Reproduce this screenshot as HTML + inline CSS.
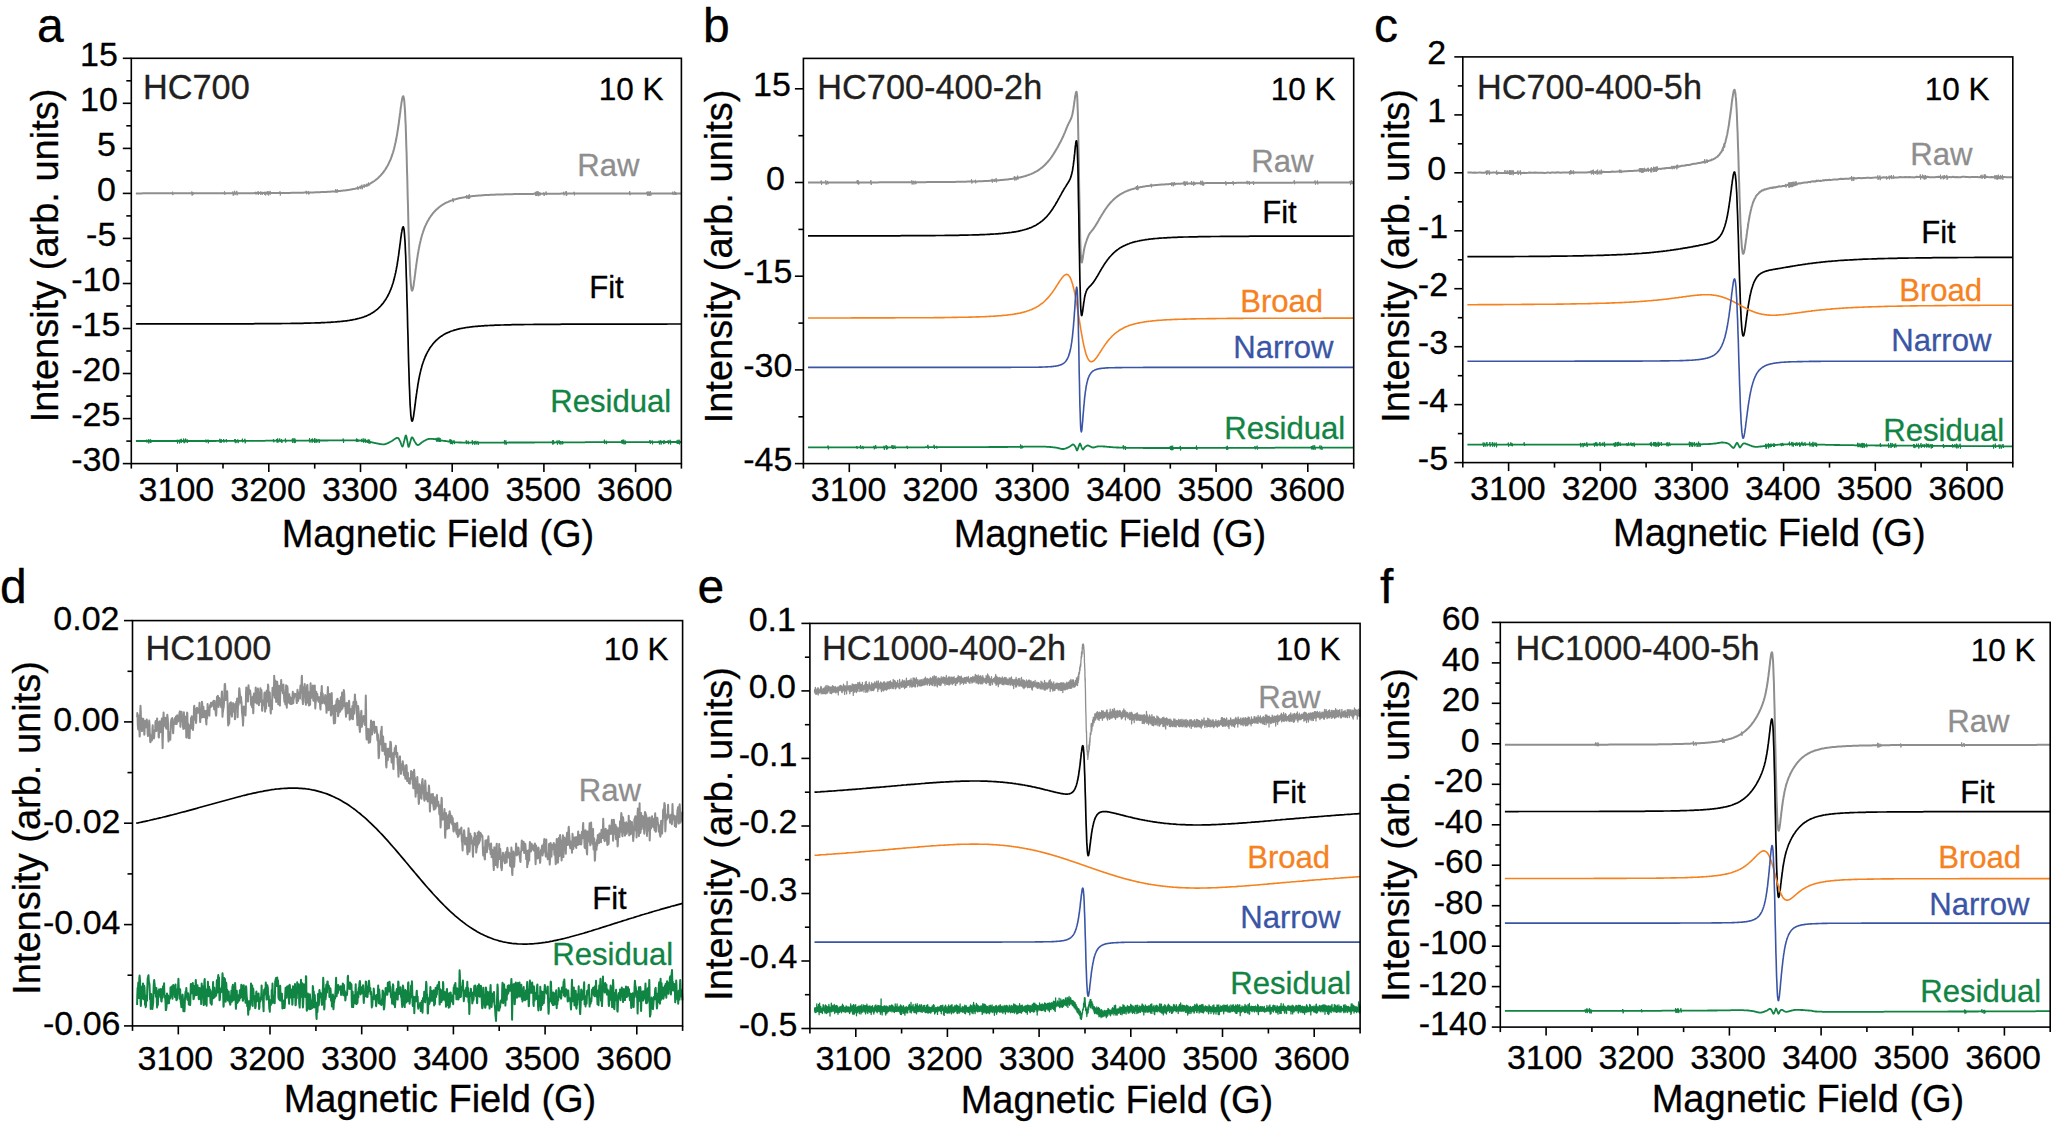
<!DOCTYPE html>
<html><head><meta charset="utf-8"><title>EPR spectra</title><style>html,body{margin:0;padding:0;background:#fff}svg{display:block}text{stroke-width:0.3px;stroke-linejoin:round}</style></head><body>
<svg width="2051" height="1124" viewBox="0 0 2051 1124" font-family='"Liberation Sans", sans-serif'>
<rect width="2051" height="1124" fill="#fff"/>
<g id="panel-a"><path d="M135.9 193.4L137.7 193.4L139.6 193.4L141.4 193.4L143.2 193.3L145.1 193.3L146.9 193.3L148.7 193.3L150.6 193.3L152.4 193.3L154.2 193.3L156.1 193.3L157.9 193.3L159.7 193.3L161.6 193.3L163.4 193.3L165.2 193.3L167.1 193.3L168.9 193.3L170.7 193.3L172.6 193.3L174.4 193.3L176.2 193.3L178.1 193.3L179.9 193.3L181.7 193.3L183.6 193.3L185.4 193.3L187.2 193.3L189.1 193.3L190.9 193.3L192.7 193.3L194.6 193.3L196.4 193.3L198.2 193.3L200.1 193.3L201.9 193.3L203.7 193.3L205.6 193.3L207.4 193.3L209.2 193.3L211.1 193.3L212.9 193.3L214.7 193.3L216.6 193.3L218.4 193.3L220.2 193.3L222.1 193.3L223.9 193.3L225.7 193.2L227.6 193.2L229.4 193.2L231.2 193.2L233.1 193.2L234.9 193.2L236.7 193.2L238.6 193.2L240.4 193.2L242.2 193.2L244.1 193.2L245.9 193.2L247.7 193.2L249.6 193.2L251.4 193.2L253.2 193.2L255.1 193.1L256.9 193.1L258.7 193.1L260.6 193.1L262.4 193.1L264.2 193.1L266.1 193.1L267.9 193.1L269.7 193.1L271.6 193.0L273.4 193.0L275.2 193.0L277.1 193.0L278.9 193.0L280.7 193.0L282.6 192.9L284.4 192.9L286.2 192.9L288.1 192.9L289.9 192.9L291.7 192.8L293.6 192.8L295.4 192.8L297.2 192.8L299.1 192.7L300.9 192.7L302.7 192.7L304.6 192.6L306.4 192.6L308.2 192.5L310.1 192.5L311.9 192.4L313.7 192.4L315.6 192.3L317.4 192.3L318.3 192.2L319.3 192.2L320.2 192.2L321.1 192.1L322.0 192.1L322.9 192.0L323.8 192.0L324.8 192.0L325.7 191.9L326.6 191.9L327.5 191.8L328.4 191.8L329.3 191.7L330.3 191.7L331.2 191.6L332.1 191.6L333.0 191.5L333.9 191.4L334.8 191.4L335.8 191.3L336.7 191.2L337.6 191.1L338.5 191.1L339.4 191.0L340.3 190.9L341.3 190.8L342.2 190.7L343.1 190.6L344.0 190.5L344.9 190.4L345.8 190.3L346.8 190.2L347.7 190.0L348.6 189.9L349.5 189.8L350.4 189.6L351.3 189.5L352.3 189.3L353.2 189.1L354.1 188.9L355.0 188.8L355.9 188.6L356.8 188.3L357.8 188.1L358.7 187.9L359.6 187.6L360.5 187.4L361.4 187.1L362.3 186.8L363.3 186.5L364.2 186.2L365.1 185.8L366.0 185.5L366.9 185.1L367.8 184.7L368.8 184.2L369.7 183.8L370.6 183.3L371.5 182.7L372.0 182.5L372.4 182.2L372.9 181.9L373.3 181.6L373.8 181.3L374.3 181.0L374.7 180.7L375.2 180.3L375.6 180.0L376.1 179.6L376.6 179.2L377.0 178.9L377.5 178.5L377.9 178.1L378.4 177.7L378.8 177.2L379.3 176.8L379.8 176.3L380.2 175.9L380.7 175.4L381.1 174.9L381.6 174.3L382.1 173.8L382.5 173.3L383.0 172.7L383.4 172.1L383.9 171.5L384.3 170.8L384.8 170.2L385.3 169.5L385.7 168.8L386.2 168.1L386.6 167.3L387.1 166.5L387.6 165.7L388.0 164.8L388.5 163.9L388.9 163.0L389.4 162.0L389.8 161.0L390.3 160.0L390.8 158.8L391.2 157.7L391.7 156.4L392.1 155.1L392.6 153.7L393.1 152.2L393.5 150.7L394.0 149.0L394.4 147.2L394.9 145.3L395.1 144.3L395.3 143.3L395.6 142.3L395.8 141.2L396.0 140.0L396.3 138.8L396.5 137.6L396.7 136.4L397.0 135.1L397.2 133.7L397.4 132.4L397.6 130.9L397.9 129.5L398.1 127.9L398.3 126.4L398.6 124.8L398.8 123.1L399.0 121.5L399.2 119.8L399.5 118.0L399.7 116.3L399.9 114.5L400.2 112.7L400.4 110.9L400.6 109.2L400.8 107.4L401.1 105.7L401.3 104.1L401.5 102.5L401.8 101.1L402.0 99.8L402.2 98.6L402.5 97.6L402.7 96.9L402.9 96.4L403.1 96.2L403.4 96.4L403.6 97.0L403.8 97.9L404.1 99.4L404.3 101.4L404.5 103.9L404.7 106.9L405.0 110.6L405.2 114.9L405.4 119.9L405.7 125.4L405.9 131.6L406.1 138.4L406.3 145.7L406.6 153.4L406.8 161.7L407.0 170.2L407.3 179.0L407.5 188.0L407.7 197.0L408.0 206.0L408.2 214.8L408.4 223.5L408.6 231.7L408.9 239.6L409.1 247.0L409.3 253.9L409.6 260.2L409.8 265.9L410.0 270.9L410.2 275.4L410.5 279.2L410.7 282.4L410.9 285.0L411.2 287.1L411.4 288.6L411.6 289.7L411.9 290.3L412.1 290.6L412.3 290.4L412.5 290.0L412.8 289.3L413.0 288.4L413.2 287.3L413.5 286.0L413.7 284.6L413.9 283.0L414.1 281.4L414.4 279.7L414.6 278.0L414.8 276.2L415.1 274.4L415.3 272.7L415.5 270.9L415.7 269.1L416.0 267.4L416.2 265.7L416.4 264.0L416.7 262.3L416.9 260.7L417.1 259.2L417.4 257.6L417.6 256.2L417.8 254.7L418.0 253.3L418.3 252.0L418.5 250.7L418.7 249.4L419.0 248.2L419.2 247.0L419.4 245.9L419.6 244.8L419.9 243.7L420.1 242.7L420.3 241.7L420.6 240.7L421.0 238.8L421.5 237.1L421.9 235.5L422.4 234.0L422.9 232.5L423.3 231.2L423.8 229.9L424.2 228.7L424.7 227.5L425.1 226.4L425.6 225.4L426.1 224.4L426.5 223.4L427.0 222.5L427.4 221.6L427.9 220.8L428.4 220.0L428.8 219.2L429.3 218.4L429.7 217.7L430.2 217.0L430.6 216.4L431.1 215.7L431.6 215.1L432.0 214.5L432.5 213.9L432.9 213.3L433.4 212.8L433.9 212.2L434.3 211.7L434.8 211.2L435.2 210.8L435.7 210.3L436.1 209.8L436.6 209.4L437.1 209.0L437.5 208.6L438.0 208.2L438.4 207.8L438.9 207.4L439.4 207.0L439.8 206.7L440.3 206.3L440.7 206.0L441.2 205.7L441.6 205.4L442.1 205.1L442.6 204.8L443.0 204.5L443.5 204.2L443.9 203.9L444.4 203.7L445.3 203.2L446.2 202.7L447.1 202.3L448.1 201.9L449.0 201.5L449.9 201.1L450.8 200.7L451.7 200.4L452.7 200.1L453.6 199.8L454.5 199.5L455.4 199.2L456.3 199.0L457.2 198.7L458.2 198.5L459.1 198.3L460.0 198.1L460.9 197.9L461.8 197.7L462.7 197.6L463.7 197.4L464.6 197.2L465.5 197.1L466.4 196.9L467.3 196.8L468.2 196.7L469.2 196.6L470.1 196.4L471.0 196.3L471.9 196.2L472.8 196.1L473.7 196.0L474.7 195.9L475.6 195.8L476.5 195.8L477.4 195.7L478.3 195.6L479.2 195.5L480.2 195.5L481.1 195.4L482.0 195.3L482.9 195.3L483.8 195.2L484.7 195.1L485.7 195.1L486.6 195.0L487.5 195.0L488.4 194.9L489.3 194.9L490.2 194.8L491.2 194.8L492.1 194.8L493.0 194.7L493.9 194.7L494.8 194.7L495.7 194.6L496.7 194.6L497.6 194.5L498.5 194.5L499.4 194.5L501.2 194.4L503.1 194.4L504.9 194.3L506.7 194.3L508.6 194.2L510.4 194.2L512.2 194.2L514.1 194.1L515.9 194.1L517.7 194.1L519.6 194.0L521.4 194.0L523.2 194.0L525.1 193.9L526.9 193.9L528.7 193.9L530.6 193.9L532.4 193.9L534.2 193.8L536.1 193.8L537.9 193.8L539.7 193.8L541.6 193.8L543.4 193.8L545.3 193.7L547.1 193.7L548.9 193.7L550.8 193.7L552.6 193.7L554.4 193.7L556.3 193.7L558.1 193.7L559.9 193.7L561.8 193.6L563.6 193.6L565.4 193.6L567.3 193.6L569.1 193.6L570.9 193.6L572.8 193.6L574.6 193.6L576.4 193.6L578.3 193.6L580.1 193.6L581.9 193.6L583.8 193.6L585.6 193.6L587.4 193.6L589.3 193.6L591.1 193.5L592.9 193.5L594.8 193.5L596.6 193.5L598.4 193.5L600.3 193.5L602.1 193.5L603.9 193.5L605.8 193.5L607.6 193.5L609.4 193.5L611.3 193.5L613.1 193.5L614.9 193.5L616.8 193.5L618.6 193.5L620.4 193.5L622.3 193.5L624.1 193.5L625.9 193.5L627.8 193.5L629.6 193.5L631.4 193.5L633.3 193.5L635.1 193.5L636.9 193.5L638.8 193.5L640.6 193.5L642.4 193.5L644.3 193.5L646.1 193.5L647.9 193.5L649.8 193.5L651.6 193.5L653.4 193.5L655.3 193.5L657.1 193.5L658.9 193.5L660.8 193.5L662.6 193.5L664.4 193.5L666.3 193.5L668.1 193.5L669.9 193.5L671.8 193.5L673.6 193.4L675.4 193.4L677.3 193.4L679.1 193.4L680.9 193.4L681.4 193.4" fill="none" stroke="#8E8E8E" stroke-width="2.0" stroke-linejoin="round" stroke-linecap="butt"/>
<path d="M646.6 193.5L647.1 191.8L647.4 195.4L647.9 193.5M648.4 193.5L648.9 191.4L649.2 195.8L649.7 193.5M305.8 192.6L306.3 190.8L306.6 194.2L307.1 192.6M308.0 192.5L308.5 191.1L308.8 194.5L309.3 192.5M279.5 193.0L280.0 191.3L280.3 195.5L280.8 193.0M261.4 193.1L261.9 191.7L262.2 194.9L262.7 193.1M263.8 193.1L264.3 191.8L264.6 194.8L265.1 193.1M264.9 193.1L265.4 191.8L265.7 195.4L266.2 193.1M563.2 193.6L563.7 191.8L564.0 195.3L564.5 193.6M565.8 193.6L566.3 191.3L566.6 195.8L567.1 193.6M257.6 193.1L258.1 191.3L258.4 194.9L258.9 193.1M573.6 193.6L574.1 191.8L574.4 195.4L574.9 193.6M534.9 193.8L535.4 192.0L535.7 195.9L536.2 193.8M537.4 193.8L537.9 191.3L538.2 196.2L538.7 193.8M539.4 193.8L539.9 192.4L540.2 195.4L540.7 193.8M368.0 184.4L368.5 182.5L368.8 186.1L369.3 184.4M629.2 193.5L629.7 191.0L630.0 195.2L630.5 193.5M565.5 193.6L566.0 191.3L566.3 195.6L566.8 193.6M224.0 193.3L224.5 191.3L224.8 194.7L225.3 193.3M543.3 193.8L543.8 192.4L544.1 196.0L544.6 193.8M545.6 193.7L546.1 191.5L546.4 195.1L546.9 193.7M357.2 188.1L357.7 186.4L358.0 189.8L358.5 188.1M359.7 187.5L360.2 185.7L360.5 189.1L361.0 187.5M672.3 193.4L672.8 191.7L673.1 194.9L673.6 193.4M674.2 193.4L674.7 191.4L675.0 195.0L675.5 193.4M675.3 193.4L675.8 192.0L676.1 194.8L676.6 193.4M255.2 193.1L255.7 191.8L256.0 194.6L256.5 193.1M257.5 193.1L258.0 191.7L258.3 194.6L258.8 193.1M259.9 193.1L260.4 191.5L260.7 194.7L261.2 193.1M361.4 187.0L361.9 184.7L362.2 189.3L362.7 187.0M363.7 186.2L364.2 184.2L364.5 187.6L365.0 186.2M366.1 185.2L366.6 183.7L366.9 186.9L367.4 185.2M647.1 193.5L647.6 191.7L647.9 195.9L648.4 193.5M648.6 193.5L649.1 192.1L649.4 195.5L649.9 193.5M650.0 193.5L650.5 191.2L650.8 195.8L651.3 193.5M452.4 200.0L452.9 198.2L453.2 202.2L453.7 200.0M535.8 193.8L536.3 191.4L536.6 196.0L537.1 193.8M537.5 193.8L538.0 191.5L538.3 195.4L538.8 193.8M538.6 193.8L539.1 192.5L539.4 195.4L539.9 193.8M466.1 196.9L466.6 195.1L466.9 198.8L467.4 196.9M467.7 196.7L468.2 195.3L468.5 199.0L469.0 196.7M468.8 196.5L469.3 194.2L469.6 198.7L470.1 196.5M266.8 193.1L267.3 191.1L267.6 194.6L268.1 193.1M267.9 193.1L268.4 191.4L268.7 195.5L269.2 193.1M269.6 193.1L270.1 190.9L270.4 194.5L270.9 193.1M172.0 193.3L172.5 191.7L172.8 195.1L173.3 193.3M192.3 193.3L192.8 192.0L193.1 194.8L193.6 193.3M335.2 191.3L335.7 189.2L336.0 192.9L336.5 191.3M336.8 191.2L337.3 189.3L337.6 192.5L338.1 191.2M191.3 193.3L191.8 191.5L192.1 195.6L192.6 193.3M232.4 193.2L232.9 191.5L233.2 195.7L233.7 193.2M234.2 193.2L234.7 190.8L235.0 195.1L235.5 193.2M236.3 193.2L236.8 190.9L237.1 195.3L237.6 193.2" fill="none" stroke="#8E8E8E" stroke-width="1.0" stroke-linejoin="round"/>
<path d="M135.9 324.0L137.7 323.9L139.6 323.9L141.4 323.9L143.2 323.9L145.1 323.9L146.9 323.9L148.7 323.9L150.6 323.9L152.4 323.9L154.2 323.9L156.1 323.9L157.9 323.9L159.7 323.9L161.6 323.9L163.4 323.9L165.2 323.9L167.1 323.9L168.9 323.9L170.7 323.9L172.6 323.9L174.4 323.9L176.2 323.9L178.1 323.9L179.9 323.9L181.7 323.9L183.6 323.9L185.4 323.9L187.2 323.9L189.1 323.9L190.9 323.9L192.7 323.9L194.6 323.9L196.4 323.9L198.2 323.9L200.1 323.9L201.9 323.9L203.7 323.9L205.6 323.9L207.4 323.9L209.2 323.9L211.1 323.9L212.9 323.9L214.7 323.9L216.6 323.9L218.4 323.9L220.2 323.9L222.1 323.9L223.9 323.8L225.7 323.8L227.6 323.8L229.4 323.8L231.2 323.8L233.1 323.8L234.9 323.8L236.7 323.8L238.6 323.8L240.4 323.8L242.2 323.8L244.1 323.8L245.9 323.8L247.7 323.8L249.6 323.8L251.4 323.8L253.2 323.8L255.1 323.7L256.9 323.7L258.7 323.7L260.6 323.7L262.4 323.7L264.2 323.7L266.1 323.7L267.9 323.7L269.7 323.7L271.6 323.6L273.4 323.6L275.2 323.6L277.1 323.6L278.9 323.6L280.7 323.6L282.6 323.5L284.4 323.5L286.2 323.5L288.1 323.5L289.9 323.5L291.7 323.4L293.6 323.4L295.4 323.4L297.2 323.4L299.1 323.3L300.9 323.3L302.7 323.3L304.6 323.2L306.4 323.2L308.2 323.1L310.1 323.1L311.9 323.0L313.7 323.0L315.6 322.9L317.4 322.9L318.3 322.8L319.3 322.8L320.2 322.8L321.1 322.7L322.0 322.7L322.9 322.6L323.8 322.6L324.8 322.6L325.7 322.5L326.6 322.5L327.5 322.4L328.4 322.4L329.3 322.3L330.3 322.3L331.2 322.2L332.1 322.2L333.0 322.1L333.9 322.0L334.8 322.0L335.8 321.9L336.7 321.8L337.6 321.7L338.5 321.7L339.4 321.6L340.3 321.5L341.3 321.4L342.2 321.3L343.1 321.2L344.0 321.1L344.9 321.0L345.8 320.9L346.8 320.8L347.7 320.6L348.6 320.5L349.5 320.4L350.4 320.2L351.3 320.1L352.3 319.9L353.2 319.7L354.1 319.5L355.0 319.4L355.9 319.2L356.8 318.9L357.8 318.7L358.7 318.5L359.6 318.2L360.5 318.0L361.4 317.7L362.3 317.4L363.3 317.1L364.2 316.8L365.1 316.4L366.0 316.1L366.9 315.7L367.8 315.3L368.8 314.8L369.7 314.4L370.6 313.9L371.5 313.3L372.0 313.1L372.4 312.8L372.9 312.5L373.3 312.2L373.8 311.9L374.3 311.6L374.7 311.3L375.2 310.9L375.6 310.6L376.1 310.2L376.6 309.8L377.0 309.5L377.5 309.1L377.9 308.7L378.4 308.3L378.8 307.8L379.3 307.4L379.8 306.9L380.2 306.5L380.7 306.0L381.1 305.5L381.6 304.9L382.1 304.4L382.5 303.8L383.0 303.3L383.4 302.7L383.9 302.1L384.3 301.4L384.8 300.8L385.3 300.1L385.7 299.4L386.2 298.7L386.6 297.9L387.1 297.1L387.6 296.3L388.0 295.4L388.5 294.5L388.9 293.6L389.4 292.6L389.8 291.6L390.3 290.5L390.8 289.4L391.2 288.2L391.7 287.0L392.1 285.7L392.6 284.3L393.1 282.8L393.5 281.3L394.0 279.6L394.4 277.8L394.9 275.9L395.1 274.9L395.3 273.9L395.6 272.9L395.8 271.8L396.0 270.6L396.3 269.4L396.5 268.2L396.7 267.0L397.0 265.7L397.2 264.3L397.4 263.0L397.6 261.5L397.9 260.1L398.1 258.5L398.3 257.0L398.6 255.4L398.8 253.7L399.0 252.1L399.2 250.4L399.5 248.6L399.7 246.9L399.9 245.1L400.2 243.3L400.4 241.5L400.6 239.8L400.8 238.0L401.1 236.3L401.3 234.7L401.5 233.1L401.8 231.7L402.0 230.4L402.2 229.2L402.5 228.2L402.7 227.5L402.9 227.0L403.1 226.8L403.4 227.0L403.6 227.6L403.8 228.5L404.1 230.0L404.3 232.0L404.5 234.5L404.7 237.5L405.0 241.2L405.2 245.5L405.4 250.5L405.7 256.0L405.9 262.2L406.1 269.0L406.3 276.3L406.6 284.0L406.8 292.3L407.0 300.8L407.3 309.6L407.5 318.6L407.7 327.6L408.0 336.6L408.2 345.4L408.4 354.1L408.6 362.3L408.9 370.2L409.1 377.6L409.3 384.5L409.6 390.8L409.8 396.5L410.0 401.5L410.2 405.9L410.5 409.8L410.7 413.0L410.9 415.6L411.2 417.6L411.4 419.2L411.6 420.3L411.9 420.9L412.1 421.2L412.3 421.0L412.5 420.6L412.8 419.9L413.0 419.0L413.2 417.9L413.5 416.6L413.7 415.2L413.9 413.6L414.1 412.0L414.4 410.3L414.6 408.6L414.8 406.8L415.1 405.0L415.3 403.3L415.5 401.5L415.7 399.7L416.0 398.0L416.2 396.3L416.4 394.6L416.7 392.9L416.9 391.3L417.1 389.8L417.4 388.2L417.6 386.8L417.8 385.3L418.0 383.9L418.3 382.6L418.5 381.3L418.7 380.0L419.0 378.8L419.2 377.6L419.4 376.5L419.6 375.4L419.9 374.3L420.1 373.3L420.3 372.2L420.6 371.3L421.0 369.4L421.5 367.7L421.9 366.1L422.4 364.6L422.9 363.1L423.3 361.8L423.8 360.5L424.2 359.3L424.7 358.1L425.1 357.0L425.6 356.0L426.1 355.0L426.5 354.0L427.0 353.1L427.4 352.2L427.9 351.4L428.4 350.6L428.8 349.8L429.3 349.0L429.7 348.3L430.2 347.6L430.6 347.0L431.1 346.3L431.6 345.7L432.0 345.1L432.5 344.5L432.9 343.9L433.4 343.4L433.9 342.8L434.3 342.3L434.8 341.8L435.2 341.4L435.7 340.9L436.1 340.4L436.6 340.0L437.1 339.6L437.5 339.2L438.0 338.8L438.4 338.4L438.9 338.0L439.4 337.6L439.8 337.3L440.3 336.9L440.7 336.6L441.2 336.3L441.6 336.0L442.1 335.7L442.6 335.4L443.0 335.1L443.5 334.8L443.9 334.5L444.4 334.3L445.3 333.8L446.2 333.3L447.1 332.9L448.1 332.4L449.0 332.1L449.9 331.7L450.8 331.3L451.7 331.0L452.7 330.7L453.6 330.4L454.5 330.1L455.4 329.8L456.3 329.6L457.2 329.3L458.2 329.1L459.1 328.9L460.0 328.7L460.9 328.5L461.8 328.3L462.7 328.2L463.7 328.0L464.6 327.8L465.5 327.7L466.4 327.5L467.3 327.4L468.2 327.3L469.2 327.2L470.1 327.0L471.0 326.9L471.9 326.8L472.8 326.7L473.7 326.6L474.7 326.5L475.6 326.4L476.5 326.4L477.4 326.3L478.3 326.2L479.2 326.1L480.2 326.1L481.1 326.0L482.0 325.9L482.9 325.9L483.8 325.8L484.7 325.7L485.7 325.7L486.6 325.6L487.5 325.6L488.4 325.5L489.3 325.5L490.2 325.4L491.2 325.4L492.1 325.4L493.0 325.3L493.9 325.3L494.8 325.2L495.7 325.2L496.7 325.2L497.6 325.1L498.5 325.1L499.4 325.1L501.2 325.0L503.1 325.0L504.9 324.9L506.7 324.9L508.6 324.8L510.4 324.8L512.2 324.7L514.1 324.7L515.9 324.7L517.7 324.6L519.6 324.6L521.4 324.6L523.2 324.6L525.1 324.5L526.9 324.5L528.7 324.5L530.6 324.5L532.4 324.5L534.2 324.4L536.1 324.4L537.9 324.4L539.7 324.4L541.6 324.4L543.4 324.4L545.3 324.3L547.1 324.3L548.9 324.3L550.8 324.3L552.6 324.3L554.4 324.3L556.3 324.3L558.1 324.3L559.9 324.3L561.8 324.2L563.6 324.2L565.4 324.2L567.3 324.2L569.1 324.2L570.9 324.2L572.8 324.2L574.6 324.2L576.4 324.2L578.3 324.2L580.1 324.2L581.9 324.2L583.8 324.2L585.6 324.2L587.4 324.2L589.3 324.1L591.1 324.1L592.9 324.1L594.8 324.1L596.6 324.1L598.4 324.1L600.3 324.1L602.1 324.1L603.9 324.1L605.8 324.1L607.6 324.1L609.4 324.1L611.3 324.1L613.1 324.1L614.9 324.1L616.8 324.1L618.6 324.1L620.4 324.1L622.3 324.1L624.1 324.1L625.9 324.1L627.8 324.1L629.6 324.1L631.4 324.1L633.3 324.1L635.1 324.1L636.9 324.1L638.8 324.1L640.6 324.1L642.4 324.1L644.3 324.1L646.1 324.1L647.9 324.1L649.8 324.1L651.6 324.1L653.4 324.1L655.3 324.1L657.1 324.1L658.9 324.1L660.8 324.1L662.6 324.1L664.4 324.1L666.3 324.1L668.1 324.0L669.9 324.0L671.8 324.0L673.6 324.0L675.4 324.0L677.3 324.0L679.1 324.0L680.9 324.0L681.4 324.0" fill="none" stroke="#000000" stroke-width="1.7" stroke-linejoin="round" stroke-linecap="butt"/>
<path d="M135.9 441.0L136.4 441.0L136.9 441.0L137.4 441.0L137.9 441.0L138.4 441.0L138.9 441.0L139.4 441.0L139.9 441.0L140.4 441.0L140.9 441.0L141.4 441.0L141.9 441.0L142.4 441.0L142.9 441.0L143.4 441.0L143.9 441.0L144.4 441.0L144.9 441.0L145.4 441.0L145.9 441.0L146.4 441.0L146.9 441.0L147.4 441.0L147.9 441.0L148.4 441.0L148.9 441.0L149.4 441.0L149.9 441.0L150.4 441.0L150.9 441.0L151.4 441.0L151.9 441.0L152.4 441.0L152.9 441.0L153.4 441.0L153.9 441.0L154.4 441.0L154.9 441.0L155.4 441.0L155.9 441.0L156.4 441.0L156.9 441.0L157.4 441.0L157.9 441.0L158.4 441.0L158.9 441.0L159.4 441.0L159.9 441.0L160.4 441.0L160.9 441.0L161.4 441.0L161.9 441.0L162.4 441.0L162.9 441.0L163.4 441.0L163.9 441.0L164.4 441.0L164.9 441.0L165.4 441.0L165.9 441.0L166.4 441.0L166.9 441.0L167.4 441.0L167.9 441.0L168.4 441.0L168.9 441.0L169.4 441.0L169.9 441.0L170.4 441.0L170.9 441.0L171.4 441.0L171.9 441.0L172.4 441.0L172.9 441.0L173.4 441.0L173.9 441.0L174.4 441.0L174.9 441.0L175.4 441.0L175.9 441.0L176.4 441.0L176.9 441.0L177.4 441.0L177.9 441.0L178.4 441.0L178.9 441.0L179.4 441.0L179.9 441.0L180.4 441.0L180.9 441.0L181.4 441.0L181.9 441.0L182.4 441.0L182.9 441.0L183.4 441.0L183.9 441.0L184.4 441.0L184.9 441.0L185.4 441.0L185.9 441.0L186.4 441.0L186.9 441.0L187.4 441.0L187.9 441.0L188.4 441.0L188.9 441.0L189.4 441.0L189.9 441.0L190.4 441.0L190.9 441.0L191.4 441.0L191.9 441.0L192.4 441.0L192.9 441.0L193.4 441.0L193.9 441.0L194.4 441.0L194.9 441.0L195.4 441.0L195.9 441.0L196.4 441.0L196.9 441.0L197.4 441.0L197.9 441.0L198.4 441.0L198.9 441.0L199.4 441.0L199.9 441.0L200.4 441.0L200.9 441.0L201.4 441.0L201.9 441.0L202.4 441.0L202.9 441.0L203.4 441.0L203.9 441.0L204.4 441.0L204.9 441.0L205.4 441.0L205.9 441.0L206.4 441.0L206.9 441.0L207.4 441.0L207.9 441.0L208.4 441.0L208.9 441.0L209.4 441.0L209.9 441.0L210.4 441.0L210.9 441.0L211.4 441.0L211.9 441.0L212.4 441.0L212.9 441.0L213.4 441.0L213.9 441.0L214.4 441.0L214.9 441.0L215.4 441.0L215.9 441.0L216.4 440.9L216.9 440.9L217.4 440.9L217.9 440.9L218.4 440.9L218.9 440.9L219.4 440.9L219.9 440.9L220.4 440.9L220.9 440.9L221.4 440.9L221.9 440.9L222.4 440.9L222.9 440.9L223.4 440.9L223.9 440.9L224.4 440.9L224.9 440.9L225.4 440.9L225.9 440.9L226.4 440.9L226.9 440.9L227.4 440.9L227.9 440.9L228.4 440.9L228.9 440.9L229.4 440.9L229.9 440.9L230.4 440.9L230.9 440.9L231.4 440.9L231.9 440.9L232.4 440.9L232.9 440.9L233.4 440.9L233.9 440.9L234.4 440.9L234.9 440.9L235.4 440.9L235.9 440.9L236.4 440.9L236.9 440.9L237.4 440.9L237.9 440.9L238.4 440.9L238.9 440.9L239.4 440.9L239.9 440.9L240.4 440.9L240.9 440.9L241.4 440.9L241.9 440.9L242.4 440.8L242.9 440.8L243.4 440.8L243.9 440.8L244.4 440.8L244.9 440.8L245.4 440.8L245.9 440.8L246.4 440.8L246.9 440.8L247.4 440.8L247.9 440.8L248.4 440.8L248.9 440.8L249.4 440.8L249.9 440.8L250.4 440.8L250.9 440.8L251.4 440.8L251.9 440.8L252.4 440.8L252.9 440.8L253.4 440.8L253.9 440.8L254.4 440.8L254.9 440.8L255.4 440.8L255.9 440.8L256.4 440.8L256.9 440.8L257.4 440.8L257.9 440.8L258.4 440.8L258.9 440.8L259.4 440.8L259.9 440.8L260.4 440.8L260.9 440.8L261.4 440.8L261.9 440.8L262.4 440.8L262.9 440.8L263.4 440.8L263.9 440.8L264.4 440.8L264.9 440.8L265.4 440.7L265.9 440.7L266.4 440.7L266.9 440.7L267.4 440.7L267.9 440.7L268.4 440.7L268.9 440.7L269.4 440.7L269.9 440.7L270.4 440.7L270.9 440.7L271.4 440.7L271.9 440.7L272.4 440.7L272.9 440.7L273.4 440.7L273.9 440.7L274.4 440.7L274.9 440.7L275.4 440.7L275.9 440.7L276.4 440.7L276.9 440.7L277.4 440.7L277.9 440.7L278.4 440.7L278.9 440.7L279.4 440.7L279.9 440.7L280.4 440.7L280.9 440.7L281.4 440.7L281.9 440.7L282.4 440.7L282.9 440.7L283.4 440.7L283.9 440.7L284.4 440.7L284.9 440.7L285.4 440.7L285.9 440.7L286.4 440.7L286.9 440.7L287.4 440.7L287.9 440.7L288.4 440.6L288.9 440.6L289.4 440.6L289.9 440.6L290.4 440.6L290.9 440.6L291.4 440.6L291.9 440.6L292.4 440.6L292.9 440.6L293.4 440.6L293.9 440.6L294.4 440.6L294.9 440.6L295.4 440.6L295.9 440.6L296.4 440.6L296.9 440.6L297.4 440.6L297.9 440.6L298.4 440.6L298.9 440.6L299.4 440.6L299.9 440.6L300.4 440.6L300.9 440.6L301.4 440.6L301.9 440.6L302.4 440.6L302.9 440.6L303.4 440.6L303.9 440.6L304.4 440.6L304.9 440.6L305.4 440.6L305.9 440.6L306.4 440.6L306.9 440.6L307.4 440.6L307.9 440.6L308.4 440.6L308.9 440.6L309.4 440.6L309.9 440.6L310.4 440.6L310.9 440.5L311.4 440.5L311.9 440.5L312.4 440.5L312.9 440.5L313.4 440.5L313.9 440.5L314.4 440.5L314.9 440.5L315.4 440.5L315.9 440.5L316.4 440.5L316.9 440.5L317.4 440.5L317.9 440.5L318.4 440.5L318.9 440.5L319.4 440.5L319.9 440.5L320.4 440.5L320.9 440.5L321.4 440.5L321.9 440.5L322.4 440.5L322.9 440.5L323.4 440.5L323.9 440.5L324.4 440.5L324.9 440.5L325.4 440.5L325.9 440.5L326.4 440.5L326.9 440.5L327.4 440.5L327.9 440.5L328.4 440.4L328.9 440.4L329.4 440.4L329.9 440.4L330.4 440.4L330.9 440.4L331.4 440.4L331.9 440.4L332.4 440.4L332.9 440.4L333.4 440.4L333.9 440.4L334.4 440.4L334.9 440.4L335.4 440.4L335.9 440.4L336.4 440.4L336.9 440.4L337.4 440.4L337.9 440.4L338.4 440.4L338.9 440.4L339.4 440.4L339.9 440.4L340.4 440.4L340.9 440.4L341.4 440.4L341.9 440.4L342.4 440.4L342.9 440.4L343.4 440.4L343.9 440.4L344.4 440.4L344.9 440.4L345.4 440.4L345.9 440.4L346.4 440.4L346.9 440.4L347.4 440.4L347.9 440.4L348.4 440.4L348.9 440.4L349.4 440.4L349.9 440.4L350.4 440.4L350.9 440.4L351.4 440.4L351.9 440.4L352.4 440.4L352.9 440.4L353.4 440.4L353.9 440.4L354.4 440.4L354.9 440.4L355.4 440.4L355.9 440.5L356.4 440.5L356.9 440.5L357.4 440.5L357.9 440.5L358.4 440.5L358.9 440.5L359.4 440.5L359.9 440.6L360.4 440.6L360.9 440.6L361.4 440.6L361.9 440.7L362.4 440.7L362.9 440.8L363.4 440.8L363.9 440.9L364.4 440.9L364.9 441.0L365.4 441.0L365.9 441.1L366.4 441.2L366.9 441.3L367.4 441.3L367.9 441.4L368.4 441.5L368.9 441.6L369.4 441.7L369.9 441.8L370.4 442.0L370.9 442.1L371.4 442.2L371.9 442.3L372.4 442.4L372.9 442.6L373.4 442.7L373.9 442.8L374.4 442.9L374.9 443.0L375.4 443.1L375.9 443.2L376.4 443.3L376.9 443.4L377.4 443.5L377.9 443.6L378.4 443.7L378.9 443.8L379.4 443.9L379.9 444.0L380.4 444.1L380.9 444.2L381.4 444.2L381.9 444.3L382.4 444.3L382.9 444.3L383.4 444.3L383.9 444.3L384.4 444.3L384.9 444.2L385.4 444.1L385.9 443.9L386.4 443.7L386.9 443.5L387.4 443.3L387.9 443.1L388.4 442.9L388.9 442.6L389.4 442.3L389.9 442.1L390.4 441.8L390.9 441.5L391.4 441.3L391.9 441.0L392.4 440.7L392.9 440.3L393.4 440.0L393.9 439.6L394.4 439.3L394.9 438.9L395.4 438.6L395.9 438.3L396.4 438.1L396.9 437.9L397.4 437.8L397.9 437.9L398.4 438.2L398.9 438.8L399.4 439.8L399.9 440.8L400.4 441.9L400.9 443.3L401.4 444.8L401.9 446.0L402.4 446.6L402.9 446.0L403.4 444.3L403.9 442.1L404.4 440.3L404.9 438.2L405.4 436.3L405.9 435.4L406.4 436.5L406.9 439.0L407.4 441.5L407.9 444.5L408.4 446.8L408.9 446.7L409.4 445.2L409.9 443.2L410.4 441.5L410.9 439.8L411.4 438.0L411.9 437.3L412.4 437.4L412.9 438.1L413.4 439.0L413.9 440.0L414.4 441.0L414.9 441.9L415.4 442.6L415.9 443.4L416.4 444.2L416.9 444.7L417.4 444.9L417.9 445.0L418.4 444.9L418.9 444.7L419.4 444.4L419.9 444.0L420.4 443.6L420.9 443.2L421.4 442.8L421.9 442.4L422.4 442.0L422.9 441.7L423.4 441.3L423.9 441.1L424.4 440.8L424.9 440.5L425.4 440.3L425.9 440.0L426.4 439.7L426.9 439.5L427.4 439.3L427.9 439.2L428.4 439.0L428.9 438.9L429.4 438.9L429.9 438.8L430.4 438.8L430.9 438.8L431.4 438.8L431.9 438.8L432.4 438.9L432.9 438.9L433.4 439.0L433.9 439.1L434.4 439.2L434.9 439.2L435.4 439.3L435.9 439.4L436.4 439.5L436.9 439.6L437.4 439.7L437.9 439.8L438.4 439.9L438.9 440.0L439.4 440.1L439.9 440.2L440.4 440.3L440.9 440.4L441.4 440.5L441.9 440.6L442.4 440.6L442.9 440.7L443.4 440.8L443.9 440.9L444.4 440.9L444.9 441.0L445.4 441.0L445.9 441.1L446.4 441.2L446.9 441.2L447.4 441.3L447.9 441.4L448.4 441.5L448.9 441.6L449.4 441.6L449.9 441.7L450.4 441.8L450.9 441.8L451.4 441.9L451.9 442.0L452.4 442.0L452.9 442.1L453.4 442.1L453.9 442.2L454.4 442.2L454.9 442.2L455.4 442.3L455.9 442.3L456.4 442.3L456.9 442.4L457.4 442.4L457.9 442.4L458.4 442.4L458.9 442.5L459.4 442.5L459.9 442.5L460.4 442.5L460.9 442.5L461.4 442.5L461.9 442.6L462.4 442.6L462.9 442.6L463.4 442.6L463.9 442.6L464.4 442.6L464.9 442.6L465.4 442.6L465.9 442.6L466.4 442.6L466.9 442.7L467.4 442.7L467.9 442.7L468.4 442.7L468.9 442.7L469.4 442.7L469.9 442.7L470.4 442.7L470.9 442.7L471.4 442.7L471.9 442.7L472.4 442.7L472.9 442.7L473.4 442.7L473.9 442.7L474.4 442.7L474.9 442.7L475.4 442.7L475.9 442.7L476.4 442.7L476.9 442.7L477.4 442.7L477.9 442.7L478.4 442.7L478.9 442.7L479.4 442.7L479.9 442.7L480.4 442.7L480.9 442.7L481.4 442.7L481.9 442.7L482.4 442.7L482.9 442.7L483.4 442.7L483.9 442.7L484.4 442.7L484.9 442.7L485.4 442.7L485.9 442.7L486.4 442.7L486.9 442.7L487.4 442.7L487.9 442.7L488.4 442.7L488.9 442.7L489.4 442.7L489.9 442.7L490.4 442.7L490.9 442.7L491.4 442.7L491.9 442.6L492.4 442.6L492.9 442.6L493.4 442.6L493.9 442.6L494.4 442.6L494.9 442.6L495.4 442.6L495.9 442.6L496.4 442.6L496.9 442.6L497.4 442.6L497.9 442.6L498.4 442.6L498.9 442.6L499.4 442.6L499.9 442.6L500.4 442.6L500.9 442.6L501.4 442.6L501.9 442.6L502.4 442.6L502.9 442.6L503.4 442.6L503.9 442.6L504.4 442.6L504.9 442.6L505.4 442.6L505.9 442.6L506.4 442.6L506.9 442.6L507.4 442.6L507.9 442.6L508.4 442.6L508.9 442.5L509.4 442.5L509.9 442.5L510.4 442.5L510.9 442.5L511.4 442.5L511.9 442.5L512.4 442.5L512.9 442.5L513.4 442.5L513.9 442.5L514.4 442.5L514.9 442.5L515.4 442.5L515.9 442.5L516.4 442.5L516.9 442.5L517.4 442.5L517.9 442.5L518.4 442.5L518.9 442.5L519.4 442.5L519.9 442.5L520.4 442.5L520.9 442.5L521.4 442.5L521.9 442.5L522.4 442.5L522.9 442.5L523.4 442.5L523.9 442.5L524.4 442.5L524.9 442.5L525.4 442.5L525.9 442.5L526.4 442.5L526.9 442.5L527.4 442.5L527.9 442.5L528.4 442.5L528.9 442.5L529.4 442.5L529.9 442.5L530.4 442.5L530.9 442.5L531.4 442.5L531.9 442.5L532.4 442.5L532.9 442.5L533.4 442.5L533.9 442.5L534.4 442.5L534.9 442.4L535.4 442.4L535.9 442.4L536.4 442.4L536.9 442.4L537.4 442.4L537.9 442.4L538.4 442.4L538.9 442.4L539.4 442.4L539.9 442.4L540.4 442.4L540.9 442.4L541.4 442.4L541.9 442.4L542.4 442.4L542.9 442.4L543.4 442.4L543.9 442.4L544.4 442.4L544.9 442.4L545.4 442.4L545.9 442.4L546.4 442.4L546.9 442.4L547.4 442.4L547.9 442.4L548.4 442.4L548.9 442.4L549.4 442.4L549.9 442.4L550.4 442.4L550.9 442.4L551.4 442.4L551.9 442.4L552.4 442.4L552.9 442.4L553.4 442.4L553.9 442.4L554.4 442.4L554.9 442.4L555.4 442.4L555.9 442.4L556.4 442.4L556.9 442.4L557.4 442.4L557.9 442.4L558.4 442.4L558.9 442.4L559.4 442.4L559.9 442.4L560.4 442.3L560.9 442.3L561.4 442.3L561.9 442.3L562.4 442.3L562.9 442.3L563.4 442.3L563.9 442.3L564.4 442.3L564.9 442.3L565.4 442.3L565.9 442.3L566.4 442.3L566.9 442.3L567.4 442.3L567.9 442.3L568.4 442.3L568.9 442.3L569.4 442.3L569.9 442.3L570.4 442.3L570.9 442.3L571.4 442.3L571.9 442.3L572.4 442.3L572.9 442.3L573.4 442.3L573.9 442.3L574.4 442.3L574.9 442.3L575.4 442.3L575.9 442.3L576.4 442.3L576.9 442.3L577.4 442.3L577.9 442.3L578.4 442.3L578.9 442.3L579.4 442.3L579.9 442.3L580.4 442.3L580.9 442.3L581.4 442.3L581.9 442.3L582.4 442.3L582.9 442.3L583.4 442.3L583.9 442.3L584.4 442.3L584.9 442.3L585.4 442.2L585.9 442.2L586.4 442.2L586.9 442.2L587.4 442.2L587.9 442.2L588.4 442.2L588.9 442.2L589.4 442.2L589.9 442.2L590.4 442.2L590.9 442.2L591.4 442.2L591.9 442.2L592.4 442.2L592.9 442.2L593.4 442.2L593.9 442.2L594.4 442.2L594.9 442.2L595.4 442.2L595.9 442.2L596.4 442.2L596.9 442.2L597.4 442.2L597.9 442.2L598.4 442.2L598.9 442.2L599.4 442.2L599.9 442.2L600.4 442.2L600.9 442.2L601.4 442.2L601.9 442.2L602.4 442.2L602.9 442.2L603.4 442.2L603.9 442.2L604.4 442.2L604.9 442.2L605.4 442.2L605.9 442.2L606.4 442.2L606.9 442.2L607.4 442.2L607.9 442.2L608.4 442.2L608.9 442.2L609.4 442.2L609.9 442.2L610.4 442.2L610.9 442.2L611.4 442.2L611.9 442.2L612.4 442.2L612.9 442.2L613.4 442.2L613.9 442.2L614.4 442.2L614.9 442.2L615.4 442.2L615.9 442.2L616.4 442.2L616.9 442.2L617.4 442.2L617.9 442.1L618.4 442.1L618.9 442.1L619.4 442.1L619.9 442.1L620.4 442.1L620.9 442.1L621.4 442.1L621.9 442.1L622.4 442.1L622.9 442.1L623.4 442.1L623.9 442.1L624.4 442.1L624.9 442.1L625.4 442.1L625.9 442.1L626.4 442.1L626.9 442.1L627.4 442.1L627.9 442.1L628.4 442.1L628.9 442.1L629.4 442.1L629.9 442.1L630.4 442.1L630.9 442.1L631.4 442.1L631.9 442.1L632.4 442.1L632.9 442.1L633.4 442.1L633.9 442.1L634.4 442.1L634.9 442.1L635.4 442.1L635.9 442.1L636.4 442.1L636.9 442.1L637.4 442.1L637.9 442.1L638.4 442.1L638.9 442.1L639.4 442.1L639.9 442.1L640.4 442.1L640.9 442.1L641.4 442.1L641.9 442.1L642.4 442.1L642.9 442.1L643.4 442.1L643.9 442.1L644.4 442.1L644.9 442.1L645.4 442.1L645.9 442.1L646.4 442.1L646.9 442.1L647.4 442.1L647.9 442.1L648.4 442.1L648.9 442.1L649.4 442.1L649.9 442.1L650.4 442.1L650.9 442.1L651.4 442.1L651.9 442.1L652.4 442.1L652.9 442.1L653.4 442.1L653.9 442.1L654.4 442.1L654.9 442.1L655.4 442.1L655.9 442.1L656.4 442.1L656.9 442.1L657.4 442.1L657.9 442.1L658.4 442.1L658.9 442.1L659.4 442.1L659.9 442.0L660.4 442.0L660.9 442.0L661.4 442.0L661.9 442.0L662.4 442.0L662.9 442.0L663.4 442.0L663.9 442.0L664.4 442.0L664.9 442.0L665.4 442.0L665.9 442.0L666.4 442.0L666.9 442.0L667.4 442.0L667.9 442.0L668.4 442.0L668.9 442.0L669.4 442.0L669.9 442.0L670.4 442.0L670.9 442.0L671.4 442.0L671.9 442.0L672.4 442.0L672.9 442.0L673.4 442.0L673.9 442.0L674.4 442.0L674.9 442.0L675.4 442.0L675.9 442.0L676.4 442.0L676.9 442.0L677.4 442.0L677.9 442.0L678.4 442.0L678.9 442.0L679.4 442.0L679.9 442.0L680.4 442.0L680.9 442.0L681.4 442.0" fill="none" stroke="#108443" stroke-width="1.8" stroke-linejoin="round"/>
<path d="M471.8 442.7L472.3 440.2L472.6 444.6L473.1 442.7M473.8 442.7L474.3 441.0L474.6 444.6L475.1 442.7M475.4 442.7L475.9 440.8L476.2 444.4L476.7 442.7M477.4 442.7L477.9 441.2L478.2 444.9L478.7 442.7M449.6 441.7L450.1 439.5L450.4 444.1L450.9 441.7M451.0 441.9L451.5 439.9L451.8 443.3L452.3 441.9M146.2 441.0L146.7 439.7L147.0 442.5L147.5 441.0M148.0 441.0L148.5 439.4L148.8 443.4L149.3 441.0M149.7 441.0L150.2 439.3L150.5 443.0L151.0 441.0M437.3 439.8L437.8 437.7L438.1 441.3L438.6 439.8M438.5 440.0L439.0 437.6L439.3 441.8L439.8 440.0M439.6 440.2L440.1 438.0L440.4 441.8L440.9 440.2M660.3 442.0L660.8 440.2L661.1 444.5L661.6 442.0M662.8 442.0L663.3 440.5L663.6 444.1L664.1 442.0M664.0 442.0L664.5 440.5L664.8 443.6L665.3 442.0M356.0 440.5L356.5 438.6L356.8 442.0L357.3 440.5M357.1 440.5L357.6 438.9L357.9 441.8L358.4 440.5M150.2 441.0L150.7 439.7L151.0 442.5L151.5 441.0M273.0 440.7L273.5 439.2L273.8 442.3L274.3 440.7M649.5 442.1L650.0 440.0L650.3 443.8L650.8 442.1M651.7 442.1L652.2 440.5L652.5 444.3L653.0 442.1M621.3 442.1L621.8 440.1L622.1 443.8L622.6 442.1M622.3 442.1L622.8 439.7L623.1 443.9L623.6 442.1M623.3 442.1L623.8 439.7L624.1 444.4L624.6 442.1M624.7 442.1L625.2 440.5L625.5 444.2L626.0 442.1M205.4 441.0L205.9 439.6L206.2 442.5L206.7 441.0M207.5 441.0L208.0 439.6L208.3 443.3L208.8 441.0M183.5 441.0L184.0 439.5L184.3 443.2L184.8 441.0M185.1 441.0L185.6 438.6L185.9 442.4L186.4 441.0M186.6 441.0L187.1 439.3L187.4 443.0L187.9 441.0M667.7 442.0L668.2 440.2L668.5 444.1L669.0 442.0M669.7 442.0L670.2 439.8L670.5 444.5L671.0 442.0M176.7 441.0L177.2 439.7L177.5 443.5L178.0 441.0M178.7 441.0L179.2 439.7L179.5 443.4L180.0 441.0M180.7 441.0L181.2 438.8L181.5 442.5L182.0 441.0M183.1 441.0L183.6 438.6L183.9 442.7L184.4 441.0M361.0 440.7L361.5 438.9L361.8 442.1L362.3 440.7M552.0 442.4L552.5 440.4L552.8 444.6L553.3 442.4M553.0 442.4L553.5 440.3L553.8 444.1L554.3 442.4M180.2 441.0L180.7 439.6L181.0 442.6L181.5 441.0M603.9 442.2L604.4 439.7L604.7 443.8L605.2 442.2M605.7 442.2L606.2 440.7L606.5 444.1L607.0 442.2M362.7 440.8L363.2 438.4L363.5 442.6L364.0 440.8M364.5 441.0L365.0 438.7L365.3 442.6L365.8 441.0M558.6 442.4L559.1 440.2L559.4 444.2L559.9 442.4M560.1 442.3L560.6 441.0L560.9 444.6L561.4 442.3M561.9 442.3L562.4 441.0L562.7 444.3L563.2 442.3M435.7 439.5L436.2 437.9L436.5 441.5L437.0 439.5M437.1 439.7L437.6 438.4L437.9 441.7L438.4 439.7M438.3 440.0L438.8 438.5L439.1 441.4L439.6 440.0M241.9 440.8L242.4 438.7L242.7 442.3L243.2 440.8M244.4 440.8L244.9 438.8L245.2 443.3L245.7 440.8M556.6 442.4L557.1 440.5L557.4 444.6L557.9 442.4M276.2 440.7L276.7 439.1L277.0 442.5L277.5 440.7M277.2 440.7L277.7 438.4L278.0 442.6L278.5 440.7M279.2 440.7L279.7 438.5L280.0 442.1L280.5 440.7M281.0 440.7L281.5 439.1L281.8 443.0L282.3 440.7M465.8 442.6L466.3 440.3L466.6 444.1L467.1 442.6M467.7 442.7L468.2 440.8L468.5 444.2L469.0 442.7M291.9 440.6L292.4 438.5L292.7 443.0L293.2 440.6M293.5 440.6L294.0 438.2L294.3 443.1L294.8 440.6M294.5 440.6L295.0 438.7L295.3 442.8L295.8 440.6M676.4 442.0L676.9 440.5L677.2 444.0L677.7 442.0M677.5 442.0L678.0 439.8L678.3 443.8L678.8 442.0M678.7 442.0L679.2 439.8L679.5 444.4L680.0 442.0M312.0 440.5L312.5 438.6L312.8 442.1L313.3 440.5M314.3 440.5L314.8 438.0L315.1 442.4L315.6 440.5M315.9 440.5L316.4 439.1L316.7 442.5L317.2 440.5M318.4 440.5L318.9 439.1L319.2 443.0L319.7 440.5M309.1 440.6L309.6 438.2L309.9 442.6L310.4 440.6M311.3 440.5L311.8 438.9L312.1 442.7L312.6 440.5M313.9 440.5L314.4 439.1L314.7 443.0L315.2 440.5M316.2 440.5L316.7 438.9L317.0 442.2L317.5 440.5M342.7 440.4L343.2 438.6L343.5 442.9L344.0 440.4M504.0 442.6L504.5 440.2L504.8 444.4L505.3 442.6M505.4 442.6L505.9 440.4L506.2 444.7L506.7 442.6M449.7 441.7L450.2 439.3L450.5 443.8L451.0 441.7M450.6 441.9L451.1 439.9L451.4 443.8L451.9 441.9M451.6 442.0L452.1 440.6L452.4 444.3L452.9 442.0M453.5 442.2L454.0 440.2L454.3 444.1L454.8 442.2M365.1 441.1L365.6 439.3L365.9 442.6L366.4 441.1M366.7 441.3L367.2 439.9L367.5 443.0L368.0 441.3M367.8 441.5L368.3 439.4L368.6 443.3L369.1 441.5M369.1 441.8L369.6 439.7L369.9 443.8L370.4 441.8M234.2 440.9L234.7 439.2L235.0 442.4L235.5 440.9M235.1 440.9L235.6 439.3L235.9 443.2L236.4 440.9M237.3 440.9L237.8 439.4L238.1 443.1L238.6 440.9M219.3 440.9L219.8 438.8L220.1 442.9L220.6 440.9M220.7 440.9L221.2 439.1L221.5 442.6L222.0 440.9M223.2 440.9L223.7 439.0L224.0 442.5L224.5 440.9M225.8 440.9L226.3 439.1L226.6 442.3L227.1 440.9M284.9 440.7L285.4 438.5L285.7 442.5L286.2 440.7M658.6 442.1L659.1 440.6L659.4 444.4L659.9 442.1" fill="none" stroke="#108443" stroke-width="1.0" stroke-linejoin="round"/>
<line x1="177.1" y1="463.6" x2="177.1" y2="472.1" stroke="#000" stroke-width="1.6"/>
<text x="176.4" y="501.4" font-size="34" text-anchor="middle" fill="#000" stroke="#000">3100</text>
<line x1="268.8" y1="463.6" x2="268.8" y2="472.1" stroke="#000" stroke-width="1.6"/>
<text x="268.1" y="501.4" font-size="34" text-anchor="middle" fill="#000" stroke="#000">3200</text>
<line x1="360.5" y1="463.6" x2="360.5" y2="472.1" stroke="#000" stroke-width="1.6"/>
<text x="359.8" y="501.4" font-size="34" text-anchor="middle" fill="#000" stroke="#000">3300</text>
<line x1="452.2" y1="463.6" x2="452.2" y2="472.1" stroke="#000" stroke-width="1.6"/>
<text x="451.5" y="501.4" font-size="34" text-anchor="middle" fill="#000" stroke="#000">3400</text>
<line x1="543.9" y1="463.6" x2="543.9" y2="472.1" stroke="#000" stroke-width="1.6"/>
<text x="543.2" y="501.4" font-size="34" text-anchor="middle" fill="#000" stroke="#000">3500</text>
<line x1="635.6" y1="463.6" x2="635.6" y2="472.1" stroke="#000" stroke-width="1.6"/>
<text x="634.9" y="501.4" font-size="34" text-anchor="middle" fill="#000" stroke="#000">3600</text>
<line x1="131.3" y1="463.6" x2="131.3" y2="468.6" stroke="#000" stroke-width="1.6"/>
<line x1="223.0" y1="463.6" x2="223.0" y2="468.6" stroke="#000" stroke-width="1.6"/>
<line x1="314.7" y1="463.6" x2="314.7" y2="468.6" stroke="#000" stroke-width="1.6"/>
<line x1="406.3" y1="463.6" x2="406.3" y2="468.6" stroke="#000" stroke-width="1.6"/>
<line x1="498.0" y1="463.6" x2="498.0" y2="468.6" stroke="#000" stroke-width="1.6"/>
<line x1="589.7" y1="463.6" x2="589.7" y2="468.6" stroke="#000" stroke-width="1.6"/>
<line x1="681.4" y1="463.6" x2="681.4" y2="468.6" stroke="#000" stroke-width="1.6"/>
<line x1="122.8" y1="58.3" x2="131.3" y2="58.3" stroke="#000" stroke-width="1.6"/>
<text x="117.8" y="65.5" font-size="34" text-anchor="end" fill="#000" stroke="#000">15</text>
<line x1="122.8" y1="103.3" x2="131.3" y2="103.3" stroke="#000" stroke-width="1.6"/>
<text x="117.8" y="110.5" font-size="34" text-anchor="end" fill="#000" stroke="#000">10</text>
<line x1="122.8" y1="148.4" x2="131.3" y2="148.4" stroke="#000" stroke-width="1.6"/>
<text x="115.8" y="155.6" font-size="34" text-anchor="end" fill="#000" stroke="#000">5</text>
<line x1="122.8" y1="193.4" x2="131.3" y2="193.4" stroke="#000" stroke-width="1.6"/>
<text x="115.8" y="200.6" font-size="34" text-anchor="end" fill="#000" stroke="#000">0</text>
<line x1="122.8" y1="238.4" x2="131.3" y2="238.4" stroke="#000" stroke-width="1.6"/>
<text x="116.3" y="245.6" font-size="34" text-anchor="end" fill="#000" stroke="#000">-5</text>
<line x1="122.8" y1="283.5" x2="131.3" y2="283.5" stroke="#000" stroke-width="1.6"/>
<text x="120.3" y="290.7" font-size="34" text-anchor="end" fill="#000" stroke="#000">-10</text>
<line x1="122.8" y1="328.5" x2="131.3" y2="328.5" stroke="#000" stroke-width="1.6"/>
<text x="120.3" y="335.7" font-size="34" text-anchor="end" fill="#000" stroke="#000">-15</text>
<line x1="122.8" y1="373.5" x2="131.3" y2="373.5" stroke="#000" stroke-width="1.6"/>
<text x="120.3" y="380.7" font-size="34" text-anchor="end" fill="#000" stroke="#000">-20</text>
<line x1="122.8" y1="418.6" x2="131.3" y2="418.6" stroke="#000" stroke-width="1.6"/>
<text x="120.3" y="425.8" font-size="34" text-anchor="end" fill="#000" stroke="#000">-25</text>
<line x1="122.8" y1="463.6" x2="131.3" y2="463.6" stroke="#000" stroke-width="1.6"/>
<text x="120.3" y="470.8" font-size="34" text-anchor="end" fill="#000" stroke="#000">-30</text>
<line x1="126.3" y1="80.8" x2="131.3" y2="80.8" stroke="#000" stroke-width="1.6"/>
<line x1="126.3" y1="125.8" x2="131.3" y2="125.8" stroke="#000" stroke-width="1.6"/>
<line x1="126.3" y1="170.9" x2="131.3" y2="170.9" stroke="#000" stroke-width="1.6"/>
<line x1="126.3" y1="215.9" x2="131.3" y2="215.9" stroke="#000" stroke-width="1.6"/>
<line x1="126.3" y1="260.9" x2="131.3" y2="260.9" stroke="#000" stroke-width="1.6"/>
<line x1="126.3" y1="306.0" x2="131.3" y2="306.0" stroke="#000" stroke-width="1.6"/>
<line x1="126.3" y1="351.0" x2="131.3" y2="351.0" stroke="#000" stroke-width="1.6"/>
<line x1="126.3" y1="396.1" x2="131.3" y2="396.1" stroke="#000" stroke-width="1.6"/>
<line x1="126.3" y1="441.1" x2="131.3" y2="441.1" stroke="#000" stroke-width="1.6"/>
<rect x="131.3" y="58.3" width="550.1" height="405.3" fill="none" stroke="#000" stroke-width="1.6"/>
<text x="37.0" y="42.0" font-size="48" text-anchor="start" fill="#000" stroke="#000">a</text>
<text x="143.0" y="99.3" font-size="34.3" text-anchor="start" fill="#231F20" stroke="#231F20">HC700</text>
<text x="663.6" y="100.0" font-size="31.5" text-anchor="end" fill="#000" stroke="#000">10 K</text>
<text x="577.2" y="176.0" font-size="31.1" text-anchor="start" fill="#8E8E8E" stroke="#8E8E8E">Raw</text>
<text x="589.2" y="298.0" font-size="31.1" text-anchor="start" fill="#000" stroke="#000">Fit</text>
<text x="550.2" y="412.0" font-size="31.1" text-anchor="start" fill="#108443" stroke="#108443">Residual</text>
<text transform="translate(58.0 255.5) rotate(-90)" font-size="38" text-anchor="middle" fill="#000" stroke="#000">Intensity (arb. units)</text>
<text x="438.0" y="547.0" font-size="38" text-anchor="middle" fill="#000" stroke="#000">Magnetic Field (G)</text></g>
<g id="panel-b"><path d="M808.0 182.4L809.8 182.4L811.7 182.4L813.5 182.4L815.3 182.4L817.2 182.4L819.0 182.4L820.8 182.4L822.7 182.4L824.5 182.4L826.3 182.4L828.2 182.4L830.0 182.4L831.8 182.4L833.7 182.4L835.5 182.4L837.3 182.4L839.2 182.4L841.0 182.4L842.8 182.4L844.7 182.4L846.5 182.4L848.3 182.4L850.2 182.4L852.0 182.4L853.8 182.4L855.7 182.4L857.5 182.4L859.3 182.4L861.2 182.4L863.0 182.4L864.9 182.4L866.7 182.4L868.5 182.4L870.4 182.4L872.2 182.4L874.0 182.4L875.9 182.4L877.7 182.4L879.5 182.3L881.4 182.3L883.2 182.3L885.0 182.3L886.9 182.3L888.7 182.3L890.5 182.3L892.4 182.3L894.2 182.3L896.0 182.3L897.9 182.3L899.7 182.3L901.5 182.3L903.4 182.3L905.2 182.3L907.0 182.3L908.9 182.2L910.7 182.2L912.5 182.2L914.4 182.2L916.2 182.2L918.0 182.2L919.9 182.2L921.7 182.2L923.5 182.2L925.4 182.2L927.2 182.1L929.1 182.1L930.9 182.1L932.7 182.1L934.6 182.1L936.4 182.1L938.2 182.1L940.1 182.0L941.9 182.0L943.7 182.0L945.6 182.0L947.4 182.0L949.2 181.9L951.1 181.9L952.9 181.9L954.7 181.9L956.6 181.8L958.4 181.8L960.2 181.8L962.1 181.7L963.9 181.7L965.7 181.7L967.6 181.6L969.4 181.6L971.2 181.5L973.1 181.5L974.9 181.4L976.7 181.4L978.6 181.3L980.4 181.2L982.2 181.2L984.1 181.1L985.9 181.0L987.8 180.9L989.6 180.8L990.5 180.8L991.4 180.7L992.3 180.7L993.3 180.6L994.2 180.6L995.1 180.5L996.0 180.4L996.9 180.4L997.8 180.3L998.8 180.2L999.7 180.2L1000.6 180.1L1001.5 180.0L1002.4 179.9L1003.3 179.8L1004.3 179.8L1005.2 179.7L1006.1 179.6L1007.0 179.5L1007.9 179.4L1008.8 179.2L1009.8 179.1L1010.7 179.0L1011.6 178.9L1012.5 178.8L1013.4 178.6L1014.3 178.5L1015.3 178.3L1016.2 178.2L1017.1 178.0L1018.0 177.8L1018.9 177.6L1019.9 177.4L1020.8 177.2L1021.7 177.0L1022.6 176.8L1023.5 176.5L1024.4 176.3L1025.4 176.0L1026.3 175.7L1027.2 175.4L1028.1 175.1L1029.0 174.8L1029.9 174.4L1030.9 174.1L1031.8 173.7L1032.7 173.3L1033.6 172.9L1034.5 172.4L1035.4 171.9L1036.4 171.4L1037.3 170.9L1038.2 170.3L1039.1 169.7L1040.0 169.0L1040.9 168.3L1041.9 167.6L1042.8 166.9L1043.7 166.0L1044.2 165.6L1044.6 165.2L1045.1 164.7L1045.5 164.3L1046.0 163.8L1046.4 163.3L1046.9 162.8L1047.4 162.3L1047.8 161.8L1048.3 161.3L1048.7 160.7L1049.2 160.1L1049.7 159.6L1050.1 159.0L1050.6 158.3L1051.0 157.7L1051.5 157.1L1052.0 156.4L1052.4 155.7L1052.9 155.1L1053.3 154.4L1053.8 153.6L1054.2 152.9L1054.7 152.2L1055.2 151.4L1055.6 150.6L1056.1 149.9L1056.5 149.1L1057.0 148.3L1057.5 147.5L1057.9 146.6L1058.4 145.8L1058.8 145.0L1059.3 144.1L1059.7 143.2L1060.2 142.4L1060.7 141.5L1061.1 140.6L1061.6 139.7L1062.0 138.7L1062.5 137.8L1063.0 136.8L1063.4 135.8L1063.9 134.7L1064.3 133.7L1064.8 132.6L1065.3 131.4L1065.7 130.3L1066.2 129.2L1066.6 128.0L1067.1 126.9L1067.3 126.4L1067.5 125.8L1067.8 125.3L1068.0 124.8L1068.2 124.3L1068.5 123.8L1068.7 123.4L1068.9 122.9L1069.1 122.4L1069.4 122.0L1069.6 121.6L1069.8 121.1L1070.1 120.7L1070.3 120.2L1070.5 119.7L1070.8 119.2L1071.0 118.7L1071.2 118.1L1071.4 117.5L1071.7 116.8L1071.9 116.0L1072.1 115.2L1072.4 114.3L1072.6 113.2L1072.8 112.1L1073.0 110.9L1073.3 109.5L1073.5 108.1L1073.7 106.5L1074.0 104.9L1074.2 103.2L1074.4 101.5L1074.7 99.9L1074.9 98.3L1075.1 96.9L1075.3 95.5L1075.6 94.3L1075.8 93.2L1076.0 92.4L1076.3 91.8L1076.5 91.7L1076.7 92.3L1076.9 93.8L1077.2 96.5L1077.4 100.7L1077.6 106.6L1077.9 114.3L1078.1 123.7L1078.3 134.9L1078.5 147.4L1078.8 160.9L1079.0 174.9L1079.2 189.0L1079.5 202.5L1079.7 215.2L1079.9 226.5L1080.2 236.3L1080.4 244.4L1080.6 250.9L1080.8 255.7L1081.1 259.1L1081.3 261.2L1081.5 262.3L1081.8 262.5L1082.0 262.1L1082.2 261.2L1082.4 259.9L1082.7 258.5L1082.9 257.0L1083.1 255.4L1083.4 253.9L1083.6 252.4L1083.8 251.1L1084.1 249.8L1084.3 248.6L1084.5 247.6L1084.7 246.6L1085.0 245.7L1085.2 244.9L1085.4 244.1L1085.7 243.3L1085.9 242.6L1086.1 242.0L1086.3 241.3L1086.6 240.6L1086.8 240.0L1087.0 239.4L1087.3 238.7L1087.5 238.1L1087.7 237.5L1088.0 237.0L1088.2 236.4L1088.4 235.9L1088.6 235.4L1088.9 235.0L1089.1 234.5L1089.3 234.1L1089.6 233.7L1089.8 233.4L1090.0 233.1L1090.2 232.7L1090.5 232.4L1090.7 232.2L1090.9 231.9L1091.2 231.6L1091.4 231.3L1091.6 231.0L1091.8 230.8L1092.1 230.5L1092.3 230.2L1092.8 229.6L1093.2 229.0L1093.7 228.4L1094.1 227.7L1094.6 227.0L1095.1 226.3L1095.5 225.6L1096.0 224.9L1096.4 224.1L1096.9 223.4L1097.4 222.6L1097.8 221.8L1098.3 221.0L1098.7 220.2L1099.2 219.4L1099.6 218.6L1100.1 217.8L1100.6 217.0L1101.0 216.3L1101.5 215.5L1101.9 214.7L1102.4 214.0L1102.9 213.2L1103.3 212.5L1103.8 211.8L1104.2 211.0L1104.7 210.3L1105.1 209.7L1105.6 209.0L1106.1 208.3L1106.5 207.7L1107.0 207.1L1107.4 206.4L1107.9 205.8L1108.4 205.3L1108.8 204.7L1109.3 204.1L1109.7 203.6L1110.2 203.0L1110.7 202.5L1111.1 202.0L1111.6 201.5L1112.0 201.1L1112.5 200.6L1112.9 200.1L1113.4 199.7L1113.9 199.3L1114.3 198.8L1114.8 198.4L1115.2 198.1L1115.7 197.7L1116.2 197.3L1117.1 196.6L1118.0 195.9L1118.9 195.3L1119.8 194.7L1120.7 194.1L1121.7 193.6L1122.6 193.0L1123.5 192.6L1124.4 192.1L1125.3 191.7L1126.2 191.3L1127.2 190.9L1128.1 190.5L1129.0 190.2L1129.9 189.9L1130.8 189.5L1131.7 189.3L1132.7 189.0L1133.6 188.7L1134.5 188.5L1135.4 188.2L1136.3 188.0L1137.2 187.8L1138.2 187.6L1139.1 187.4L1140.0 187.2L1140.9 187.0L1141.8 186.9L1142.8 186.7L1143.7 186.5L1144.6 186.4L1145.5 186.3L1146.4 186.1L1147.3 186.0L1148.3 185.9L1149.2 185.8L1150.1 185.7L1151.0 185.5L1151.9 185.4L1152.8 185.3L1153.8 185.3L1154.7 185.2L1155.6 185.1L1156.5 185.0L1157.4 184.9L1158.3 184.8L1159.3 184.8L1160.2 184.7L1161.1 184.6L1162.0 184.6L1162.9 184.5L1163.8 184.5L1164.8 184.4L1165.7 184.3L1166.6 184.3L1167.5 184.2L1168.4 184.2L1169.3 184.1L1170.3 184.1L1171.2 184.1L1173.0 184.0L1174.9 183.9L1176.7 183.8L1178.5 183.8L1180.4 183.7L1182.2 183.6L1184.0 183.6L1185.9 183.5L1187.7 183.5L1189.5 183.4L1191.4 183.4L1193.2 183.4L1195.0 183.3L1196.9 183.3L1198.7 183.2L1200.5 183.2L1202.4 183.2L1204.2 183.2L1206.0 183.1L1207.9 183.1L1209.7 183.1L1211.5 183.1L1213.4 183.0L1215.2 183.0L1217.0 183.0L1218.9 183.0L1220.7 183.0L1222.5 182.9L1224.4 182.9L1226.2 182.9L1228.0 182.9L1229.9 182.9L1231.7 182.9L1233.6 182.9L1235.4 182.9L1237.2 182.8L1239.1 182.8L1240.9 182.8L1242.7 182.8L1244.6 182.8L1246.4 182.8L1248.2 182.8L1250.1 182.8L1251.9 182.8L1253.7 182.8L1255.6 182.8L1257.4 182.7L1259.2 182.7L1261.1 182.7L1262.9 182.7L1264.7 182.7L1266.6 182.7L1268.4 182.7L1270.2 182.7L1272.1 182.7L1273.9 182.7L1275.7 182.7L1277.6 182.7L1279.4 182.7L1281.2 182.7L1283.1 182.7L1284.9 182.7L1286.7 182.7L1288.6 182.7L1290.4 182.7L1292.2 182.7L1294.1 182.6L1295.9 182.6L1297.8 182.6L1299.6 182.6L1301.4 182.6L1303.3 182.6L1305.1 182.6L1306.9 182.6L1308.8 182.6L1310.6 182.6L1312.4 182.6L1314.3 182.6L1316.1 182.6L1317.9 182.6L1319.8 182.6L1321.6 182.6L1323.4 182.6L1325.3 182.6L1327.1 182.6L1328.9 182.6L1330.8 182.6L1332.6 182.6L1334.4 182.6L1336.3 182.6L1338.1 182.6L1339.9 182.6L1341.8 182.6L1343.6 182.6L1345.4 182.6L1347.3 182.6L1349.1 182.6L1350.9 182.6L1352.8 182.6L1353.7 182.6" fill="none" stroke="#8E8E8E" stroke-width="2.0" stroke-linejoin="round" stroke-linecap="butt"/>
<path d="M820.7 182.4L821.2 180.5L821.5 184.8L822.0 182.4M1200.2 183.2L1200.7 180.8L1201.0 185.1L1201.5 183.2M1201.7 183.2L1202.2 180.7L1202.5 185.4L1203.0 183.2M1202.8 183.2L1203.3 181.8L1203.6 185.5L1204.1 183.2M991.6 180.7L992.1 178.8L992.4 182.6L992.9 180.7M993.6 180.6L994.1 179.2L994.4 182.0L994.9 180.6M995.6 180.4L996.1 178.1L996.4 182.4L996.9 180.4M1314.6 182.6L1315.1 180.5L1315.4 184.6L1315.9 182.6M1316.9 182.6L1317.4 180.5L1317.7 184.4L1318.2 182.6M870.4 182.4L870.9 180.2L871.2 184.9L871.7 182.4M1170.9 184.0L1171.4 182.5L1171.7 186.1L1172.2 184.0M1172.5 184.0L1173.0 182.2L1173.3 186.3L1173.8 184.0M1174.1 183.9L1174.6 182.1L1174.9 185.3L1175.4 183.9M1252.8 182.8L1253.3 181.3L1253.6 184.9L1254.1 182.8M1184.4 183.6L1184.9 182.1L1185.2 185.9L1185.7 183.6M1186.5 183.5L1187.0 181.3L1187.3 185.0L1187.8 183.5M1349.7 182.6L1350.2 180.9L1350.5 185.1L1351.0 182.6M1350.9 182.6L1351.4 180.2L1351.7 183.9L1352.2 182.6M1352.0 182.6L1352.5 181.3L1352.8 184.2L1353.3 182.6M1225.2 182.9L1225.7 181.3L1226.0 185.3L1226.5 182.9M971.1 181.5L971.6 179.2L971.9 183.5L972.4 181.5M974.9 181.4L975.4 179.8L975.7 183.3L976.2 181.4M1135.9 188.0L1136.4 186.0L1136.7 189.9L1137.2 188.0M1137.1 187.7L1137.6 185.3L1137.9 190.2L1138.4 187.7M1150.7 185.5L1151.2 183.8L1151.5 187.4L1152.0 185.5M911.3 182.2L911.8 180.3L912.1 184.5L912.6 182.2M913.1 182.2L913.6 180.8L913.9 184.5L914.4 182.2M915.0 182.2L915.5 180.8L915.8 184.2L916.3 182.2M1232.6 182.9L1233.1 181.1L1233.4 185.2L1233.9 182.9M1293.8 182.6L1294.3 180.2L1294.6 184.2L1295.1 182.6M1191.0 183.4L1191.5 181.2L1191.8 185.0L1192.3 183.4M1192.9 183.3L1193.4 181.6L1193.7 185.7L1194.2 183.3M1194.0 183.3L1194.5 181.9L1194.8 185.0L1195.3 183.3M857.0 182.4L857.5 180.7L857.8 184.1L858.3 182.4M857.9 182.4L858.4 180.5L858.7 184.6L859.2 182.4M1246.6 182.8L1247.1 180.8L1247.4 184.2L1247.9 182.8M1248.6 182.8L1249.1 181.1L1249.4 184.9L1249.9 182.8M1013.9 178.5L1014.4 176.2L1014.7 180.5L1015.2 178.5M1015.3 178.2L1015.8 176.7L1016.1 180.3L1016.6 178.2M1017.1 177.9L1017.6 175.6L1017.9 179.7L1018.4 177.9M856.8 182.4L857.3 180.1L857.6 184.0L858.1 182.4M825.3 182.4L825.8 180.3L826.1 184.8L826.6 182.4M827.1 182.4L827.6 180.9L827.9 184.3L828.4 182.4M1183.4 183.6L1183.9 181.5L1184.2 185.3L1184.7 183.6M1184.4 183.6L1184.9 181.2L1185.2 185.3L1185.7 183.6" fill="none" stroke="#8E8E8E" stroke-width="1.0" stroke-linejoin="round"/>
<path d="M808.0 235.9L809.8 235.9L811.7 235.9L813.5 235.9L815.3 235.9L817.2 235.9L819.0 235.9L820.8 235.9L822.7 235.9L824.5 235.9L826.3 235.9L828.2 235.9L830.0 235.9L831.8 235.9L833.7 235.9L835.5 235.9L837.3 235.9L839.2 235.9L841.0 235.9L842.8 235.9L844.7 235.9L846.5 235.9L848.3 235.9L850.2 235.9L852.0 235.9L853.8 235.9L855.7 235.9L857.5 235.9L859.3 235.9L861.2 235.9L863.0 235.9L864.9 235.8L866.7 235.8L868.5 235.8L870.4 235.8L872.2 235.8L874.0 235.8L875.9 235.8L877.7 235.8L879.5 235.8L881.4 235.8L883.2 235.8L885.0 235.8L886.9 235.8L888.7 235.8L890.5 235.8L892.4 235.8L894.2 235.8L896.0 235.8L897.9 235.8L899.7 235.8L901.5 235.7L903.4 235.7L905.2 235.7L907.0 235.7L908.9 235.7L910.7 235.7L912.5 235.7L914.4 235.7L916.2 235.7L918.0 235.7L919.9 235.7L921.7 235.7L923.5 235.6L925.4 235.6L927.2 235.6L929.1 235.6L930.9 235.6L932.7 235.6L934.6 235.6L936.4 235.5L938.2 235.5L940.1 235.5L941.9 235.5L943.7 235.5L945.6 235.4L947.4 235.4L949.2 235.4L951.1 235.4L952.9 235.3L954.7 235.3L956.6 235.3L958.4 235.3L960.2 235.2L962.1 235.2L963.9 235.2L965.7 235.1L967.6 235.1L969.4 235.0L971.2 235.0L973.1 234.9L974.9 234.9L976.7 234.8L978.6 234.8L980.4 234.7L982.2 234.6L984.1 234.6L985.9 234.5L987.8 234.4L989.6 234.3L990.5 234.2L991.4 234.2L992.3 234.1L993.3 234.1L994.2 234.0L995.1 234.0L996.0 233.9L996.9 233.8L997.8 233.8L998.8 233.7L999.7 233.6L1000.6 233.6L1001.5 233.5L1002.4 233.4L1003.3 233.3L1004.3 233.2L1005.2 233.1L1006.1 233.0L1007.0 232.9L1007.9 232.8L1008.8 232.7L1009.8 232.6L1010.7 232.5L1011.6 232.4L1012.5 232.2L1013.4 232.1L1014.3 231.9L1015.3 231.8L1016.2 231.6L1017.1 231.5L1018.0 231.3L1018.9 231.1L1019.9 230.9L1020.8 230.7L1021.7 230.5L1022.6 230.2L1023.5 230.0L1024.4 229.7L1025.4 229.5L1026.3 229.2L1027.2 228.9L1028.1 228.6L1029.0 228.3L1029.9 227.9L1030.9 227.6L1031.8 227.2L1032.7 226.8L1033.6 226.3L1034.5 225.9L1035.4 225.4L1036.4 224.9L1037.3 224.3L1038.2 223.7L1039.1 223.1L1040.0 222.5L1040.9 221.8L1041.9 221.1L1042.8 220.3L1043.7 219.5L1044.2 219.1L1044.6 218.7L1045.1 218.2L1045.5 217.8L1046.0 217.3L1046.4 216.8L1046.9 216.3L1047.4 215.8L1047.8 215.3L1048.3 214.7L1048.7 214.2L1049.2 213.6L1049.7 213.0L1050.1 212.4L1050.6 211.8L1051.0 211.2L1051.5 210.5L1052.0 209.9L1052.4 209.2L1052.9 208.5L1053.3 207.8L1053.8 207.1L1054.2 206.4L1054.7 205.6L1055.2 204.9L1055.6 204.1L1056.1 203.3L1056.5 202.5L1057.0 201.7L1057.5 200.9L1057.9 200.1L1058.4 199.3L1058.8 198.4L1059.3 197.6L1059.7 196.8L1060.2 195.9L1060.7 195.1L1061.1 194.3L1061.6 193.4L1062.0 192.6L1062.5 191.8L1063.0 191.0L1063.4 190.2L1063.9 189.4L1064.3 188.6L1064.8 187.9L1065.3 187.1L1065.7 186.4L1066.2 185.7L1066.6 185.0L1067.1 184.3L1067.3 183.9L1067.5 183.6L1067.8 183.2L1068.0 182.8L1068.2 182.5L1068.5 182.1L1068.7 181.7L1068.9 181.3L1069.1 180.9L1069.4 180.5L1069.6 180.0L1069.8 179.5L1070.1 179.0L1070.3 178.5L1070.5 177.9L1070.8 177.2L1071.0 176.6L1071.2 175.8L1071.4 175.0L1071.7 174.1L1071.9 173.2L1072.1 172.1L1072.4 171.0L1072.6 169.8L1072.8 168.4L1073.0 167.0L1073.3 165.4L1073.5 163.7L1073.7 161.8L1074.0 159.9L1074.2 157.8L1074.4 155.6L1074.7 153.4L1074.9 151.1L1075.1 148.9L1075.3 146.7L1075.6 144.7L1075.8 142.9L1076.0 141.6L1076.3 140.8L1076.5 140.8L1076.7 141.7L1076.9 143.7L1077.2 147.0L1077.4 151.9L1077.6 158.4L1077.9 166.6L1078.1 176.5L1078.3 187.9L1078.5 200.6L1078.8 214.3L1079.0 228.4L1079.2 242.4L1079.5 256.0L1079.7 268.6L1079.9 280.0L1080.2 289.7L1080.4 297.8L1080.6 304.3L1080.8 309.1L1081.1 312.4L1081.3 314.5L1081.5 315.4L1081.8 315.6L1082.0 315.0L1082.2 314.0L1082.4 312.6L1082.7 311.0L1082.9 309.3L1083.1 307.5L1083.4 305.8L1083.6 304.0L1083.8 302.4L1084.1 300.9L1084.3 299.4L1084.5 298.1L1084.7 296.9L1085.0 295.8L1085.2 294.8L1085.4 293.9L1085.7 293.1L1085.9 292.4L1086.1 291.7L1086.3 291.1L1086.6 290.6L1086.8 290.1L1087.0 289.7L1087.3 289.3L1087.5 288.9L1087.7 288.6L1088.0 288.3L1088.2 288.0L1088.4 287.8L1088.6 287.5L1088.9 287.3L1089.1 287.0L1089.3 286.8L1089.6 286.6L1089.8 286.4L1090.0 286.1L1090.2 285.9L1090.5 285.7L1090.7 285.5L1090.9 285.2L1091.2 285.0L1091.4 284.7L1091.6 284.5L1091.8 284.2L1092.1 283.9L1092.3 283.7L1092.8 283.1L1093.2 282.5L1093.7 281.9L1094.1 281.2L1094.6 280.5L1095.1 279.8L1095.5 279.1L1096.0 278.3L1096.4 277.6L1096.9 276.8L1097.4 276.0L1097.8 275.3L1098.3 274.5L1098.7 273.7L1099.2 272.9L1099.6 272.1L1100.1 271.3L1100.6 270.5L1101.0 269.7L1101.5 268.9L1101.9 268.2L1102.4 267.4L1102.9 266.7L1103.3 265.9L1103.8 265.2L1104.2 264.5L1104.7 263.8L1105.1 263.1L1105.6 262.5L1106.1 261.8L1106.5 261.2L1107.0 260.5L1107.4 259.9L1107.9 259.3L1108.4 258.7L1108.8 258.1L1109.3 257.6L1109.7 257.0L1110.2 256.5L1110.7 256.0L1111.1 255.5L1111.6 255.0L1112.0 254.5L1112.5 254.1L1112.9 253.6L1113.4 253.2L1113.9 252.7L1114.3 252.3L1114.8 251.9L1115.2 251.5L1115.7 251.1L1116.2 250.8L1117.1 250.0L1118.0 249.4L1118.9 248.7L1119.8 248.1L1120.7 247.6L1121.7 247.0L1122.6 246.5L1123.5 246.0L1124.4 245.6L1125.3 245.2L1126.2 244.7L1127.2 244.4L1128.1 244.0L1129.0 243.7L1129.9 243.3L1130.8 243.0L1131.7 242.7L1132.7 242.4L1133.6 242.2L1134.5 241.9L1135.4 241.7L1136.3 241.5L1137.2 241.3L1138.2 241.0L1139.1 240.9L1140.0 240.7L1140.9 240.5L1141.8 240.3L1142.8 240.2L1143.7 240.0L1144.6 239.9L1145.5 239.7L1146.4 239.6L1147.3 239.5L1148.3 239.3L1149.2 239.2L1150.1 239.1L1151.0 239.0L1151.9 238.9L1152.8 238.8L1153.8 238.7L1154.7 238.6L1155.6 238.5L1156.5 238.5L1157.4 238.4L1158.3 238.3L1159.3 238.2L1160.2 238.2L1161.1 238.1L1162.0 238.0L1162.9 238.0L1163.8 237.9L1164.8 237.9L1165.7 237.8L1166.6 237.8L1167.5 237.7L1168.4 237.7L1169.3 237.6L1170.3 237.6L1171.2 237.5L1173.0 237.4L1174.9 237.4L1176.7 237.3L1178.5 237.2L1180.4 237.2L1182.2 237.1L1184.0 237.0L1185.9 237.0L1187.7 237.0L1189.5 236.9L1191.4 236.9L1193.2 236.8L1195.0 236.8L1196.9 236.8L1198.7 236.7L1200.5 236.7L1202.4 236.7L1204.2 236.6L1206.0 236.6L1207.9 236.6L1209.7 236.6L1211.5 236.5L1213.4 236.5L1215.2 236.5L1217.0 236.5L1218.9 236.5L1220.7 236.4L1222.5 236.4L1224.4 236.4L1226.2 236.4L1228.0 236.4L1229.9 236.4L1231.7 236.3L1233.6 236.3L1235.4 236.3L1237.2 236.3L1239.1 236.3L1240.9 236.3L1242.7 236.3L1244.6 236.3L1246.4 236.3L1248.2 236.3L1250.1 236.2L1251.9 236.2L1253.7 236.2L1255.6 236.2L1257.4 236.2L1259.2 236.2L1261.1 236.2L1262.9 236.2L1264.7 236.2L1266.6 236.2L1268.4 236.2L1270.2 236.2L1272.1 236.2L1273.9 236.2L1275.7 236.2L1277.6 236.2L1279.4 236.1L1281.2 236.1L1283.1 236.1L1284.9 236.1L1286.7 236.1L1288.6 236.1L1290.4 236.1L1292.2 236.1L1294.1 236.1L1295.9 236.1L1297.8 236.1L1299.6 236.1L1301.4 236.1L1303.3 236.1L1305.1 236.1L1306.9 236.1L1308.8 236.1L1310.6 236.1L1312.4 236.1L1314.3 236.1L1316.1 236.1L1317.9 236.1L1319.8 236.1L1321.6 236.1L1323.4 236.1L1325.3 236.1L1327.1 236.1L1328.9 236.1L1330.8 236.1L1332.6 236.1L1334.4 236.1L1336.3 236.1L1338.1 236.1L1339.9 236.1L1341.8 236.1L1343.6 236.1L1345.4 236.1L1347.3 236.1L1349.1 236.1L1350.9 236.0L1352.8 236.0L1353.7 236.0" fill="none" stroke="#000000" stroke-width="1.7" stroke-linejoin="round" stroke-linecap="butt"/>
<path d="M808.0 318.0L809.8 318.0L811.7 318.0L813.5 318.0L815.3 318.0L817.2 318.0L819.0 318.0L820.8 318.0L822.7 318.0L824.5 318.0L826.3 318.0L828.2 318.0L830.0 318.0L831.8 318.0L833.7 318.0L835.5 318.0L837.3 318.0L839.2 318.0L841.0 318.0L842.8 318.0L844.7 318.0L846.5 318.0L848.3 318.0L850.2 318.0L852.0 317.9L853.8 317.9L855.7 317.9L857.5 317.9L859.3 317.9L861.2 317.9L863.0 317.9L864.9 317.9L866.7 317.9L868.5 317.9L870.4 317.9L872.2 317.9L874.0 317.9L875.9 317.9L877.7 317.9L879.5 317.9L881.4 317.9L883.2 317.9L885.0 317.9L886.9 317.9L888.7 317.9L890.5 317.9L892.4 317.9L894.2 317.9L896.0 317.8L897.9 317.8L899.7 317.8L901.5 317.8L903.4 317.8L905.2 317.8L907.0 317.8L908.9 317.8L910.7 317.8L912.5 317.8L914.4 317.8L916.2 317.8L918.0 317.8L919.9 317.7L921.7 317.7L923.5 317.7L925.4 317.7L927.2 317.7L929.1 317.7L930.9 317.7L932.7 317.7L934.6 317.6L936.4 317.6L938.2 317.6L940.1 317.6L941.9 317.6L943.7 317.6L945.6 317.5L947.4 317.5L949.2 317.5L951.1 317.5L952.9 317.4L954.7 317.4L956.6 317.4L958.4 317.3L960.2 317.3L962.1 317.3L963.9 317.2L965.7 317.2L967.6 317.2L969.4 317.1L971.2 317.1L973.1 317.0L974.9 317.0L976.7 316.9L978.6 316.9L980.4 316.8L982.2 316.7L984.1 316.7L985.9 316.6L987.8 316.5L989.6 316.4L990.5 316.4L991.4 316.3L992.3 316.3L993.3 316.2L994.2 316.1L995.1 316.1L996.0 316.0L996.9 316.0L997.8 315.9L998.8 315.8L999.7 315.8L1000.6 315.7L1001.5 315.6L1002.4 315.5L1003.3 315.4L1004.3 315.3L1005.2 315.3L1006.1 315.2L1007.0 315.1L1007.9 315.0L1008.8 314.8L1009.8 314.7L1010.7 314.6L1011.6 314.5L1012.5 314.4L1013.4 314.2L1014.3 314.1L1015.3 313.9L1016.2 313.8L1017.1 313.6L1018.0 313.4L1018.9 313.2L1019.9 313.1L1020.8 312.9L1021.7 312.6L1022.6 312.4L1023.5 312.2L1024.4 311.9L1025.4 311.7L1026.3 311.4L1027.2 311.1L1028.1 310.8L1029.0 310.5L1029.9 310.1L1030.9 309.8L1031.8 309.4L1032.7 309.0L1033.6 308.6L1034.5 308.1L1035.4 307.7L1036.4 307.2L1037.3 306.6L1038.2 306.1L1039.1 305.5L1040.0 304.9L1040.9 304.2L1041.9 303.5L1042.8 302.8L1043.7 302.0L1044.2 301.6L1044.6 301.2L1045.1 300.7L1045.5 300.3L1046.0 299.8L1046.4 299.4L1046.9 298.9L1047.4 298.4L1047.8 297.9L1048.3 297.4L1048.7 296.9L1049.2 296.3L1049.7 295.8L1050.1 295.2L1050.6 294.6L1051.0 294.0L1051.5 293.4L1052.0 292.8L1052.4 292.2L1052.9 291.5L1053.3 290.9L1053.8 290.2L1054.2 289.6L1054.7 288.9L1055.2 288.2L1055.6 287.5L1056.1 286.8L1056.5 286.1L1057.0 285.3L1057.5 284.6L1057.9 283.9L1058.4 283.2L1058.8 282.5L1059.3 281.8L1059.7 281.1L1060.2 280.4L1060.7 279.7L1061.1 279.1L1061.6 278.5L1062.0 277.9L1062.5 277.3L1063.0 276.8L1063.4 276.3L1063.9 275.8L1064.3 275.4L1064.8 275.1L1065.3 274.8L1065.7 274.6L1066.2 274.5L1066.6 274.4L1067.1 274.5L1067.3 274.6L1067.5 274.6L1067.8 274.7L1068.0 274.9L1068.2 275.0L1068.5 275.2L1068.7 275.5L1068.9 275.7L1069.1 276.0L1069.4 276.3L1069.6 276.6L1069.8 277.0L1070.1 277.4L1070.3 277.9L1070.5 278.4L1070.8 278.9L1071.0 279.4L1071.2 280.0L1071.4 280.6L1071.7 281.3L1071.9 281.9L1072.1 282.7L1072.4 283.4L1072.6 284.2L1072.8 285.0L1073.0 285.9L1073.3 286.8L1073.5 287.7L1073.7 288.7L1074.0 289.7L1074.2 290.7L1074.4 291.8L1074.7 292.9L1074.9 294.0L1075.1 295.2L1075.3 296.4L1075.6 297.6L1075.8 298.8L1076.0 300.1L1076.3 301.4L1076.5 302.7L1076.7 304.0L1076.9 305.4L1077.2 306.7L1077.4 308.1L1077.6 309.5L1077.9 310.9L1078.1 312.3L1078.3 313.8L1078.5 315.2L1078.8 316.6L1079.0 318.1L1079.2 319.5L1079.5 320.9L1079.7 322.4L1079.9 323.8L1080.2 325.2L1080.4 326.6L1080.6 328.0L1080.8 329.4L1081.1 330.7L1081.3 332.1L1081.5 333.4L1081.8 334.7L1082.0 336.0L1082.2 337.3L1082.4 338.5L1082.7 339.7L1082.9 340.9L1083.1 342.1L1083.4 343.2L1083.6 344.3L1083.8 345.4L1084.1 346.4L1084.3 347.4L1084.5 348.4L1084.7 349.3L1085.0 350.2L1085.2 351.1L1085.4 351.9L1085.7 352.7L1085.9 353.5L1086.1 354.2L1086.3 354.9L1086.6 355.5L1086.8 356.1L1087.0 356.7L1087.3 357.3L1087.5 357.8L1087.7 358.2L1088.0 358.7L1088.2 359.1L1088.4 359.5L1088.6 359.8L1088.9 360.1L1089.1 360.4L1089.3 360.7L1089.6 360.9L1089.8 361.1L1090.0 361.2L1090.2 361.4L1090.5 361.5L1090.7 361.6L1090.9 361.6L1091.2 361.7L1091.4 361.7L1091.6 361.7L1091.8 361.6L1092.1 361.6L1092.3 361.5L1092.8 361.3L1093.2 361.0L1093.7 360.7L1094.1 360.3L1094.6 359.9L1095.1 359.4L1095.5 358.8L1096.0 358.3L1096.4 357.7L1096.9 357.0L1097.4 356.4L1097.8 355.7L1098.3 355.0L1098.7 354.3L1099.2 353.6L1099.6 352.9L1100.1 352.2L1100.6 351.5L1101.0 350.8L1101.5 350.1L1101.9 349.3L1102.4 348.6L1102.9 347.9L1103.3 347.3L1103.8 346.6L1104.2 345.9L1104.7 345.2L1105.1 344.6L1105.6 343.9L1106.1 343.3L1106.5 342.7L1107.0 342.1L1107.4 341.5L1107.9 340.9L1108.4 340.4L1108.8 339.8L1109.3 339.3L1109.7 338.7L1110.2 338.2L1110.7 337.7L1111.1 337.2L1111.6 336.8L1112.0 336.3L1112.5 335.8L1112.9 335.4L1113.4 335.0L1113.9 334.5L1114.3 334.1L1114.8 333.7L1115.2 333.4L1115.7 333.0L1116.2 332.6L1117.1 331.9L1118.0 331.3L1118.9 330.6L1119.8 330.0L1120.7 329.5L1121.7 329.0L1122.6 328.5L1123.5 328.0L1124.4 327.5L1125.3 327.1L1126.2 326.7L1127.2 326.3L1128.1 326.0L1129.0 325.6L1129.9 325.3L1130.8 325.0L1131.7 324.7L1132.7 324.4L1133.6 324.2L1134.5 323.9L1135.4 323.7L1136.3 323.5L1137.2 323.3L1138.2 323.1L1139.1 322.9L1140.0 322.7L1140.9 322.5L1141.8 322.4L1142.8 322.2L1143.7 322.0L1144.6 321.9L1145.5 321.8L1146.4 321.6L1147.3 321.5L1148.3 321.4L1149.2 321.3L1150.1 321.2L1151.0 321.1L1151.9 321.0L1152.8 320.9L1153.8 320.8L1154.7 320.7L1155.6 320.6L1156.5 320.5L1157.4 320.4L1158.3 320.4L1159.3 320.3L1160.2 320.2L1161.1 320.2L1162.0 320.1L1162.9 320.0L1163.8 320.0L1164.8 319.9L1165.7 319.9L1166.6 319.8L1167.5 319.8L1168.4 319.7L1169.3 319.7L1170.3 319.6L1171.2 319.6L1173.0 319.5L1174.9 319.4L1176.7 319.4L1178.5 319.3L1180.4 319.2L1182.2 319.2L1184.0 319.1L1185.9 319.1L1187.7 319.0L1189.5 319.0L1191.4 318.9L1193.2 318.9L1195.0 318.9L1196.9 318.8L1198.7 318.8L1200.5 318.8L1202.4 318.7L1204.2 318.7L1206.0 318.7L1207.9 318.6L1209.7 318.6L1211.5 318.6L1213.4 318.6L1215.2 318.6L1217.0 318.5L1218.9 318.5L1220.7 318.5L1222.5 318.5L1224.4 318.5L1226.2 318.5L1228.0 318.4L1229.9 318.4L1231.7 318.4L1233.6 318.4L1235.4 318.4L1237.2 318.4L1239.1 318.4L1240.9 318.4L1242.7 318.4L1244.6 318.3L1246.4 318.3L1248.2 318.3L1250.1 318.3L1251.9 318.3L1253.7 318.3L1255.6 318.3L1257.4 318.3L1259.2 318.3L1261.1 318.3L1262.9 318.3L1264.7 318.3L1266.6 318.3L1268.4 318.3L1270.2 318.2L1272.1 318.2L1273.9 318.2L1275.7 318.2L1277.6 318.2L1279.4 318.2L1281.2 318.2L1283.1 318.2L1284.9 318.2L1286.7 318.2L1288.6 318.2L1290.4 318.2L1292.2 318.2L1294.1 318.2L1295.9 318.2L1297.8 318.2L1299.6 318.2L1301.4 318.2L1303.3 318.2L1305.1 318.2L1306.9 318.2L1308.8 318.2L1310.6 318.2L1312.4 318.2L1314.3 318.2L1316.1 318.2L1317.9 318.2L1319.8 318.2L1321.6 318.2L1323.4 318.1L1325.3 318.1L1327.1 318.1L1328.9 318.1L1330.8 318.1L1332.6 318.1L1334.4 318.1L1336.3 318.1L1338.1 318.1L1339.9 318.1L1341.8 318.1L1343.6 318.1L1345.4 318.1L1347.3 318.1L1349.1 318.1L1350.9 318.1L1352.8 318.1L1353.7 318.1" fill="none" stroke="#F5821F" stroke-width="1.6" stroke-linejoin="round" stroke-linecap="butt"/>
<path d="M808.0 367.4L809.8 367.4L811.7 367.4L813.5 367.4L815.3 367.4L817.2 367.4L819.0 367.4L820.8 367.4L822.7 367.4L824.5 367.4L826.3 367.4L828.2 367.4L830.0 367.4L831.8 367.4L833.7 367.4L835.5 367.4L837.3 367.4L839.2 367.4L841.0 367.4L842.8 367.4L844.7 367.4L846.5 367.4L848.3 367.4L850.2 367.4L852.0 367.4L853.8 367.4L855.7 367.4L857.5 367.4L859.3 367.4L861.2 367.4L863.0 367.4L864.9 367.4L866.7 367.4L868.5 367.4L870.4 367.4L872.2 367.4L874.0 367.4L875.9 367.4L877.7 367.4L879.5 367.4L881.4 367.4L883.2 367.4L885.0 367.4L886.9 367.4L888.7 367.4L890.5 367.4L892.4 367.4L894.2 367.4L896.0 367.4L897.9 367.4L899.7 367.4L901.5 367.4L903.4 367.4L905.2 367.4L907.0 367.4L908.9 367.4L910.7 367.4L912.5 367.4L914.4 367.4L916.2 367.4L918.0 367.4L919.9 367.4L921.7 367.4L923.5 367.4L925.4 367.4L927.2 367.4L929.1 367.4L930.9 367.4L932.7 367.4L934.6 367.4L936.4 367.4L938.2 367.4L940.1 367.4L941.9 367.4L943.7 367.4L945.6 367.4L947.4 367.4L949.2 367.4L951.1 367.4L952.9 367.4L954.7 367.4L956.6 367.4L958.4 367.4L960.2 367.4L962.1 367.4L963.9 367.4L965.7 367.4L967.6 367.4L969.4 367.4L971.2 367.4L973.1 367.4L974.9 367.4L976.7 367.4L978.6 367.4L980.4 367.4L982.2 367.4L984.1 367.4L985.9 367.4L987.8 367.4L989.6 367.4L990.5 367.4L991.4 367.4L992.3 367.4L993.3 367.4L994.2 367.4L995.1 367.4L996.0 367.4L996.9 367.4L997.8 367.4L998.8 367.4L999.7 367.4L1000.6 367.4L1001.5 367.4L1002.4 367.4L1003.3 367.4L1004.3 367.4L1005.2 367.4L1006.1 367.4L1007.0 367.4L1007.9 367.4L1008.8 367.4L1009.8 367.4L1010.7 367.4L1011.6 367.3L1012.5 367.3L1013.4 367.3L1014.3 367.3L1015.3 367.3L1016.2 367.3L1017.1 367.3L1018.0 367.3L1018.9 367.3L1019.9 367.3L1020.8 367.3L1021.7 367.3L1022.6 367.3L1023.5 367.3L1024.4 367.3L1025.4 367.3L1026.3 367.3L1027.2 367.3L1028.1 367.3L1029.0 367.3L1029.9 367.3L1030.9 367.3L1031.8 367.2L1032.7 367.2L1033.6 367.2L1034.5 367.2L1035.4 367.2L1036.4 367.2L1037.3 367.2L1038.2 367.2L1039.1 367.1L1040.0 367.1L1040.9 367.1L1041.9 367.1L1042.8 367.0L1043.7 367.0L1044.2 367.0L1044.6 367.0L1045.1 367.0L1045.5 367.0L1046.0 366.9L1046.4 366.9L1046.9 366.9L1047.4 366.9L1047.8 366.8L1048.3 366.8L1048.7 366.8L1049.2 366.8L1049.7 366.7L1050.1 366.7L1050.6 366.7L1051.0 366.6L1051.5 366.6L1052.0 366.6L1052.4 366.5L1052.9 366.5L1053.3 366.4L1053.8 366.4L1054.2 366.3L1054.7 366.3L1055.2 366.2L1055.6 366.1L1056.1 366.0L1056.5 366.0L1057.0 365.9L1057.5 365.8L1057.9 365.7L1058.4 365.6L1058.8 365.4L1059.3 365.3L1059.7 365.2L1060.2 365.0L1060.7 364.8L1061.1 364.7L1061.6 364.5L1062.0 364.2L1062.5 364.0L1063.0 363.7L1063.4 363.4L1063.9 363.1L1064.3 362.7L1064.8 362.3L1065.3 361.8L1065.7 361.3L1066.2 360.7L1066.6 360.0L1067.1 359.3L1067.3 358.9L1067.5 358.4L1067.8 357.9L1068.0 357.4L1068.2 356.9L1068.5 356.3L1068.7 355.7L1068.9 355.1L1069.1 354.4L1069.4 353.6L1069.6 352.8L1069.8 352.0L1070.1 351.1L1070.3 350.1L1070.5 349.0L1070.8 347.9L1071.0 346.6L1071.2 345.3L1071.4 343.9L1071.7 342.4L1071.9 340.7L1072.1 339.0L1072.4 337.1L1072.6 335.0L1072.8 332.9L1073.0 330.5L1073.3 328.0L1073.5 325.4L1073.7 322.6L1074.0 319.6L1074.2 316.5L1074.4 313.3L1074.7 310.0L1074.9 306.6L1075.1 303.2L1075.3 299.8L1075.6 296.6L1075.8 293.6L1076.0 291.0L1076.3 288.9L1076.5 287.5L1076.7 287.1L1076.9 287.8L1077.2 289.8L1077.4 293.2L1077.6 298.4L1077.9 305.2L1078.1 313.6L1078.3 323.7L1078.5 334.9L1078.8 347.1L1079.0 359.8L1079.2 372.4L1079.5 384.6L1079.7 395.8L1079.9 405.7L1080.2 414.0L1080.4 420.7L1080.6 425.7L1080.8 429.2L1081.1 431.1L1081.3 431.9L1081.5 431.5L1081.8 430.3L1082.0 428.5L1082.2 426.2L1082.4 423.6L1082.7 420.8L1082.9 417.9L1083.1 414.9L1083.4 412.0L1083.6 409.2L1083.8 406.5L1084.1 403.9L1084.3 401.5L1084.5 399.2L1084.7 397.1L1085.0 395.1L1085.2 393.2L1085.4 391.5L1085.7 389.9L1085.9 388.4L1086.1 387.0L1086.3 385.7L1086.6 384.5L1086.8 383.5L1087.0 382.4L1087.3 381.5L1087.5 380.6L1087.7 379.8L1088.0 379.1L1088.2 378.4L1088.4 377.8L1088.6 377.2L1088.9 376.6L1089.1 376.1L1089.3 375.6L1089.6 375.2L1089.8 374.8L1090.0 374.4L1090.2 374.0L1090.5 373.7L1090.7 373.4L1090.9 373.1L1091.2 372.8L1091.4 372.5L1091.6 372.3L1091.8 372.1L1092.1 371.8L1092.3 371.6L1092.8 371.3L1093.2 370.9L1093.7 370.6L1094.1 370.4L1094.6 370.1L1095.1 369.9L1095.5 369.7L1096.0 369.6L1096.4 369.4L1096.9 369.3L1097.4 369.1L1097.8 369.0L1098.3 368.9L1098.7 368.8L1099.2 368.7L1099.6 368.6L1100.1 368.6L1100.6 368.5L1101.0 368.4L1101.5 368.4L1101.9 368.3L1102.4 368.3L1102.9 368.2L1103.3 368.2L1103.8 368.1L1104.2 368.1L1104.7 368.1L1105.1 368.0L1105.6 368.0L1106.1 368.0L1106.5 367.9L1107.0 367.9L1107.4 367.9L1107.9 367.9L1108.4 367.8L1108.8 367.8L1109.3 367.8L1109.7 367.8L1110.2 367.8L1110.7 367.8L1111.1 367.7L1111.6 367.7L1112.0 367.7L1112.5 367.7L1112.9 367.7L1113.4 367.7L1113.9 367.7L1114.3 367.7L1114.8 367.7L1115.2 367.6L1115.7 367.6L1116.2 367.6L1117.1 367.6L1118.0 367.6L1118.9 367.6L1119.8 367.6L1120.7 367.6L1121.7 367.6L1122.6 367.5L1123.5 367.5L1124.4 367.5L1125.3 367.5L1126.2 367.5L1127.2 367.5L1128.1 367.5L1129.0 367.5L1129.9 367.5L1130.8 367.5L1131.7 367.5L1132.7 367.5L1133.6 367.5L1134.5 367.5L1135.4 367.5L1136.3 367.5L1137.2 367.5L1138.2 367.5L1139.1 367.5L1140.0 367.5L1140.9 367.5L1141.8 367.5L1142.8 367.5L1143.7 367.4L1144.6 367.4L1145.5 367.4L1146.4 367.4L1147.3 367.4L1148.3 367.4L1149.2 367.4L1150.1 367.4L1151.0 367.4L1151.9 367.4L1152.8 367.4L1153.8 367.4L1154.7 367.4L1155.6 367.4L1156.5 367.4L1157.4 367.4L1158.3 367.4L1159.3 367.4L1160.2 367.4L1161.1 367.4L1162.0 367.4L1162.9 367.4L1163.8 367.4L1164.8 367.4L1165.7 367.4L1166.6 367.4L1167.5 367.4L1168.4 367.4L1169.3 367.4L1170.3 367.4L1171.2 367.4L1173.0 367.4L1174.9 367.4L1176.7 367.4L1178.5 367.4L1180.4 367.4L1182.2 367.4L1184.0 367.4L1185.9 367.4L1187.7 367.4L1189.5 367.4L1191.4 367.4L1193.2 367.4L1195.0 367.4L1196.9 367.4L1198.7 367.4L1200.5 367.4L1202.4 367.4L1204.2 367.4L1206.0 367.4L1207.9 367.4L1209.7 367.4L1211.5 367.4L1213.4 367.4L1215.2 367.4L1217.0 367.4L1218.9 367.4L1220.7 367.4L1222.5 367.4L1224.4 367.4L1226.2 367.4L1228.0 367.4L1229.9 367.4L1231.7 367.4L1233.6 367.4L1235.4 367.4L1237.2 367.4L1239.1 367.4L1240.9 367.4L1242.7 367.4L1244.6 367.4L1246.4 367.4L1248.2 367.4L1250.1 367.4L1251.9 367.4L1253.7 367.4L1255.6 367.4L1257.4 367.4L1259.2 367.4L1261.1 367.4L1262.9 367.4L1264.7 367.4L1266.6 367.4L1268.4 367.4L1270.2 367.4L1272.1 367.4L1273.9 367.4L1275.7 367.4L1277.6 367.4L1279.4 367.4L1281.2 367.4L1283.1 367.4L1284.9 367.4L1286.7 367.4L1288.6 367.4L1290.4 367.4L1292.2 367.4L1294.1 367.4L1295.9 367.4L1297.8 367.4L1299.6 367.4L1301.4 367.4L1303.3 367.4L1305.1 367.4L1306.9 367.4L1308.8 367.4L1310.6 367.4L1312.4 367.4L1314.3 367.4L1316.1 367.4L1317.9 367.4L1319.8 367.4L1321.6 367.4L1323.4 367.4L1325.3 367.4L1327.1 367.4L1328.9 367.4L1330.8 367.4L1332.6 367.4L1334.4 367.4L1336.3 367.4L1338.1 367.4L1339.9 367.4L1341.8 367.4L1343.6 367.4L1345.4 367.4L1347.3 367.4L1349.1 367.4L1350.9 367.4L1352.8 367.4L1353.7 367.4" fill="none" stroke="#3A55A5" stroke-width="1.6" stroke-linejoin="round" stroke-linecap="butt"/>
<path d="M808.0 447.3L808.5 447.3L809.0 447.3L809.5 447.3L810.0 447.3L810.5 447.3L811.0 447.3L811.5 447.3L812.0 447.3L812.5 447.3L813.0 447.3L813.5 447.3L814.0 447.3L814.5 447.3L815.0 447.3L815.5 447.3L816.0 447.3L816.5 447.3L817.0 447.3L817.5 447.3L818.0 447.3L818.5 447.3L819.0 447.3L819.5 447.3L820.0 447.3L820.5 447.3L821.0 447.3L821.5 447.3L822.0 447.3L822.5 447.3L823.0 447.3L823.5 447.3L824.0 447.3L824.5 447.3L825.0 447.3L825.5 447.3L826.0 447.3L826.5 447.3L827.0 447.3L827.5 447.3L828.0 447.3L828.5 447.3L829.0 447.3L829.5 447.3L830.0 447.3L830.5 447.3L831.0 447.3L831.5 447.3L832.0 447.3L832.5 447.3L833.0 447.3L833.5 447.3L834.0 447.3L834.5 447.3L835.0 447.3L835.5 447.3L836.0 447.3L836.5 447.3L837.0 447.3L837.5 447.3L838.0 447.3L838.5 447.3L839.0 447.3L839.5 447.3L840.0 447.3L840.5 447.3L841.0 447.3L841.5 447.3L842.0 447.3L842.5 447.3L843.0 447.3L843.5 447.3L844.0 447.3L844.5 447.3L845.0 447.3L845.5 447.3L846.0 447.3L846.5 447.3L847.0 447.3L847.5 447.3L848.0 447.3L848.5 447.3L849.0 447.3L849.5 447.3L850.0 447.3L850.5 447.3L851.0 447.3L851.5 447.3L852.0 447.3L852.5 447.3L853.0 447.3L853.5 447.3L854.0 447.3L854.5 447.3L855.0 447.3L855.5 447.3L856.0 447.3L856.5 447.3L857.0 447.3L857.5 447.3L858.0 447.3L858.5 447.3L859.0 447.3L859.5 447.3L860.0 447.3L860.5 447.3L861.0 447.3L861.5 447.3L862.0 447.3L862.5 447.3L863.0 447.3L863.5 447.3L864.0 447.3L864.5 447.3L865.0 447.3L865.5 447.3L866.0 447.3L866.5 447.3L867.0 447.3L867.5 447.3L868.0 447.3L868.5 447.3L869.0 447.3L869.5 447.3L870.0 447.3L870.5 447.3L871.0 447.3L871.5 447.3L872.0 447.3L872.5 447.3L873.0 447.3L873.5 447.3L874.0 447.3L874.5 447.3L875.0 447.3L875.5 447.3L876.0 447.3L876.5 447.3L877.0 447.3L877.5 447.3L878.0 447.3L878.5 447.3L879.0 447.3L879.5 447.3L880.0 447.3L880.5 447.3L881.0 447.3L881.5 447.3L882.0 447.3L882.5 447.3L883.0 447.3L883.5 447.3L884.0 447.3L884.5 447.3L885.0 447.3L885.5 447.3L886.0 447.3L886.5 447.3L887.0 447.3L887.5 447.3L888.0 447.3L888.5 447.3L889.0 447.3L889.5 447.3L890.0 447.3L890.5 447.3L891.0 447.3L891.5 447.3L892.0 447.3L892.5 447.3L893.0 447.3L893.5 447.3L894.0 447.3L894.5 447.3L895.0 447.3L895.5 447.3L896.0 447.3L896.5 447.3L897.0 447.3L897.5 447.3L898.0 447.3L898.5 447.3L899.0 447.3L899.5 447.3L900.0 447.3L900.5 447.3L901.0 447.3L901.5 447.3L902.0 447.3L902.5 447.3L903.0 447.3L903.5 447.3L904.0 447.3L904.5 447.3L905.0 447.3L905.5 447.3L906.0 447.3L906.5 447.3L907.0 447.3L907.5 447.3L908.0 447.3L908.5 447.3L909.0 447.3L909.5 447.3L910.0 447.3L910.5 447.3L911.0 447.3L911.5 447.3L912.0 447.3L912.5 447.3L913.0 447.3L913.5 447.3L914.0 447.3L914.5 447.3L915.0 447.3L915.5 447.3L916.0 447.3L916.5 447.3L917.0 447.3L917.5 447.3L918.0 447.3L918.5 447.3L919.0 447.3L919.5 447.3L920.0 447.3L920.5 447.3L921.0 447.3L921.5 447.3L922.0 447.3L922.5 447.3L923.0 447.3L923.5 447.3L924.0 447.3L924.5 447.3L925.0 447.3L925.5 447.2L926.0 447.2L926.5 447.2L927.0 447.2L927.5 447.2L928.0 447.2L928.5 447.2L929.0 447.2L929.5 447.2L930.0 447.2L930.5 447.2L931.0 447.2L931.5 447.2L932.0 447.2L932.5 447.2L933.0 447.2L933.5 447.2L934.0 447.2L934.5 447.2L935.0 447.2L935.5 447.2L936.0 447.2L936.5 447.2L937.0 447.2L937.5 447.2L938.0 447.2L938.5 447.2L939.0 447.2L939.5 447.2L940.0 447.2L940.5 447.2L941.0 447.2L941.5 447.2L942.0 447.2L942.5 447.2L943.0 447.2L943.5 447.2L944.0 447.2L944.5 447.2L945.0 447.2L945.5 447.2L946.0 447.2L946.5 447.2L947.0 447.2L947.5 447.2L948.0 447.2L948.5 447.2L949.0 447.2L949.5 447.2L950.0 447.2L950.5 447.2L951.0 447.2L951.5 447.2L952.0 447.2L952.5 447.2L953.0 447.2L953.5 447.2L954.0 447.2L954.5 447.2L955.0 447.2L955.5 447.2L956.0 447.2L956.5 447.2L957.0 447.2L957.5 447.2L958.0 447.2L958.5 447.2L959.0 447.2L959.5 447.2L960.0 447.2L960.5 447.2L961.0 447.2L961.5 447.1L962.0 447.1L962.5 447.1L963.0 447.1L963.5 447.1L964.0 447.1L964.5 447.1L965.0 447.1L965.5 447.1L966.0 447.1L966.5 447.1L967.0 447.1L967.5 447.1L968.0 447.1L968.5 447.1L969.0 447.1L969.5 447.1L970.0 447.1L970.5 447.1L971.0 447.1L971.5 447.1L972.0 447.1L972.5 447.1L973.0 447.1L973.5 447.1L974.0 447.1L974.5 447.1L975.0 447.1L975.5 447.1L976.0 447.1L976.5 447.1L977.0 447.1L977.5 447.1L978.0 447.1L978.5 447.1L979.0 447.1L979.5 447.1L980.0 447.1L980.5 447.1L981.0 447.1L981.5 447.1L982.0 447.1L982.5 447.1L983.0 447.1L983.5 447.1L984.0 447.1L984.5 447.1L985.0 447.1L985.5 447.1L986.0 447.1L986.5 447.1L987.0 447.1L987.5 447.1L988.0 447.1L988.5 447.1L989.0 447.0L989.5 447.0L990.0 447.0L990.5 447.0L991.0 447.0L991.5 447.0L992.0 447.0L992.5 447.0L993.0 447.0L993.5 447.0L994.0 447.0L994.5 447.0L995.0 447.0L995.5 447.0L996.0 447.0L996.5 447.0L997.0 447.0L997.5 447.0L998.0 447.0L998.5 447.0L999.0 447.0L999.5 447.0L1000.0 447.0L1000.5 447.0L1001.0 447.0L1001.5 447.0L1002.0 447.0L1002.5 447.0L1003.0 447.0L1003.5 447.0L1004.0 447.0L1004.5 447.0L1005.0 447.0L1005.5 447.0L1006.0 447.0L1006.5 447.0L1007.0 447.0L1007.5 447.0L1008.0 446.9L1008.5 446.9L1009.0 446.9L1009.5 446.9L1010.0 446.9L1010.5 446.9L1011.0 446.9L1011.5 446.9L1012.0 446.9L1012.5 446.9L1013.0 446.9L1013.5 446.9L1014.0 446.9L1014.5 446.9L1015.0 446.9L1015.5 446.9L1016.0 446.9L1016.5 446.9L1017.0 446.8L1017.5 446.8L1018.0 446.8L1018.5 446.8L1019.0 446.8L1019.5 446.8L1020.0 446.8L1020.5 446.8L1021.0 446.8L1021.5 446.8L1022.0 446.8L1022.5 446.8L1023.0 446.8L1023.5 446.8L1024.0 446.7L1024.5 446.7L1025.0 446.7L1025.5 446.7L1026.0 446.7L1026.5 446.7L1027.0 446.7L1027.5 446.7L1028.0 446.7L1028.5 446.7L1029.0 446.7L1029.5 446.7L1030.0 446.7L1030.5 446.6L1031.0 446.6L1031.5 446.6L1032.0 446.6L1032.5 446.6L1033.0 446.6L1033.5 446.6L1034.0 446.6L1034.5 446.6L1035.0 446.6L1035.5 446.6L1036.0 446.6L1036.5 446.6L1037.0 446.6L1037.5 446.6L1038.0 446.6L1038.5 446.6L1039.0 446.6L1039.5 446.6L1040.0 446.6L1040.5 446.6L1041.0 446.6L1041.5 446.6L1042.0 446.6L1042.5 446.6L1043.0 446.6L1043.5 446.7L1044.0 446.7L1044.5 446.7L1045.0 446.7L1045.5 446.7L1046.0 446.7L1046.5 446.8L1047.0 446.8L1047.5 446.8L1048.0 446.8L1048.5 446.9L1049.0 446.9L1049.5 446.9L1050.0 447.0L1050.5 447.0L1051.0 447.1L1051.5 447.1L1052.0 447.2L1052.5 447.2L1053.0 447.3L1053.5 447.3L1054.0 447.4L1054.5 447.4L1055.0 447.5L1055.5 447.6L1056.0 447.6L1056.5 447.7L1057.0 447.8L1057.5 447.9L1058.0 448.0L1058.5 448.1L1059.0 448.3L1059.5 448.4L1060.0 448.5L1060.5 448.7L1061.0 448.8L1061.5 448.9L1062.0 449.0L1062.5 449.0L1063.0 449.0L1063.5 449.0L1064.0 448.9L1064.5 448.8L1065.0 448.7L1065.5 448.5L1066.0 448.3L1066.5 448.1L1067.0 447.9L1067.5 447.7L1068.0 447.5L1068.5 447.2L1069.0 447.0L1069.5 446.7L1070.0 446.4L1070.5 446.0L1071.0 445.6L1071.5 445.2L1072.0 444.9L1072.5 444.6L1073.0 444.5L1073.5 444.6L1074.0 444.9L1074.5 445.5L1075.0 446.2L1075.5 447.0L1076.0 448.1L1076.5 449.7L1077.0 450.5L1077.5 449.8L1078.0 448.4L1078.5 447.0L1079.0 445.6L1079.5 444.2L1080.0 443.5L1080.5 444.2L1081.0 445.6L1081.5 447.0L1082.0 448.1L1082.5 449.1L1083.0 449.5L1083.5 449.1L1084.0 448.3L1084.5 447.6L1085.0 447.0L1085.5 446.6L1086.0 446.2L1086.5 445.9L1087.0 445.6L1087.5 445.5L1088.0 445.5L1088.5 445.6L1089.0 445.8L1089.5 446.1L1090.0 446.3L1090.5 446.6L1091.0 446.9L1091.5 447.1L1092.0 447.3L1092.5 447.4L1093.0 447.5L1093.5 447.5L1094.0 447.4L1094.5 447.3L1095.0 447.1L1095.5 447.0L1096.0 446.8L1096.5 446.7L1097.0 446.6L1097.5 446.5L1098.0 446.4L1098.5 446.4L1099.0 446.3L1099.5 446.3L1100.0 446.3L1100.5 446.3L1101.0 446.3L1101.5 446.3L1102.0 446.4L1102.5 446.4L1103.0 446.4L1103.5 446.5L1104.0 446.5L1104.5 446.5L1105.0 446.6L1105.5 446.6L1106.0 446.7L1106.5 446.7L1107.0 446.8L1107.5 446.8L1108.0 446.9L1108.5 446.9L1109.0 446.9L1109.5 447.0L1110.0 447.0L1110.5 447.1L1111.0 447.1L1111.5 447.1L1112.0 447.2L1112.5 447.2L1113.0 447.3L1113.5 447.3L1114.0 447.3L1114.5 447.4L1115.0 447.4L1115.5 447.4L1116.0 447.4L1116.5 447.5L1117.0 447.5L1117.5 447.5L1118.0 447.5L1118.5 447.5L1119.0 447.6L1119.5 447.6L1120.0 447.6L1120.5 447.6L1121.0 447.6L1121.5 447.6L1122.0 447.7L1122.5 447.7L1123.0 447.7L1123.5 447.7L1124.0 447.7L1124.5 447.7L1125.0 447.7L1125.5 447.7L1126.0 447.7L1126.5 447.8L1127.0 447.8L1127.5 447.8L1128.0 447.8L1128.5 447.8L1129.0 447.8L1129.5 447.8L1130.0 447.8L1130.5 447.8L1131.0 447.8L1131.5 447.8L1132.0 447.9L1132.5 447.9L1133.0 447.9L1133.5 447.9L1134.0 447.9L1134.5 447.9L1135.0 447.9L1135.5 447.9L1136.0 447.9L1136.5 447.9L1137.0 447.9L1137.5 447.9L1138.0 447.9L1138.5 447.9L1139.0 447.9L1139.5 447.9L1140.0 447.9L1140.5 447.9L1141.0 447.9L1141.5 447.9L1142.0 447.9L1142.5 447.9L1143.0 447.9L1143.5 448.0L1144.0 448.0L1144.5 448.0L1145.0 448.0L1145.5 448.0L1146.0 448.0L1146.5 448.0L1147.0 448.0L1147.5 448.0L1148.0 448.0L1148.5 448.0L1149.0 448.0L1149.5 448.0L1150.0 448.0L1150.5 448.0L1151.0 448.0L1151.5 448.0L1152.0 448.0L1152.5 448.0L1153.0 448.0L1153.5 448.0L1154.0 448.0L1154.5 448.0L1155.0 448.0L1155.5 448.0L1156.0 448.0L1156.5 448.0L1157.0 448.0L1157.5 448.0L1158.0 448.0L1158.5 448.0L1159.0 448.0L1159.5 448.0L1160.0 448.0L1160.5 448.0L1161.0 448.0L1161.5 448.0L1162.0 448.0L1162.5 448.0L1163.0 448.0L1163.5 448.0L1164.0 448.0L1164.5 448.0L1165.0 448.0L1165.5 448.0L1166.0 448.0L1166.5 448.0L1167.0 448.0L1167.5 448.0L1168.0 448.0L1168.5 448.0L1169.0 448.0L1169.5 448.0L1170.0 448.0L1170.5 448.0L1171.0 448.0L1171.5 448.0L1172.0 448.0L1172.5 448.0L1173.0 448.0L1173.5 448.0L1174.0 448.0L1174.5 448.0L1175.0 448.0L1175.5 448.0L1176.0 448.0L1176.5 448.0L1177.0 448.0L1177.5 448.0L1178.0 448.0L1178.5 448.0L1179.0 448.0L1179.5 448.0L1180.0 448.0L1180.5 448.0L1181.0 448.0L1181.5 448.0L1182.0 448.0L1182.5 448.0L1183.0 448.0L1183.5 448.0L1184.0 448.0L1184.5 448.0L1185.0 448.0L1185.5 448.0L1186.0 448.0L1186.5 448.0L1187.0 448.0L1187.5 448.0L1188.0 448.0L1188.5 448.0L1189.0 448.0L1189.5 448.0L1190.0 448.0L1190.5 448.0L1191.0 448.0L1191.5 448.0L1192.0 448.0L1192.5 448.0L1193.0 448.0L1193.5 448.0L1194.0 448.0L1194.5 448.0L1195.0 448.0L1195.5 448.0L1196.0 448.0L1196.5 448.0L1197.0 447.9L1197.5 447.9L1198.0 447.9L1198.5 447.9L1199.0 447.9L1199.5 447.9L1200.0 447.9L1200.5 447.9L1201.0 447.9L1201.5 447.9L1202.0 447.9L1202.5 447.9L1203.0 447.9L1203.5 447.9L1204.0 447.9L1204.5 447.9L1205.0 447.9L1205.5 447.9L1206.0 447.9L1206.5 447.9L1207.0 447.9L1207.5 447.9L1208.0 447.9L1208.5 447.9L1209.0 447.9L1209.5 447.9L1210.0 447.9L1210.5 447.9L1211.0 447.9L1211.5 447.9L1212.0 447.9L1212.5 447.9L1213.0 447.9L1213.5 447.9L1214.0 447.9L1214.5 447.9L1215.0 447.9L1215.5 447.9L1216.0 447.9L1216.5 447.9L1217.0 447.9L1217.5 447.9L1218.0 447.9L1218.5 447.9L1219.0 447.9L1219.5 447.9L1220.0 447.9L1220.5 447.9L1221.0 447.9L1221.5 447.9L1222.0 447.9L1222.5 447.9L1223.0 447.9L1223.5 447.9L1224.0 447.9L1224.5 447.9L1225.0 447.9L1225.5 447.9L1226.0 447.9L1226.5 447.9L1227.0 447.9L1227.5 447.9L1228.0 447.9L1228.5 447.9L1229.0 447.9L1229.5 447.9L1230.0 447.9L1230.5 447.8L1231.0 447.8L1231.5 447.8L1232.0 447.8L1232.5 447.8L1233.0 447.8L1233.5 447.8L1234.0 447.8L1234.5 447.8L1235.0 447.8L1235.5 447.8L1236.0 447.8L1236.5 447.8L1237.0 447.8L1237.5 447.8L1238.0 447.8L1238.5 447.8L1239.0 447.8L1239.5 447.8L1240.0 447.8L1240.5 447.8L1241.0 447.8L1241.5 447.8L1242.0 447.8L1242.5 447.8L1243.0 447.8L1243.5 447.8L1244.0 447.8L1244.5 447.8L1245.0 447.8L1245.5 447.8L1246.0 447.8L1246.5 447.8L1247.0 447.8L1247.5 447.8L1248.0 447.8L1248.5 447.8L1249.0 447.8L1249.5 447.8L1250.0 447.8L1250.5 447.8L1251.0 447.8L1251.5 447.8L1252.0 447.8L1252.5 447.8L1253.0 447.8L1253.5 447.8L1254.0 447.8L1254.5 447.8L1255.0 447.8L1255.5 447.8L1256.0 447.8L1256.5 447.8L1257.0 447.8L1257.5 447.8L1258.0 447.8L1258.5 447.8L1259.0 447.8L1259.5 447.8L1260.0 447.8L1260.5 447.8L1261.0 447.8L1261.5 447.8L1262.0 447.8L1262.5 447.8L1263.0 447.8L1263.5 447.8L1264.0 447.8L1264.5 447.8L1265.0 447.8L1265.5 447.8L1266.0 447.8L1266.5 447.8L1267.0 447.8L1267.5 447.8L1268.0 447.8L1268.5 447.8L1269.0 447.8L1269.5 447.8L1270.0 447.8L1270.5 447.8L1271.0 447.8L1271.5 447.8L1272.0 447.8L1272.5 447.8L1273.0 447.8L1273.5 447.8L1274.0 447.8L1274.5 447.8L1275.0 447.7L1275.5 447.7L1276.0 447.7L1276.5 447.7L1277.0 447.7L1277.5 447.7L1278.0 447.7L1278.5 447.7L1279.0 447.7L1279.5 447.7L1280.0 447.7L1280.5 447.7L1281.0 447.7L1281.5 447.7L1282.0 447.7L1282.5 447.7L1283.0 447.7L1283.5 447.7L1284.0 447.7L1284.5 447.7L1285.0 447.7L1285.5 447.7L1286.0 447.7L1286.5 447.7L1287.0 447.7L1287.5 447.7L1288.0 447.7L1288.5 447.7L1289.0 447.7L1289.5 447.7L1290.0 447.7L1290.5 447.7L1291.0 447.7L1291.5 447.7L1292.0 447.7L1292.5 447.7L1293.0 447.7L1293.5 447.7L1294.0 447.7L1294.5 447.7L1295.0 447.7L1295.5 447.7L1296.0 447.7L1296.5 447.7L1297.0 447.7L1297.5 447.7L1298.0 447.7L1298.5 447.7L1299.0 447.7L1299.5 447.7L1300.0 447.7L1300.5 447.7L1301.0 447.7L1301.5 447.7L1302.0 447.7L1302.5 447.7L1303.0 447.7L1303.5 447.7L1304.0 447.7L1304.5 447.7L1305.0 447.7L1305.5 447.7L1306.0 447.7L1306.5 447.7L1307.0 447.7L1307.5 447.7L1308.0 447.7L1308.5 447.7L1309.0 447.7L1309.5 447.7L1310.0 447.7L1310.5 447.7L1311.0 447.7L1311.5 447.7L1312.0 447.7L1312.5 447.7L1313.0 447.7L1313.5 447.7L1314.0 447.7L1314.5 447.7L1315.0 447.7L1315.5 447.7L1316.0 447.7L1316.5 447.7L1317.0 447.7L1317.5 447.7L1318.0 447.7L1318.5 447.7L1319.0 447.7L1319.5 447.7L1320.0 447.7L1320.5 447.7L1321.0 447.7L1321.5 447.7L1322.0 447.7L1322.5 447.7L1323.0 447.7L1323.5 447.7L1324.0 447.7L1324.5 447.7L1325.0 447.7L1325.5 447.7L1326.0 447.7L1326.5 447.7L1327.0 447.7L1327.5 447.6L1328.0 447.6L1328.5 447.6L1329.0 447.6L1329.5 447.6L1330.0 447.6L1330.5 447.6L1331.0 447.6L1331.5 447.6L1332.0 447.6L1332.5 447.6L1333.0 447.6L1333.5 447.6L1334.0 447.6L1334.5 447.6L1335.0 447.6L1335.5 447.6L1336.0 447.6L1336.5 447.6L1337.0 447.6L1337.5 447.6L1338.0 447.6L1338.5 447.6L1339.0 447.6L1339.5 447.6L1340.0 447.6L1340.5 447.6L1341.0 447.6L1341.5 447.6L1342.0 447.6L1342.5 447.6L1343.0 447.6L1343.5 447.6L1344.0 447.6L1344.5 447.6L1345.0 447.6L1345.5 447.6L1346.0 447.6L1346.5 447.6L1347.0 447.6L1347.5 447.6L1348.0 447.6L1348.5 447.6L1349.0 447.6L1349.5 447.6L1350.0 447.6L1350.5 447.6L1351.0 447.6L1351.5 447.6L1352.0 447.6L1352.5 447.6L1353.0 447.6L1353.5 447.6" fill="none" stroke="#108443" stroke-width="1.8" stroke-linejoin="round"/>
<path d="M933.6 447.2L934.1 444.8L934.4 448.9L934.9 447.2M936.1 447.2L936.6 445.9L936.9 448.6L937.4 447.2M856.3 447.3L856.8 446.0L857.1 448.7L857.6 447.3M1122.8 447.7L1123.3 445.2L1123.6 449.3L1124.1 447.7M1124.6 447.7L1125.1 446.0L1125.4 450.0L1125.9 447.7M860.1 447.3L860.6 445.1L860.9 448.8L861.4 447.3M862.3 447.3L862.8 445.9L863.1 449.1L863.6 447.3M1171.0 448.0L1171.5 446.2L1171.8 450.3L1172.3 448.0M1171.9 448.0L1172.4 446.4L1172.7 450.1L1173.2 448.0M883.5 447.3L884.0 445.8L884.3 449.8L884.8 447.3M885.7 447.3L886.2 445.1L886.5 449.5L887.0 447.3M886.7 447.3L887.2 445.9L887.5 449.2L888.0 447.3M1310.9 447.7L1311.4 446.1L1311.7 449.4L1312.2 447.7M1312.0 447.7L1312.5 446.0L1312.8 449.3L1313.3 447.7M1314.2 447.7L1314.7 445.3L1315.0 449.8L1315.5 447.7M1312.6 447.7L1313.1 445.3L1313.4 449.5L1313.9 447.7M1196.0 448.0L1196.5 445.6L1196.8 449.9L1197.3 448.0M891.5 447.3L892.0 445.1L892.3 448.7L892.8 447.3M892.6 447.3L893.1 445.3L893.4 449.0L893.9 447.3M894.4 447.3L894.9 445.5L895.2 448.8L895.7 447.3M906.6 447.3L907.1 445.8L907.4 448.8L907.9 447.3M1225.8 447.9L1226.3 446.5L1226.6 449.7L1227.1 447.9M1226.9 447.9L1227.4 445.8L1227.7 449.8L1228.2 447.9M1020.1 446.8L1020.6 444.5L1020.9 448.7L1021.4 446.8M1021.5 446.8L1022.0 445.3L1022.3 448.3L1022.8 446.8M1254.5 447.8L1255.0 446.1L1255.3 449.3L1255.8 447.8M1319.5 447.7L1320.0 445.4L1320.3 449.3L1320.8 447.7M1321.1 447.7L1321.6 445.8L1321.9 449.9L1322.4 447.7M927.4 447.2L927.9 444.8L928.2 448.8L928.7 447.2M1169.8 448.0L1170.3 446.1L1170.6 450.0L1171.1 448.0M1170.8 448.0L1171.3 445.8L1171.6 449.8L1172.1 448.0M1172.2 448.0L1172.7 445.7L1173.0 449.5L1173.5 448.0M1179.8 448.0L1180.3 445.9L1180.6 450.4L1181.1 448.0M1256.6 447.8L1257.1 445.7L1257.4 449.5L1257.9 447.8M873.5 447.3L874.0 445.8L874.3 449.3L874.8 447.3M875.2 447.3L875.7 445.0L876.0 448.6L876.5 447.3M827.6 447.3L828.1 445.5L828.4 449.4L828.9 447.3" fill="none" stroke="#108443" stroke-width="1.0" stroke-linejoin="round"/>
<line x1="849.3" y1="463.6" x2="849.3" y2="472.1" stroke="#000" stroke-width="1.6"/>
<text x="848.6" y="501.4" font-size="34" text-anchor="middle" fill="#000" stroke="#000">3100</text>
<line x1="941.0" y1="463.6" x2="941.0" y2="472.1" stroke="#000" stroke-width="1.6"/>
<text x="940.3" y="501.4" font-size="34" text-anchor="middle" fill="#000" stroke="#000">3200</text>
<line x1="1032.7" y1="463.6" x2="1032.7" y2="472.1" stroke="#000" stroke-width="1.6"/>
<text x="1032.0" y="501.4" font-size="34" text-anchor="middle" fill="#000" stroke="#000">3300</text>
<line x1="1124.4" y1="463.6" x2="1124.4" y2="472.1" stroke="#000" stroke-width="1.6"/>
<text x="1123.7" y="501.4" font-size="34" text-anchor="middle" fill="#000" stroke="#000">3400</text>
<line x1="1216.1" y1="463.6" x2="1216.1" y2="472.1" stroke="#000" stroke-width="1.6"/>
<text x="1215.4" y="501.4" font-size="34" text-anchor="middle" fill="#000" stroke="#000">3500</text>
<line x1="1307.8" y1="463.6" x2="1307.8" y2="472.1" stroke="#000" stroke-width="1.6"/>
<text x="1307.1" y="501.4" font-size="34" text-anchor="middle" fill="#000" stroke="#000">3600</text>
<line x1="803.4" y1="463.6" x2="803.4" y2="468.6" stroke="#000" stroke-width="1.6"/>
<line x1="895.1" y1="463.6" x2="895.1" y2="468.6" stroke="#000" stroke-width="1.6"/>
<line x1="986.8" y1="463.6" x2="986.8" y2="468.6" stroke="#000" stroke-width="1.6"/>
<line x1="1078.5" y1="463.6" x2="1078.5" y2="468.6" stroke="#000" stroke-width="1.6"/>
<line x1="1170.3" y1="463.6" x2="1170.3" y2="468.6" stroke="#000" stroke-width="1.6"/>
<line x1="1262.0" y1="463.6" x2="1262.0" y2="468.6" stroke="#000" stroke-width="1.6"/>
<line x1="1353.7" y1="463.6" x2="1353.7" y2="468.6" stroke="#000" stroke-width="1.6"/>
<line x1="794.9" y1="88.8" x2="803.4" y2="88.8" stroke="#000" stroke-width="1.6"/>
<text x="790.9" y="96.0" font-size="34" text-anchor="end" fill="#000" stroke="#000">15</text>
<line x1="794.9" y1="182.5" x2="803.4" y2="182.5" stroke="#000" stroke-width="1.6"/>
<text x="784.9" y="189.7" font-size="34" text-anchor="end" fill="#000" stroke="#000">0</text>
<line x1="794.9" y1="276.2" x2="803.4" y2="276.2" stroke="#000" stroke-width="1.6"/>
<text x="792.4" y="283.4" font-size="34" text-anchor="end" fill="#000" stroke="#000">-15</text>
<line x1="794.9" y1="369.9" x2="803.4" y2="369.9" stroke="#000" stroke-width="1.6"/>
<text x="792.4" y="377.1" font-size="34" text-anchor="end" fill="#000" stroke="#000">-30</text>
<line x1="794.9" y1="463.6" x2="803.4" y2="463.6" stroke="#000" stroke-width="1.6"/>
<text x="792.4" y="470.8" font-size="34" text-anchor="end" fill="#000" stroke="#000">-45</text>
<line x1="798.4" y1="135.7" x2="803.4" y2="135.7" stroke="#000" stroke-width="1.6"/>
<line x1="798.4" y1="229.4" x2="803.4" y2="229.4" stroke="#000" stroke-width="1.6"/>
<line x1="798.4" y1="323.1" x2="803.4" y2="323.1" stroke="#000" stroke-width="1.6"/>
<line x1="798.4" y1="416.8" x2="803.4" y2="416.8" stroke="#000" stroke-width="1.6"/>
<rect x="803.4" y="58.4" width="550.3" height="405.2" fill="none" stroke="#000" stroke-width="1.6"/>
<text x="703.0" y="42.0" font-size="48" text-anchor="start" fill="#000" stroke="#000">b</text>
<text x="817.3" y="99.3" font-size="34.3" text-anchor="start" fill="#231F20" stroke="#231F20">HC700-400-2h</text>
<text x="1335.6" y="100.0" font-size="31.5" text-anchor="end" fill="#000" stroke="#000">10 K</text>
<text x="1251.2" y="172.0" font-size="31.1" text-anchor="start" fill="#8E8E8E" stroke="#8E8E8E">Raw</text>
<text x="1262.2" y="223.0" font-size="31.1" text-anchor="start" fill="#000" stroke="#000">Fit</text>
<text x="1240.2" y="312.0" font-size="31.1" text-anchor="start" fill="#F5821F" stroke="#F5821F">Broad</text>
<text x="1233.2" y="358.0" font-size="31.1" text-anchor="start" fill="#3A55A5" stroke="#3A55A5">Narrow</text>
<text x="1224.2" y="439.0" font-size="31.1" text-anchor="start" fill="#108443" stroke="#108443">Residual</text>
<text transform="translate(732.0 256.5) rotate(-90)" font-size="38" text-anchor="middle" fill="#000" stroke="#000">Intensity (arb. units)</text>
<text x="1110.0" y="547.0" font-size="38" text-anchor="middle" fill="#000" stroke="#000">Magnetic Field (G)</text></g>
<g id="panel-c"><path d="M1467.4 172.5L1469.2 172.5L1471.0 172.6L1472.9 172.7L1474.7 172.6L1476.5 172.7L1478.4 172.6L1480.2 172.4L1482.0 172.7L1483.9 172.7L1485.7 172.5L1487.5 172.6L1489.4 172.6L1491.2 172.8L1493.0 172.6L1494.9 172.5L1496.7 172.9L1498.5 172.7L1500.4 173.0L1502.2 172.9L1504.0 173.0L1505.9 172.7L1507.7 172.9L1509.5 172.6L1511.4 172.7L1513.2 172.7L1515.0 173.1L1516.9 172.8L1518.7 172.7L1520.5 172.7L1522.4 173.0L1524.2 172.8L1526.0 172.9L1527.9 172.8L1529.7 172.5L1531.5 172.8L1533.4 172.7L1535.2 172.5L1537.0 172.8L1538.9 172.7L1540.7 172.7L1542.5 172.7L1544.4 172.9L1546.2 172.7L1548.0 172.4L1549.9 172.9L1551.7 172.5L1553.5 172.6L1555.4 172.8L1557.2 172.3L1559.0 172.5L1560.9 172.8L1562.7 172.6L1564.5 172.5L1566.4 172.6L1568.2 172.4L1570.0 172.6L1571.9 172.4L1573.7 172.3L1575.5 172.6L1577.4 172.4L1579.2 172.5L1581.0 172.4L1582.9 172.6L1584.7 172.5L1586.5 172.4L1588.4 172.2L1590.2 172.1L1592.0 172.5L1593.9 172.4L1595.7 172.1L1597.5 172.5L1599.4 172.2L1601.2 172.1L1603.0 171.8L1604.9 171.9L1606.7 172.0L1608.5 172.0L1610.4 171.9L1612.2 171.5L1614.0 171.8L1615.9 171.7L1617.7 171.6L1619.5 171.6L1621.4 171.5L1623.2 171.6L1625.0 171.3L1626.9 171.3L1628.7 171.0L1630.5 171.0L1632.4 171.0L1634.2 170.8L1636.0 170.8L1637.9 170.5L1639.7 170.6L1641.5 170.3L1643.4 170.5L1645.2 170.1L1647.0 170.3L1648.9 170.2L1649.8 169.9L1650.7 169.9L1651.6 169.6L1652.5 169.2L1653.5 169.6L1654.4 169.5L1655.3 169.3L1656.2 169.2L1657.1 169.2L1658.0 169.1L1659.0 168.8L1659.9 168.8L1660.8 168.9L1661.7 168.7L1662.6 168.6L1663.5 168.6L1664.5 168.3L1665.4 168.4L1666.3 168.0L1667.2 168.0L1668.1 167.9L1669.0 167.9L1670.0 167.7L1670.9 167.9L1671.8 167.6L1672.7 167.2L1673.6 167.5L1674.5 166.9L1675.5 167.2L1676.4 166.6L1677.3 166.8L1678.2 166.4L1679.1 166.3L1680.0 166.5L1681.0 165.9L1681.9 165.7L1682.8 165.8L1683.7 165.7L1684.6 165.5L1685.5 165.5L1686.5 165.0L1687.4 165.1L1688.3 164.9L1689.2 164.9L1690.1 164.7L1691.0 164.6L1692.0 164.0L1692.9 164.1L1693.8 163.7L1694.7 163.8L1695.6 163.7L1696.5 163.5L1697.5 163.3L1698.4 163.1L1699.3 163.0L1700.2 162.8L1701.1 162.8L1702.0 162.5L1703.0 161.9L1703.4 162.2L1703.9 162.2L1704.3 161.8L1704.8 161.6L1705.3 161.9L1705.7 161.6L1706.2 161.6L1706.6 161.7L1707.1 161.1L1707.5 161.1L1708.0 161.0L1708.5 161.0L1708.9 160.7L1709.4 160.7L1709.8 160.5L1710.3 160.5L1710.8 160.4L1711.2 159.8L1711.7 159.9L1712.1 159.6L1712.6 159.5L1713.0 159.4L1713.5 159.2L1714.0 158.7L1714.4 158.7L1714.9 158.4L1715.3 158.1L1715.8 157.6L1716.3 157.4L1716.7 157.1L1717.2 156.9L1717.6 156.7L1718.1 155.8L1718.5 155.4L1719.0 155.1L1719.5 154.4L1719.9 153.8L1720.4 153.2L1720.8 152.5L1721.3 152.0L1721.8 150.9L1722.2 150.5L1722.7 149.2L1723.1 148.2L1723.6 147.0L1724.0 145.7L1724.5 144.4L1725.0 143.4L1725.4 141.9L1725.9 139.8L1726.3 138.3L1726.6 137.1L1726.8 135.9L1727.0 135.3L1727.3 134.2L1727.5 132.7L1727.7 131.5L1727.9 130.3L1728.2 128.9L1728.4 127.7L1728.6 126.5L1728.9 124.8L1729.1 123.4L1729.3 122.0L1729.5 120.1L1729.8 118.5L1730.0 116.8L1730.2 115.3L1730.5 113.5L1730.7 111.8L1730.9 110.0L1731.2 108.1L1731.4 106.4L1731.6 104.4L1731.8 102.7L1732.1 100.6L1732.3 99.5L1732.5 97.5L1732.8 96.1L1733.0 94.7L1733.2 93.6L1733.4 92.3L1733.7 91.1L1733.9 90.5L1734.1 90.0L1734.4 89.8L1734.6 89.7L1734.8 90.3L1735.0 91.5L1735.3 92.5L1735.5 94.5L1735.7 96.9L1736.0 99.1L1736.2 102.0L1736.4 106.0L1736.7 110.5L1736.9 115.3L1737.1 120.2L1737.3 126.2L1737.6 132.5L1737.8 139.1L1738.0 146.1L1738.3 153.2L1738.5 160.7L1738.7 168.3L1738.9 176.1L1739.2 183.4L1739.4 191.1L1739.6 198.0L1739.9 205.3L1740.1 211.7L1740.3 217.9L1740.5 223.9L1740.8 228.6L1741.0 233.4L1741.2 238.0L1741.5 241.4L1741.7 244.7L1741.9 247.8L1742.2 249.5L1742.4 251.2L1742.6 252.4L1742.8 253.5L1743.1 253.8L1743.3 253.8L1743.5 253.4L1743.8 253.1L1744.0 252.4L1744.2 251.2L1744.4 250.4L1744.7 249.1L1744.9 248.0L1745.1 245.9L1745.4 244.5L1745.6 242.9L1745.8 241.2L1746.0 239.6L1746.3 237.9L1746.5 236.3L1746.7 234.6L1747.0 232.9L1747.2 230.9L1747.4 229.5L1747.7 228.0L1747.9 226.5L1748.1 225.0L1748.3 223.1L1748.6 221.9L1748.8 220.6L1749.0 219.3L1749.3 218.1L1749.5 216.7L1749.7 215.3L1749.9 214.4L1750.2 213.3L1750.4 212.2L1750.6 211.1L1750.9 210.4L1751.1 209.2L1751.3 208.4L1751.5 207.3L1752.0 205.9L1752.5 204.2L1752.9 202.7L1753.4 201.8L1753.8 200.7L1754.3 199.5L1754.8 198.6L1755.2 197.9L1755.7 196.8L1756.1 195.8L1756.6 195.5L1757.0 194.9L1757.5 194.5L1758.0 193.8L1758.4 193.6L1758.9 193.1L1759.3 192.3L1759.8 192.3L1760.3 191.6L1760.7 191.2L1761.2 191.2L1761.6 190.8L1762.1 190.3L1762.5 190.5L1763.0 190.3L1763.5 190.3L1763.9 189.8L1764.4 189.4L1764.8 189.3L1765.3 189.5L1765.8 189.4L1766.2 189.2L1766.7 188.9L1767.1 188.9L1767.6 188.7L1768.0 188.5L1768.5 188.5L1769.0 188.4L1769.4 188.2L1769.9 188.2L1770.3 188.0L1770.8 187.7L1771.3 187.8L1771.7 187.8L1772.2 188.0L1772.6 187.6L1773.1 187.9L1773.5 187.7L1774.0 187.3L1774.5 187.2L1774.9 187.3L1775.4 187.5L1776.3 187.1L1777.2 187.0L1778.1 186.6L1779.0 186.2L1780.0 186.4L1780.9 186.4L1781.8 186.3L1782.7 186.0L1783.6 185.9L1784.5 185.9L1785.5 185.5L1786.4 185.6L1787.3 185.0L1788.2 184.9L1789.1 184.8L1790.0 184.9L1791.0 184.6L1791.9 184.5L1792.8 184.4L1793.7 184.3L1794.6 184.3L1795.5 184.2L1796.5 183.6L1797.4 183.7L1798.3 183.5L1799.2 183.2L1800.1 183.5L1801.0 183.2L1802.0 182.9L1802.9 182.8L1803.8 182.8L1804.7 182.4L1805.6 182.4L1806.5 182.5L1807.5 182.4L1808.4 181.9L1809.3 181.9L1810.2 182.2L1811.1 181.5L1812.0 181.5L1813.0 181.3L1813.9 181.5L1814.8 181.3L1815.7 181.4L1816.6 180.6L1817.5 181.0L1818.5 180.6L1819.4 180.9L1820.3 180.7L1821.2 180.9L1822.1 180.6L1823.0 180.2L1824.0 180.5L1824.9 180.1L1825.8 180.1L1826.7 180.3L1827.6 180.1L1828.5 180.0L1829.5 179.8L1830.4 179.9L1832.2 179.8L1834.0 179.5L1835.9 179.5L1837.7 179.4L1839.5 179.1L1841.4 178.8L1843.2 179.1L1845.0 178.8L1846.9 178.8L1848.7 178.8L1850.5 178.3L1852.4 178.5L1854.2 178.1L1856.0 178.4L1857.9 178.1L1859.7 178.1L1861.5 178.2L1863.4 177.9L1865.2 177.9L1867.0 177.8L1868.9 177.8L1870.7 177.9L1872.5 177.7L1874.4 177.6L1876.2 177.4L1878.0 177.7L1879.9 177.5L1881.7 177.8L1883.5 177.3L1885.4 177.6L1887.2 177.7L1889.0 177.4L1890.9 177.1L1892.7 177.6L1894.5 177.5L1896.4 177.4L1898.2 177.4L1900.0 177.1L1901.9 177.3L1903.7 177.3L1905.5 177.1L1907.4 177.3L1909.2 177.0L1911.0 177.3L1912.9 177.3L1914.7 177.4L1916.5 176.7L1918.4 177.1L1920.2 177.0L1922.0 177.0L1923.9 177.0L1925.7 177.0L1927.5 176.7L1929.4 177.2L1931.2 177.3L1933.0 177.2L1934.9 177.2L1936.7 176.9L1938.5 176.8L1940.4 177.2L1942.2 177.2L1944.0 177.0L1945.9 176.7L1947.7 177.5L1949.5 176.9L1951.4 177.2L1953.2 176.8L1955.0 177.2L1956.9 177.0L1958.7 177.2L1960.5 177.2L1962.4 176.7L1964.2 176.8L1966.0 177.1L1967.9 177.1L1969.7 177.3L1971.5 177.1L1973.4 177.0L1975.2 177.0L1977.0 177.0L1978.9 177.2L1980.7 177.0L1982.5 177.0L1984.4 176.8L1986.2 176.7L1988.0 177.1L1989.9 177.2L1991.7 177.1L1993.5 177.2L1995.4 177.2L1997.2 177.1L1999.0 177.3L2000.9 177.0L2002.7 177.1L2004.5 177.1L2006.4 177.2L2008.2 177.3L2010.0 177.3L2011.9 177.2L2012.8 177.2" fill="none" stroke="#8E8E8E" stroke-width="2.0" stroke-linejoin="round" stroke-linecap="butt"/>
<path d="M1919.8 177.0L1920.3 174.4L1920.6 179.5L1921.1 177.0M1922.0 177.0L1922.5 174.6L1922.8 178.4L1923.3 177.0M1923.2 177.0L1923.7 175.5L1924.0 179.3L1924.5 177.0M1924.9 177.0L1925.4 175.3L1925.7 178.6L1926.2 177.0M1940.0 177.0L1940.5 174.7L1940.8 179.2L1941.3 177.0M1942.5 177.0L1943.0 175.5L1943.3 179.3L1943.8 177.0M1943.9 177.0L1944.4 175.0L1944.7 178.8L1945.2 177.0M1946.3 177.0L1946.8 174.9L1947.1 179.7L1947.6 177.0M1590.6 172.3L1591.1 170.5L1591.4 174.4L1591.9 172.3M1591.8 172.3L1592.3 170.2L1592.6 173.6L1593.1 172.3M1592.8 172.3L1593.3 169.7L1593.6 174.6L1594.1 172.3M1594.8 172.2L1595.3 170.9L1595.6 174.0L1596.1 172.2M1596.3 172.2L1596.8 170.4L1597.1 174.5L1597.6 172.2M1597.2 172.2L1597.7 169.6L1598.0 174.3L1598.5 172.2M1599.2 172.1L1599.7 170.6L1600.0 174.4L1600.5 172.1M1600.8 172.1L1601.3 169.7L1601.6 174.2L1602.1 172.1M1877.3 177.6L1877.8 175.4L1878.1 179.9L1878.6 177.6M1879.4 177.5L1879.9 175.5L1880.2 180.2L1880.7 177.5M1851.1 178.4L1851.6 176.0L1851.9 181.1L1852.4 178.4M1852.9 178.4L1853.4 176.9L1853.7 180.9L1854.2 178.4M1980.3 177.0L1980.8 175.3L1981.1 178.4L1981.6 177.0M1981.5 177.0L1982.0 174.7L1982.3 178.6L1982.8 177.0M1983.8 177.0L1984.3 174.4L1984.6 179.0L1985.1 177.0M1984.9 177.0L1985.4 174.6L1985.7 178.4L1986.2 177.0M1509.4 172.7L1509.9 171.1L1510.2 174.1L1510.7 172.7M1510.4 172.7L1510.9 171.1L1511.2 174.5L1511.7 172.7M1512.7 172.7L1513.2 170.5L1513.5 174.2L1514.0 172.7M1654.4 169.4L1654.9 167.7L1655.2 171.3L1655.7 169.4M1796.1 183.8L1796.6 182.4L1796.9 185.4L1797.4 183.8M1496.2 172.6L1496.7 170.5L1497.0 174.9L1497.5 172.6M1655.6 169.2L1656.1 167.6L1656.4 171.4L1656.9 169.2M1517.4 172.7L1517.9 170.5L1518.2 174.9L1518.7 172.7M1519.8 172.7L1520.3 170.3L1520.6 175.1L1521.1 172.7M1994.2 177.1L1994.7 175.4L1995.0 179.2L1995.5 177.1M1995.6 177.1L1996.1 175.0L1996.4 179.4L1996.9 177.1M1996.8 177.1L1997.3 175.5L1997.6 179.6L1998.1 177.1M1997.9 177.1L1998.4 174.7L1998.7 178.9L1999.2 177.1M2000.1 177.1L2000.6 175.1L2000.9 179.3L2001.4 177.1M1788.8 184.9L1789.3 182.8L1789.6 187.6L1790.1 184.9M1790.4 184.7L1790.9 183.1L1791.2 187.2L1791.7 184.7M1791.9 184.4L1792.4 181.9L1792.7 186.6L1793.2 184.4M1998.2 177.1L1998.7 175.7L1999.0 179.2L1999.5 177.1M2000.0 177.1L2000.5 175.6L2000.8 178.5L2001.3 177.1M2002.0 177.1L2002.5 174.8L2002.8 179.7L2003.3 177.1M1671.4 167.4L1671.9 165.8L1672.2 169.3L1672.7 167.4M1673.4 167.1L1673.9 165.8L1674.2 169.1L1674.7 167.1M1676.0 166.8L1676.5 164.9L1676.8 169.3L1677.3 166.8M1677.1 166.6L1677.6 164.7L1677.9 168.1L1678.4 166.6M1704.2 161.8L1704.7 159.1L1705.0 163.6L1705.5 161.8M1706.4 161.3L1706.9 159.3L1707.2 163.0L1707.7 161.3M1504.5 172.7L1505.0 170.0L1505.3 174.0L1505.8 172.7M1506.7 172.7L1507.2 170.4L1507.5 174.1L1508.0 172.7M1509.3 172.7L1509.8 170.2L1510.1 174.8L1510.6 172.7M1510.6 172.7L1511.1 170.1L1511.4 174.3L1511.9 172.7M1512.3 172.7L1512.8 170.4L1513.1 175.2L1513.6 172.7M1485.7 172.6L1486.2 170.7L1486.5 174.9L1487.0 172.6M1486.8 172.6L1487.3 170.4L1487.6 174.2L1488.1 172.6M1488.6 172.6L1489.1 170.3L1489.4 174.9L1489.9 172.6M1638.9 170.6L1639.4 168.3L1639.7 172.2L1640.2 170.6M1640.8 170.4L1641.3 168.9L1641.6 172.5L1642.1 170.4M1642.5 170.3L1643.0 168.3L1643.3 172.5L1643.8 170.3M1644.0 170.2L1644.5 167.8L1644.8 171.7L1645.3 170.2M1788.0 185.0L1788.5 182.5L1788.8 187.5L1789.3 185.0M1789.5 184.8L1790.0 182.1L1790.3 186.9L1790.8 184.8M1790.6 184.6L1791.1 182.4L1791.4 187.0L1791.9 184.6M1791.5 184.5L1792.0 182.1L1792.3 187.1L1792.8 184.5M1785.2 185.5L1785.7 183.9L1786.0 187.5L1786.5 185.5M1569.0 172.6L1569.5 171.2L1569.8 174.6L1570.3 172.6M1570.1 172.5L1570.6 170.0L1570.9 174.2L1571.4 172.5M1571.1 172.5L1571.6 170.7L1571.9 173.9L1572.4 172.5M1572.9 172.5L1573.4 170.4L1573.7 174.2L1574.2 172.5M1640.0 170.5L1640.5 168.1L1640.8 172.2L1641.3 170.5M1641.3 170.4L1641.8 168.1L1642.1 172.9L1642.6 170.4M1885.9 177.4L1886.4 176.1L1886.7 179.5L1887.2 177.4M1653.1 169.5L1653.6 166.9L1653.9 172.1L1654.4 169.5M1654.6 169.3L1655.1 167.2L1655.4 171.4L1655.9 169.3M1655.7 169.2L1656.2 166.6L1656.5 171.7L1657.0 169.2M1656.8 169.1L1657.3 166.5L1657.6 170.6L1658.1 169.1M1722.1 149.4L1722.6 147.9L1722.9 151.1L1723.4 149.4M1723.8 145.2L1724.3 143.0L1724.6 147.6L1725.1 145.2M1647.5 170.0L1648.0 167.8L1648.3 171.6L1648.8 170.0M1649.9 169.8L1650.4 168.5L1650.7 172.3L1651.2 169.8M1650.9 169.7L1651.4 167.2L1651.7 172.4L1652.2 169.7M1653.3 169.5L1653.8 166.8L1654.1 171.7L1654.6 169.5M1655.6 169.3L1656.1 167.5L1656.4 170.6L1656.9 169.3M1923.7 177.0L1924.2 175.7L1924.5 179.3L1925.0 177.0M1925.0 177.0L1925.5 175.1L1925.8 179.3L1926.3 177.0M1641.9 170.4L1642.4 168.5L1642.7 172.4L1643.2 170.4M1643.8 170.2L1644.3 168.2L1644.6 171.7L1645.1 170.2M1645.6 170.1L1646.1 168.6L1646.4 171.5L1646.9 170.1M1647.7 169.9L1648.2 167.9L1648.5 171.5L1649.0 169.9M1791.2 184.5L1791.7 182.1L1792.0 186.9L1792.5 184.5M1793.0 184.2L1793.5 182.4L1793.8 186.4L1794.3 184.2M1794.5 184.0L1795.0 182.2L1795.3 186.0L1795.8 184.0M1619.0 171.6L1619.5 169.7L1619.8 172.9L1620.3 171.6M1620.4 171.5L1620.9 169.8L1621.2 173.1L1621.7 171.5M1888.7 177.4L1889.2 175.7L1889.5 179.4L1890.0 177.4M1890.9 177.3L1891.4 175.0L1891.7 179.1L1892.2 177.3M1893.0 177.3L1893.5 175.3L1893.8 178.7L1894.3 177.3M1793.4 184.2L1793.9 181.6L1794.2 185.5L1794.7 184.2M1795.5 183.8L1796.0 181.2L1796.3 185.2L1796.8 183.8M1507.0 172.7L1507.5 171.1L1507.8 174.0L1508.3 172.7M1508.8 172.7L1509.3 170.3L1509.6 174.5L1510.1 172.7" fill="none" stroke="#8E8E8E" stroke-width="1.0" stroke-linejoin="round"/>
<path d="M1467.4 256.7L1469.2 256.7L1471.0 256.7L1472.9 256.7L1474.7 256.7L1476.5 256.7L1478.4 256.7L1480.2 256.7L1482.0 256.7L1483.9 256.7L1485.7 256.7L1487.5 256.7L1489.4 256.7L1491.2 256.7L1493.0 256.7L1494.9 256.6L1496.7 256.6L1498.5 256.6L1500.4 256.6L1502.2 256.6L1504.0 256.6L1505.9 256.6L1507.7 256.6L1509.5 256.6L1511.4 256.6L1513.2 256.6L1515.0 256.5L1516.9 256.5L1518.7 256.5L1520.5 256.5L1522.4 256.5L1524.2 256.5L1526.0 256.5L1527.9 256.5L1529.7 256.4L1531.5 256.4L1533.4 256.4L1535.2 256.4L1537.0 256.4L1538.9 256.4L1540.7 256.4L1542.5 256.3L1544.4 256.3L1546.2 256.3L1548.0 256.3L1549.9 256.3L1551.7 256.2L1553.5 256.2L1555.4 256.2L1557.2 256.2L1559.0 256.2L1560.9 256.1L1562.7 256.1L1564.5 256.1L1566.4 256.1L1568.2 256.0L1570.0 256.0L1571.9 256.0L1573.7 255.9L1575.5 255.9L1577.4 255.9L1579.2 255.8L1581.0 255.8L1582.9 255.8L1584.7 255.7L1586.5 255.7L1588.4 255.7L1590.2 255.6L1592.0 255.6L1593.9 255.5L1595.7 255.5L1597.5 255.4L1599.4 255.4L1601.2 255.3L1603.0 255.3L1604.9 255.2L1606.7 255.1L1608.5 255.1L1610.4 255.0L1612.2 254.9L1614.0 254.9L1615.9 254.8L1617.7 254.7L1619.5 254.6L1621.4 254.6L1623.2 254.5L1625.0 254.4L1626.9 254.3L1628.7 254.2L1630.5 254.1L1632.4 254.0L1634.2 253.9L1636.0 253.7L1637.9 253.6L1639.7 253.5L1641.5 253.4L1643.4 253.2L1645.2 253.1L1647.0 252.9L1648.9 252.8L1649.8 252.7L1650.7 252.6L1651.6 252.5L1652.5 252.4L1653.5 252.3L1654.4 252.2L1655.3 252.1L1656.2 252.0L1657.1 251.9L1658.0 251.8L1659.0 251.7L1659.9 251.6L1660.8 251.5L1661.7 251.4L1662.6 251.3L1663.5 251.2L1664.5 251.1L1665.4 251.0L1666.3 250.9L1667.2 250.7L1668.1 250.6L1669.0 250.5L1670.0 250.4L1670.9 250.2L1671.8 250.1L1672.7 250.0L1673.6 249.8L1674.5 249.7L1675.5 249.6L1676.4 249.4L1677.3 249.3L1678.2 249.1L1679.1 249.0L1680.0 248.9L1681.0 248.7L1681.9 248.6L1682.8 248.4L1683.7 248.2L1684.6 248.1L1685.5 247.9L1686.5 247.8L1687.4 247.6L1688.3 247.4L1689.2 247.3L1690.1 247.1L1691.0 247.0L1692.0 246.8L1692.9 246.6L1693.8 246.4L1694.7 246.3L1695.6 246.1L1696.5 245.9L1697.5 245.8L1698.4 245.6L1699.3 245.4L1700.2 245.2L1701.1 245.0L1702.0 244.8L1703.0 244.6L1703.4 244.5L1703.9 244.4L1704.3 244.3L1704.8 244.2L1705.3 244.1L1705.7 244.0L1706.2 243.9L1706.6 243.8L1707.1 243.7L1707.5 243.6L1708.0 243.4L1708.5 243.3L1708.9 243.2L1709.4 243.0L1709.8 242.9L1710.3 242.7L1710.8 242.6L1711.2 242.4L1711.7 242.3L1712.1 242.1L1712.6 241.9L1713.0 241.7L1713.5 241.5L1714.0 241.2L1714.4 241.0L1714.9 240.7L1715.3 240.5L1715.8 240.2L1716.3 239.9L1716.7 239.5L1717.2 239.2L1717.6 238.8L1718.1 238.3L1718.5 237.9L1719.0 237.4L1719.5 236.9L1719.9 236.3L1720.4 235.7L1720.8 235.0L1721.3 234.3L1721.8 233.5L1722.2 232.6L1722.7 231.7L1723.1 230.6L1723.6 229.5L1724.0 228.3L1724.5 227.0L1725.0 225.5L1725.4 223.9L1725.9 222.2L1726.3 220.4L1726.6 219.4L1726.8 218.3L1727.0 217.3L1727.3 216.1L1727.5 215.0L1727.7 213.8L1727.9 212.5L1728.2 211.2L1728.4 209.9L1728.6 208.5L1728.9 207.0L1729.1 205.5L1729.3 204.0L1729.5 202.4L1729.8 200.8L1730.0 199.1L1730.2 197.4L1730.5 195.7L1730.7 193.9L1730.9 192.1L1731.2 190.3L1731.4 188.5L1731.6 186.7L1731.8 185.0L1732.1 183.2L1732.3 181.5L1732.5 179.9L1732.8 178.3L1733.0 176.9L1733.2 175.6L1733.4 174.4L1733.7 173.5L1733.9 172.7L1734.1 172.2L1734.4 172.0L1734.6 172.1L1734.8 172.5L1735.0 173.4L1735.3 174.6L1735.5 176.4L1735.7 178.6L1736.0 181.3L1736.2 184.5L1736.4 188.2L1736.7 192.5L1736.9 197.3L1737.1 202.6L1737.3 208.4L1737.6 214.7L1737.8 221.3L1738.0 228.3L1738.3 235.5L1738.5 243.0L1738.7 250.5L1738.9 258.1L1739.2 265.7L1739.4 273.1L1739.6 280.3L1739.9 287.3L1740.1 293.9L1740.3 300.1L1740.5 305.8L1740.8 311.1L1741.0 315.8L1741.2 320.0L1741.5 323.7L1741.7 326.9L1741.9 329.5L1742.2 331.7L1742.4 333.4L1742.6 334.6L1742.8 335.4L1743.1 335.9L1743.3 336.0L1743.5 335.8L1743.8 335.3L1744.0 334.5L1744.2 333.6L1744.4 332.5L1744.7 331.2L1744.9 329.8L1745.1 328.4L1745.4 326.8L1745.6 325.2L1745.8 323.5L1746.0 321.8L1746.3 320.1L1746.5 318.4L1746.7 316.7L1747.0 315.0L1747.2 313.3L1747.4 311.7L1747.7 310.1L1747.9 308.5L1748.1 307.0L1748.3 305.5L1748.6 304.1L1748.8 302.7L1749.0 301.4L1749.3 300.1L1749.5 298.8L1749.7 297.6L1749.9 296.4L1750.2 295.3L1750.4 294.3L1750.6 293.2L1750.9 292.2L1751.1 291.3L1751.3 290.4L1751.5 289.5L1752.0 287.9L1752.5 286.4L1752.9 285.0L1753.4 283.8L1753.8 282.6L1754.3 281.6L1754.8 280.6L1755.2 279.8L1755.7 279.0L1756.1 278.2L1756.6 277.6L1757.0 276.9L1757.5 276.4L1758.0 275.9L1758.4 275.4L1758.9 274.9L1759.3 274.5L1759.8 274.2L1760.3 273.8L1760.7 273.5L1761.2 273.2L1761.6 273.0L1762.1 272.7L1762.5 272.5L1763.0 272.2L1763.5 272.0L1763.9 271.9L1764.4 271.7L1764.8 271.5L1765.3 271.3L1765.8 271.2L1766.2 271.1L1766.7 270.9L1767.1 270.8L1767.6 270.7L1768.0 270.6L1768.5 270.4L1769.0 270.3L1769.4 270.2L1769.9 270.1L1770.3 270.0L1770.8 269.9L1771.3 269.9L1771.7 269.8L1772.2 269.7L1772.6 269.6L1773.1 269.5L1773.5 269.4L1774.0 269.3L1774.5 269.3L1774.9 269.2L1775.4 269.1L1776.3 268.9L1777.2 268.8L1778.1 268.6L1779.0 268.5L1780.0 268.3L1780.9 268.2L1781.8 268.0L1782.7 267.8L1783.6 267.7L1784.5 267.5L1785.5 267.4L1786.4 267.2L1787.3 267.1L1788.2 266.9L1789.1 266.8L1790.0 266.6L1791.0 266.4L1791.9 266.3L1792.8 266.1L1793.7 266.0L1794.6 265.8L1795.5 265.7L1796.5 265.5L1797.4 265.4L1798.3 265.2L1799.2 265.1L1800.1 265.0L1801.0 264.8L1802.0 264.7L1802.9 264.5L1803.8 264.4L1804.7 264.3L1805.6 264.1L1806.5 264.0L1807.5 263.9L1808.4 263.7L1809.3 263.6L1810.2 263.5L1811.1 263.4L1812.0 263.3L1813.0 263.1L1813.9 263.0L1814.8 262.9L1815.7 262.8L1816.6 262.7L1817.5 262.6L1818.5 262.5L1819.4 262.4L1820.3 262.3L1821.2 262.2L1822.1 262.1L1823.0 262.0L1824.0 261.9L1824.9 261.8L1825.8 261.7L1826.7 261.6L1827.6 261.5L1828.5 261.4L1829.5 261.4L1830.4 261.3L1832.2 261.1L1834.0 261.0L1835.9 260.8L1837.7 260.7L1839.5 260.5L1841.4 260.4L1843.2 260.3L1845.0 260.2L1846.9 260.1L1848.7 260.0L1850.5 259.9L1852.4 259.8L1854.2 259.7L1856.0 259.6L1857.9 259.5L1859.7 259.4L1861.5 259.3L1863.4 259.2L1865.2 259.2L1867.0 259.1L1868.9 259.0L1870.7 259.0L1872.5 258.9L1874.4 258.8L1876.2 258.8L1878.0 258.7L1879.9 258.7L1881.7 258.6L1883.5 258.6L1885.4 258.5L1887.2 258.5L1889.0 258.4L1890.9 258.4L1892.7 258.4L1894.5 258.3L1896.4 258.3L1898.2 258.2L1900.0 258.2L1901.9 258.2L1903.7 258.1L1905.5 258.1L1907.4 258.1L1909.2 258.0L1911.0 258.0L1912.9 258.0L1914.7 258.0L1916.5 257.9L1918.4 257.9L1920.2 257.9L1922.0 257.9L1923.9 257.8L1925.7 257.8L1927.5 257.8L1929.4 257.8L1931.2 257.8L1933.0 257.7L1934.9 257.7L1936.7 257.7L1938.5 257.7L1940.4 257.7L1942.2 257.7L1944.0 257.6L1945.9 257.6L1947.7 257.6L1949.5 257.6L1951.4 257.6L1953.2 257.6L1955.0 257.6L1956.9 257.6L1958.7 257.5L1960.5 257.5L1962.4 257.5L1964.2 257.5L1966.0 257.5L1967.9 257.5L1969.7 257.5L1971.5 257.5L1973.4 257.5L1975.2 257.4L1977.0 257.4L1978.9 257.4L1980.7 257.4L1982.5 257.4L1984.4 257.4L1986.2 257.4L1988.0 257.4L1989.9 257.4L1991.7 257.4L1993.5 257.4L1995.4 257.4L1997.2 257.4L1999.0 257.3L2000.9 257.3L2002.7 257.3L2004.5 257.3L2006.4 257.3L2008.2 257.3L2010.0 257.3L2011.9 257.3L2012.8 257.3" fill="none" stroke="#000000" stroke-width="1.7" stroke-linejoin="round" stroke-linecap="butt"/>
<path d="M1467.4 304.7L1469.2 304.7L1471.0 304.7L1472.9 304.7L1474.7 304.7L1476.5 304.7L1478.4 304.6L1480.2 304.6L1482.0 304.6L1483.9 304.6L1485.7 304.6L1487.5 304.6L1489.4 304.6L1491.2 304.6L1493.0 304.6L1494.9 304.6L1496.7 304.6L1498.5 304.6L1500.4 304.6L1502.2 304.6L1504.0 304.5L1505.9 304.5L1507.7 304.5L1509.5 304.5L1511.4 304.5L1513.2 304.5L1515.0 304.5L1516.9 304.5L1518.7 304.5L1520.5 304.5L1522.4 304.4L1524.2 304.4L1526.0 304.4L1527.9 304.4L1529.7 304.4L1531.5 304.4L1533.4 304.4L1535.2 304.3L1537.0 304.3L1538.9 304.3L1540.7 304.3L1542.5 304.3L1544.4 304.3L1546.2 304.2L1548.0 304.2L1549.9 304.2L1551.7 304.2L1553.5 304.2L1555.4 304.2L1557.2 304.1L1559.0 304.1L1560.9 304.1L1562.7 304.1L1564.5 304.0L1566.4 304.0L1568.2 304.0L1570.0 304.0L1571.9 303.9L1573.7 303.9L1575.5 303.9L1577.4 303.8L1579.2 303.8L1581.0 303.8L1582.9 303.7L1584.7 303.7L1586.5 303.7L1588.4 303.6L1590.2 303.6L1592.0 303.5L1593.9 303.5L1595.7 303.4L1597.5 303.4L1599.4 303.3L1601.2 303.3L1603.0 303.2L1604.9 303.2L1606.7 303.1L1608.5 303.1L1610.4 303.0L1612.2 302.9L1614.0 302.9L1615.9 302.8L1617.7 302.7L1619.5 302.6L1621.4 302.6L1623.2 302.5L1625.0 302.4L1626.9 302.3L1628.7 302.2L1630.5 302.1L1632.4 302.0L1634.2 301.9L1636.0 301.8L1637.9 301.7L1639.7 301.5L1641.5 301.4L1643.4 301.3L1645.2 301.1L1647.0 301.0L1648.9 300.8L1649.8 300.8L1650.7 300.7L1651.6 300.6L1652.5 300.5L1653.5 300.4L1654.4 300.3L1655.3 300.3L1656.2 300.2L1657.1 300.1L1658.0 300.0L1659.0 299.9L1659.9 299.8L1660.8 299.7L1661.7 299.6L1662.6 299.5L1663.5 299.4L1664.5 299.3L1665.4 299.2L1666.3 299.1L1667.2 299.0L1668.1 298.9L1669.0 298.7L1670.0 298.6L1670.9 298.5L1671.8 298.4L1672.7 298.3L1673.6 298.2L1674.5 298.0L1675.5 297.9L1676.4 297.8L1677.3 297.7L1678.2 297.6L1679.1 297.4L1680.0 297.3L1681.0 297.2L1681.9 297.1L1682.8 296.9L1683.7 296.8L1684.6 296.7L1685.5 296.6L1686.5 296.4L1687.4 296.3L1688.3 296.2L1689.2 296.1L1690.1 296.0L1691.0 295.8L1692.0 295.7L1692.9 295.6L1693.8 295.5L1694.7 295.4L1695.6 295.3L1696.5 295.2L1697.5 295.1L1698.4 295.1L1699.3 295.0L1700.2 294.9L1701.1 294.9L1702.0 294.8L1703.0 294.8L1703.4 294.8L1703.9 294.7L1704.3 294.7L1704.8 294.7L1705.3 294.7L1705.7 294.7L1706.2 294.7L1706.6 294.7L1707.1 294.7L1707.5 294.7L1708.0 294.7L1708.5 294.7L1708.9 294.7L1709.4 294.8L1709.8 294.8L1710.3 294.8L1710.8 294.8L1711.2 294.9L1711.7 294.9L1712.1 295.0L1712.6 295.0L1713.0 295.1L1713.5 295.1L1714.0 295.2L1714.4 295.2L1714.9 295.3L1715.3 295.4L1715.8 295.4L1716.3 295.5L1716.7 295.6L1717.2 295.7L1717.6 295.8L1718.1 295.9L1718.5 296.0L1719.0 296.1L1719.5 296.2L1719.9 296.3L1720.4 296.4L1720.8 296.6L1721.3 296.7L1721.8 296.8L1722.2 297.0L1722.7 297.1L1723.1 297.2L1723.6 297.4L1724.0 297.6L1724.5 297.7L1725.0 297.9L1725.4 298.0L1725.9 298.2L1726.3 298.4L1726.6 298.5L1726.8 298.6L1727.0 298.7L1727.3 298.8L1727.5 298.9L1727.7 299.0L1727.9 299.1L1728.2 299.2L1728.4 299.3L1728.6 299.4L1728.9 299.5L1729.1 299.6L1729.3 299.7L1729.5 299.8L1729.8 299.9L1730.0 300.0L1730.2 300.1L1730.5 300.2L1730.7 300.3L1730.9 300.4L1731.2 300.5L1731.4 300.6L1731.6 300.7L1731.8 300.8L1732.1 301.0L1732.3 301.1L1732.5 301.2L1732.8 301.3L1733.0 301.4L1733.2 301.5L1733.4 301.6L1733.7 301.8L1733.9 301.9L1734.1 302.0L1734.4 302.1L1734.6 302.2L1734.8 302.4L1735.0 302.5L1735.3 302.6L1735.5 302.7L1735.7 302.8L1736.0 303.0L1736.2 303.1L1736.4 303.2L1736.7 303.3L1736.9 303.5L1737.1 303.6L1737.3 303.7L1737.6 303.8L1737.8 304.0L1738.0 304.1L1738.3 304.2L1738.5 304.3L1738.7 304.5L1738.9 304.6L1739.2 304.7L1739.4 304.8L1739.6 305.0L1739.9 305.1L1740.1 305.2L1740.3 305.3L1740.5 305.5L1740.8 305.6L1741.0 305.7L1741.2 305.8L1741.5 306.0L1741.7 306.1L1741.9 306.2L1742.2 306.3L1742.4 306.5L1742.6 306.6L1742.8 306.7L1743.1 306.8L1743.3 306.9L1743.5 307.1L1743.8 307.2L1744.0 307.3L1744.2 307.4L1744.4 307.6L1744.7 307.7L1744.9 307.8L1745.1 307.9L1745.4 308.0L1745.6 308.1L1745.8 308.3L1746.0 308.4L1746.3 308.5L1746.5 308.6L1746.7 308.7L1747.0 308.8L1747.2 309.0L1747.4 309.1L1747.7 309.2L1747.9 309.3L1748.1 309.4L1748.3 309.5L1748.6 309.6L1748.8 309.7L1749.0 309.8L1749.3 309.9L1749.5 310.0L1749.7 310.2L1749.9 310.3L1750.2 310.4L1750.4 310.5L1750.6 310.6L1750.9 310.7L1751.1 310.8L1751.3 310.9L1751.5 311.0L1752.0 311.1L1752.5 311.3L1752.9 311.5L1753.4 311.7L1753.8 311.9L1754.3 312.0L1754.8 312.2L1755.2 312.4L1755.7 312.5L1756.1 312.7L1756.6 312.8L1757.0 313.0L1757.5 313.1L1758.0 313.2L1758.4 313.4L1758.9 313.5L1759.3 313.6L1759.8 313.7L1760.3 313.8L1760.7 313.9L1761.2 314.0L1761.6 314.1L1762.1 314.2L1762.5 314.3L1763.0 314.4L1763.5 314.5L1763.9 314.5L1764.4 314.6L1764.8 314.7L1765.3 314.7L1765.8 314.8L1766.2 314.9L1766.7 314.9L1767.1 315.0L1767.6 315.0L1768.0 315.0L1768.5 315.1L1769.0 315.1L1769.4 315.1L1769.9 315.1L1770.3 315.2L1770.8 315.2L1771.3 315.2L1771.7 315.2L1772.2 315.2L1772.6 315.2L1773.1 315.2L1773.5 315.2L1774.0 315.2L1774.5 315.2L1774.9 315.2L1775.4 315.2L1776.3 315.1L1777.2 315.1L1778.1 315.0L1779.0 315.0L1780.0 314.9L1780.9 314.8L1781.8 314.8L1782.7 314.7L1783.6 314.6L1784.5 314.5L1785.5 314.4L1786.4 314.3L1787.3 314.2L1788.2 314.1L1789.1 314.0L1790.0 313.8L1791.0 313.7L1791.9 313.6L1792.8 313.5L1793.7 313.4L1794.6 313.2L1795.5 313.1L1796.5 313.0L1797.4 312.9L1798.3 312.7L1799.2 312.6L1800.1 312.5L1801.0 312.4L1802.0 312.2L1802.9 312.1L1803.8 312.0L1804.7 311.9L1805.6 311.7L1806.5 311.6L1807.5 311.5L1808.4 311.4L1809.3 311.3L1810.2 311.2L1811.1 311.1L1812.0 310.9L1813.0 310.8L1813.9 310.7L1814.8 310.6L1815.7 310.5L1816.6 310.4L1817.5 310.3L1818.5 310.2L1819.4 310.1L1820.3 310.0L1821.2 309.9L1822.1 309.8L1823.0 309.7L1824.0 309.7L1824.9 309.6L1825.8 309.5L1826.7 309.4L1827.6 309.3L1828.5 309.2L1829.5 309.2L1830.4 309.1L1832.2 308.9L1834.0 308.8L1835.9 308.6L1837.7 308.5L1839.5 308.4L1841.4 308.3L1843.2 308.1L1845.0 308.0L1846.9 307.9L1848.7 307.8L1850.5 307.7L1852.4 307.6L1854.2 307.5L1856.0 307.4L1857.9 307.4L1859.7 307.3L1861.5 307.2L1863.4 307.1L1865.2 307.0L1867.0 307.0L1868.9 306.9L1870.7 306.9L1872.5 306.8L1874.4 306.7L1876.2 306.7L1878.0 306.6L1879.9 306.6L1881.7 306.5L1883.5 306.5L1885.4 306.4L1887.2 306.4L1889.0 306.3L1890.9 306.3L1892.7 306.3L1894.5 306.2L1896.4 306.2L1898.2 306.1L1900.0 306.1L1901.9 306.1L1903.7 306.0L1905.5 306.0L1907.4 306.0L1909.2 306.0L1911.0 305.9L1912.9 305.9L1914.7 305.9L1916.5 305.9L1918.4 305.8L1920.2 305.8L1922.0 305.8L1923.9 305.8L1925.7 305.7L1927.5 305.7L1929.4 305.7L1931.2 305.7L1933.0 305.7L1934.9 305.6L1936.7 305.6L1938.5 305.6L1940.4 305.6L1942.2 305.6L1944.0 305.6L1945.9 305.6L1947.7 305.5L1949.5 305.5L1951.4 305.5L1953.2 305.5L1955.0 305.5L1956.9 305.5L1958.7 305.5L1960.5 305.5L1962.4 305.4L1964.2 305.4L1966.0 305.4L1967.9 305.4L1969.7 305.4L1971.5 305.4L1973.4 305.4L1975.2 305.4L1977.0 305.4L1978.9 305.4L1980.7 305.3L1982.5 305.3L1984.4 305.3L1986.2 305.3L1988.0 305.3L1989.9 305.3L1991.7 305.3L1993.5 305.3L1995.4 305.3L1997.2 305.3L1999.0 305.3L2000.9 305.3L2002.7 305.3L2004.5 305.3L2006.4 305.2L2008.2 305.2L2010.0 305.2L2011.9 305.2L2012.8 305.2" fill="none" stroke="#F5821F" stroke-width="1.6" stroke-linejoin="round" stroke-linecap="butt"/>
<path d="M1467.4 361.2L1469.2 361.2L1471.0 361.2L1472.9 361.2L1474.7 361.2L1476.5 361.2L1478.4 361.2L1480.2 361.2L1482.0 361.2L1483.9 361.2L1485.7 361.2L1487.5 361.2L1489.4 361.2L1491.2 361.2L1493.0 361.2L1494.9 361.2L1496.7 361.2L1498.5 361.2L1500.4 361.2L1502.2 361.2L1504.0 361.2L1505.9 361.2L1507.7 361.2L1509.5 361.2L1511.4 361.2L1513.2 361.2L1515.0 361.2L1516.9 361.2L1518.7 361.2L1520.5 361.2L1522.4 361.2L1524.2 361.2L1526.0 361.2L1527.9 361.2L1529.7 361.2L1531.5 361.2L1533.4 361.2L1535.2 361.2L1537.0 361.2L1538.9 361.2L1540.7 361.2L1542.5 361.2L1544.4 361.2L1546.2 361.2L1548.0 361.2L1549.9 361.2L1551.7 361.2L1553.5 361.2L1555.4 361.2L1557.2 361.2L1559.0 361.2L1560.9 361.2L1562.7 361.2L1564.5 361.2L1566.4 361.2L1568.2 361.2L1570.0 361.2L1571.9 361.2L1573.7 361.2L1575.5 361.1L1577.4 361.1L1579.2 361.1L1581.0 361.1L1582.9 361.1L1584.7 361.1L1586.5 361.1L1588.4 361.1L1590.2 361.1L1592.0 361.1L1593.9 361.1L1595.7 361.1L1597.5 361.1L1599.4 361.1L1601.2 361.1L1603.0 361.1L1604.9 361.1L1606.7 361.1L1608.5 361.1L1610.4 361.1L1612.2 361.1L1614.0 361.1L1615.9 361.1L1617.7 361.1L1619.5 361.1L1621.4 361.1L1623.2 361.1L1625.0 361.1L1626.9 361.1L1628.7 361.1L1630.5 361.1L1632.4 361.1L1634.2 361.1L1636.0 361.1L1637.9 361.1L1639.7 361.1L1641.5 361.1L1643.4 361.0L1645.2 361.0L1647.0 361.0L1648.9 361.0L1649.8 361.0L1650.7 361.0L1651.6 361.0L1652.5 361.0L1653.5 361.0L1654.4 361.0L1655.3 361.0L1656.2 361.0L1657.1 361.0L1658.0 361.0L1659.0 361.0L1659.9 361.0L1660.8 360.9L1661.7 360.9L1662.6 360.9L1663.5 360.9L1664.5 360.9L1665.4 360.9L1666.3 360.9L1667.2 360.9L1668.1 360.9L1669.0 360.9L1670.0 360.8L1670.9 360.8L1671.8 360.8L1672.7 360.8L1673.6 360.8L1674.5 360.8L1675.5 360.8L1676.4 360.7L1677.3 360.7L1678.2 360.7L1679.1 360.7L1680.0 360.6L1681.0 360.6L1681.9 360.6L1682.8 360.6L1683.7 360.5L1684.6 360.5L1685.5 360.5L1686.5 360.4L1687.4 360.4L1688.3 360.4L1689.2 360.3L1690.1 360.3L1691.0 360.2L1692.0 360.2L1692.9 360.1L1693.8 360.0L1694.7 360.0L1695.6 359.9L1696.5 359.8L1697.5 359.7L1698.4 359.6L1699.3 359.5L1700.2 359.4L1701.1 359.3L1702.0 359.1L1703.0 359.0L1703.4 358.9L1703.9 358.8L1704.3 358.7L1704.8 358.6L1705.3 358.5L1705.7 358.4L1706.2 358.3L1706.6 358.2L1707.1 358.1L1707.5 358.0L1708.0 357.8L1708.5 357.7L1708.9 357.5L1709.4 357.4L1709.8 357.2L1710.3 357.0L1710.8 356.8L1711.2 356.6L1711.7 356.4L1712.1 356.2L1712.6 356.0L1713.0 355.7L1713.5 355.5L1714.0 355.2L1714.4 354.9L1714.9 354.5L1715.3 354.2L1715.8 353.8L1716.3 353.4L1716.7 353.0L1717.2 352.6L1717.6 352.1L1718.1 351.6L1718.5 351.0L1719.0 350.4L1719.5 349.8L1719.9 349.1L1720.4 348.3L1720.8 347.5L1721.3 346.7L1721.8 345.8L1722.2 344.7L1722.7 343.7L1723.1 342.5L1723.6 341.2L1724.0 339.8L1724.5 338.4L1725.0 336.7L1725.4 335.0L1725.9 333.1L1726.3 331.1L1726.6 330.0L1726.8 328.9L1727.0 327.7L1727.3 326.5L1727.5 325.2L1727.7 323.9L1727.9 322.6L1728.2 321.2L1728.4 319.7L1728.6 318.2L1728.9 316.7L1729.1 315.1L1729.3 313.4L1729.5 311.8L1729.8 310.0L1730.0 308.3L1730.2 306.5L1730.5 304.6L1730.7 302.7L1730.9 300.8L1731.2 298.9L1731.4 297.0L1731.6 295.1L1731.8 293.2L1732.1 291.4L1732.3 289.6L1732.5 287.8L1732.8 286.1L1733.0 284.6L1733.2 283.1L1733.4 281.9L1733.7 280.8L1733.9 279.9L1734.1 279.3L1734.4 279.0L1734.6 278.9L1734.8 279.3L1735.0 280.0L1735.3 281.1L1735.5 282.7L1735.7 284.8L1736.0 287.4L1736.2 290.5L1736.4 294.1L1736.7 298.3L1736.9 303.0L1737.1 308.2L1737.3 313.8L1737.6 319.9L1737.8 326.5L1738.0 333.3L1738.3 340.4L1738.5 347.8L1738.7 355.2L1738.9 362.7L1739.2 370.1L1739.4 377.4L1739.6 384.5L1739.9 391.3L1740.1 397.8L1740.3 403.8L1740.5 409.5L1740.8 414.6L1741.0 419.2L1741.2 423.3L1741.5 426.9L1741.7 429.9L1741.9 432.4L1742.2 434.5L1742.4 436.0L1742.6 437.1L1742.8 437.8L1743.1 438.2L1743.3 438.1L1743.5 437.8L1743.8 437.2L1744.0 436.3L1744.2 435.3L1744.4 434.0L1744.7 432.7L1744.9 431.2L1745.1 429.5L1745.4 427.9L1745.6 426.1L1745.8 424.3L1746.0 422.5L1746.3 420.7L1746.5 418.9L1746.7 417.1L1747.0 415.3L1747.2 413.5L1747.4 411.7L1747.7 410.0L1747.9 408.3L1748.1 406.7L1748.3 405.1L1748.6 403.6L1748.8 402.1L1749.0 400.6L1749.3 399.2L1749.5 397.9L1749.7 396.6L1749.9 395.3L1750.2 394.1L1750.4 392.9L1750.6 391.8L1750.9 390.7L1751.1 389.6L1751.3 388.6L1751.5 387.7L1752.0 385.9L1752.5 384.2L1752.9 382.6L1753.4 381.2L1753.8 379.9L1754.3 378.7L1754.8 377.5L1755.2 376.5L1755.7 375.6L1756.1 374.7L1756.6 373.8L1757.0 373.1L1757.5 372.4L1758.0 371.7L1758.4 371.1L1758.9 370.6L1759.3 370.0L1759.8 369.6L1760.3 369.1L1760.7 368.7L1761.2 368.3L1761.6 367.9L1762.1 367.6L1762.5 367.3L1763.0 367.0L1763.5 366.7L1763.9 366.4L1764.4 366.2L1764.8 365.9L1765.3 365.7L1765.8 365.5L1766.2 365.3L1766.7 365.1L1767.1 365.0L1767.6 364.8L1768.0 364.6L1768.5 364.5L1769.0 364.4L1769.4 364.2L1769.9 364.1L1770.3 364.0L1770.8 363.9L1771.3 363.8L1771.7 363.7L1772.2 363.6L1772.6 363.5L1773.1 363.4L1773.5 363.3L1774.0 363.2L1774.5 363.2L1774.9 363.1L1775.4 363.0L1776.3 362.9L1777.2 362.8L1778.1 362.7L1779.0 362.6L1780.0 362.5L1780.9 362.4L1781.8 362.3L1782.7 362.3L1783.6 362.2L1784.5 362.1L1785.5 362.1L1786.4 362.0L1787.3 362.0L1788.2 361.9L1789.1 361.9L1790.0 361.9L1791.0 361.8L1791.9 361.8L1792.8 361.8L1793.7 361.7L1794.6 361.7L1795.5 361.7L1796.5 361.7L1797.4 361.6L1798.3 361.6L1799.2 361.6L1800.1 361.6L1801.0 361.6L1802.0 361.6L1802.9 361.5L1803.8 361.5L1804.7 361.5L1805.6 361.5L1806.5 361.5L1807.5 361.5L1808.4 361.5L1809.3 361.4L1810.2 361.4L1811.1 361.4L1812.0 361.4L1813.0 361.4L1813.9 361.4L1814.8 361.4L1815.7 361.4L1816.6 361.4L1817.5 361.4L1818.5 361.4L1819.4 361.4L1820.3 361.4L1821.2 361.3L1822.1 361.3L1823.0 361.3L1824.0 361.3L1824.9 361.3L1825.8 361.3L1826.7 361.3L1827.6 361.3L1828.5 361.3L1829.5 361.3L1830.4 361.3L1832.2 361.3L1834.0 361.3L1835.9 361.3L1837.7 361.3L1839.5 361.3L1841.4 361.3L1843.2 361.3L1845.0 361.3L1846.9 361.3L1848.7 361.2L1850.5 361.2L1852.4 361.2L1854.2 361.2L1856.0 361.2L1857.9 361.2L1859.7 361.2L1861.5 361.2L1863.4 361.2L1865.2 361.2L1867.0 361.2L1868.9 361.2L1870.7 361.2L1872.5 361.2L1874.4 361.2L1876.2 361.2L1878.0 361.2L1879.9 361.2L1881.7 361.2L1883.5 361.2L1885.4 361.2L1887.2 361.2L1889.0 361.2L1890.9 361.2L1892.7 361.2L1894.5 361.2L1896.4 361.2L1898.2 361.2L1900.0 361.2L1901.9 361.2L1903.7 361.2L1905.5 361.2L1907.4 361.2L1909.2 361.2L1911.0 361.2L1912.9 361.2L1914.7 361.2L1916.5 361.2L1918.4 361.2L1920.2 361.2L1922.0 361.2L1923.9 361.2L1925.7 361.2L1927.5 361.2L1929.4 361.2L1931.2 361.2L1933.0 361.2L1934.9 361.2L1936.7 361.2L1938.5 361.2L1940.4 361.2L1942.2 361.2L1944.0 361.2L1945.9 361.2L1947.7 361.2L1949.5 361.2L1951.4 361.2L1953.2 361.2L1955.0 361.2L1956.9 361.2L1958.7 361.2L1960.5 361.2L1962.4 361.2L1964.2 361.2L1966.0 361.2L1967.9 361.2L1969.7 361.2L1971.5 361.2L1973.4 361.2L1975.2 361.2L1977.0 361.2L1978.9 361.2L1980.7 361.2L1982.5 361.2L1984.4 361.2L1986.2 361.2L1988.0 361.2L1989.9 361.2L1991.7 361.2L1993.5 361.2L1995.4 361.2L1997.2 361.2L1999.0 361.2L2000.9 361.2L2002.7 361.2L2004.5 361.2L2006.4 361.2L2008.2 361.2L2010.0 361.2L2011.9 361.2L2012.8 361.2" fill="none" stroke="#3A55A5" stroke-width="1.6" stroke-linejoin="round" stroke-linecap="butt"/>
<path d="M1467.4 444.6L1467.9 444.6L1468.4 444.6L1468.9 444.6L1469.4 444.6L1469.9 444.6L1470.4 444.6L1470.9 444.6L1471.4 444.6L1471.9 444.6L1472.4 444.6L1472.9 444.6L1473.4 444.6L1473.9 444.6L1474.4 444.6L1474.9 444.6L1475.4 444.6L1475.9 444.6L1476.4 444.6L1476.9 444.6L1477.4 444.6L1477.9 444.6L1478.4 444.6L1478.9 444.6L1479.4 444.6L1479.9 444.6L1480.4 444.6L1480.9 444.6L1481.4 444.6L1481.9 444.6L1482.4 444.6L1482.9 444.6L1483.4 444.6L1483.9 444.6L1484.4 444.6L1484.9 444.6L1485.4 444.6L1485.9 444.6L1486.4 444.6L1486.9 444.6L1487.4 444.6L1487.9 444.6L1488.4 444.6L1488.9 444.6L1489.4 444.6L1489.9 444.6L1490.4 444.6L1490.9 444.6L1491.4 444.6L1491.9 444.6L1492.4 444.6L1492.9 444.6L1493.4 444.6L1493.9 444.6L1494.4 444.6L1494.9 444.6L1495.4 444.6L1495.9 444.6L1496.4 444.6L1496.9 444.6L1497.4 444.6L1497.9 444.6L1498.4 444.6L1498.9 444.6L1499.4 444.6L1499.9 444.6L1500.4 444.6L1500.9 444.6L1501.4 444.6L1501.9 444.6L1502.4 444.6L1502.9 444.6L1503.4 444.6L1503.9 444.6L1504.4 444.6L1504.9 444.6L1505.4 444.6L1505.9 444.6L1506.4 444.6L1506.9 444.6L1507.4 444.6L1507.9 444.6L1508.4 444.6L1508.9 444.6L1509.4 444.6L1509.9 444.6L1510.4 444.6L1510.9 444.6L1511.4 444.6L1511.9 444.6L1512.4 444.6L1512.9 444.6L1513.4 444.6L1513.9 444.6L1514.4 444.6L1514.9 444.6L1515.4 444.6L1515.9 444.6L1516.4 444.6L1516.9 444.6L1517.4 444.6L1517.9 444.6L1518.4 444.6L1518.9 444.6L1519.4 444.6L1519.9 444.6L1520.4 444.6L1520.9 444.6L1521.4 444.6L1521.9 444.6L1522.4 444.6L1522.9 444.6L1523.4 444.6L1523.9 444.6L1524.4 444.6L1524.9 444.6L1525.4 444.6L1525.9 444.6L1526.4 444.6L1526.9 444.6L1527.4 444.6L1527.9 444.6L1528.4 444.6L1528.9 444.6L1529.4 444.6L1529.9 444.6L1530.4 444.6L1530.9 444.6L1531.4 444.6L1531.9 444.6L1532.4 444.6L1532.9 444.6L1533.4 444.6L1533.9 444.6L1534.4 444.6L1534.9 444.6L1535.4 444.6L1535.9 444.6L1536.4 444.6L1536.9 444.6L1537.4 444.6L1537.9 444.6L1538.4 444.6L1538.9 444.6L1539.4 444.6L1539.9 444.6L1540.4 444.6L1540.9 444.6L1541.4 444.6L1541.9 444.6L1542.4 444.6L1542.9 444.6L1543.4 444.6L1543.9 444.6L1544.4 444.6L1544.9 444.6L1545.4 444.6L1545.9 444.6L1546.4 444.6L1546.9 444.6L1547.4 444.6L1547.9 444.6L1548.4 444.6L1548.9 444.6L1549.4 444.6L1549.9 444.6L1550.4 444.6L1550.9 444.6L1551.4 444.6L1551.9 444.6L1552.4 444.6L1552.9 444.6L1553.4 444.6L1553.9 444.6L1554.4 444.6L1554.9 444.6L1555.4 444.6L1555.9 444.6L1556.4 444.6L1556.9 444.6L1557.4 444.6L1557.9 444.6L1558.4 444.6L1558.9 444.6L1559.4 444.6L1559.9 444.6L1560.4 444.6L1560.9 444.6L1561.4 444.6L1561.9 444.6L1562.4 444.6L1562.9 444.6L1563.4 444.6L1563.9 444.6L1564.4 444.6L1564.9 444.6L1565.4 444.6L1565.9 444.6L1566.4 444.6L1566.9 444.6L1567.4 444.6L1567.9 444.6L1568.4 444.6L1568.9 444.6L1569.4 444.6L1569.9 444.6L1570.4 444.6L1570.9 444.6L1571.4 444.6L1571.9 444.6L1572.4 444.6L1572.9 444.6L1573.4 444.6L1573.9 444.6L1574.4 444.6L1574.9 444.6L1575.4 444.6L1575.9 444.6L1576.4 444.6L1576.9 444.6L1577.4 444.6L1577.9 444.6L1578.4 444.6L1578.9 444.6L1579.4 444.6L1579.9 444.6L1580.4 444.6L1580.9 444.6L1581.4 444.5L1581.9 444.5L1582.4 444.5L1582.9 444.5L1583.4 444.5L1583.9 444.5L1584.4 444.5L1584.9 444.5L1585.4 444.5L1585.9 444.5L1586.4 444.5L1586.9 444.5L1587.4 444.5L1587.9 444.5L1588.4 444.5L1588.9 444.5L1589.4 444.5L1589.9 444.5L1590.4 444.5L1590.9 444.5L1591.4 444.5L1591.9 444.5L1592.4 444.5L1592.9 444.5L1593.4 444.5L1593.9 444.5L1594.4 444.5L1594.9 444.5L1595.4 444.5L1595.9 444.5L1596.4 444.5L1596.9 444.5L1597.4 444.5L1597.9 444.5L1598.4 444.5L1598.9 444.5L1599.4 444.5L1599.9 444.5L1600.4 444.5L1600.9 444.5L1601.4 444.5L1601.9 444.5L1602.4 444.5L1602.9 444.5L1603.4 444.5L1603.9 444.5L1604.4 444.5L1604.9 444.5L1605.4 444.5L1605.9 444.5L1606.4 444.5L1606.9 444.5L1607.4 444.5L1607.9 444.5L1608.4 444.5L1608.9 444.5L1609.4 444.5L1609.9 444.5L1610.4 444.5L1610.9 444.5L1611.4 444.5L1611.9 444.5L1612.4 444.5L1612.9 444.5L1613.4 444.5L1613.9 444.5L1614.4 444.5L1614.9 444.5L1615.4 444.5L1615.9 444.5L1616.4 444.5L1616.9 444.5L1617.4 444.5L1617.9 444.5L1618.4 444.5L1618.9 444.5L1619.4 444.5L1619.9 444.5L1620.4 444.5L1620.9 444.5L1621.4 444.5L1621.9 444.5L1622.4 444.5L1622.9 444.5L1623.4 444.5L1623.9 444.5L1624.4 444.5L1624.9 444.5L1625.4 444.5L1625.9 444.5L1626.4 444.5L1626.9 444.5L1627.4 444.4L1627.9 444.4L1628.4 444.4L1628.9 444.4L1629.4 444.4L1629.9 444.4L1630.4 444.4L1630.9 444.4L1631.4 444.4L1631.9 444.4L1632.4 444.4L1632.9 444.4L1633.4 444.4L1633.9 444.4L1634.4 444.4L1634.9 444.4L1635.4 444.4L1635.9 444.4L1636.4 444.4L1636.9 444.4L1637.4 444.4L1637.9 444.4L1638.4 444.4L1638.9 444.4L1639.4 444.4L1639.9 444.4L1640.4 444.4L1640.9 444.4L1641.4 444.4L1641.9 444.4L1642.4 444.4L1642.9 444.4L1643.4 444.4L1643.9 444.4L1644.4 444.4L1644.9 444.4L1645.4 444.4L1645.9 444.4L1646.4 444.4L1646.9 444.4L1647.4 444.4L1647.9 444.4L1648.4 444.4L1648.9 444.4L1649.4 444.4L1649.9 444.4L1650.4 444.4L1650.9 444.4L1651.4 444.4L1651.9 444.4L1652.4 444.4L1652.9 444.4L1653.4 444.4L1653.9 444.4L1654.4 444.4L1654.9 444.4L1655.4 444.4L1655.9 444.4L1656.4 444.4L1656.9 444.4L1657.4 444.4L1657.9 444.4L1658.4 444.4L1658.9 444.4L1659.4 444.4L1659.9 444.4L1660.4 444.4L1660.9 444.4L1661.4 444.4L1661.9 444.4L1662.4 444.4L1662.9 444.4L1663.4 444.4L1663.9 444.4L1664.4 444.4L1664.9 444.4L1665.4 444.4L1665.9 444.4L1666.4 444.4L1666.9 444.4L1667.4 444.4L1667.9 444.4L1668.4 444.4L1668.9 444.4L1669.4 444.4L1669.9 444.4L1670.4 444.4L1670.9 444.4L1671.4 444.4L1671.9 444.4L1672.4 444.4L1672.9 444.4L1673.4 444.4L1673.9 444.4L1674.4 444.4L1674.9 444.4L1675.4 444.4L1675.9 444.4L1676.4 444.4L1676.9 444.4L1677.4 444.4L1677.9 444.4L1678.4 444.4L1678.9 444.4L1679.4 444.4L1679.9 444.4L1680.4 444.4L1680.9 444.4L1681.4 444.4L1681.9 444.4L1682.4 444.4L1682.9 444.4L1683.4 444.4L1683.9 444.4L1684.4 444.4L1684.9 444.4L1685.4 444.4L1685.9 444.4L1686.4 444.4L1686.9 444.4L1687.4 444.4L1687.9 444.4L1688.4 444.4L1688.9 444.4L1689.4 444.4L1689.9 444.4L1690.4 444.4L1690.9 444.4L1691.4 444.4L1691.9 444.4L1692.4 444.4L1692.9 444.4L1693.4 444.4L1693.9 444.4L1694.4 444.4L1694.9 444.4L1695.4 444.3L1695.9 444.3L1696.4 444.3L1696.9 444.3L1697.4 444.3L1697.9 444.3L1698.4 444.3L1698.9 444.3L1699.4 444.3L1699.9 444.3L1700.4 444.3L1700.9 444.3L1701.4 444.3L1701.9 444.3L1702.4 444.3L1702.9 444.2L1703.4 444.2L1703.9 444.2L1704.4 444.2L1704.9 444.2L1705.4 444.2L1705.9 444.2L1706.4 444.2L1706.9 444.1L1707.4 444.1L1707.9 444.1L1708.4 444.1L1708.9 444.0L1709.4 444.0L1709.9 444.0L1710.4 443.9L1710.9 443.9L1711.4 443.9L1711.9 443.8L1712.4 443.8L1712.9 443.7L1713.4 443.7L1713.9 443.6L1714.4 443.6L1714.9 443.5L1715.4 443.5L1715.9 443.4L1716.4 443.4L1716.9 443.3L1717.4 443.2L1717.9 443.1L1718.4 443.0L1718.9 442.9L1719.4 442.8L1719.9 442.7L1720.4 442.6L1720.9 442.6L1721.4 442.5L1721.9 442.5L1722.4 442.5L1722.9 442.5L1723.4 442.6L1723.9 442.6L1724.4 442.7L1724.9 442.7L1725.4 442.8L1725.9 442.9L1726.4 443.0L1726.9 443.1L1727.4 443.3L1727.9 443.5L1728.4 443.7L1728.9 444.0L1729.4 444.4L1729.9 444.9L1730.4 445.4L1730.9 445.9L1731.4 446.4L1731.9 446.9L1732.4 447.4L1732.9 447.8L1733.4 448.0L1733.9 447.7L1734.4 447.1L1734.9 446.1L1735.4 445.2L1735.9 444.3L1736.4 443.4L1736.9 442.8L1737.4 443.1L1737.9 443.9L1738.4 444.8L1738.9 445.8L1739.4 446.9L1739.9 447.5L1740.4 447.3L1740.9 446.6L1741.4 445.8L1741.9 445.1L1742.4 444.5L1742.9 443.9L1743.4 443.5L1743.9 443.3L1744.4 443.3L1744.9 443.4L1745.4 443.6L1745.9 443.8L1746.4 444.0L1746.9 444.2L1747.4 444.4L1747.9 444.6L1748.4 444.7L1748.9 444.9L1749.4 445.1L1749.9 445.3L1750.4 445.5L1750.9 445.7L1751.4 445.9L1751.9 446.1L1752.4 446.3L1752.9 446.4L1753.4 446.5L1753.9 446.7L1754.4 446.7L1754.9 446.8L1755.4 446.8L1755.9 446.8L1756.4 446.8L1756.9 446.8L1757.4 446.8L1757.9 446.8L1758.4 446.7L1758.9 446.7L1759.4 446.6L1759.9 446.6L1760.4 446.5L1760.9 446.5L1761.4 446.4L1761.9 446.3L1762.4 446.3L1762.9 446.2L1763.4 446.2L1763.9 446.1L1764.4 446.1L1764.9 446.0L1765.4 446.0L1765.9 445.9L1766.4 445.9L1766.9 445.8L1767.4 445.8L1767.9 445.7L1768.4 445.7L1768.9 445.6L1769.4 445.5L1769.9 445.5L1770.4 445.4L1770.9 445.4L1771.4 445.3L1771.9 445.3L1772.4 445.2L1772.9 445.2L1773.4 445.1L1773.9 445.1L1774.4 445.0L1774.9 445.0L1775.4 444.9L1775.9 444.9L1776.4 444.8L1776.9 444.8L1777.4 444.8L1777.9 444.7L1778.4 444.7L1778.9 444.7L1779.4 444.6L1779.9 444.6L1780.4 444.6L1780.9 444.6L1781.4 444.5L1781.9 444.5L1782.4 444.5L1782.9 444.4L1783.4 444.4L1783.9 444.4L1784.4 444.4L1784.9 444.4L1785.4 444.3L1785.9 444.3L1786.4 444.3L1786.9 444.3L1787.4 444.3L1787.9 444.2L1788.4 444.2L1788.9 444.2L1789.4 444.2L1789.9 444.2L1790.4 444.2L1790.9 444.2L1791.4 444.2L1791.9 444.2L1792.4 444.2L1792.9 444.2L1793.4 444.2L1793.9 444.2L1794.4 444.2L1794.9 444.2L1795.4 444.2L1795.9 444.2L1796.4 444.2L1796.9 444.2L1797.4 444.2L1797.9 444.2L1798.4 444.2L1798.9 444.2L1799.4 444.2L1799.9 444.2L1800.4 444.2L1800.9 444.2L1801.4 444.2L1801.9 444.2L1802.4 444.2L1802.9 444.2L1803.4 444.2L1803.9 444.3L1804.4 444.3L1804.9 444.3L1805.4 444.3L1805.9 444.3L1806.4 444.3L1806.9 444.3L1807.4 444.3L1807.9 444.3L1808.4 444.3L1808.9 444.3L1809.4 444.4L1809.9 444.4L1810.4 444.4L1810.9 444.4L1811.4 444.4L1811.9 444.4L1812.4 444.4L1812.9 444.4L1813.4 444.5L1813.9 444.5L1814.4 444.5L1814.9 444.5L1815.4 444.5L1815.9 444.5L1816.4 444.5L1816.9 444.5L1817.4 444.6L1817.9 444.6L1818.4 444.6L1818.9 444.6L1819.4 444.6L1819.9 444.6L1820.4 444.6L1820.9 444.6L1821.4 444.7L1821.9 444.7L1822.4 444.7L1822.9 444.7L1823.4 444.7L1823.9 444.7L1824.4 444.7L1824.9 444.7L1825.4 444.8L1825.9 444.8L1826.4 444.8L1826.9 444.8L1827.4 444.8L1827.9 444.8L1828.4 444.8L1828.9 444.8L1829.4 444.8L1829.9 444.9L1830.4 444.9L1830.9 444.9L1831.4 444.9L1831.9 444.9L1832.4 444.9L1832.9 444.9L1833.4 444.9L1833.9 444.9L1834.4 445.0L1834.9 445.0L1835.4 445.0L1835.9 445.0L1836.4 445.0L1836.9 445.0L1837.4 445.0L1837.9 445.0L1838.4 445.0L1838.9 445.0L1839.4 445.0L1839.9 445.1L1840.4 445.1L1840.9 445.1L1841.4 445.1L1841.9 445.1L1842.4 445.1L1842.9 445.1L1843.4 445.1L1843.9 445.1L1844.4 445.1L1844.9 445.1L1845.4 445.1L1845.9 445.1L1846.4 445.2L1846.9 445.2L1847.4 445.2L1847.9 445.2L1848.4 445.2L1848.9 445.2L1849.4 445.2L1849.9 445.2L1850.4 445.2L1850.9 445.2L1851.4 445.2L1851.9 445.2L1852.4 445.2L1852.9 445.2L1853.4 445.2L1853.9 445.2L1854.4 445.3L1854.9 445.3L1855.4 445.3L1855.9 445.3L1856.4 445.3L1856.9 445.3L1857.4 445.3L1857.9 445.3L1858.4 445.3L1858.9 445.3L1859.4 445.3L1859.9 445.3L1860.4 445.3L1860.9 445.3L1861.4 445.3L1861.9 445.3L1862.4 445.3L1862.9 445.3L1863.4 445.3L1863.9 445.3L1864.4 445.4L1864.9 445.4L1865.4 445.4L1865.9 445.4L1866.4 445.4L1866.9 445.4L1867.4 445.4L1867.9 445.4L1868.4 445.4L1868.9 445.4L1869.4 445.4L1869.9 445.4L1870.4 445.4L1870.9 445.4L1871.4 445.4L1871.9 445.4L1872.4 445.4L1872.9 445.4L1873.4 445.4L1873.9 445.4L1874.4 445.4L1874.9 445.4L1875.4 445.5L1875.9 445.5L1876.4 445.5L1876.9 445.5L1877.4 445.5L1877.9 445.5L1878.4 445.5L1878.9 445.5L1879.4 445.5L1879.9 445.5L1880.4 445.5L1880.9 445.5L1881.4 445.5L1881.9 445.5L1882.4 445.5L1882.9 445.5L1883.4 445.5L1883.9 445.5L1884.4 445.5L1884.9 445.5L1885.4 445.5L1885.9 445.5L1886.4 445.5L1886.9 445.5L1887.4 445.6L1887.9 445.6L1888.4 445.6L1888.9 445.6L1889.4 445.6L1889.9 445.6L1890.4 445.6L1890.9 445.6L1891.4 445.6L1891.9 445.6L1892.4 445.6L1892.9 445.6L1893.4 445.6L1893.9 445.6L1894.4 445.6L1894.9 445.6L1895.4 445.6L1895.9 445.6L1896.4 445.6L1896.9 445.6L1897.4 445.6L1897.9 445.6L1898.4 445.6L1898.9 445.6L1899.4 445.6L1899.9 445.6L1900.4 445.7L1900.9 445.7L1901.4 445.7L1901.9 445.7L1902.4 445.7L1902.9 445.7L1903.4 445.7L1903.9 445.7L1904.4 445.7L1904.9 445.7L1905.4 445.7L1905.9 445.7L1906.4 445.7L1906.9 445.7L1907.4 445.7L1907.9 445.7L1908.4 445.7L1908.9 445.7L1909.4 445.7L1909.9 445.7L1910.4 445.7L1910.9 445.7L1911.4 445.7L1911.9 445.7L1912.4 445.7L1912.9 445.7L1913.4 445.7L1913.9 445.8L1914.4 445.8L1914.9 445.8L1915.4 445.8L1915.9 445.8L1916.4 445.8L1916.9 445.8L1917.4 445.8L1917.9 445.8L1918.4 445.8L1918.9 445.8L1919.4 445.8L1919.9 445.8L1920.4 445.8L1920.9 445.8L1921.4 445.8L1921.9 445.8L1922.4 445.8L1922.9 445.8L1923.4 445.8L1923.9 445.8L1924.4 445.8L1924.9 445.8L1925.4 445.8L1925.9 445.8L1926.4 445.8L1926.9 445.8L1927.4 445.8L1927.9 445.8L1928.4 445.9L1928.9 445.9L1929.4 445.9L1929.9 445.9L1930.4 445.9L1930.9 445.9L1931.4 445.9L1931.9 445.9L1932.4 445.9L1932.9 445.9L1933.4 445.9L1933.9 445.9L1934.4 445.9L1934.9 445.9L1935.4 445.9L1935.9 445.9L1936.4 445.9L1936.9 445.9L1937.4 445.9L1937.9 445.9L1938.4 445.9L1938.9 445.9L1939.4 445.9L1939.9 445.9L1940.4 445.9L1940.9 445.9L1941.4 445.9L1941.9 445.9L1942.4 445.9L1942.9 446.0L1943.4 446.0L1943.9 446.0L1944.4 446.0L1944.9 446.0L1945.4 446.0L1945.9 446.0L1946.4 446.0L1946.9 446.0L1947.4 446.0L1947.9 446.0L1948.4 446.0L1948.9 446.0L1949.4 446.0L1949.9 446.0L1950.4 446.0L1950.9 446.0L1951.4 446.0L1951.9 446.0L1952.4 446.0L1952.9 446.0L1953.4 446.0L1953.9 446.0L1954.4 446.0L1954.9 446.0L1955.4 446.0L1955.9 446.0L1956.4 446.0L1956.9 446.0L1957.4 446.0L1957.9 446.1L1958.4 446.1L1958.9 446.1L1959.4 446.1L1959.9 446.1L1960.4 446.1L1960.9 446.1L1961.4 446.1L1961.9 446.1L1962.4 446.1L1962.9 446.1L1963.4 446.1L1963.9 446.1L1964.4 446.1L1964.9 446.1L1965.4 446.1L1965.9 446.1L1966.4 446.1L1966.9 446.1L1967.4 446.1L1967.9 446.1L1968.4 446.1L1968.9 446.1L1969.4 446.1L1969.9 446.1L1970.4 446.1L1970.9 446.1L1971.4 446.1L1971.9 446.1L1972.4 446.1L1972.9 446.1L1973.4 446.1L1973.9 446.1L1974.4 446.1L1974.9 446.1L1975.4 446.1L1975.9 446.1L1976.4 446.1L1976.9 446.2L1977.4 446.2L1977.9 446.2L1978.4 446.2L1978.9 446.2L1979.4 446.2L1979.9 446.2L1980.4 446.2L1980.9 446.2L1981.4 446.2L1981.9 446.2L1982.4 446.2L1982.9 446.2L1983.4 446.2L1983.9 446.2L1984.4 446.2L1984.9 446.2L1985.4 446.2L1985.9 446.2L1986.4 446.2L1986.9 446.2L1987.4 446.2L1987.9 446.2L1988.4 446.2L1988.9 446.2L1989.4 446.2L1989.9 446.2L1990.4 446.2L1990.9 446.2L1991.4 446.2L1991.9 446.2L1992.4 446.2L1992.9 446.2L1993.4 446.2L1993.9 446.2L1994.4 446.2L1994.9 446.2L1995.4 446.2L1995.9 446.2L1996.4 446.2L1996.9 446.2L1997.4 446.2L1997.9 446.2L1998.4 446.2L1998.9 446.2L1999.4 446.2L1999.9 446.2L2000.4 446.3L2000.9 446.3L2001.4 446.3L2001.9 446.3L2002.4 446.3L2002.9 446.3L2003.4 446.3L2003.9 446.3L2004.4 446.3L2004.9 446.3L2005.4 446.3L2005.9 446.3L2006.4 446.3L2006.9 446.3L2007.4 446.3L2007.9 446.3L2008.4 446.3L2008.9 446.3L2009.4 446.3L2009.9 446.3L2010.4 446.3L2010.9 446.3L2011.4 446.3L2011.9 446.3L2012.4 446.3" fill="none" stroke="#108443" stroke-width="1.8" stroke-linejoin="round"/>
<path d="M1861.9 445.3L1862.4 443.8L1862.7 447.8L1863.2 445.3M1482.7 444.6L1483.2 442.5L1483.5 446.8L1484.0 444.6M1484.3 444.6L1484.8 442.7L1485.1 446.6L1485.6 444.6M1486.4 444.6L1486.9 442.0L1487.2 446.4L1487.7 444.6M1998.6 446.2L1999.1 444.4L1999.4 448.6L1999.9 446.2M1861.7 445.3L1862.2 442.9L1862.5 447.9L1863.0 445.3M1863.5 445.3L1864.0 443.3L1864.3 447.8L1864.8 445.3M1765.4 445.9L1765.9 443.9L1766.2 448.6L1766.7 445.9M1767.9 445.7L1768.4 443.3L1768.7 447.6L1769.2 445.7M1769.8 445.4L1770.3 443.9L1770.6 447.1L1771.1 445.4M1599.4 444.5L1599.9 442.0L1600.2 446.2L1600.7 444.5M1602.0 444.5L1602.5 442.7L1602.8 445.8L1603.3 444.5M1603.8 444.5L1604.3 441.9L1604.6 446.9L1605.1 444.5M1798.7 444.2L1799.2 442.7L1799.5 446.4L1800.0 444.2M1666.1 444.4L1666.6 442.7L1666.9 446.2L1667.4 444.4M1667.4 444.4L1667.9 442.2L1668.2 446.3L1668.7 444.4M1669.1 444.4L1669.6 442.5L1669.9 445.8L1670.4 444.4M1788.9 444.2L1789.4 441.7L1789.7 445.7L1790.2 444.2M1613.5 444.5L1614.0 442.9L1614.3 446.7L1614.8 444.5M1614.9 444.5L1615.4 442.1L1615.7 446.7L1616.2 444.5M1616.7 444.5L1617.2 442.0L1617.5 446.3L1618.0 444.5M1617.8 444.5L1618.3 441.8L1618.6 446.0L1619.1 444.5M1619.6 444.5L1620.1 442.4L1620.4 445.8L1620.9 444.5M1489.4 444.6L1489.9 442.0L1490.2 446.6L1490.7 444.6M1491.9 444.6L1492.4 442.0L1492.7 446.7L1493.2 444.6M1493.7 444.6L1494.2 442.6L1494.5 446.7L1495.0 444.6M1495.7 444.6L1496.2 442.5L1496.5 447.3L1497.0 444.6M1791.3 444.2L1791.8 441.9L1792.1 446.3L1792.6 444.2M1792.5 444.2L1793.0 442.3L1793.3 446.6L1793.8 444.2M1794.8 444.2L1795.3 442.8L1795.6 446.0L1796.1 444.2M1796.4 444.2L1796.9 442.2L1797.2 445.9L1797.7 444.2M1798.8 444.2L1799.3 442.6L1799.6 445.9L1800.1 444.2M1942.9 446.0L1943.4 444.0L1943.7 448.1L1944.2 446.0M1507.8 444.6L1508.3 442.6L1508.6 446.7L1509.1 444.6M1510.3 444.6L1510.8 442.4L1511.1 446.0L1511.6 444.6M1511.5 444.6L1512.0 443.1L1512.3 446.3L1512.8 444.6M1928.3 445.9L1928.8 443.8L1929.1 447.7L1929.6 445.9M1930.4 445.9L1930.9 444.1L1931.2 448.5L1931.7 445.9M1931.7 445.9L1932.2 444.1L1932.5 448.0L1933.0 445.9M2000.4 446.3L2000.9 444.6L2001.2 448.7L2001.7 446.3M2002.5 446.3L2003.0 444.0L2003.3 448.0L2003.8 446.3M1660.8 444.4L1661.3 442.0L1661.6 445.7L1662.1 444.4M1580.0 444.6L1580.5 442.9L1580.8 447.2L1581.3 444.6M1582.3 444.5L1582.8 443.1L1583.1 447.2L1583.6 444.5M1584.1 444.5L1584.6 442.9L1584.9 446.1L1585.4 444.5M1586.3 444.5L1586.8 442.3L1587.1 446.9L1587.6 444.5M1626.3 444.5L1626.8 443.1L1627.1 446.1L1627.6 444.5M1628.0 444.4L1628.5 442.5L1628.8 445.8L1629.3 444.4M1630.5 444.4L1631.0 442.5L1631.3 446.0L1631.8 444.4M1632.1 444.4L1632.6 443.0L1632.9 446.2L1633.4 444.4M1633.6 444.4L1634.1 442.6L1634.4 446.6L1634.9 444.4M1857.5 445.3L1858.0 443.2L1858.3 446.8L1858.8 445.3M1859.4 445.3L1859.9 443.7L1860.2 447.3L1860.7 445.3M1860.8 445.3L1861.3 443.8L1861.6 446.9L1862.1 445.3M1863.4 445.3L1863.9 443.3L1864.2 446.7L1864.7 445.3M1866.0 445.4L1866.5 443.6L1866.8 447.3L1867.3 445.4M1649.8 444.4L1650.3 442.9L1650.6 445.7L1651.1 444.4M1650.7 444.4L1651.2 441.9L1651.5 446.4L1652.0 444.4M1653.1 444.4L1653.6 442.1L1653.9 446.2L1654.4 444.4M1654.2 444.4L1654.7 442.6L1655.0 445.7L1655.5 444.4M1656.2 444.4L1656.7 442.8L1657.0 446.4L1657.5 444.4M1769.4 445.5L1769.9 444.0L1770.2 447.2L1770.7 445.5M1770.6 445.4L1771.1 443.6L1771.4 446.7L1771.9 445.4M1772.8 445.1L1773.3 443.5L1773.6 447.0L1774.1 445.1M1773.7 445.0L1774.2 443.5L1774.5 447.0L1775.0 445.0M1688.9 444.4L1689.4 441.7L1689.7 447.0L1690.2 444.4M1691.2 444.4L1691.7 443.0L1692.0 446.7L1692.5 444.4M1693.8 444.4L1694.3 442.2L1694.6 445.7L1695.1 444.4M1593.7 444.5L1594.2 442.9L1594.5 446.6L1595.0 444.5M1595.3 444.5L1595.8 442.1L1596.1 445.9L1596.6 444.5M1596.3 444.5L1596.8 442.4L1597.1 446.3L1597.6 444.5M1799.3 444.2L1799.8 442.8L1800.1 446.6L1800.6 444.2M1801.4 444.2L1801.9 441.8L1802.2 445.5L1802.7 444.2M1802.4 444.2L1802.9 442.8L1803.2 445.9L1803.7 444.2M1804.5 444.3L1805.0 442.2L1805.3 445.9L1805.8 444.3M1857.2 445.3L1857.7 442.8L1858.0 447.2L1858.5 445.3M1859.3 445.3L1859.8 443.6L1860.1 446.9L1860.6 445.3M1861.4 445.3L1861.9 443.5L1862.2 447.9L1862.7 445.3M1864.0 445.4L1864.5 444.0L1864.8 446.9L1865.3 445.4M1691.8 444.4L1692.3 442.4L1692.6 446.9L1693.1 444.4M1694.0 444.4L1694.5 442.1L1694.8 446.5L1695.3 444.4M1696.3 444.3L1696.8 442.8L1697.1 447.0L1697.6 444.3M1698.1 444.3L1698.6 441.6L1698.9 446.8L1699.4 444.3M1699.4 444.3L1699.9 442.9L1700.2 446.7L1700.7 444.3M1879.9 445.5L1880.4 443.2L1880.7 446.8L1881.2 445.5M1920.5 445.8L1921.0 443.2L1921.3 447.9L1921.8 445.8M1922.2 445.8L1922.7 444.4L1923.0 447.1L1923.5 445.8M1923.7 445.8L1924.2 444.1L1924.5 447.5L1925.0 445.8M1925.8 445.8L1926.3 443.4L1926.6 447.5L1927.1 445.8M1927.2 445.8L1927.7 443.9L1928.0 447.2L1928.5 445.8M1913.1 445.7L1913.6 444.2L1913.9 447.8L1914.4 445.7M1914.1 445.8L1914.6 444.4L1914.9 448.1L1915.4 445.8M1916.2 445.8L1916.7 443.7L1917.0 447.2L1917.5 445.8M1918.0 445.8L1918.5 443.7L1918.8 448.5L1919.3 445.8M1952.0 446.0L1952.5 444.2L1952.8 447.6L1953.3 446.0M1954.3 446.0L1954.8 444.3L1955.1 447.5L1955.6 446.0M1955.9 446.0L1956.4 443.7L1956.7 448.4L1957.2 446.0M1957.3 446.0L1957.8 444.4L1958.1 448.2L1958.6 446.0M1959.6 446.1L1960.1 443.7L1960.4 448.6L1960.9 446.1M1690.4 444.4L1690.9 442.0L1691.2 445.8L1691.7 444.4M1765.4 445.9L1765.9 443.8L1766.2 448.5L1766.7 445.9M1767.6 445.7L1768.1 444.1L1768.4 448.3L1768.9 445.7M1992.8 446.2L1993.3 444.5L1993.6 448.6L1994.1 446.2M1994.8 446.2L1995.3 443.6L1995.6 448.0L1996.1 446.2M1523.7 444.6L1524.2 442.3L1524.5 446.0L1525.0 444.6M1780.6 444.5L1781.1 443.1L1781.4 446.2L1781.9 444.5M1782.2 444.5L1782.7 442.9L1783.0 446.0L1783.5 444.5M1888.0 445.6L1888.5 443.3L1888.8 447.9L1889.3 445.6M1890.2 445.6L1890.7 442.9L1891.0 448.0L1891.5 445.6M1891.7 445.6L1892.2 443.1L1892.5 447.0L1893.0 445.6M1893.6 445.6L1894.1 443.8L1894.4 447.8L1894.9 445.6M1895.2 445.6L1895.7 443.5L1896.0 447.4L1896.5 445.6M1653.6 444.4L1654.1 442.4L1654.4 446.1L1654.9 444.4M1655.1 444.4L1655.6 442.0L1655.9 446.8L1656.4 444.4M1657.7 444.4L1658.2 441.8L1658.5 446.7L1659.0 444.4M1658.7 444.4L1659.2 442.5L1659.5 445.7L1660.0 444.4M1809.2 444.4L1809.7 441.8L1810.0 446.4L1810.5 444.4M1811.3 444.4L1811.8 443.0L1812.1 446.6L1812.6 444.4M1812.5 444.4L1813.0 441.8L1813.3 446.7L1813.8 444.4M1814.5 444.5L1815.0 442.4L1815.3 446.1L1815.8 444.5M1815.8 444.5L1816.3 442.8L1816.6 446.8L1817.1 444.5" fill="none" stroke="#108443" stroke-width="1.0" stroke-linejoin="round"/>
<line x1="1508.6" y1="462.6" x2="1508.6" y2="471.1" stroke="#000" stroke-width="1.6"/>
<text x="1507.9" y="500.4" font-size="34" text-anchor="middle" fill="#000" stroke="#000">3100</text>
<line x1="1600.3" y1="462.6" x2="1600.3" y2="471.1" stroke="#000" stroke-width="1.6"/>
<text x="1599.6" y="500.4" font-size="34" text-anchor="middle" fill="#000" stroke="#000">3200</text>
<line x1="1692.0" y1="462.6" x2="1692.0" y2="471.1" stroke="#000" stroke-width="1.6"/>
<text x="1691.3" y="500.4" font-size="34" text-anchor="middle" fill="#000" stroke="#000">3300</text>
<line x1="1783.6" y1="462.6" x2="1783.6" y2="471.1" stroke="#000" stroke-width="1.6"/>
<text x="1782.9" y="500.4" font-size="34" text-anchor="middle" fill="#000" stroke="#000">3400</text>
<line x1="1875.3" y1="462.6" x2="1875.3" y2="471.1" stroke="#000" stroke-width="1.6"/>
<text x="1874.6" y="500.4" font-size="34" text-anchor="middle" fill="#000" stroke="#000">3500</text>
<line x1="1967.0" y1="462.6" x2="1967.0" y2="471.1" stroke="#000" stroke-width="1.6"/>
<text x="1966.3" y="500.4" font-size="34" text-anchor="middle" fill="#000" stroke="#000">3600</text>
<line x1="1462.8" y1="462.6" x2="1462.8" y2="467.6" stroke="#000" stroke-width="1.6"/>
<line x1="1554.5" y1="462.6" x2="1554.5" y2="467.6" stroke="#000" stroke-width="1.6"/>
<line x1="1646.1" y1="462.6" x2="1646.1" y2="467.6" stroke="#000" stroke-width="1.6"/>
<line x1="1737.8" y1="462.6" x2="1737.8" y2="467.6" stroke="#000" stroke-width="1.6"/>
<line x1="1829.5" y1="462.6" x2="1829.5" y2="467.6" stroke="#000" stroke-width="1.6"/>
<line x1="1921.1" y1="462.6" x2="1921.1" y2="467.6" stroke="#000" stroke-width="1.6"/>
<line x1="2012.8" y1="462.6" x2="2012.8" y2="467.6" stroke="#000" stroke-width="1.6"/>
<line x1="1454.3" y1="56.9" x2="1462.8" y2="56.9" stroke="#000" stroke-width="1.6"/>
<text x="1446.1" y="64.1" font-size="34" text-anchor="end" fill="#000" stroke="#000">2</text>
<line x1="1454.3" y1="114.9" x2="1462.8" y2="114.9" stroke="#000" stroke-width="1.6"/>
<text x="1446.1" y="122.1" font-size="34" text-anchor="end" fill="#000" stroke="#000">1</text>
<line x1="1454.3" y1="172.8" x2="1462.8" y2="172.8" stroke="#000" stroke-width="1.6"/>
<text x="1446.1" y="180.0" font-size="34" text-anchor="end" fill="#000" stroke="#000">0</text>
<line x1="1454.3" y1="230.8" x2="1462.8" y2="230.8" stroke="#000" stroke-width="1.6"/>
<text x="1448.1" y="238.0" font-size="34" text-anchor="end" fill="#000" stroke="#000">-1</text>
<line x1="1454.3" y1="288.7" x2="1462.8" y2="288.7" stroke="#000" stroke-width="1.6"/>
<text x="1448.1" y="295.9" font-size="34" text-anchor="end" fill="#000" stroke="#000">-2</text>
<line x1="1454.3" y1="346.7" x2="1462.8" y2="346.7" stroke="#000" stroke-width="1.6"/>
<text x="1448.1" y="353.9" font-size="34" text-anchor="end" fill="#000" stroke="#000">-3</text>
<line x1="1454.3" y1="404.6" x2="1462.8" y2="404.6" stroke="#000" stroke-width="1.6"/>
<text x="1448.1" y="411.8" font-size="34" text-anchor="end" fill="#000" stroke="#000">-4</text>
<line x1="1454.3" y1="462.6" x2="1462.8" y2="462.6" stroke="#000" stroke-width="1.6"/>
<text x="1448.1" y="469.8" font-size="34" text-anchor="end" fill="#000" stroke="#000">-5</text>
<line x1="1457.8" y1="85.9" x2="1462.8" y2="85.9" stroke="#000" stroke-width="1.6"/>
<line x1="1457.8" y1="143.8" x2="1462.8" y2="143.8" stroke="#000" stroke-width="1.6"/>
<line x1="1457.8" y1="201.8" x2="1462.8" y2="201.8" stroke="#000" stroke-width="1.6"/>
<line x1="1457.8" y1="259.8" x2="1462.8" y2="259.8" stroke="#000" stroke-width="1.6"/>
<line x1="1457.8" y1="317.7" x2="1462.8" y2="317.7" stroke="#000" stroke-width="1.6"/>
<line x1="1457.8" y1="375.7" x2="1462.8" y2="375.7" stroke="#000" stroke-width="1.6"/>
<line x1="1457.8" y1="433.6" x2="1462.8" y2="433.6" stroke="#000" stroke-width="1.6"/>
<rect x="1462.8" y="56.9" width="550.0" height="405.7" fill="none" stroke="#000" stroke-width="1.6"/>
<text x="1374.0" y="42.0" font-size="48" text-anchor="start" fill="#000" stroke="#000">c</text>
<text x="1477.0" y="99.3" font-size="34.3" text-anchor="start" fill="#231F20" stroke="#231F20">HC700-400-5h</text>
<text x="1989.6" y="100.0" font-size="31.5" text-anchor="end" fill="#000" stroke="#000">10 K</text>
<text x="1910.2" y="165.0" font-size="31.1" text-anchor="start" fill="#8E8E8E" stroke="#8E8E8E">Raw</text>
<text x="1921.2" y="243.0" font-size="31.1" text-anchor="start" fill="#000" stroke="#000">Fit</text>
<text x="1899.2" y="301.0" font-size="31.1" text-anchor="start" fill="#F5821F" stroke="#F5821F">Broad</text>
<text x="1891.2" y="351.0" font-size="31.1" text-anchor="start" fill="#3A55A5" stroke="#3A55A5">Narrow</text>
<text x="1883.2" y="441.0" font-size="31.1" text-anchor="start" fill="#108443" stroke="#108443">Residual</text>
<text transform="translate(1409.0 256.0) rotate(-90)" font-size="38" text-anchor="middle" fill="#000" stroke="#000">Intensity (arb. units)</text>
<text x="1769.3" y="545.5" font-size="38" text-anchor="middle" fill="#000" stroke="#000">Magnetic Field (G)</text></g>
<g id="panel-d"><path transform="scale(0.1)" d="M1371 7174l2-43 3 21 2 96 3 38 2 10 3-50 2-79 3-11 2 87 3 123 2-5 3-158 2-104 2-42 3 63 2 97 3-35 2-4 3 71 2 62 3-21 2-44 3-29 2-24 3-4 2 77 3-9 2 22 3 68 2-10 3-117 2-10 3 22 2 21 2 21 3-8 2-7 3-36 2-29 3 17 2 27 3 46 2 57 3 19 2-49 3-39 2 17 3-13 2-71 3 35 2 83 3 21 2 75 3 2 2-59 2-8 3 40 2 9 3-20 2 22 3-32 2-79 3-41 2 45 3 14 2 6 3 24 2 43 3-13 2-48 3-13 2-6 3-16 2-64 3-16 2 67 2 33 3 0 2-16 3-75 2-34 3 56 2 31 3-40 2-11 3 36 2 113 3 6 2-68 3 5 2-7 3-92 2 15 3 94 2-22 2-78 3-2 2 89 3-37 2-87 3 0 2 178 3 119 2-72 3-136 2-92 3-57 2 71 3 45 2-33 3-16 2 65 3-36 2-43 3 63 2 36 2-40 3 0 2 51 3-11 2-81 3-49 2 20 3 24 2 39 3 131 2 54 3-60 2 11 3-18 2-22 3 15 2 39 3 18 2-72 3-98 2-17 2-5 3-17 2 19 3-3 2-25 3 15 2 74 3 60 2 4 3-63 2-43 3-3 2 20 3-24 2-27 3-10 2-4 3 49 2 11 2-73 3 16 2 34 3 23 2-28 3-59 2 14 3 23 2 1 3 24 2-29 3 7 2 1 3-27 2-33 3-13 2-6 3 80 2 74 3-29 2-53 2-17 3-47 2-3 3 54 2 38 3-16 2-27 3 39 2 70 3 12 2-74 3-93 2 64 3 99 2-28 3-31 2-61 3 31 2 6 3-7 2 79 2 102 3-36 2-108 3-106 2 5 3 108 2-7 3 7 2 113 3 29 2-94 3-34 2 87 3 43 2-77 3-32 2 14 3-10 2-37 2-61 3-4 2 15 3-29 2 69 3 57 2-15 3-7 2 34 3-45 2-66 3-14 2-108 3-9 2 77 3-8 2-42 3 55 2 61 3-28 2 56 2-14 3-84 2-16 3-37 2 20 3 30 2-16 3-20 2 28 3 7 2-39 3 35 2-37 3-58 2 55 3 117 2 21 3-59 2-49 3 4 2 62 2-2 3-81 2-79 3 12 2 89 3 53 2-47 3-60 2 5 3 71 2 32 3-49 2-16 3 65 2 1 3-32 2-30 3 1 2 58 2 47 3 28 2-95 3-45 2 80 3-43 2-102 3 51 2 48 3-39 2 7 3-12 2 23 3 40 2-61 3-37 2-9 3 12 2 8 3-43 2 8 2 11 3 19 2-10 3 1 2-31 3 3 2 4 3-16 2 15 3-24 2 0 3 85 2-40 3-43 2 42 3 38 2 14 3 3 2 33 3 17 2-14 2-51 3-91 2-34 3 34 2-13 3-31 2 5 3 76 2 31 3-42 2-48 3 1 2 10 3 33 2 25 3-25 2-19 3 17 2 36 2 16 3-31 2-104 3-24 2 149 3 104 2-39 3-13 2-16 3-23 2-2 3-41 2-65 3-69 2-57 3-3 2 20 3 100 2 42 3-19 2-12 2 0 3 12 2-58 3-11 2 73 3 77 2 130 3 62 2-77 3-78 2 33 3 105 2-57 3-124 2-24 3 64 2 23 3-45 2-52 3 42 2 79 2 0 3 22 2-31 3-79 2 23 3-20 2-28 3 3 2 14 3 33 2 38 3-41 2 17 3 98 2-2 3-106 2-48 3 41 2 2 2-63 3 33 2 6 3-71 2 62 3 126 2-63 3-81 2 10 3 11 2-47 3-100 2-21 3 25 2 24 3 28 2 55 3 13 2-61 3 6 2 42 2 5 3 54 2 54 3 21 2 14 3 42 2 52 3-52 2-117 3-23 2 5 3 5 2 54 3 2 2-3 3 16 2 11 3-75 2-141 3-64 2 13 2 50 3 60 2-61 3-22 2 65 3 37 2-89 3-75 2 26 3 52 2 10 3-10 2-18 3-8 2 6 3 31 2 28 3 66 2 16 2-33 3-31 2 66 3 20 2-61 3-45 2 24 3 142 2-17 3-151 2-30 3 39 2 4 3-9 2 29 3 25 2-63 3-84 2 60 3 91 2-34 2-40 3 51 2 32 3-74 2-62 3-15 2 38 3 11 2 28 3 91 2-36 3-71 2 32 3 41 2-90 3-46 2 81 3 50 2-37 3-76 2 22 2 93 3 91 2 0 3-56 2-31 3-16 2 49 3-19 2 8 3 8 2-105 3-20 2 85 3 106 2-28 3-131 2 57 3 70 2-87 3-90 2 57 2 55 3-19 2-15 3-74 2-65 3 16 2 66 3 98 2 34 3-60 2-77 3 5 2 57 3 40 2 85 3 25 2-82 3-44 2 20 2 43 3 20 2-100 3-114 2 0 3 2 2 23 3 49 2-6 3-77 2-112 3 69 2 151 3-29 2-117 3-24 2 111 3 72 2 29 3-60 2-72 2-24 3-46 2 37 3 41 2 37 3 111 2 0 3-93 2-77 3-16 2 72 3 106 2 21 3-106 2-50 3 4 2-38 3-67 2 48 3 49 2 6 2 1 3 0 2 11 3 19 2-46 3-42 2 39 3 34 2 59 3 41 2-84 3-5 2 90 3 26 2-5 3-86 2-102 3 35 2 154 2 36 3-129 2-86 3 30 2 60 3 73 2-14 3-32 2 14 3-21 2-30 3 75 2 17 3-64 2 9 3 61 2-17 3-29 2-15 3 16 2 45 2-3 3-14 2-64 3-41 2 92 3 22 2-44 3 1 2-15 3-19 2-17 3 11 2 13 3-2 2-21 3 7 2 15 3 8 2 38 3 24 2-23 2-70 3-40 2 66 3 49 2-8 3-56 2-23 3 39 2-7 3-18 2 5 3 40 2-100 3-31 2 44 3 26 2-14 3-64 2-70 2-18 3 118 2 126 3 4 2 35 3-78 2-65 3-27 2 53 3 21 2-64 3-40 2 43 3 98 2 42 3-33 2 57 3-33 2-97 3-36 2-3 2-24 3-7 2 45 3 93 2 44 3-71 2-38 3 135 2-6 3-115 2-16 3 96 2 33 3-141 2-74 3 109 2 38 3-39 2 28 3-16 2-26 2 47 3-58 2-62 3 72 2 79 3 3 2-52 3-39 2 11 3-30 2-44 3 170 2 61 3-52 2-14 3-51 2-50 3 41 2 23 2-44 3 1 2 34 3 25 2-21 3 14 2 26 3-44 2 11 3 8 2-20 3 32 2 32 3 44 2 14 3-96 2-70 3 23 2-45 3-47 2 68 2 105 3-3 2-94 3 37 2 32 3-32 2 12 3 43 2-19 3-19 2 27 3 21 2-88 3 5 2 80 3 18 2 9 3 67 2-18 3-31 2-17 2-64 3-91 2-36 3 74 2 114 3 44 2-39 3-13 2-17 3-71 2-22 3 12 2 25 3 91 2 86 3-6 2-145 3-74 2 70 2 49 3 18 2 43 3 28 2-51 3-25 2 110 3 62 2-41 3-120 2-17 3 119 2 54 3-93 2-81 3-10 2 41 3-73 2-9 3 107 2-26 2-96 3-1 2 98 3 76 2-11 3-19 2-67 3-54 2 32 3 54 2 23 3-27 2 19 3-26 2-112 3-2 2 80 3 43 2-107 3-64 2 99 2 60 3-29 2-22 3 30 2-73 3-88 2 9 3 38 2 78 3 36 2-30 3 31 2 25 3 43 2 37 3-53 2-83 3-3 2 44 2 46 3 14 2-2 3-19 2 1 3-28 2-40 3-37 2 9 3 84 2 96 3-16 2-49 3-42 2 44 3 52 2-39 3-51 2 32 3 0 2-31 2-36 3 46 2 86 3-55 2-119 3 25 2 54 3 38 2-33 3-117 2-42 3 46 2 18 3 20 2-13 3 5 2 20 3 65 2 51 3 39 2 57 2-8 3-138 2-46 3 27 2 28 3 23 2 59 3 59 2 33 3 30 2-27 3-47 2-6 3-18 2-90 3-24 2 105 3 56 2-54 3-21 2 48 2-46 3-23 2 17 3-28 2 25 3 6 2 9 3 18 2-34 3 66 2-1 3-191 2-105 3 154 2 224 3 63 2-89 3-19 2 24 2 1 3-7 2-15 3 1 2 109 3 28 2-30 3-52 2-52 3 50 2 79 3-27 2-55 3-90 2-46 3 19 2 52 3 26 2 42 3-34 2-32 2 4 3-53 2-11 3 42 2-10 3-32 2 56 3 40 2 15 3-32 2-27 3-1 2 11 3 5 2 1 3-15 2 36 3 18 2 43 3 37 2-19 2-43 3 56 2 114 3 70 2-9 3-44 2-86 3-33 2 29 3 5 2-40 3-60 2-36 3 39 2-38 3-42 2 107 3 127 2 7 2-77 3-45 2-22 3 79 2 64 3-66 2 4 3-9 2 24 3 85 2-14 3-79 2-15 3 123 2 89 3 24 2-45 3-41 2-41 3-59 2 56 2 59 3-53 2-30 3-22 2 21 3-33 2 16 3 36 2 30 3-101 2-50 3 23 2-19 3 37 2 94 3 73 2-47 3-49 2 89 3 10 2-45 2 19 3 85 2 4 3-110 2-56 3 0 2 3 3-49 2 6 3 56 2-31 3-53 2 10 3 83 2 20 3-5 2-7 3-29 2 39 2 73 3 14 2 47 3 66 2-49 3-73 2-31 3 0 2-44 3-7 2 96 3 9 2-5 3 75 2-9 3-44 2-12 3 3 2-37 3-13 2-15 2 17 3 70 2-46 3-1 2 97 3-12 2 16 3-7 2-34 3 61 2 14 3-90 2-37 3-9 2-1 3 18 2 85 3 58 2-9 3-75 2 0 2 42 3 16 2 8 3 38 2-9 3-32 2 0 3 47 2-52 3-7 2 14 3-10 2-72 3 23 2 51 3-39 2-26 3 43 2 50 2 29 3 7 2 35 3-37 2-96 3-53 2 26 3 63 2-6 3 0 2 123 3 64 2-37 3-66 2-14 3 34 2 43 3-90 2-67 3 54 2 103 2-1 3-6 2 66 3 53 2-14 3-94 2-89 3 11 2 37 3 61 2 25 3-49 2-22 3 65 2 17 3-87 2-76 3-19 2-15 3 45 2 23 2-3 3 53 2 27 3 13 2 48 3 12 2-69 3-67 2-67 3 30 2 58 3 39 2 49 3 11 2-17 3-3 2-41 3 71 2 12 2-32 3 20 2 2 3-116 2-32 3 20 2 52 3 99 2 89 3-66 2-72 3-6 2 35 3-21 2-44 3 0 2 69 3 21 2-34 3-54 2-4 2 78 3 44 2 5 3 30 2-78 3-46 2 55 3 19 2 22 3 18 2-7 3-15 2-36 3-46 2-17 3-15 2 36 3 62 2 9 3 1 2-45 2 4 3 50 2-1 3 14 2 58 3 7 2-93 3 23 2 115 3 83 2-39 3-94 2-93 3-71 2 7 3 152 2 38 3 16 2 8 2-31 3-26 2-9 3 24 2 18 3-56 2-27 3 111 2 148 3 28 2-68 3-137 2-42 3 31 2 82 3 48 2-60 3-31 2 9 3 71 2-8 2-105 3-18 2 96 3 37 2-74 3-93 2-3 3 26 2-1 3 52 2 35 3-20 2 7 3 2 2-55 3 33 2 52 3-41 2-23 3 58 2 37 2 33 3 7 2-63 3-17 2 26 3 8 2 27 3-6 2-20 3-33 2 13 3 68 2 7 3 14 2-50 3-62 2 34 3 87 2 21 3-13 2 7 2-3 3-32 2-16 3-14 2 39 3-1 2-31 3-14 2 8 3 13 2-12 3-26 2 78 3 67 2-6 3 51 2 41 3-92 2-62 2 6 3-14 2-7 3-34 2 17 3 45 2 44 3 36 2-19 3 1 2-32 3-17 2 35 3-30 2 12 3 88 2 44 3 17 2-26 3-107 2-70 2-57 3 34 2 50 3 54 2 96 3-29 2-141 3-10 2 74 3 23 2-46 3-26 2 26 3 38 2-20 3 10 2 25 3 98 2 29 3-102 2-17 2-38 3-33 2 72 3-25 2-96 3 8 2 30 3-1 2-7 3 70 2 97 3-30 2-59 3 42 2-10 3-69 2-73 3 18 2 100 2-81 3-50 2 116 3-3 2-104 3 24 2 59 3-41 2-35 3 8 2-4 3 21 2-7 3 0 2 19 3 1 2-9 3 68 2 76 3 51 2-48 2-26 3-2 2 9 3 31 2 65 3 12 2-99 3-91 2 11 3 4 2-16 3 25 2 94 3-1 2-31 3-67 2-29 3 4 2-1 3-35 2 36 2 48 3-8 2 17 3 35 2-25 3 11 2 20 3 42 2-29 3-75 2 40 3 97 2-1 3-52 2-21 3 16 2 28 3 32 2 34 2 52 3 41 2-91 3-137 2 3 3 120 2 44 3 11 2 0 3-3 2-19 3-101 2-74 3-17 2 127 3 104 2 7 3-35 2-36 3-37 2-42 2 20 3-37 2-67 3 108 2 41 3-63 2-40 3 34 2 43 3 85 2 31 3-19 2 41 3-29 2-79 3 17 2-46 3-38 2 54 3-11 2-11 2 21 3-26 2 24 3 44 2 11 3-33 2-62 3-15 2 40 3 47 2 11 3 4 2-82 3-60 2-6 3 25 2 47 3 26 2-8 2-42 3 3 2 1 3 22 2 14 3 34 2 61 3-47 2 45 3 10 2-102 3-91 2 31 3 113 2 112 3 19 2-78 3-63 2-48 3-46 2 69 2 55 3 28 2-31 3-52 2-53 3 19 2-6 3-4 2-45 3-59 2 23 3 91 2 4 3-7 2-25 3-38 2 19 3 30 2-59 3 7 2 30 2 34 3-3 2 7 3 24 2 11 3 33 2 3 3-96 2-10 3-2 2-45 3-63 2 26 3 56 2 13 3-21 2 19 3-22 2-57 2 2 3 73 2 37 3-14 2-5 3-48 2-26 3 22 2 37 3 45 2 50 3-24 2-60 3 68 2 97 3-34 2 8 3-14 2-72 3-58 2 8 2 59 3 37 2-72 3-79 2-36 3 39 2 45 3-4 2 17 3-11 2-51 3-16 2 18 3 12 2-3 3-11 2 38 3-10 2-2 3 24 2-6 2-4 3-6 2-41 3-12 2 56 3 105 2 47 3-93 2-94 3 35 2 1 3 44 2 49 3-43 2 18 3 21 2-79 3-26 2 4 2 50 3 23 2-17 3 22 2 36 3 35 2-13 3-79 2-26 3-14 2 12 3-17 2-11 3-26 2 45 3 55 2-33 3-1 2 6 3-71 2-22 2-10 3-34 2 23 3 78 2 20 3-34 2 62 3 25 2-152 3-17 2 115 3 54 2-13 3-13 2 31 3 24 2-43 3-6 2 0 3-23 2-78 2-6 3 133 2 76 3-36 2-33 3-107 2-40 3 31 2 61 3 44 2-69 3-45 2 44 3-6 2-43 3 21 2-2 3-7 2-29 2 26 3 50 2 42 3-68 2-34 3 44 2 82 3 70 2-8 3-79 2-74 3-92 2 60 3 41 2-14 3 66 2 85 3-35 2-120 3-92 2 42 2 79 3 59 2-70 3-135 2-5 3 42 2 8 3 29 2 58 3 74 2 43 3-35 2-34 3-23 2-100 3-60 2 101 3 118 2-52 3-116 2-29 2 19 3-5 2 0 3 8 2 31 3 56 2 54 3-87 2-75 3-8 2-5 3-35 2 17 3 69 2 37 3-46 2-53 3-73 2-11 3 64 2 23 2 21 3 77 2 14 3 17 2-15 3-54 2 30 3 29 2 14 3 8 2 32 3-85 2-105 3 50 2 77 3 26 2-24 3-51 2-20 2-21 3 27 2 38 3 14 2 7 3-51 2-37 3 96 2 11 3-86 2 8 3-15 2-18 3 83 2 0 3-105 2-31 3 74 2 31 3-26 2 15 2 34 3-48 2-44 3 45 2 27 3-39 2 7 3 55 2-12 3-83 2-33 3 29 2 36 3-32 2-86 3-34 2 69 3 19 2-9 3 48 2 62 2 52 3 8 2-71 3-93 2-14 3 81 2 80 3 29 2 3 3 40 2 9 3-101 2-129 3 42 2 6 3-41 2 16 3 56 2 21 2-114 3-68 2 102 3 102 2 17 3-38 2-101 3-90 2 41 3 95 2-34 3-9 2 88 3 35 2-100 3-49 2 135 3 69 2-29 3-43 2-37 2 100 3 121 2-8 3-76 2-86 3-9 2 16 3 21 2 32 3-64 2-34 3 56 2-49 3-56 2 18 3 40 2 22 3-14 2 15 3-37 2-58 2 30 3 48 2-52 3-25 2 55 3 30 2-87 3-38 2 37 3 39 2-38 3 16 2 28 3-106 2-86 3 71 2 64 3-3 2 34 2 53 3 5 2-11 3-66 2-33 3-13 2 11 3 50 2 23 3 13 2 15 3 33 2 16 3-76 2-71 3 29 2 112 3-12 2-78 3-37 2-61 2 11 3 34 2 25 3 14 2 0 3-14 2-55 3 1 2-22 3-52 2 97 3 48 2-42 3 54 2 53 3-28 2-89 3-93 2 29 3 90 2 15 2 6 3-28 2-54 3-7 2 73 3 72 2-46 3-78 2 30 3 39 2 41 3 85 2-6 3-97 2-41 3-37 2 5 3 15 2 38 2 29 3-59 2-98 3 11 2 93 3-40 2-94 3-52 2 6 3 42 2 106 3 75 2 3 3-82 2-109 3 21 2 69 3-35 2-2 3 33 2 50 2 28 3 21 2-22 3-12 2-54 3-31 2-16 3 61 2 54 3-33 2-16 3-49 2-5 3 57 2 25 3-60 2-98 3 79 2 117 3-1 2-56 2-61 3-25 2 9 3 68 2 52 3-9 2-45 3-52 2-15 3 71 2-15 3-11 2 84 3 61 2-27 3-26 2-54 3-43 2-68 2-1 3 22 2-41 3-9 2 90 3 55 2-49 3 28 2 88 3-111 2-98 3 16 2-56 3-41 2 14 3 10 2 119 3 134 2-78 3-167 2-83 2 156 3 126 2 14 3-8 2-100 3-90 2 102 3 58 2-20 3-42 2-49 3-19 2 48 3-1 2-41 3 14 2 85 3 39 2 32 3-33 2-162 2-23 3 18 2-8 3 17 2 1 3 12 2 62 3 98 2 40 3-102 2-71 3-4 2 4 3 46 2 68 3 5 2-80 3-50 2 134 2 96 3-88 2-42 3-5 2-24 3 39 2-44 3-69 2-1 3-8 2 38 3 62 2-47 3-29 2 73 3 13 2-9 3-15 2-34 3 74 2 14 2-124 3-46 2 94 3 91 2-2 3-68 2-49 3-22 2 0 3 2 2 0 3 35 2 12 3 15 2 22 3 47 2 7 3-14 2-47 3 31 2 61 2 6 3 13 2-15 3-97 2-47 3 28 2 55 3 29 2 16 3-66 2-28 3-52 2-85 3-13 2 66 3 15 2-98 3-44 2 6 3 12 2 133 2 133 3-40 2-79 3-10 2-7 3 19 2-8 3-48 2 0 3 38 2-80 3-52 2 72 3 49 2-5 3-12 2 15 3 7 2 9 2 44 3-7 2 2 3-28 2-47 3 3 2 38 3 55 2-9 3-126 2-67 3 85 2 36 3-11 2 9 3-7 2 37 3 17 2 0 3 54 2-35 2-63 3 19 2 84 3 4 2-26 3-19 2-47 3-7 2-28 3-42 2 1 3-29 2 4 3 93 2 66 3-104 2-53 3-26 2-11 3 49 2 84 2 51 3-70 2-18 3 65 2-14 3 11 2 5 3-83 2 2" fill="none" stroke="#8E8E8E" stroke-width="20" stroke-linejoin="round"/>
<path d="M136.2 823.2L138.0 822.9L139.8 822.5L141.7 822.1L143.5 821.7L145.3 821.3L147.2 820.9L149.0 820.5L150.8 820.0L152.7 819.6L154.5 819.2L156.3 818.8L158.2 818.3L160.0 817.9L161.8 817.5L163.7 817.0L165.5 816.6L167.3 816.1L169.2 815.6L171.0 815.2L172.8 814.7L174.7 814.2L176.5 813.8L178.3 813.3L180.2 812.8L182.0 812.3L183.8 811.8L185.7 811.4L187.5 810.9L189.3 810.4L191.2 809.9L193.0 809.4L194.8 808.9L196.7 808.4L198.5 807.8L200.3 807.3L202.2 806.8L204.0 806.3L205.8 805.8L207.7 805.3L209.5 804.8L211.3 804.3L213.2 803.7L215.0 803.2L216.8 802.7L218.7 802.2L220.5 801.7L222.3 801.2L224.2 800.7L226.0 800.2L227.9 799.7L229.7 799.2L231.5 798.7L233.4 798.2L235.2 797.7L237.0 797.2L238.9 796.7L240.7 796.3L242.5 795.8L244.4 795.3L246.2 794.9L248.0 794.4L249.9 794.0L251.7 793.6L253.5 793.2L255.4 792.8L257.2 792.4L259.0 792.0L260.9 791.6L262.7 791.3L264.5 790.9L266.4 790.6L268.2 790.3L270.0 790.0L271.9 789.7L273.7 789.5L275.5 789.2L277.4 789.0L279.2 788.8L281.0 788.6L282.9 788.5L284.7 788.4L286.5 788.3L288.4 788.2L290.2 788.1L292.0 788.1L293.9 788.1L295.7 788.1L297.5 788.2L299.4 788.3L301.2 788.4L303.0 788.6L304.9 788.7L306.7 789.0L308.5 789.2L310.4 789.5L312.2 789.9L314.0 790.2L315.9 790.6L317.7 791.1L319.5 791.6L321.4 792.1L323.2 792.7L325.0 793.3L326.9 793.9L328.7 794.6L330.5 795.4L332.4 796.2L334.2 797.0L336.0 797.9L337.9 798.8L339.7 799.8L341.5 800.8L343.4 801.9L345.2 803.0L347.0 804.1L348.9 805.3L350.7 806.6L352.5 807.9L354.4 809.2L356.2 810.6L358.0 812.1L359.9 813.5L361.7 815.1L363.5 816.6L365.4 818.2L367.2 819.9L369.0 821.6L370.9 823.3L372.7 825.1L374.5 826.9L376.4 828.7L378.2 830.6L380.0 832.5L381.9 834.4L383.7 836.4L385.5 838.4L387.4 840.4L389.2 842.5L391.0 844.6L392.9 846.7L394.7 848.8L396.5 850.9L398.4 853.1L400.2 855.2L402.0 857.4L403.9 859.6L405.7 861.8L407.6 864.0L409.4 866.2L411.2 868.4L413.1 870.6L414.9 872.8L416.7 874.9L418.6 877.1L420.4 879.3L422.2 881.4L424.1 883.6L425.9 885.7L427.7 887.8L429.6 889.9L431.4 891.9L433.2 894.0L435.1 896.0L436.9 897.9L438.7 899.9L440.6 901.8L442.4 903.7L444.2 905.5L446.1 907.3L447.9 909.1L449.7 910.9L451.6 912.6L453.4 914.2L455.2 915.8L457.1 917.4L458.9 918.9L460.7 920.4L462.6 921.8L464.4 923.2L466.2 924.6L468.1 925.9L469.9 927.1L471.7 928.3L473.6 929.5L475.4 930.6L477.2 931.7L479.1 932.7L480.9 933.7L482.7 934.6L484.6 935.5L486.4 936.3L488.2 937.1L490.1 937.8L491.9 938.5L493.7 939.2L495.6 939.8L497.4 940.3L499.2 940.9L501.1 941.3L502.9 941.8L504.7 942.2L506.6 942.5L508.4 942.8L510.2 943.1L512.1 943.4L513.9 943.6L515.7 943.7L517.6 943.9L519.4 944.0L521.2 944.0L523.1 944.1L524.9 944.1L526.7 944.1L528.6 944.0L530.4 943.9L532.2 943.8L534.1 943.7L535.9 943.5L537.7 943.3L539.6 943.1L541.4 942.9L543.2 942.6L545.1 942.4L546.9 942.1L548.7 941.8L550.6 941.4L552.4 941.1L554.2 940.7L556.1 940.3L557.9 939.9L559.7 939.5L561.6 939.1L563.4 938.7L565.2 938.2L567.1 937.7L568.9 937.3L570.7 936.8L572.6 936.3L574.4 935.8L576.2 935.3L578.1 934.8L579.9 934.2L581.7 933.7L583.6 933.2L585.4 932.6L587.2 932.1L589.1 931.5L590.9 931.0L592.8 930.4L594.6 929.8L596.4 929.2L598.3 928.7L600.1 928.1L601.9 927.5L603.8 926.9L605.6 926.4L607.4 925.8L609.3 925.2L611.1 924.6L612.9 924.0L614.8 923.4L616.6 922.9L618.4 922.3L620.3 921.7L622.1 921.1L623.9 920.5L625.8 920.0L627.6 919.4L629.4 918.8L631.3 918.2L633.1 917.7L634.9 917.1L636.8 916.5L638.6 916.0L640.4 915.4L642.3 914.8L644.1 914.3L645.9 913.7L647.8 913.2L649.6 912.6L651.4 912.1L653.3 911.5L655.1 911.0L656.9 910.5L658.8 910.0L660.6 909.4L662.4 908.9L664.3 908.4L666.1 907.9L667.9 907.4L669.8 906.9L671.6 906.3L673.4 905.8L675.3 905.4L677.1 904.9L678.9 904.4L680.8 903.9L682.6 903.4" fill="none" stroke="#000000" stroke-width="1.7" stroke-linejoin="round" stroke-linecap="butt"/>
<path transform="scale(0.1)" d="M1371 10050l2-94 3-76 2 33 3-49 2-40 3 105 2 50 3-92 2-103 3-29 2 20 3 46 2 78 2 98 3 63 2-23 3-85 2-18 3-18 2-52 3 38 2 81 3-58 2-91 3 52 2 107 3-48 2-91 3 9 2 12 3 64 2 109 3-46 2 14 2 56 3-17 2-78 3-22 2 44 3 8 2-93 3-87 2-46 3 0 2-21 3-8 2 42 3 35 2 1 3 13 2 52 3 96 2-21 3 10 2 109 2-25 3-124 2 47 3 32 2-21 3 55 2 36 3-24 2-19 3-21 2-93 3-78 2-28 3-25 2 22 3 26 2 38 3 44 2-20 3 20 2 37 2-49 3-38 2 47 3 112 2 34 3-112 2 32 3 56 2-69 3-53 2-22 3-7 2-5 3 11 2 25 3-15 2 17 3 39 2-67 2-15 3 101 2 22 3 3 2-42 3-20 2 27 3-58 2-33 3-27 2 3 3 51 2-37 3-47 2 77 3 65 2-21 3 4 2 33 3 45 2 66 2-1 3-17 2-12 3-78 2-59 3 58 2 43 3-83 2 0 3 42 2 8 3-1 2 32 3-48 2-14 3 18 2-5 3-44 2-64 3 11 2 75 2-16 3-47 2-33 3 39 2 68 3 15 2-46 3-55 2-36 3 75 2-2 3-65 2 53 3 21 2 16 3 22 2-81 3-46 2 54 2 29 3 52 2 23 3-15 2 11 3-14 2-89 3-5 2 36 3-85 2-54 3 73 2 44 3 15 2 29 3 40 2-99 3 5 2 74 3 42 2 21 2 10 3 31 2-9 3-79 2-10 3-21 2-7 3 36 2 86 3 45 2-31 3-82 2 19 3 94 2-22 3-87 2-33 3-40 2-16 3 20 2-16 2-40 3 43 2 48 3-2 2 27 3 4 2-47 3-19 2 7 3 54 2 50 3-22 2-15 3 18 2 20 3 7 2-23 3-108 2-82 2 51 3 35 2 0 3 8 2-52 3-43 2 9 3-16 2 39 3 84 2 38 3-4 2-27 3-77 2-24 3 45 2 49 3-26 2-70 3-57 2 41 2 55 3 24 2 30 3-13 2-51 3-34 2 41 3 5 2-22 3 52 2 60 3 4 2-10 3-36 2-66 3 9 2 78 3 7 2-10 3 19 2 57 2-96 3-109 2 93 3 36 2-104 3 12 2 32 3 19 2 66 3 61 2-47 3-95 2-99 3-19 2 64 3 81 2 60 3 45 2-83 2-54 3 106 2 47 3-120 2-47 3 44 2-24 3-92 2 47 3 95 2 2 3-57 2-38 3 30 2 42 3-42 2-1 3 105 2 31 3-40 2-28 2 0 3 83 2-9 3-99 2-30 3 46 2-57 3-77 2 87 3 75 2-31 3-69 2-7 3 60 2 34 3-26 2-10 3-15 2 5 3 34 2-16 2-46 3-86 2-9 3 86 2 39 3-38 2-115 3-22 2 53 3-8 2-21 3 121 2 106 3-3 2-33 3-44 2-21 3-17 2 8 2 10 3 17 2-17 3-29 2-71 3-69 2 20 3 90 2 98 3 127 2-9 3-173 2-106 3 53 2 7 3-51 2 53 3 108 2 67 3-52 2-138 2 28 3 104 2-36 3-25 2 60 3 22 2 24 3-34 2-42 3-14 2 37 3 43 2 18 3 15 2 1 3 19 2-5 3-53 2-26 3-15 2-43 2 35 3 78 2-59 3-92 2-7 3-12 2 56 3 99 2-24 3-74 2 71 3 13 2-19 3-57 2-83 3 49 2 136 3 73 2-25 2-46 3-43 2-67 3 98 2 25 3-47 2 3 3 33 2-13 3-41 2-14 3 51 2 3 3-57 2-45 3 79 2-62 3-2 2 53 3-86 2-37 2 36 3-32 2 4 3 45 2 75 3 31 2 0 3-47 2-72 3-36 2 62 3 72 2-67 3-34 2 21 3 70 2 51 3-81 2-84 3 18 2 47 2 34 3 30 2 70 3-24 2-6 3 64 2 53 3-44 2-86 3-7 2 55 3 30 2-13 3-22 2-8 3-2 2-101 3-116 2 63 2 95 3-10 2-90 3-36 2 114 3 90 2-101 3-73 2 19 3 44 2 16 3 2 2 11 3-15 2 45 3 74 2-3 3-17 2-44 3-91 2-11 2 91 3 7 2-62 3-12 2 7 3 5 2 3 3 10 2-30 3 68 2 87 3-14 2-76 3-9 2 10 3 14 2-18 3-26 2 1 3-44 2-72 2 54 3 81 2-19 3 1 2 24 3 13 2 57 3 45 2-113 3-96 2-7 3 48 2-8 3-6 2-45 3-21 2-38 3 56 2 61 3 53 2-1 2-74 3-69 2 21 3-2 2 45 3 48 2 24 3-29 2 67 3 63 2 1 3 27 2-67 3-48 2 27 3 22 2-20 3 7 2 0 2-137 3 14 2 14 3-94 2 70 3 123 2-10 3-59 2 0 3 10 2-10 3 19 2 55 3-109 2-114 3 21 2-38 3-13 2 38 3 29 2 13 2-29 3-57 2 25 3 22 2-19 3 36 2 129 3 21 2-94 3 5 2 94 3 10 2-116 3-29 2 55 3 25 2 52 3 18 2-23 3-33 2-14 2 45 3 102 2-2 3-81 2 18 3-6 2-7 3 72 2-15 3-14 2 29 3-40 2-56 3-75 2-31 3 1 2-1 3 52 2 48 2-55 3-57 2 23 3 49 2-8 3-63 2-5 3 66 2 61 3 49 2-82 3-108 2 4 3 36 2 54 3 25 2-42 3 54 2-8 3-69 2-6 2 81 3 72 2-11 3-89 2-86 3 9 2 57 3 32 2-33 3-11 2 55 3-82 2-49 3 128 2 85 3-3 2-56 3-51 2-12 3 50 2-72 2-87 3 53 2-4 3-23 2 81 3-6 2-81 3 80 2 112 3 22 2 20 3-79 2-32 3 10 2-106 3-72 2 58 3 67 2-6 2-50 3-34 2 73 3 130 2 39 3-33 2-55 3-90 2-53 3 47 2 39 3 19 2-17 3-6 2 45 3-50 2-157 3 1 2 178 3 159 2 7 2-60 3-39 2-58 3-16 2 28 3 63 2 58 3-17 2-1 3 26 2-68 3-82 2 31 3 24 2 40 3 52 2-27 3-27 2-20 3-11 2 49 2 27 3-86 2-133 3 14 2 75 3 27 2-61 3 68 2 90 3-66 2-59 3 90 2 7 3-22 2 1 3 37 2 81 3 47 2-79 2-84 3 26 2 66 3-88 2-92 3 52 2 64 3-3 2-23 3-114 2-15 3 31 2 0 3-2 2 23 3 21 2-10 3-22 2 69 3 31 2 8 2-79 3-45 2-5 3-61 2-82 3 56 2 74 3 106 2 81 3-23 2-105 3-79 2 24 3 82 2-14 3-31 2-98 3-6 2 59 3 21 2-67 2-42 3 0 2 51 3 13 2 4 3-1 2-25 3 40 2 72 3-57 2 6 3 15 2-50 3 27 2 89 3 10 2-53 3 39 2 70 2-2 3-16 2-82 3-21 2 40 3 109 2-15 3-81 2 26 3-27 2-32 3 15 2 6 3-60 2-30 3-61 2-57 3 117 2 69 3-29 2-83 2 7 3 40 2 35 3-19 2-63 3 24 2 25 3-15 2-4 3-11 2 14 3-5 2 10 3-26 2 52 3 35 2-17 3-39 2-16 3-15 2 2 2 27 3-58 2 4 3 115 2-46 3-59 2 9 3 68 2 28 3-44 2 31 3 65 2-9 3-42 2-17 3-10 2-2 3 25 2 0 2-29 3-51 2-97 3-15 2 82 3-3 2-15 3 46 2 9 3 12 2-33 3-32 2 2 3 29 2 35 3-24 2-27 3 11 2 146 3 73 2-68 2-69 3-14 2 75 3 78 2-31 3-24 2 17 3-10 2-56 3-17 2 49 3 34 2-110 3-80 2 69 3 97 2 32 3-52 2-11 3 54 2-4 2-14 3-78 2-22 3 58 2-81 3-15 2 37 3-72 2-21 3-10 2 16 3 103 2 15 3-21 2-54 3 16 2 35 3-33 2-6 3 52 2-14 2-45 3-22 2 38 3 112 2 27 3-52 2-7 3-8 2-30 3 27 2-31 3-66 2-46 3 1 2 90 3 61 2-64 3-38 2 33 2 71 3-36 2-5 3-18 2-50 3-46 2-7 3 33 2 42 3 11 2 20 3-33 2 61 3-5 2-20 3 25 2 66 3 66 2-16 3 3 2-39 2-55 3 18 2 9 3-26 2-84 3 24 2 50 3 14 2 1 3 15 2 9 3-39 2 34 3 62 2 8 3-54 2-57 3 10 2 14 3-13 2 15 2-58 3-63 2 107 3 69 2-81 3-56 2 30 3 29 2 64 3 21 2-30 3 14 2-12 3-1 2 41 3-16 2-32 3-18 2-10 2-71 3 8 2 6 3 29 2 99 3 49 2-7 3-24 2-34 3-46 2-24 3-43 2-37 3 0 2 44 3 20 2-10 3-28 2 3 3 39 2-52 2-68 3 47 2 27 3-30 2 14 3 30 2-98 3 1 2 42 3 2 2 1 3 25 2 63 3 22 2-36 3 6 2 36 3 58 2-45 3-33 2-39 2-79 3 12 2 92 3 76 2 24 3-87 2-34 3 88 2 59 3-47 2-79 3-15 2 63 3-25 2-63 3-15 2 22 3-12 2 76 2 19 3-105 2-76 3 5 2 105 3 17 2-22 3-24 2 10 3-24 2-8 3-1 2 17 3 64 2 21 3-26 2 61 3 32 2 27 3-12 2-93 2-109 3 16 2 20 3 65 2 26 3-4 2 51 3 42 2-53 3-102 2-15 3 69 2 44 3 12 2-67 3 7 2-11 3-46 2 50 3 54 2-78 2-105 3-6 2 79 3 67 2 8 3-1 2 60 3-25 2-65 3 26 2 1 3-86 2-34 3 118 2-31 3-128 2 31 3 121 2 70 2 24 3-13 2 13 3-54 2-38 3 87 2 78 3-85 2-45 3-30 2-2 3 37 2 6 3-29 2-12 3-56 2-9 3 67 2 39 3-49 2 35 2 68 3 20 2-25 3-7 2-1 3 11 2-12 3-7 2-4 3-14 2 20 3 63 2-8 3-19 2 4 3-38 2-44 3 58 2 64 3-82 2-65 2 22 3 12 2-11 3-39 2-47 3 12 2 42 3 42 2 10 3-60 2-49 3-56 2-41 3 27 2 82 3 43 2-24 3 72 2 117 2 0 3-58 2-75 3-20 2 30 3 28 2-11 3-1 2-48 3-71 2-38 3 70 2 66 3-24 2-31 3-43 2 11 3 72 2 16 3-52 2-23 2 13 3-32 2-11 3 56 2 95 3-10 2-37 3 34 2-39 3-80 2-44 3 58 2 34 3-60 2 9 3 26 2-59 3-34 2 18 3-10 2-13 2 42 3-20 2-42 3-8 2 87 3 139 2 0 3-154 2 31 3 95 2-39 3-18 2 61 3-69 2-49 3 25 2 22 3 53 2-37 2-147 3 19 2 111 3 26 2 9 3 10 2-67 3-6 2 37 3 45 2 9 3 5 2 51 3-72 2-72 3-24 2-11 3 96 2 66 3-48 2-50 2-10 3 79 2 55 3-91 2-53 3 77 2 58 3-32 2-54 3-57 2 1 3 85 2-5 3 0 2-1 3-51 2 14 3 56 2 0 3 7 2 11 2-73 3-93 2 37 3 17 2-77 3-8 2 89 3-62 2-41 3 72 2 38 3-17 2 69 3-27 2-77 3-6 2 39 3-11 2 20 3 15 2 50 2-7 3-13 2-42 3-130 2-101 3 50 2 117 3 76 2 23 3-2 2-65 3-8 2 11 3-36 2-5 3-5 2-33 3-20 2 41 2 70 3 54 2 41 3-30 2-71 3 0 2 1 3 45 2 4 3-66 2 24 3-14 2-30 3 87 2 6 3-95 2-55 3 90 2 27 3-55 2 61 2 79 3-36 2 25 3 130 2-40 3-152 2-16 3-7 2 31 3-68 2 3 3 71 2 1 3-35 2 53 3 54 2-13 3-10 2-73 3-15 2 76 2-19 3-51 2-59 3-12 2 45 3-24 2-24 3 19 2 45 3 43 2-20 3-42 2 49 3 81 2 1 3-124 2-46 3 55 2 44 2-33 3-57 2-28 3 28 2 65 3 32 2-38 3-59 2 4 3 5 2-22 3 18 2 77 3 40 2 50 3 39 2 1 3-11 2-29 3-100 2-65 2 98 3 49 2-75 3 6 2 86 3-6 2 39 3 4 2-118 3-86 2 7 3 102 2 65 3-38 2-46 3-46 2 3 3 35 2 35 3 30 2 27 2-62 3-63 2 108 3 55 2-70 3-41 2-91 3-33 2 56 3 42 2 67 3 54 2-32 3-22 2-32 3-21 2-27 3 1 2 31 2 46 3-37 2-58 3 50 2 80 3 6 2 18 3 52 2 28 3 29 2 27 3-83 2-16 3-25 2-85 3-88 2-67 3 31 2 122 3 46 2 14 2 48 3-10 2 10 3-25 2-22 3 21 2-16 3-48 2-12 3 3 2 7 3 5 2 5 3-26 2-106 3-64 2 44 3 104 2 57 3-55 2-46 2-89 3 6 2 77 3-27 2-10 3 91 2 76 3-86 2-73 3 17 2 67 3 16 2-57 3 9 2-32 3-56 2 16 3 58 2-10 2-73 3 20 2 7 3 19 2 3 3-19 2 26 3-48 2-12 3 14 2-21 3-52 2 47 3 223 2 139 3-168 2-184 3 26 2 72 3-5 2-2 2-43 3-55 2 80 3 124 2-2 3-68 2-66 3-59 2-22 3 59 2 91 3-10 2 1 3 9 2-14 3-85 2-46 3 90 2 26 3-33 2 19 2 31 3-71 2-69 3 90 2 50 3-72 2-41 3 30 2-18 3-16 2 54 3 89 2-3 3-2 2 30 3-61 2-47 3 32 2-56 2-13 3 85 2 42 3-28 2 4 3 29 2-60 3 14 2 19 3-73 2 3 3 87 2-24 3-116 2-33 3 94 2 57 3-16 2-2 3 42 2 68 2-1 3-72 2-78 3-68 2-38 3 28 2 87 3-3 2 11 3-32 2-24 3 55 2-66 3-37 2 28 3 29 2-19 3 69 2 111 3 17 2-113 2-80 3 50 2 90 3-56 2-23 3 45 2 13 3-14 2 7 3-6 2 17 3-67 2-65 3-13 2 77 3 86 2 64 3 34 2-55 2-24 3 34 2-29 3-76 2 9 3-20 2-76 3 98 2 134 3-12 2-87 3-86 2 45 3 70 2 20 3-46 2-28 3-58 2 10 3 98 2 6 2-37 3-9 2-90 3-47 2 13 3 32 2 31 3 0 2-12 3-1 2 8 3 14 2 4 3-4 2-66 3-2 2 110 3 100 2 62 3-23 2-110 2-14 3 23 2-15 3 16 2-38 3-83 2-78 3 4 2 69 3 39 2 55 3 48 2-52 3 21 2 50 3-77 2-48 3 93 2 32 2-121 3 22 2 59 3 1 2 20 3 12 2-40 3 3 2-80 3-23 2 95 3 84 2-48 3 3 2 5 3-59 2-13 3 35 2-48 3-76 2 23 2 44 3-36 2-3 3 29 2 32 3-8 2-23 3 46 2 1 3-21 2-52 3-38 2 16 3 31 2-18 3-16 2 11 3-49 2-34 3 139 2-39 2-122 3 62 2 82 3 28 2-29 3 11 2-19 3-24 2-12 3 7 2 47 3-10 2 2 3 68 2 8 3-21 2-89 3 61 2 38 3-4 2 2 2 4 3-24 2 11 3-2 2 36 3 45 2 22 3-58 2-86 3-110 2-43 3 125 2 52 3-31 2 69 3-50 2-72 3-16 2 46 2 80 3 54 2-11 3-67 2 9 3-41 2-36 3 94 2 76 3 10 2-30 3-17 2 8 3-56 2-52 3 48 2 1 3-89 2-38 3 98 2 23 2-22 3 55 2 97 3 27 2-48 3-49 2-81 3-67 2 1 3 60 2 42 3-30 2 21 3 0 2-76 3-2 2 17 3 6 2-79 3-34 2 119 2 101 3-17 2-34 3 30 2 43 3-85 2-19 3 60 2 18 3-75 2-54 3-4 2 17 3-14 2 35 3-13 2-77 3-6 2 97 2 46 3 76 2-27 3-36 2 21 3 14 2-45 3-9 2 30 3-38 2-62 3-20 2 0 3 19 2-22 3-13 2-3 3 10 2 65 3-1 2-22 2 35 3-77 2-22 3 65 2-8 3-58 2-55 3 77 2 83 3-40 2-24 3 88 2 50 3-62 2 20 3 43 2 10 3-82 2-61 3-57 2 22 2 72 3-16 2-105 3-38 2 128 3 91 2-8 3-15 2 34 3 44 2-52 3-76 2-114 3-54 2 127 3 10 2-44 3 19 2 21 2 7 3 21 2-84 3-13 2 76 3 16 2-48 3-25 2-3 3 86 2 15 3-35 2-19 3 34 2-6 3-15 2 44 3 92 2 19 3-15 2-49 2-31 3-26 2-9 3-38 2-36 3 27 2 107 3 12 2-79 3 32 2 117 3-39 2-103 3-90 2-41 3 59 2 94 3 100 2 33 3 6 2-38 2-62 3-63 2 45 3 30 2-73 3-33 2 61 3 36 2-9 3 15 2 109 3 7 2-33 3-86 2-40 3-19 2-8 3 21 2 23 2 11 3-3 2-86 3 50 2 56 3-85 2-10 3 54 2-6 3-79 2 31 3 49 2-5 3 31 2 38 3-22 2-56 3-51 2 30 3 36 2-35 2 9 3 70 2-64 3-33 2-5 3-33 2 4 3 66 2 33 3-4 2 1 3-16 2-73 3-6 2 37 3 47 2-44 3-19 2 58 3 6 2 24 2 22 3-30 2-33 3-3 2 76 3 67 2-44 3-5 2-27 3-42 2-20 3-9 2 40 3 39 2 61 3-2 2-79 3-34 2-31 2-62 3-57 2 23 3 33 2-2 3 22 2 46 3 42 2-44 3-14 2 30 3 105 2 88 3-100 2-94 3 41 2-40 3-71 2 19 3 59 2 57 2-34 3-80 2-22 3 32 2 133 3 74 2-69 3-105 2 24 3 6 2-31 3-21 2 20 3 71 2-1 3-70 2-21 3 36 2 36 3-22 2 13 2-16 3-84 2-40 3 94 2 100 3 3 2-88 3-7 2 48 3 42 2-109 3-37 2 118 3 5 2-95 3 17 2-39 3-89 2 71 2 201 3 95 2-13 3-7 2-41 3-69 2 35 3-60 2-37 3 54 2 51 3 6 2 5 3 1 2-25 3-39 2-38 3-21 2 7 3 12 2 7 2-58 3-43 2-10 3-4 2 60 3 10 2 33 3 69 2 34 3-21 2-79 3-50 2 81 3 5 2-77 3-58 2-35 3-28 2 1 3 92 2 121 2-14 3-194 2-41 3 158 2 51 3-133 2-31 3 127 2 23 3-94 2-14 3 1 2 49 3 63 2-9 3-47 2 27 3-27 2-64 3-10 2 18 2-10 3-25 2 35 3 66 2 36 3-65 2-81 3-20 2 87 3 17 2-48 3-5 2 75 3-1 2-113 3 8 2 56 3-32 2-69 2-12 3-12 2 12 3 145 2 24 3-135 2-61 3-23 2-25 3 99 2 103 3-85 2 26 3 62 2-60 3 9 2 6 3-19 2 16 3 30 2 54 2 82 3-21 2-42 3-78 2-77 3 52 2 84 3 39 2 8 3-21 2-5 3 25 2 50 3-54 2-75 3 8 2 65 3 15 2-57 3-85 2-53 2 37 3 97 2 11 3-36 2 56 3-24 2-43 3 59 2 46" fill="none" stroke="#108443" stroke-width="20" stroke-linejoin="round"/>
<line x1="178.3" y1="1025.9" x2="178.3" y2="1034.4" stroke="#000" stroke-width="1.6"/>
<text x="175.4" y="1069.6" font-size="34" text-anchor="middle" fill="#000" stroke="#000">3100</text>
<line x1="270.0" y1="1025.9" x2="270.0" y2="1034.4" stroke="#000" stroke-width="1.6"/>
<text x="267.1" y="1069.6" font-size="34" text-anchor="middle" fill="#000" stroke="#000">3200</text>
<line x1="361.7" y1="1025.9" x2="361.7" y2="1034.4" stroke="#000" stroke-width="1.6"/>
<text x="358.8" y="1069.6" font-size="34" text-anchor="middle" fill="#000" stroke="#000">3300</text>
<line x1="453.4" y1="1025.9" x2="453.4" y2="1034.4" stroke="#000" stroke-width="1.6"/>
<text x="450.5" y="1069.6" font-size="34" text-anchor="middle" fill="#000" stroke="#000">3400</text>
<line x1="545.1" y1="1025.9" x2="545.1" y2="1034.4" stroke="#000" stroke-width="1.6"/>
<text x="542.2" y="1069.6" font-size="34" text-anchor="middle" fill="#000" stroke="#000">3500</text>
<line x1="636.8" y1="1025.9" x2="636.8" y2="1034.4" stroke="#000" stroke-width="1.6"/>
<text x="633.9" y="1069.6" font-size="34" text-anchor="middle" fill="#000" stroke="#000">3600</text>
<line x1="132.5" y1="1025.9" x2="132.5" y2="1030.9" stroke="#000" stroke-width="1.6"/>
<line x1="224.2" y1="1025.9" x2="224.2" y2="1030.9" stroke="#000" stroke-width="1.6"/>
<line x1="315.9" y1="1025.9" x2="315.9" y2="1030.9" stroke="#000" stroke-width="1.6"/>
<line x1="407.6" y1="1025.9" x2="407.6" y2="1030.9" stroke="#000" stroke-width="1.6"/>
<line x1="499.2" y1="1025.9" x2="499.2" y2="1030.9" stroke="#000" stroke-width="1.6"/>
<line x1="590.9" y1="1025.9" x2="590.9" y2="1030.9" stroke="#000" stroke-width="1.6"/>
<line x1="682.6" y1="1025.9" x2="682.6" y2="1030.9" stroke="#000" stroke-width="1.6"/>
<line x1="124.0" y1="620.6" x2="132.5" y2="620.6" stroke="#000" stroke-width="1.6"/>
<text x="119.5" y="629.8" font-size="34" text-anchor="end" fill="#000" stroke="#000">0.02</text>
<line x1="124.0" y1="721.9" x2="132.5" y2="721.9" stroke="#000" stroke-width="1.6"/>
<text x="119.5" y="731.1" font-size="34" text-anchor="end" fill="#000" stroke="#000">0.00</text>
<line x1="124.0" y1="823.2" x2="132.5" y2="823.2" stroke="#000" stroke-width="1.6"/>
<text x="120.5" y="832.5" font-size="34" text-anchor="end" fill="#000" stroke="#000">-0.02</text>
<line x1="124.0" y1="924.6" x2="132.5" y2="924.6" stroke="#000" stroke-width="1.6"/>
<text x="120.5" y="933.8" font-size="34" text-anchor="end" fill="#000" stroke="#000">-0.04</text>
<line x1="124.0" y1="1025.9" x2="132.5" y2="1025.9" stroke="#000" stroke-width="1.6"/>
<text x="120.5" y="1035.1" font-size="34" text-anchor="end" fill="#000" stroke="#000">-0.06</text>
<line x1="127.5" y1="671.3" x2="132.5" y2="671.3" stroke="#000" stroke-width="1.6"/>
<line x1="127.5" y1="772.6" x2="132.5" y2="772.6" stroke="#000" stroke-width="1.6"/>
<line x1="127.5" y1="873.9" x2="132.5" y2="873.9" stroke="#000" stroke-width="1.6"/>
<line x1="127.5" y1="975.2" x2="132.5" y2="975.2" stroke="#000" stroke-width="1.6"/>
<rect x="132.5" y="620.6" width="550.1" height="405.3" fill="none" stroke="#000" stroke-width="1.6"/>
<text x="0.0" y="603.0" font-size="48" text-anchor="start" fill="#000" stroke="#000">d</text>
<text x="145.5" y="660.3" font-size="34.3" text-anchor="start" fill="#231F20" stroke="#231F20">HC1000</text>
<text x="668.6" y="660.0" font-size="31.5" text-anchor="end" fill="#000" stroke="#000">10 K</text>
<text x="578.7" y="801.0" font-size="31.1" text-anchor="start" fill="#8E8E8E" stroke="#8E8E8E">Raw</text>
<text x="592.2" y="909.0" font-size="31.1" text-anchor="start" fill="#000" stroke="#000">Fit</text>
<text x="552.2" y="965.0" font-size="31.1" text-anchor="start" fill="#108443" stroke="#108443">Residual</text>
<text transform="translate(40.0 828.0) rotate(-90)" font-size="38" text-anchor="middle" fill="#000" stroke="#000">Intensity (arb. units)</text>
<text x="440.0" y="1111.5" font-size="38" text-anchor="middle" fill="#000" stroke="#000">Magnetic Field (G)</text></g>
<g id="panel-e"><path transform="scale(0.1)" d="M8145 6917l1-13 1-7 1 32 1-35 0 10 1-11 1 11 1-19 1 43 1-55 1 11 1 37 1-26 1 5 1 44 1-48 0 24 1-7 1 7 1-3 1-10 1-1 1 34 1-27 1 22 1-1 1-19 1-25 0 5 1 25 1 2 1 2 1-19 1-17 1 19 1-14 1 8 1-24 1 71 1 2 0-39 1-17 1 21 1-17 1 32 1 2 1-11 1-32 1 3 1 29 1-18 1 16 0-13 1 23 1-22 1 14 1-14 1 12 1 3 1-19 1 10 1-8 1 9 1-21 0 29 1-32 1-12 1 33 1-41 1-6 1 32 1 37 1 5 1-30 1-39 1 24 0-4 1 21 1 10 1-23 1 30 1-19 1-14 1 10 1-10 1 19 1-21 1 4 0 41 1-12 1-7 1-28 1 8 1 0 1 2 1-9 1-7 1 31 1 21 1-46 0 17 1-5 1 5 1 19 1 8 1-51 1-2 1 3 1 14 1-1 1 14 1-10 0 10 1 2 1-15 1-30 1 72 1-50 1-2 1 39 1-31 1 4 1 11 1 1 0 18 1-63 1-13 1 15 1 38 1-11 1-2 1 24 1-12 1-16 1 20 1 27 0-10 1-31 1 12 1-1 1-34 1 26 1 16 1-13 1-45 1 66 1-59 1 7 0 32 1 4 1-36 1 24 1 16 1-48 1 33 1-3 1 6 1 7 1-9 1 10 0-18 1-11 1-1 1-2 1-6 1 15 1 27 1-32 1 53 1-19 1-20 1 40 0-64 1 50 1 10 1-15 1 0 1-15 1 2 1-24 1 24 1-7 1 24 1-30 0 25 1 24 1-66 1 48 1 1 1-5 1-31 1 44 1-23 1-20 1-26 1 44 0-7 1 18 1-57 1 43 1-2 1-4 1 21 1-18 1 25 1-56 1 33 1 1 1-27 0 48 1-53 1-3 1 46 1-29 1 16 1-20 1 17 1 19 1-31 1 17 1-8 0-16 1-5 1 11 1 42 1-43 1 20 1-28 1 26 1-33 1 18 1 11 1-6 0 41 1-47 1 9 1 25 1-31 1 2 1-1 1 9 1-18 1 0 1 14 1 3 0 8 1 3 1-25 1 24 1 17 1-34 1-17 1 28 1-23 1 7 1 30 1-27 0 9 1-16 1 70 1-73 1 2 1 33 1-40 1 24 1-6 1-14 1-10 1 24 0-11 1 5 1 24 1-48 1 17 1 13 1-19 1 10 1 22 1-31 1 19 1-12 0-6 1 0 1-19 1 34 1 7 1 11 1-2 1-26 1 5 1 26 1-6 1-3 0-41 1 50 1-26 1 40 1-28 1-33 1 53 1-48 1 61 1-39 1 23 1-22 0 5 1-22 1 11 1 2 1 14 1-20 1 26 1-4 1 0 1-24 1-35 1 47 0-40 1 59 1-8 1-23 1-2 1-3 1-16 1 36 1-27 1 17 1 62 1-37 0-9 1-13 1-9 1 16 1-32 1 46 1-19 1-19 1 41 1-48 1 6 1 22 0-3 1 2 1-3 1-24 1 14 1 39 1 3 1-44 1 66 1-22 1-19 1-12 0-28 1 24 1-68 1 67 1-13 1-3 1 22 1-21 1 7 1 7 1 18 1-5 0-24 1 16 1-9 1 0 1 3 1 5 1-12 1-5 1-11 1 18 1 21 1 3 0-27 1 44 1-21 1-31 1 27 1 7 1-39 1 79 1-52 1 7 1 1 1-28 0-12 1 7 1 10 1 6 1 12 1-6 1 33 1-22 1-23 1 15 1-19 1 48 0-21 1 9 1-41 1 26 1 1 1 18 1-14 1 10 1-9 1-55 1 67 1-18 0 12 1-44 1 46 1-2 1-25 1-27 1 29 1 16 1 40 1 22 1-72 1-2 0-23 1 14 1 15 1-32 1-9 1 48 1-32 1-5 1 39 1-26 1 12 1-25 0 1 1 66 1-39 1-32 1 17 1 31 1-11 1 12 1-28 1 32 1-51 1 8 0-17 1 12 1 1 1 2 1 7 1 50 1-50 1 27 1 32 1-80 1 32 1 33 1-40 0-2 1 5 1-26 1 52 1-41 1 38 1-29 1-4 1 23 1-61 1 87 1-6 0-21 1 9 1-41 1 34 1-39 1 36 1-25 1 0 1 14 1-12 1 7 1-36 0-5 1 55 1-17 1-14 1 12 1-29 1-13 1 93 1-29 1-38 1 16 1 25 0-9 1-8 1-31 1 53 1-24 1-26 1 9 1 24 1 3 1 30 1-1 1-17 0-35 1 0 1-10 1 8 1 3 1 12 1 20 1-41 1 32 1 29 1-46 1 7 0-47 1 54 1-12 1 30 1-37 1 9 1 21 1-21 1 31 1-38 1 21 1-17 0 26 1-3 1-12 1-21 1 15 1 51 1-62 1 15 1-15 1-10 1 6 1 32 0-8 1-17 1-11 1 36 1-3 1 8 1-29 1 23 1-62 1 30 1-7 1 12 0 24 1 40 1-82 1 23 1 45 1-96 1 42 1-17 1 37 1 31 1-20 1-32 0 59 1-32 1-35 1 2 1 20 1 54 1-47 1-32 1 9 1 25 1-16 1-4 0 20 1 7 1-1 1 3 1-16 1-1 1-12 1-1 1 15 1 41 1-55 1 29 0-53 1 41 1-52 1 33 1-21 1 29 1-6 1 19 1 1 1 0 1-25 1 38 0-44 1 26 1-18 1 33 1-22 1 36 1-21 1-9 1 16 1-16 1-7 1 0 0 44 1-36 1-1 1 12 1 3 1-59 1 22 1-3 1-4 1 43 1-14 1 30 0-39 1 42 1-24 1-30 1 4 1 31 1-2 1-45 1 18 1 19 1-13 1 0 0 24 1-10 1 31 1-48 1 4 1-20 1 0 1 30 1-42 1 48 1-34 1 29 0 2 1 13 1-24 1-47 1 42 1-6 1 16 1-17 1-3 1 3 1-18 1 28 0-9 1-23 1 19 1 27 1-41 1 13 1 29 1 0 1-8 1-25 1 10 1-13 0-31 1 15 1 33 1 16 1-42 1 42 1 2 1-14 1-8 1 11 1-11 1 60 0-47 1-8 1-14 1 7 1 12 1-56 1 31 1 7 1 6 1-3 1 26 1 4 1-25 0 37 1-45 1 20 1-22 1 12 1 19 1-3 1-6 1-35 1-1 1 31 1-6 0 19 1-45 1 23 1 18 1 14 1-37 1-28 1 36 1 20 1-1 1-6 1 35 0-65 1 30 1 26 1 22 1-67 1 3 1-25 1 9 1 28 1 27 1-39 1 16 0-14 1 34 1-26 1-2 1 22 1 9 1 9 1-46 1-23 1 25 1 51 1-51 0 33 1-39 1-30 1 28 1 59 1-74 1 15 1-32 1 28 1-4 1 51 1-66 0 54 1 16 1-51 1-5 1-15 1 6 1 16 1 1 1-11 1 10 1-2 1 50 0-39 1 5 1-17 1 26 1-35 1 3 1 38 1-23 1-11 1 33 1 27 1-44 0-10 1 5 1-22 1 16 1-27 1 44 1-45 1 39 1-16 1 48 1-22 1-40 0 23 1 1 1 24 1-40 1 36 1-50 1 17 1 24 1 5 1-6 1-18 1 2 0 38 1-40 1 29 1-59 1 75 1-57 1 43 1-32 1-17 1 15 1 33 1 7 0-61 1 46 1-32 1-8 1 57 1-73 1 42 1 2 1 15 1-24 1-5 1-12 0 0 1 0 1 23 1 0 1-5 1-1 1-22 1 7 1 22 1 15 1 20 1-34 0-5 1 38 1-31 1-12 1 0 1 33 1-15 1 16 1-47 1 12 1-47 1 65 0-44 1 30 1-1 1-19 1 60 1-15 1-55 1 10 1-17 1 26 1 21 1-27 0 26 1-7 1 1 1 15 1-61 1 28 1 12 1-5 1 19 1-4 1-10 1-4 0 50 1-71 1 69 1-22 1 8 1-30 1 38 1-56 1 6 1-5 1 2 1 23 0-12 1 25 1-11 1-18 1 35 1-20 1 4 1-28 1 7 1 20 1-26 1-23 0 17 1 20 1 0 1 22 1-9 1-17 1-2 1 37 1-4 1 0 1-2 1-10 0-10 1 21 1-10 1 26 1-36 1-9 1 16 1 20 1-80 1 65 1-25 1 53 0-29 1-19 1 5 1-5 1 2 1 16 1 3 1-14 1 9 1-1 1-20 1 3 0 14 1-31 1 23 1 4 1-22 1 11 1 37 1-41 1 42 1-26 1-13 1-7 1 31 0-11 1-23 1-25 1 1 1 22 1-16 1 44 1-6 1-21 1-1 1 48 1-55 0 41 1-15 1 21 1-17 1-28 1 47 1-13 1-13 1-12 1-23 1 32 1-19 0 53 1-21 1 37 1-71 1 35 1-24 1 33 1 1 1-2 1-6 1-8 1 28 0-36 1-10 1 48 1-5 1-8 1-5 1-54 1 20 1 41 1-81 1 39 1 42 0 8 1-42 1 41 1-37 1-14 1 35 1-3 1 2 1-43 1 13 1 3 1-7 0 17 1 13 1-20 1-12 1 22 1 1 1 14 1-47 1 12 1 11 1 1 1-4 0 6 1-19 1 16 1-12 1 14 1 13 1-35 1 0 1-8 1 40 1 4 1 25 0-39 1 18 1-42 1 48 1-43 1 45 1-23 1-28 1 35 1-18 1-6 1 41 0-73 1 73 1-21 1-10 1-5 1-12 1-4 1 52 1-24 1 38 1-47 1 19 0-21 1 42 1-12 1-33 1-5 1 21 1 3 1 2 1 0 1 1 1-65 1 38 0 47 1-24 1 12 1-24 1-40 1 18 1 22 1-6 1 11 1 18 1-9 1-34 0 54 1-58 1-21 1 46 1-22 1 19 1 9 1 36 1-27 1-46 1 30 1 8 0-39 1 34 1 38 1-29 1-42 1 7 1 30 1-23 1 19 1-53 1 35 1-10 0 15 1-13 1 8 1 12 1 11 1-3 1-4 1-18 1 2 1-15 1 31 1-7 0 46 1-28 1-1 1-13 1-3 1 13 1-18 1 17 1-9 1 13 1-17 1 16 0-8 1 12 1 11 1-53 1 41 1-37 1 29 1-7 1-2 1 19 1 17 1-50 0 11 1 38 1-19 1-2 1-35 1 12 1 11 1-23 1 14 1 23 1 13 1-48 0 55 1-59 1 60 1-23 1-38 1 7 1-6 1 54 1-24 1-5 1 7 1 3 0-18 1 6 1 20 1-8 1-6 1-5 1 4 1 26 1-33 1-8 1-22 1 42 0-29 1 29 1-36 1 28 1-5 1 6 1-8 1 0 1 31 1-41 1 34 1-17 0-23 1 23 1 9 1-47 1 5 1 0 1 7 1 11 1 6 1 33 1-10 1-2 1-39 0-27 1 33 1 20 1-32 1 29 1 3 1-3 1-24 1-3 1 19 1 27 1-38 0 33 1 3 1-7 1 10 1-7 1-50 1 55 1-19 1 30 1-14 1-10 1-9 0 0 1 3 1 13 1-45 1 16 1 25 1-6 1 4 1-8 1 12 1-28 1-4 0 21 1-10 1 19 1-37 1 34 1-19 1 3 1 26 1 18 1-21 1 6 1-9 0-11 1 0 1 9 1-46 1 60 1-44 1 4 1 31 1-57 1 14 1 20 1-3 0 8 1-12 1 23 1-34 1 3 1 28 1 23 1-54 1 20 1 22 1-48 1 25 0 35 1-50 1 43 1 15 1-24 1-11 1 34 1-86 1 42 1 2 1 8 1-10 0 23 1-12 1-29 1 29 1-10 1 9 1-44 1 14 1 16 1-7 1 8 1 1 0-50 1 102 1-42 1-5 1-18 1 50 1-17 1-22 1 48 1-51 1-34 1 64 0 23 1-56 1 20 1-49 1 51 1 5 1-38 1-2 1 4 1-25 1 35 1 11 0 12 1-8 1 6 1 2 1 11 1 27 1-58 1 0 1 44 1-53 1 75 1-47 0-13 1 10 1-23 1-10 1 0 1 23 1-31 1 41 1 3 1 2 1 2 1-6 0 18 1 7 1-66 1 19 1-8 1 13 1 29 1-49 1 12 1 40 1-41 1 59 0-64 1 39 1-39 1 38 1-39 1 14 1-5 1 7 1-5 1-3 1-3 1 63 0-39 1 4 1-5 1-4 1-45 1 31 1 41 1-20 1-30 1 43 1-28 1 17 0-20 1 12 1-3 1 4 1 12 1-43 1 18 1 5 1-30 1 27 1 6 1-5 0 12 1 9 1-55 1 55 1-43 1 16 1 34 1-19 1 11 1-15 1-19 1 36 0 0 1 6 1-55 1 28 1-5 1 4 1 27 1-58 1 57 1 23 1-61 1 34 0-40 1 6 1 12 1-11 1-2 1 26 1 6 1 11 1-19 1 7 1 7 1-7 0-68 1 39 1 42 1-63 1 72 1-35 1 20 1-1 1-11 1-21 1-13 1 61 0-29 1 9 1-29 1-6 1 43 1-9 1-1 1-31 1 24 1 8 1-3 1 1 1-17 0-35 1 73 1-21 1-23 1 54 1-55 1 0 1 8 1 29 1-66 1 33 1 10 0-30 1 56 1-16 1 23 1-35 1-6 1 9 1-2 1-19 1 28 1-8 1 21 0-39 1 18 1-40 1 46 1-23 1 3 1 34 1-42 1 5 1-10 1 1 1 25 0-39 1 24 1-8 1 59 1-2 1-4 1-34 1-2 1-13 1 11 1 36 1-25 0-40 1 8 1 54 1-25 1 23 1-38 1-13 1 4 1 39 1-12 1-7 1-39 0 29 1 4 1 0 1-2 1 22 1 6 1-12 1-6 1 7 1-27 1 14 1-15 0 30 1 36 1-40 1-29 1 14 1 56 1-40 1 3 1-9 1 8 1-12 1 11 0-3 1-29 1 14 1 9 1 25 1-11 1-6 1-21 1 42 1-38 1-23 1 23 0 33 1-49 1 20 1-13 1-6 1 6 1 16 1 15 1-63 1 62 1-35 1 36 0-45 1-13 1 21 1 33 1-8 1-37 1-1 1 18 1 8 1-28 1 22 1 4 0-12 1 11 1-17 1-6 1 20 1 58 1-48 1 10 1 14 1-14 1-37 1 56 0-21 1 7 1 16 1 0 1-41 1 37 1-64 1 41 1-11 1-4 1 43 1-53 0 18 1 5 1-13 1 8 1 2 1 26 1-22 1-16 1 30 1-33 1 23 1-18 0 10 1 22 1-17 1 8 1 5 1 0 1 27 1-37 1-4 1 19 1 11 1-46 0 6 1-15 1 1 1 41 1-20 1 3 1-21 1 38 1-1 1-44 1 47 1-24 0-2 1 34 1-16 1 3 1-6 1 11 1-41 1 25 1-25 1 2 1 52 1-52 0 28 1-26 1-5 1-7 1 7 1 22 1 10 1-15 1-2 1 3 1 6 1-16 0 19 1-13 1 2 1-19 1 34 1 0 1 6 1-34 1 8 1 13 1-40 1 53 0-35 1 9 1 16 1 13 1-6 1-32 1 46 1-23 1 11 1-17 1 16 1-6 0 18 1-31 1 21 1-18 1 36 1-10 1-18 1 8 1-11 1 8 1-27 1 5 1-12 0 9 1-11 1 0 1 17 1 15 1-8 1-4 1 18 1-7 1-29 1 6 1 30 0 5 1-9 1 22 1-53 1 12 1 32 1-18 1 8 1-40 1 52 1-12 1-46 0-2 1 2 1 25 1 16 1 8 1-33 1 32 1-14 1 1 1-23 1 34 1-34 0 31 1-1 1 12 1-27 1 8 1-5 1 8 1-8 1-32 1 24 1-11 1 22 0-1 1-24 1-31 1 66 1-21 1 19 1-20 1 6 1 16 1 20 1 1 1-59 0 25 1 1 1-11 1 13 1-44 1 40 1-18 1 16 1 34 1-41 1 6 1 15 0-37 1 14 1-3 1 41 1-15 1 24 1-46 1-9 1 33 1-59 1 69 1-27 0 48 1-2 1-48 1 5 1-38 1 36 1-22 1 42 1-28 1-16 1 27 1-27 0 6 1 17 1 26 1-8 1 21 1-54 1-10 1 24 1-2 1 49 1-63 1 50 0-16 1-52 1 31 1 25 1 2 1-23 1-18 1 19 1 2 1-7 1-5 1 46 0 6 1-64 1 42 1 28 1-33 1-6 1 3 1-31 1 47 1-21 1 28 1-72 0 66 1 10 1-48 1 10 1 30 1-37 1-4 1 25 1-20 1-8 1 5 1 24 0-9 1 8 1-1 1-7 1 8 1-5 1-1 1 2 1-16 1 35 1-6 1-6 0 6 1-27 1 5 1 6 1 4 1-16 1-6 1-1 1 22 1-6 1 36 1-30 0-47 1 57 1-33 1 6 1 32 1 18 1-21 1-42 1 5 1 8 1 21 1-22 0 37 1-41 1 9 1-5 1-48 1 5 1 74 1-22 1 6 1-8 1-41 1 71 0-21 1-29 1 39 1-45 1 31 1 4 1-14 1 17 1-25 1-15 1 85 1-71 0 61 1-2 1-54 1 9 1 0 1 26 1-7 1-5 1 27 1-43 1 15 1-16 0 61 1 2 1-39 1-8 1-15 1 21 1 6 1 3 1-38 1 16 1-32 1 37 0-10 1 10 1 4 1-13 1 31 1-14 1-18 1 24 1 28 1-32 1 12 1-32 0 35 1-8 1-20 1 11 1-20 1 9 1 6 1-16 1 6 1 18 1-31 1 20 1-10 0 11 1-10 1 21 1-21 1 5 1 7 1-4 1 7 1-17 1-21 1 47 1-11 0 25 1-23 1-6 1-8 1 33 1-11 1-14 1-59 1 56 1 1 1 17 1-7 0 42 1-35 1 1 1-8 1 2 1-51 1 22 1 22 1 37 1-74 1 47 1 6 0-15 1 1 1-32 1 27 1-8 1-3 1-18 1 17 1 17 1 5 1 20 1-8 0 41 1-82 1 37 1-4 1-26 1 22 1-13 1 19 1-7 1-7 1-32 1 65 0-14 1-25 1-5 1 19 1-6 1 1 1-16 1 44 1-27 1-30 1 7 1 34 0-22 1 31 1-32 1 2 1 8 1-7 1 12 1-27 1 4 1 5 1-10 1 0 0 20 1-9 1 13 1 34 1-59 1 27 1-1 1-42 1 44 1 3 1 30 1-43 0 4 1 16 1-35 1 31 1 18 1-13 1-8 1-1 1-4 1 23 1-4 1 19 0-34 1-33 1 9 1 50 1-17 1-37 1 34 1 0 1 19 1-64 1 15 1 43 0-41 1 39 1-21 1-23 1 43 1 0 1 3 1-19 1-18 1 0 1-17 1-4 0 24 1 45 1-11 1-31 1 7 1 8 1 8 1-20 1 39 1-25 1-13 1-18 0 0 1 40 1 12 1-25 1-8 1 38 1 1 1-17 1-11 1-8 1 9 1-2 0-20 1 25 1 1 1 24 1-37 1-14 1 7 1 30 1-39 1 28 1-42 1 31 0-19 1 20 1 2 1 18 1-1 1-37 1 42 1-52 1 69 1-35 1 10 1-46 0 45 1 0 1 7 1-30 1 18 1-3 1 30 1-24 1 0 1 7 1-48 1-14 0 51 1 8 1-24 1-2 1 35 1-31 1 23 1-2 1-5 1-22 1 16 1-5 0 4 1 40 1-63 1 29 1 9 1 9 1 8 1-32 1-17 1 23 1 6 1-15 0 73 1-68 1 12 1-22 1-9 1 28 1 19 1-39 1 14 1-12 1-3 1 16 0 14 1-20 1 4 1-26 1 25 1-21 1 6 1 14 1 51 1-24 1-37 1-3 0 33 1 19 1-82 1 52 1 36 1-49 1-21 1 75 1-45 1 11 1-9 1-14 1 34 0 3 1 2 1-45 1-3 1 46 1-46 1 37 1-14 1 10 1-4 1-34 1 25 0 21 1-50 1-6 1 37 1-31 1-4 1 51 1 21 1-8 1 3 1-19 1-48 0 48 1 2 1-43 1 37 1-15 1-33 1 73 1-6 1-18 1-9 1 2 1-9 0 35 1-15 1 17 1-23 1-13 1-1 1 7 1-17 1 51 1-27 1-9 1 39 0-88 1 70 1-33 1 26 1-6 1 1 1-35 1 35 1-15 1-1 1 5 1-5 0 32 1 20 1-29 1 11 1 27 1-70 1 63 1-72 1 65 1-13 1-32 1 3 0-11 1 21 1 8 1 48 1-61 1 13 1-3 1-12 1-19 1 47 1-12 1 2 0 31 1-58 1 28 1 31 1-43 1 6 1-4 1 32 1-2 1-26 1-16 1 37 0-21 1 7 1-11 1-12 1 3 1-11 1-13 1 50 1-37 1 32 1-3 1 8 0-22 1 43 1-6 1-10 1 8 1 15 1-40 1 10 1 12 1-29 1-22 1 55 0-45 1 40 1-40 1 4 1 40 1-62 1 59 1 14 1-18 1-20 1 20 1 8 0-42 1 9 1 21 1-50 1 74 1-19 1 8 1-13 1-9 1-14 1 26 1-20 0 18 1-44 1 63 1-21 1-19 1-9 1 13 1 3 1-30 1 35 1-2 1 17 0-34 1 19 1 36 1-1 1 14 1-52 1-1 1-17 1 37 1 41 1-58 1 9 0 2 1-18 1 37 1-23 1 3 1-13 1-23 1 54 1-31 1 7 1-2 1-26 0-2 1 44 1-23 1 11 1 18 1-32 1 7 1-15 1 17 1 14 1 0 1-7 0-17 1 24 1-12 1-7 1-34 1 36 1-12 1 25 1 6 1-27 1 35 1-2 0-35 1 26 1-10 1 25 1-14 1 6 1 4 1-26 1 22 1 6 1-5 1-5 0-39 1 49 1-13 1-19 1 46 1-28 1-7 1-8 1 14 1 4 1-5 1 16 0 4 1-47 1 34 1 16 1-37 1 40 1-3 1-6 1-45 1 27 1-23 1 24 0 3 1 12 1-14 1-18 1 7 1 23 1-2 1-22 1 22 1-4 1 25 1-13 1-28 0 0 1 8 1-12 1 43 1-22 1 7 1-9 1-49 1 34 1 47 1-36 1-23 0-14 1 24 1 3 1 27 1 5 1-19 1-4 1-29 1-5 1 17 1 33 1-2 0 4 1-19 1 20 1 16 1-11 1-12 1-26 1 1 1 22 1 22 1 3 1-54 0 28 1-14 1 14 1 5 1-21 1 18 1-15 1 51 1-48 1-49 1 58 1 2 0 21 1-32 1 31 1-6 1-3 1 17 1-37 1 45 1-52 1 45 1-14 1-19 0 20 1-56 1 37 1-12 1 10 1-16 1 30 1-18 1-3 1-19 1 14 1 44 0-5 1-47 1-6 1 5 1-10 1 15 1-5 1 7 1 23 1 20 1-30 1 8 0 12 1-3 1-4 1-7 1 2 1-13 1 19 1-53 1 18 1 33 1-13 1 18 0-20 1-49 1 59 1 12 1-17 1-8 1-14 1 43 1-1 1-22 1 22 1-83 0 119 1-43 1 2 1 9 1-31 1 17 1-2 1-28 1 17 1 9 1 15 1-39 0 45 1-46 1 38 1-61 1 43 1 2 1 6 1-3 1-18 1 30 1 0 1 13 0-36 1 32 1-1 1-49 1 73 1 0 1-36 1-8 1-21 1 15 1 7 1-18 0 49 1-5 1-26 1-48 1 57 1-6 1 8 1 12 1 15 1-49 1 7 1 16 0-11 1-10 1 23 1 4 1 16 1-20 1-36 1 42 1-11 1-19 1 6 1-5 0-2 1-3 1 14 1-2 1-33 1 37 1-14 1 29 1-34 1-5 1 19 1-3 0 19 1 0 1-17 1-28 1 44 1-48 1 20 1 15 1 18 1-51 1 25 1-1 0-18 1 30 1 26 1-51 1 57 1-10 1-15 1-24 1 24 1-41 1 54 1-49 0 8 1 28 1 10 1-7 1 7 1-50 1 39 1 10 1-28 1 27 1 21 1-40 0 15 1-37 1-11 1 28 1 12 1-24 1 15 1 39 1-29 1 14 1-18 1 34 0-77 1 46 1-7 1 14 1-34 1 27 1 13 1 19 1-64 1 51 1-52 1-11 1 47 0 10 1-51 1 46 1-22 1 67 1-32 1-36 1-17 1 38 1-38 1-1 1 21 0-19 1 46 1-29 1-31 1 70 1-46 1 6 1 23 1 15 1-2 1-6 1-9 0-9 1-10 1-19 1 21 1 8 1 31 1-33 1 28 1-32 1 4 1-19 1 32 0-4 1 0 1-10 1 11 1-43 1 41 1-45 1 57 1-32 1 37 1-49 1 10 0-12 1-20 1 9 1 17 1-3 1 15 1-21 1 52 1-50 1 50 1-24 1-33 0 29 1-3 1 5 1-18 1 37 1-33 1-28 1 38 1-12 1-2 1 1 1 8 0 25 1-20 1 15 1-40 1 15 1 23 1-56 1 64 1-18 1-56 1 72 1 5 0-28 1 3 1 25 1-73 1 6 1 28 1 37 1-15 1-74 1 41 1 4 1 32 0-38 1-9 1 31 1 12 1-28 1 42 1-18 1-50 1 16 1 8 1-6 1 40 0-45 1-18 1-7 1 44 1-4 1 17 1-32 1-5 1 5 1 26 1 4 1-56 0 33 1-14 1 31 1 22 1-40 1-6 1 47 1-6 1-21 1-19 1 18 1 3 0 23 1-7 1-24 1 0 1 6 1 1 1-9 1 28 1-58 1-2 1 41 1 3 0-6 1-18 1 27 1-28 1-1 1-7 1-13 1 21 1 15 1-61 1 21 1 19 0-9 1 40 1-18 1-15 1-8 1-4 1-8 1 16 1 43 1-54 1-13 1 25 0-19 1-30 1 20 1-8 1 49 1-63 1 35 1-55 1 57 1-17 1-2 1-34 0-24 1 7 1 3 1-3 1 7 1 3 1-8 1-34 1-22 1 30 1-18 1 19 0-14 1-11 1-14 1-16 1-4 1-8 1 29 1-3 1-15 1-36 1-11 1-10 0-16 1-12 1 18 1-2 1-45 1-20 1 13 1 36 1-23 1 1 1-26 1 21 0-63 1 2 1 8 1-41 1 16 1-9 1-6 1 11 1 16 1-34 1 11 1 38 0-24 1 0 1-16 1 16 1-7 1 16 1 25 1 38 1-37 1 52 1-10 1 15 0 52 1 27 1 2 1 36 1 14 1 20 1 76 1 27 1-29 1 96 1 4 1 65 1 72 0 24 1 16 1 68 1 4 1 43 1 62 1 30 1 42 1 16 1-11 1 62 1 29 0 19 1 52 1 24 1-43 1 60 1 0 1-11 1 47 1-18 1 9 1 21 1-15 0 47 1-25 1-56 1 60 1-27 1-7 1-29 1 30 1-23 1-10 1 7 1 2 0-68 1 38 1-12 1-27 1 48 1-47 1-36 1 0 1 44 1-61 1-19 1 47 0-35 1 10 1-29 1-39 1 23 1-5 1-13 1 9 1-21 1 21 1-7 1-56 0-13 1-31 1 62 1-24 1 12 1-41 1 35 1 29 1-51 1 28 1-50 1-6 0 23 1-21 1-6 1 25 1-24 1-30 1 16 1 46 1-10 1-21 1 0 1-57 0 53 1-18 1 7 1 12 1-2 1-14 1 16 1-5 1 5 1-23 1-21 1-6 0 9 1-3 1-5 1-13 1-25 1 67 1-29 1 11 1 7 1-52 1 27 1-11 0-14 1 9 1 43 1-42 1-5 1-15 1 25 1 6 1-18 1-18 1 20 1 22 0 7 1-49 1 25 1 6 1 6 1 4 1-46 1-9 1 31 1 24 1-9 1 1 0 7 1-10 1 36 1-50 1 45 1-28 1-33 1 2 1 7 1 16 1-28 1 12 0 8 1 40 1-49 1 68 1-67 1-18 1 61 1-48 1 13 1 2 1-11 1 42 0-18 1-16 1 0 1 37 1-45 1-11 1 12 1 23 1-6 1 2 1 9 1 13 0-41 1 5 1 14 1-32 1 45 1-10 1-11 1-44 1 61 1-34 1-5 1 23 0 13 1-7 1-18 1 64 1-88 1 31 1-18 1 36 1-42 1 46 1 4 1-25 0-38 1 16 1 15 1 33 1-44 1 18 1 35 1-1 1-38 1 5 1-3 1 5 0-5 1 30 1-29 1-8 1-14 1 12 1 6 1 6 1-10 1 24 1-15 1 6 0 1 1-21 1 28 1-34 1 29 1 13 1-29 1-22 1-1 1 48 1-10 1 5 0-18 1-41 1 69 1-13 1-49 1 80 1-90 1 67 1-4 1-37 1 10 1 21 0 46 1-52 1 6 1 7 1-8 1 27 1-17 1-1 1 0 1-16 1-2 1 24 1-27 0 15 1 19 1-32 1-21 1 33 1-17 1 22 1 9 1-22 1 46 1-50 1 3 0-8 1-11 1 16 1-52 1 78 1-49 1 43 1-12 1-23 1-8 1 26 1-20 0 56 1-50 1 43 1-22 1-6 1 4 1-24 1-2 1-11 1 7 1 16 1 41 0-43 1 13 1 25 1-79 1 44 1 33 1 5 1-13 1-9 1-11 1 24 1-24 0-1 1-39 1 43 1 12 1-23 1 0 1 12 1-8 1-1 1-3 1-53 1 73 0-16 1 35 1-37 1-29 1-9 1 32 1 19 1-8 1-13 1-12 1 25 1 10 0-6 1 46 1-18 1-48 1-12 1 2 1 10 1 32 1 2 1-6 1 0 1-1 0-9 1 13 1-21 1 23 1-27 1 44 1-72 1 40 1-23 1 14 1-10 1 11 0 8 1-15 1-18 1 29 1-3 1 32 1-38 1-14 1 21 1-22 1 5 1 18 0 9 1 4 1 5 1-10 1-14 1 17 1-47 1 40 1-9 1 13 1 17 1-30 0 7 1-5 1-19 1 47 1-30 1-27 1 12 1 9 1-8 1 34 1 11 1-45 0 25 1-6 1 18 1-21 1 50 1-13 1-16 1 32 1-41 1 18 1-6 1-13 0-12 1 24 1-6 1-31 1 56 1-20 1-51 1 51 1-12 1 19 1-25 1 10 0-23 1 42 1-62 1 36 1-4 1-27 1 25 1-48 1 74 1-16 1-10 1-20 0 43 1-27 1-8 1-7 1 19 1 5 1-7 1 17 1-50 1 63 1-28 1 0 0 24 1 37 1-48 1-9 1 19 1-28 1 21 1 14 1-23 1-25 1 19 1 29 0-33 1 12 1-10 1 21 1-2 1-1 1-10 1 7 1 0 1 17 1-37 1 8 0-14 1 35 1-37 1 45 1-28 1 44 1-26 1 9 1 4 1-14 1-8 1 17 0-15 1-1 1 20 1-2 1-29 1 5 1 12 1-4 1 6 1 17 1 20 1-42 0-25 1 12 1-16 1 31 1 6 1 33 1-16 1-44 1 14 1 6 1 18 1-9 0-8 1 29 1-37 1-16 1 17 1 18 1-45 1 2 1 115 1-57 1-18 1-38 1 23 0-3 1 16 1 35 1-61 1 13 1 18 1-22 1 9 1 46 1-37 1-1 1 27 0-13 1 1 1-15 1 4 1-2 1 5 1 6 1 18 1-46 1 44 1-41 1 11 0 66 1-62 1 2 1-14 1 26 1-14 1 9 1-26 1-6 1 8 1 9 1 6 0 23 1-41 1 12 1 10 1-12 1 27 1-44 1 20 1-18 1 62 1-29 1 5 0-28 1 31 1-23 1-24 1 51 1-16 1-42 1 50 1-8 1 24 1-4 1-59 0 28 1 32 1-8 1 5 1-3 1 18 1-3 1-45 1-1 1 45 1-51 1 1 0 31 1-7 1 23 1-27 1 9 1-2 1-28 1 22 1 17 1-10 1-23 1 51 0-19 1 9 1-22 1-24 1 28 1 0 1 0 1-17 1 17 1 6 1 3 1 17 0-50 1 37 1-2 1-19 1-3 1 5 1 4 1 19 1-43 1 24 1 12 1-9 0-3 1-21 1-4 1 40 1 43 1-50 1 23 1-20 1-31 1 10 1 55 1-11 0-15 1 8 1 3 1 0 1 24 1-78 1 46 1-11 1 7 1-30 1-17 1 36 0 6 1-5 1 53 1-18 1 7 1-77 1 27 1-13 1 4 1 4 1 52 1-38 0-6 1 11 1-20 1-9 1 29 1 13 1-35 1 43 1-4 1-38 1 27 1-3 0-14 1 1 1-65 1 78 1-16 1 56 1-46 1 12 1-30 1 63 1-83 1 71 0-52 1 38 1-4 1-23 1 39 1-18 1 21 1 1 1-30 1-17 1 35 1 3 0-14 1 49 1-35 1-44 1 24 1 27 1-35 1-7 1 28 1-15 1-42 1 41 0 23 1 11 1-41 1-25 1 32 1-29 1 71 1-44 1 4 1-11 1-10 1 45 0 5 1-25 1 5 1 39 1-17 1-47 1 17 1 17 1-7 1-17 1-2 1 41 0-20 1-59 1 57 1 1 1 50 1-46 1 46 1-52 1 15 1-10 1 11 1-24 0-2 1-22 1 67 1-35 1-22 1 9 1-15 1 84 1-65 1 28 1-11 1 0 1-43 0 29 1 27 1-27 1 16 1-40 1 41 1-28 1 9 1 11 1 15 1 28 1-53 0 17 1-23 1-1 1 18 1-9 1 3 1 21 1 15 1-31 1 8 1-2 1 37 0-49 1 10 1 6 1-21 1 31 1-27 1-40 1 35 1-20 1 57 1-23 1-40 0 65 1-6 1-57 1 8 1 72 1-55 1 64 1-61 1-15 1 17 1-11 1 29 0-45 1 30 1 6 1 20 1-9 1 1 1-18 1 29 1-36 1-9 1 76 1-55 0-2 1 23 1-11 1-10 1-16 1 22 1-22 1 13 1 21 1 5 1 15 1-42 0-5 1 10 1 33 1-52 1 26 1-8 1 8 1-12 1-13 1 44 1-14 1-16 0 23 1-17 1 0 1 5 1-4 1 16 1-36 1-15 1 38 1 6 1 18 1-41 0 67 1-32 1-31 1 29 1-45 1 34 1 29 1-16 1-37 1-23 1 32 1 22 0-20 1 61 1-67 1 35 1 2 1-13 1-11 1 0 1 24 1-51 1 43 1-6 0 4 1 24 1-15 1-12 1-38 1 40 1 65 1-96 1-11 1 36 1 26 1-49 0 46 1-27 1 7 1-17 1-6 1-21 1 24 1 34 1-12 1 13 1-31 1 6 0 11 1 29 1-61 1 13 1 4 1 12 1-29 1 35 1-26 1 8 1 19 1-22 0 34 1-32 1 14 1-19 1 1 1 11 1-19 1 42 1-8 1-32 1 66 1-47 0 14 1-13 1 25 1-45 1 35 1-44 1 32 1-2 1 48 1-69 1 34 1 8 0 27 1-7 1-56 1 2 1 21 1-27 1 47 1-12 1 20 1-31 1-13 1 3 0 19 1-22 1 4 1 27 1-12 1-4 1 15 1 24 1-42 1 4 1 16 1-22 0-7 1 11 1-3 1 11 1 18 1-41 1 42 1-39 1 30 1 11 1-65 1 43 0 18 1 17 1-30 1-28 1 6 1 20 1 2 1 4 1-18 1 15 1 7 1 13 0-67 1 72 1-42 1-7 1 4 1-7 1 3 1 22 1-23 1 15 1 6 1 36 0-7 1-12 1-33 1-14 1 6 1 19 1 9 1-7 1 1 1 4 1 15 1-9 1-15 0-8 1-9 1 26 1 9 1-1 1-24 1 22 1 5 1-23 1-20 1-1 1 29 0-7 1 25 1 13 1-68 1 28 1 27 1-16 1 18 1-13 1-11 1 14 1-17 0 1 1-25 1 67 1-24 1 15 1-20 1-18 1-20 1 34 1-25 1 26 1 23 0-41 1 12 1 31 1-49 1-18 1 33 1-32 1 66 1-20 1-4 1 3 1-18 0 13 1-11 1 15 1-5 1-6 1 40 1-56 1 51 1-35 1-10 1 14 1 35 0-44 1-29 1 45 1-20 1 5 1 25 1 12 1-40 1 13 1 20 1-48 1 42 0-16 1 20 1-35 1 24 1 3 1-11 1 14 1-37 1 14 1-17 1-7 1 71 0-26 1 20 1-35 1-18 1 7 1-3 1 2 1 39 1-40 1 46 1-8 1-60 0 46 1 13 1 1 1-10 1 12 1 15 1-25 1-4 1 4 1-35 1 55 1-54 0 37 1 1 1-1 1-20 1-25 1 27 1 3 1-12 1 3 1 19 1-16 1 17 0-7 1 18 1-27 1 6 1 16 1-13 1 19 1-9 1-39 1 38 1-38 1 39 0-9 1 31 1-45 1-26 1 52 1-32 1 8 1 24 1-39 1 39 1-1 1-11 0-20 1-20 1 36 1 19 1-4 1-41 1 23 1 51 1-87 1 47 1 21 1-17 0 6 1-13 1 8 1 16 1-25 1-30 1 52 1-35 1 12 1-23 1 34 1-11 0-9 1 7 1-22 1 12 1-11 1 45 1-36 1 3 1-10 1 33 1 6 1-12 0-39 1 38 1 4 1-18 1 22 1-16 1-39 1 53 1 16 1 4 1-54 1 3 0 39 1-17 1-21 1 40 1-5 1 12 1-31 1-21 1 17 1 12 1-35 1 33 0-5 1 9 1-16 1 40 1-77 1 72 1-47 1 10 1-30 1 49 1 8 1-13 0 4 1-11 1 13 1-29 1 48 1-71 1 38 1-18 1 16 1-25 1 49 1-2 0-12 1 3 1 9 1-17 1-14 1 28 1-46 1 63 1-41 1 28 1-24 1 3 0 18 1-21 1 32 1-57 1 32 1-8 1 29 1 3 1 8 1-25 1-28 1 20 1 18 0-7 1-25 1 33 1-29 1 5 1-5 1-14 1 42 1 27 1-72 1 33 1 21 0-55 1-5 1-7 1 17 1 40 1-9 1-21 1-22 1 56 1-24 1 23 1-4 0-23 1-8 1 1 1-10 1-1 1 25 1 1 1-29 1 28 1-20 1 9 1-5 0 16 1-42 1-16 1 55 1 12 1-10 1 4 1-16 1 34 1-49 1 65 1-2 0-31 1 14 1-28 1 10 1-9 1 0 1 8 1-10 1 21 1 7 1-36 1 29 0-41 1 40 1 9 1-9 1-3 1-12 1 16 1-39 1 61 1-25 1 13 1-8 0 21 1-46 1 17 1-7 1 2 1-13 1-13 1-28 1 77 1-27 1-18 1 49 0-19 1 3 1-17 1 34 1-19 1-13 1 17 1-19 1-42 1 53 1-23 1 19 0-12 1 20 1-11 1 29 1-5 1-50 1 18 1 17 1 28 1-51 1-13 1 2 0 35 1 14 1-38 1 40 1-61 1 19 1 44 1-49 1 40 1-17 1 2 1 12 0-12 1 1 1-5 1-19 1 28 1 24 1-32 1 23 1 5 1-38 1 10 1 8 0-41 1 41 1-3 1-13 1-31 1 25 1 18 1 4 1 19 1-34 1-19 1 68 0-56 1 29 1 9 1-4 1-4 1-35 1 22 1-18 1 45 1-33 1 9 1 18 0-5 1-22 1 19 1-19 1-4 1 9 1-8 1-5 1-11 1 18 1-9 1-7 0-18 1 35 1 26 1-32 1-3 1 5 1-12 1 35 1 1 1-7 1 20 1-11 0 2 1-42 1 34 1 24 1-49 1 0 1 19 1 10 1-28 1 39 1-46 1 15 0-23 1 22 1-26 1 19 1 15 1-30 1 38 1-1 1 13 1-16 1-14 1-8 0 33 1-32 1 36 1-7 1-32 1 21 1 11 1-20 1 10 1-1 1-36 1 32 0 7 1-4 1-30 1 35 1-3 1 2 1-35 1 1 1 5 1-9 1 21 1-50 0 70 1-10 1-18 1 32 1-26 1 2 1 3 1-27 1 19 1 0 1 35 1-79 0 20 1 67 1-62 1 48 1 8 1-16 1-9 1-8 1 4 1 16 1-41 1 56 1-31 0-22 1-20 1 44 1-1 1-2 1 10 1-24 1 17 1-47 1 47 1 20 1 7 0-60 1 30 1 32 1-24 1 15 1-12 1 19 1-21 1 23 1-67 1 29 1 5 0-1 1-9 1 23 1 14 1 1 1-19 1 2 1-59 1 4 1 15 1 25 1-20 0 25 1 0 1-21 1 37 1-27 1 9 1-4 1-5 1 19 1 29 1-50 1 2 0 24 1-12 1 18 1-17 1-22 1 20 1-27 1 36 1-9 1 57 1-69 1 2 0 37 1-28 1 16 1-19 1-19 1 40 1-35 1 38 1-34 1 23 1-24 1 30 0 5 1-30 1-22 1 6 1-22 1 15 1 7 1 2 1 43 1-50 1 42 1-14 0 24 1-19 1-29 1 27 1 19 1 16 1-52 1 16 1-3 1 9 1-17 1 24 0-25 1 6 1 5 1-29 1 22 1 31 1-57 1 6 1 25 1-27 1 28 1-4 0 42 1-65 1 39 1-12 1-7 1 5 1-4 1-7 1-5 1 23 1 42 1-51 0-16 1 18 1 11 1-46 1 48 1-4 1 3 1-30 1 42 1-15 1-10 1-20 0-28 1 24 1 22 1-15 1 18 1-7 1 12 1-4 1 9 1-44 1 28 1-22 0 38 1-31 1 29 1-22 1 23 1-7 1 8 1-4 1-16 1 58 1-82 1 17 0 21 1-57 1 56 1-10 1-39 1 2 1 54 1-25 1 16 1-31 1 45 1-41 0 18 1 20 1-15 1 15 1 0 1-5 1-33 1 15 1-1 1 3 1-12 1 0 0 0 1 1 1-1 1 14 1-30 1 16 1 47 1-69 1 26 1-5 1 22 1-1 0 0 1-2 1 0 1 18 1-17 1-3 1 29 1-38 1 7 1-6 1 27 1-39 0-8 1 14 1-22 1 55 1-18 1-7 1 7 1-4 1 43 1-39 1-35 1 46 0-18 1 10 1-21 1-21 1 28 1 0 1 28 1-13 1 8 1-34 1-2 1 9 0 31 1-30 1-1 1 45 1-40 1 8 1 14 1-54 1 46 1-5 1 41 1-28 1-24 0 21 1-29 1-17 1 12 1 24 1 37 1-51 1 25 1 12 1-43 1 1 1 3 0-12 1-4 1 30 1 30 1-62 1 36 1 7 1 17 1 13 1-46 1-12 1 26 0 15 1-6 1-66 1 67 1-49 1 25 1 14 1 15 1-21 1 4 1-7 1-1 0-30 1-12 1 10 1 4 1 49 1-22 1 11 1-19 1-1 1 29 1-20 1-6 0-8 1 20 1 19 1-31 1 0 1 12 1-17 1 32 1-19 1 42 1-53 1-15 0 43 1-63 1 22 1 13 1 27 1-46 1 25 1-13 1-10 1 23 1 10 1-7 0 20 1-14 1-26 1 31 1-1 1-16 1-4 1 13 1-24 1 2 1 4 1 9 0 3 1-1 1 17 1-13 1-10 1 4 1-42 1 20 1 22 1 9 1-6 1 18 0-21 1-20 1 19 1-40 1 42 1-9 1-7 1 4 1-8 1-7 1 46 1-15 0 3 1-30 1 19 1-17 1 6 1 16 1-2 1 18 1-20 1-21 1-13 1 45 0 13 1-1 1-15 1-22 1 38 1-3 1-23 1 9 1-30 1 47 1-32 1 15 0 6 1 16 1-80 1 42 1 9 1-5 1-1 1-24 1 29 1-29 1 14 1 27 0-30 1 25 1-36 1 42 1 3 1-48 1 29 1 4 1-9 1 3 1-26 1 18 0 20 1 3 1-13 1-43 1 35 1 24 1 11 1-21 1 1 1-19 1 1 1 3 0 29 1-27 1 11 1-14 1 21 1-9 1-4 1-23 1 40 1-17 1-21 1 3 0-7 1 61 1-15 1-40 1 38 1 3 1-10 1-37 1 63 1-37 1-39 1 56 0-35 1 36 1-11 1 30 1-32 1 20 1-22 1 5 1-21 1 0 1-13 1 69 0-58 1 39 1-17 1-17 1 23 1-10 1-22 1-7 1 23 1-50 1 47 1-6 0 11 1-38 1-8 1 47 1 4 1 41 1-23 1-52 1-10 1 38 1 5 1-53 0 39 1 1 1-42 1 39 1-21 1 57 1-64 1 58 1-10 1-2 1 22 1-6 0-35 1 16 1-31 1 19 1 11 1-40 1 29 1 5 1 14 1-27 1 9 1-23 1 51 0 49 1-81 1-28 1 36 1-31 1 44 1 11 1-52 1 12 1 14 1 1 1 24 0-28 1-7 1 28 1-36 1 3 1 9 1 47 1-38 1 1 1 6 1-14 1-11 0 9 1-6 1-5 1 18 1 17 1 17 1-53 1 23 1 22 1-22 1-49 1 35 0 11 1-40 1 33 1-14 1 36 1-26 1-11 1 9 1-9 1 10 1 42 1-37 0 6 1 17 1-20 1 7 1-11 1 15 1-28 1-16 1 32 1 20 1-42 1 34 0 15 1-20 1-3 1-28 1 24 1 11 1-10 1 33 1-61 1 31 1-19 1 10 0-12 1 85 1-52 1 3 1-29 1 19 1-16 1 17 1-42 1 22 1-12 1 21 0 24 1-27 1-4 1-7 1 20 1-39 1 26 1-6 1 16 1 49 1-52 1-42 0 43 1 10 1 18 1-46 1 19 1-27 1 33 1 2 1 2 1-40 1 50 1-27 0 24 1 1 1-2 1-25 1-3 1-7 1-14 1 21 1 23 1-47 1 1 1 41 0-17 1 12 1-1 1-25 1 12 1-8 1 18 1-42 1 36 1 4 1-21 1 12 0-26 1-1 1-17 1-2 1 50 1 36 1-33 1-11 1 1 1 18 1 10 1-32 0 13 1 4 1-18 1-9 1 13 1 29 1-58 1 18 1-3 1 41 1 9 1-43 0 5 1-13 1 16 1-49 1 22 1 62 1-34 1 30 1-40 1 20 1 7 1-42 0 12 1 21 1 27 1-38 1 18 1-18 1 24 1-13 1 8 1 11 1-25 1-42 0 13 1 35 1-14 1 25 1-17 1-38 1 55 1-28 1-5 1 33 1-4 1-10 0-20 1 50 1-40 1-9 1 31 1-26 1 19 1-5 1 10 1-12 1-6 1-5 0 15 1 10 1-25 1 31 1 0 1 2 1-8 1-23 1-2 1-15 1 41 1-23 0 39 1-53 1 19 1-11 1 27 1-39 1 3 1 26 1 30 1-14 1-54 1 72 0-14 1-27 1-6 1 5 1 30 1-17 1 1 1-14 1-12 1-33 1 65 1 3 0-18 1 4 1 24 1-33 1 21 1-37 1 21 1 2 1-31 1 63 1-54 1 37 1-27 0 3 1 4 1-2 1 6 1-28 1 18 1-12 1 2 1-21 1 14 1 8 1-1 0 28 1 21 1 13 1-41 1-3 1-30 1 30 1 8 1 2 1-41 1 13 1 57 0-84 1 57 1-16 1-36 1 67 1-45 1 12 1-10 1 29 1-19 1 12 1-8 0 8 1-36 1 1 1 14 1-4 1 25 1-34 1-13 1 4 1-5 1 38 1-14 0 9 1-8 1 2 1-14 1 26 1 26 1-29 1-53 1 40 1 17 1-20 1-12 0 51 1-17 1 42 1-52 1-19 1 13 1 9 1 29 1-4 1-40 1 14 1-3 0-1 1-2 1-6 1-12 1 33 1-48 1 20 1 9 1 28 1-13 1 17 1 6 0-15 1-17 1-19 1 44 1-16 1-6 1-11 1 4 1 9 1 15 1-24 1 20 0-17 1 3 1 27 1-39 1 29 1-44 1 36 1-24 1-11 1 28 1-12 1-2 0 4 1 2 1 16 1 5 1-41 1 19 1 16 1-10 1-5 1 6 1 12 1-19 0 8 1 0 1-40 1 46 1-22 1 3 1 1 1 54 1-84 1 61 1-28 1 40 0-12 1-18 1-36 1-13 1 46 1 24 1-32 1 43 1-19 1 9 1-18 1 15 0-41 1 26 1-7 1-41 1 66 1-15 1-20 1 7 1-37 1 64 1-21 1-11 0 66 1-91 1 26 1 2 1-5 1 34 1-41 1 23 1 2 1 6 1 13 1-49 0 4 1 16 1-16 1 15 1-8 1 15 1 9 1-11 1 51 1-87 1 28 1-20 0 48 1-56 1 4 1 22 1 6 1-19 1 14 1-13 1-6 1 44 1-35 1 3 0-12 1-4 1 8 1 54 1-72 1 43 1 20 1-43 1 17 1-17 1 21 1-6 0-8 1-21 1 23 1-10 1 14 1-12 1-14 1 58 1-12 1-16 1 41 1-15 0 1 1-1 1-15 1-49 1 47 1-27 1-13 1 14 1 22 1-19 1-11 1 25 0 23 1-31 1-28 1 75 1-73 1 25 1-10 1 31 1-25 1 29 1-33 1 32 0-53 1 10 1-20 1 55 1 6 1-43 1 46 1-12 1-2 1 4 1-2 1-4 1-49 0 39 1-21 1 27 1-10 1 1 1-7 1 64 1-65 1-15 1 21 1 5 1 22 0-26 1-10 1-2 1 24 1-30 1-16 1 34 1 3 1 11 1-52 1 58 1-3 0-5 1-33 1 25 1 6 1 3 1-29 1 18 1 11 1-38 1 30 1-22 1 21 0 9 1 13 1-28 1 21 1-11 1-26 1 29 1 0 1-4 1 17 1-22 1-36 0 22 1 57 1-26 1-45 1 52 1 7 1-1 1-30 1 29 1-25 1 2 1-17 0 7 1 25 1-26 1-13 1 38 1 9 1-8 1-20 1-15 1 20 1-1 1-20 0-17 1 55 1-42 1 11 1-15 1 41 1-17 1 15 1-1 1-19 1 20 1-10 0-38 1 44 1-9 1-9 1 42 1-31 1-21 1 31 1-21 1-12 1 31 1-12 0 30 1-34 1 42 1-92 1 61 1-68 1 72 1 3 1-45 1 34 1-5 1-23 0 10 1 32 1-30 1-28 1 53 1-21 1 22 1-8 1-17 1-45 1 55 1 7 0-19 1 2 1-31 1 45 1 8 1-26 1 49 1-47 1 5 1-2 1 11 1 23 0-7 1-15 1-28 1 9 1 43 1-67 1 49 1-6 1-7 1-25 1 48 1 3 0-68 1 44 1 16 1 3 1-35 1-18 1 15 1 32 1 12 1-77 1 72 1-15 0-5 1 29 1-47 1 6 1 17 1-12 1 20 1-29 1-8 1 15 1 9 1-13 0 3 1 7 1 16 1-5 1-23 1-31 1 27 1 6 1 28 1 2 1 17 1-45 0-10 1 7 1-33 1 39 1-2 1-3 1-6 1 7 1-7 1 7 1-13 1 49 0-32 1 24 1-5 1-38 1 29 1-46 1 59 1-31 1-26 1 55 1-21 1 16 0-10 1-20 1-12 1 31 1 4 1-32 1 67 1-80 1 39 1-5 1-9 1 17 0 3 1-25 1 32 1-45 1-26 1 56 1 28 1-64 1 48 1 20 1-48 1 9 0 14 1-25 1-20 1 27 1 30 1 1 1 0 1-64 1 24 1 5 1 21 1-31 1 6 0-13 1 12 1 6 1 21 1-21 1 40 1-35 1-13 1 34 1 15 1-66 1 45 0-27 1-10 1 37 1-18 1 26 1-34 1 6 1 7 1-3 1-20 1-12 1 20 0 17 1-42 1 40 1 19 1-12 1-1 1 18 1 18 1-44 1 1 1 17 1 6 0-9 1 9 1-2 1-11 1 12 1-36 1 45 1-3 1 15 1-42 1-29 1-13 0 53 1-23 1 9 1 1 1 22 1 5 1-39 1 37 1-36 1 38 1 1 1-4 0-35 1 23 1-15 1 3 1 18 1-39 1 55 1-45 1-8 1 12 1 6 1-7 0 9 1 0 1 27 1-20 1 10 1-20 1-19 1 19 1 0 1-19 1-9 1 28 0 42 1-57 1 10 1 19 1-28 1 17 1-5 1 13 1 22 1-23 1 26 1-37 0 14 1-3 1 14 1-28 1 4 1 21 1-30 1 3 1 6 1-32 1 46 1 31 0-49 1-20 1 29 1-22 1 39 1-58 1 44 1-16 1-28 1 7 1 13 1 1 0 31 1-20 1 2 1-18 1 8 1 11 1 13 1-20 1 52 1-33 1-8 1-3 0 6 1 11 1-53 1 44 1-13 1-26 1 23 1 24 1 4 1-13 1 1 1-31 0 33 1-4 1-39 1 57 1-14 1-9 1 28 1-41 1-5 1 24 1 12 1-28 0 16 1-16 1-3 1 19 1 1 1 7 1-45 1 34 1 41 1-35 1-3 1-21 0 36 1-24 1-3 1 63 1-66 1-2 1-16 1 20 1 28 1 8 1-1 1-28 0 9 1 17 1-27 1-39 1 22 1-35 1 9 1 38 1 16 1-17 1 19 1-6 0-36 1-1 1 15 1 18 1-37 1 5 1 44 1-50 1 38 1-18 1-4 1 38 0-39 1 10 1 24 1-13 1-17 1-2 1 7 1 19 1-39 1 57 1-46 1 36 0 43 1-68 1 5 1-11 1 28 1-22 1 12 1-30 1 6 1-13 1 61 1-14 0-17 1-7 1-29 1 33 1 22 1-43 1 25 1 33 1-64 1 62 1-33 1 3 0-6 1 7 1-3 1-1 1-24 1 17 1 49" fill="none" stroke="#8E8E8E" stroke-width="13" stroke-linejoin="round"/>
<path d="M814.5 792.2L816.3 792.1L818.2 792.0L820.0 791.9L821.8 791.7L823.7 791.6L825.5 791.5L827.3 791.3L829.2 791.2L831.0 791.1L832.8 791.0L834.7 790.8L836.5 790.7L838.3 790.5L840.2 790.4L842.0 790.3L843.8 790.1L845.7 790.0L847.5 789.8L849.3 789.7L851.2 789.6L853.0 789.4L854.8 789.3L856.7 789.1L858.5 789.0L860.3 788.8L862.2 788.7L864.0 788.5L865.8 788.4L867.7 788.2L869.5 788.1L871.3 787.9L873.2 787.7L875.0 787.6L876.8 787.4L878.7 787.3L880.5 787.1L882.3 787.0L884.2 786.8L886.0 786.6L887.8 786.5L889.7 786.3L891.5 786.2L893.3 786.0L895.2 785.8L897.0 785.7L898.8 785.5L900.7 785.4L902.5 785.2L904.4 785.0L906.2 784.9L908.0 784.7L909.9 784.6L911.7 784.4L913.5 784.3L915.4 784.1L917.2 784.0L919.0 783.8L920.9 783.7L922.7 783.5L924.5 783.4L926.4 783.2L928.2 783.1L930.0 782.9L931.9 782.8L933.7 782.7L935.5 782.6L937.4 782.4L939.2 782.3L941.0 782.2L942.9 782.1L944.7 782.0L946.5 781.9L948.4 781.8L950.2 781.7L952.0 781.6L953.9 781.5L955.7 781.4L957.5 781.3L959.4 781.3L961.2 781.2L963.0 781.2L964.9 781.1L966.7 781.1L968.5 781.1L970.4 781.0L972.2 781.0L974.0 781.0L975.9 781.0L977.7 781.0L979.5 781.0L981.4 781.1L983.2 781.1L985.0 781.2L986.9 781.2L988.7 781.3L990.5 781.4L992.4 781.5L994.2 781.6L995.1 781.7L996.1 781.7L997.0 781.8L997.9 781.8L998.8 781.9L999.7 782.0L1000.6 782.1L1001.6 782.1L1002.5 782.2L1003.4 782.3L1004.3 782.4L1005.2 782.5L1006.1 782.6L1007.1 782.7L1008.0 782.8L1008.9 782.9L1009.8 783.0L1010.7 783.1L1011.6 783.2L1012.6 783.3L1013.5 783.5L1014.4 783.6L1015.3 783.7L1016.2 783.9L1017.1 784.0L1018.1 784.1L1019.0 784.3L1019.9 784.4L1020.8 784.6L1021.7 784.7L1022.6 784.9L1023.6 785.0L1024.5 785.2L1025.4 785.4L1026.3 785.5L1027.2 785.7L1028.1 785.9L1029.1 786.1L1030.0 786.2L1030.9 786.4L1031.8 786.6L1032.7 786.8L1033.6 787.0L1034.6 787.2L1035.5 787.4L1036.4 787.6L1037.3 787.8L1038.2 788.0L1039.1 788.2L1040.1 788.4L1041.0 788.7L1041.9 788.9L1042.8 789.1L1043.7 789.3L1044.7 789.6L1045.6 789.8L1046.5 790.0L1047.4 790.2L1048.3 790.5L1049.2 790.7L1049.7 790.8L1050.2 790.9L1050.6 791.0L1051.1 791.2L1051.5 791.3L1052.0 791.4L1052.4 791.5L1052.9 791.6L1053.4 791.7L1053.8 791.9L1054.3 792.0L1054.7 792.1L1055.2 792.2L1055.7 792.3L1056.1 792.4L1056.6 792.5L1057.0 792.6L1057.5 792.7L1057.9 792.8L1058.4 792.9L1058.9 793.0L1059.3 793.1L1059.8 793.2L1060.2 793.3L1060.7 793.4L1061.2 793.5L1061.6 793.6L1062.1 793.7L1062.5 793.7L1063.0 793.8L1063.5 793.9L1063.9 793.9L1064.4 794.0L1064.8 794.0L1065.3 794.1L1065.7 794.1L1066.2 794.1L1066.7 794.1L1067.1 794.1L1067.6 794.1L1068.0 794.0L1068.5 794.0L1069.0 793.9L1069.4 793.8L1069.9 793.7L1070.3 793.5L1070.8 793.3L1071.2 793.1L1071.7 792.8L1072.2 792.5L1072.6 792.1L1073.1 791.6L1073.3 791.3L1073.5 791.1L1073.8 790.8L1074.0 790.4L1074.2 790.1L1074.5 789.7L1074.7 789.3L1074.9 788.9L1075.1 788.4L1075.4 787.9L1075.6 787.3L1075.8 786.7L1076.1 786.1L1076.3 785.4L1076.5 784.7L1076.7 783.9L1077.0 783.0L1077.2 782.1L1077.4 781.1L1077.7 780.1L1077.9 779.0L1078.1 777.8L1078.4 776.5L1078.6 775.1L1078.8 773.7L1079.0 772.2L1079.3 770.5L1079.5 768.8L1079.7 767.1L1080.0 765.2L1080.2 763.3L1080.4 761.3L1080.6 759.3L1080.9 757.2L1081.1 755.2L1081.3 753.2L1081.6 751.4L1081.8 749.6L1082.0 748.1L1082.2 746.9L1082.5 746.0L1082.7 745.7L1082.9 745.8L1083.2 746.7L1083.4 748.3L1083.6 750.8L1083.9 754.1L1084.1 758.4L1084.3 763.6L1084.5 769.7L1084.8 776.6L1085.0 784.1L1085.2 792.1L1085.5 800.3L1085.7 808.5L1085.9 816.5L1086.1 824.0L1086.4 830.9L1086.6 837.1L1086.8 842.4L1087.1 846.7L1087.3 850.2L1087.5 852.7L1087.8 854.5L1088.0 855.4L1088.2 855.7L1088.4 855.5L1088.7 854.8L1088.9 853.7L1089.1 852.3L1089.4 850.8L1089.6 849.0L1089.8 847.2L1090.0 845.4L1090.3 843.5L1090.5 841.6L1090.7 839.8L1091.0 838.0L1091.2 836.3L1091.4 834.7L1091.6 833.1L1091.9 831.6L1092.1 830.2L1092.3 828.9L1092.6 827.7L1092.8 826.5L1093.0 825.4L1093.3 824.4L1093.5 823.5L1093.7 822.6L1093.9 821.8L1094.2 821.0L1094.4 820.3L1094.6 819.6L1094.9 819.0L1095.1 818.4L1095.3 817.9L1095.5 817.4L1095.8 816.9L1096.0 816.5L1096.2 816.1L1096.5 815.7L1096.7 815.3L1096.9 815.0L1097.2 814.7L1097.4 814.4L1097.6 814.2L1097.8 813.9L1098.1 813.7L1098.3 813.5L1098.8 813.1L1099.2 812.8L1099.7 812.6L1100.1 812.3L1100.6 812.2L1101.0 812.0L1101.5 811.9L1102.0 811.8L1102.4 811.7L1102.9 811.6L1103.3 811.6L1103.8 811.6L1104.3 811.6L1104.7 811.6L1105.2 811.6L1105.6 811.6L1106.1 811.7L1106.5 811.7L1107.0 811.7L1107.5 811.8L1107.9 811.9L1108.4 811.9L1108.8 812.0L1109.3 812.1L1109.8 812.2L1110.2 812.3L1110.7 812.4L1111.1 812.5L1111.6 812.6L1112.1 812.7L1112.5 812.8L1113.0 812.9L1113.4 813.0L1113.9 813.1L1114.3 813.2L1114.8 813.3L1115.3 813.4L1115.7 813.5L1116.2 813.6L1116.6 813.8L1117.1 813.9L1117.6 814.0L1118.0 814.1L1118.5 814.2L1118.9 814.3L1119.4 814.4L1119.8 814.6L1120.3 814.7L1120.8 814.8L1121.2 814.9L1121.7 815.0L1122.1 815.2L1123.1 815.4L1124.0 815.6L1124.9 815.8L1125.8 816.1L1126.7 816.3L1127.6 816.5L1128.6 816.8L1129.5 817.0L1130.4 817.2L1131.3 817.4L1132.2 817.6L1133.1 817.9L1134.1 818.1L1135.0 818.3L1135.9 818.5L1136.8 818.7L1137.7 818.9L1138.6 819.1L1139.6 819.3L1140.5 819.5L1141.4 819.7L1142.3 819.8L1143.2 820.0L1144.1 820.2L1145.1 820.4L1146.0 820.5L1146.9 820.7L1147.8 820.9L1148.7 821.0L1149.6 821.2L1150.6 821.3L1151.5 821.5L1152.4 821.6L1153.3 821.8L1154.2 821.9L1155.2 822.1L1156.1 822.2L1157.0 822.3L1157.9 822.5L1158.8 822.6L1159.7 822.7L1160.7 822.8L1161.6 822.9L1162.5 823.0L1163.4 823.2L1164.3 823.3L1165.2 823.4L1166.2 823.5L1167.1 823.5L1168.0 823.6L1168.9 823.7L1169.8 823.8L1170.7 823.9L1171.7 824.0L1172.6 824.0L1173.5 824.1L1174.4 824.2L1175.3 824.2L1176.2 824.3L1177.2 824.4L1179.0 824.5L1180.8 824.6L1182.7 824.7L1184.5 824.7L1186.3 824.8L1188.2 824.9L1190.0 824.9L1191.8 824.9L1193.7 825.0L1195.5 825.0L1197.3 825.0L1199.2 825.0L1201.0 825.0L1202.8 824.9L1204.7 824.9L1206.5 824.9L1208.3 824.8L1210.2 824.8L1212.0 824.7L1213.8 824.7L1215.7 824.6L1217.5 824.5L1219.3 824.4L1221.2 824.3L1223.0 824.2L1224.8 824.1L1226.7 824.0L1228.5 823.9L1230.3 823.8L1232.2 823.7L1234.0 823.6L1235.8 823.5L1237.7 823.3L1239.5 823.2L1241.3 823.1L1243.2 822.9L1245.0 822.8L1246.9 822.7L1248.7 822.5L1250.5 822.4L1252.4 822.2L1254.2 822.1L1256.0 821.9L1257.9 821.8L1259.7 821.6L1261.5 821.5L1263.4 821.3L1265.2 821.1L1267.0 821.0L1268.9 820.8L1270.7 820.7L1272.5 820.5L1274.4 820.4L1276.2 820.2L1278.0 820.0L1279.9 819.9L1281.7 819.7L1283.5 819.5L1285.4 819.4L1287.2 819.2L1289.0 819.1L1290.9 818.9L1292.7 818.8L1294.5 818.6L1296.4 818.4L1298.2 818.3L1300.0 818.1L1301.9 818.0L1303.7 817.8L1305.5 817.7L1307.4 817.5L1309.2 817.4L1311.0 817.2L1312.9 817.1L1314.7 816.9L1316.5 816.8L1318.4 816.6L1320.2 816.5L1322.0 816.3L1323.9 816.2L1325.7 816.0L1327.5 815.9L1329.4 815.8L1331.2 815.6L1333.0 815.5L1334.9 815.3L1336.7 815.2L1338.6 815.1L1340.4 814.9L1342.2 814.8L1344.1 814.7L1345.9 814.5L1347.7 814.4L1349.6 814.3L1351.4 814.2L1353.2 814.0L1355.1 813.9L1356.9 813.8L1358.7 813.7L1360.1 813.6" fill="none" stroke="#000000" stroke-width="1.7" stroke-linejoin="round" stroke-linecap="butt"/>
<path d="M814.5 855.3L816.3 855.2L818.2 855.1L820.0 854.9L821.8 854.8L823.7 854.7L825.5 854.6L827.3 854.4L829.2 854.3L831.0 854.2L832.8 854.0L834.7 853.9L836.5 853.8L838.3 853.6L840.2 853.5L842.0 853.4L843.8 853.2L845.7 853.1L847.5 852.9L849.3 852.8L851.2 852.7L853.0 852.5L854.8 852.4L856.7 852.2L858.5 852.1L860.3 851.9L862.2 851.8L864.0 851.6L865.8 851.5L867.7 851.3L869.5 851.2L871.3 851.0L873.2 850.8L875.0 850.7L876.8 850.5L878.7 850.4L880.5 850.2L882.3 850.1L884.2 849.9L886.0 849.7L887.8 849.6L889.7 849.4L891.5 849.3L893.3 849.1L895.2 848.9L897.0 848.8L898.8 848.6L900.7 848.5L902.5 848.3L904.4 848.1L906.2 848.0L908.0 847.8L909.9 847.7L911.7 847.5L913.5 847.4L915.4 847.2L917.2 847.1L919.0 846.9L920.9 846.8L922.7 846.6L924.5 846.5L926.4 846.3L928.2 846.2L930.0 846.0L931.9 845.9L933.7 845.8L935.5 845.7L937.4 845.5L939.2 845.4L941.0 845.3L942.9 845.2L944.7 845.1L946.5 845.0L948.4 844.9L950.2 844.8L952.0 844.7L953.9 844.6L955.7 844.5L957.5 844.4L959.4 844.4L961.2 844.3L963.0 844.3L964.9 844.2L966.7 844.2L968.5 844.2L970.4 844.1L972.2 844.1L974.0 844.1L975.9 844.1L977.7 844.1L979.5 844.2L981.4 844.2L983.2 844.2L985.0 844.3L986.9 844.3L988.7 844.4L990.5 844.5L992.4 844.6L994.2 844.7L995.1 844.8L996.1 844.8L997.0 844.9L997.9 845.0L998.8 845.0L999.7 845.1L1000.6 845.2L1001.6 845.3L1002.5 845.3L1003.4 845.4L1004.3 845.5L1005.2 845.6L1006.1 845.7L1007.1 845.8L1008.0 845.9L1008.9 846.0L1009.8 846.1L1010.7 846.2L1011.6 846.4L1012.6 846.5L1013.5 846.6L1014.4 846.7L1015.3 846.9L1016.2 847.0L1017.1 847.1L1018.1 847.3L1019.0 847.4L1019.9 847.6L1020.8 847.7L1021.7 847.9L1022.6 848.0L1023.6 848.2L1024.5 848.4L1025.4 848.5L1026.3 848.7L1027.2 848.9L1028.1 849.1L1029.1 849.2L1030.0 849.4L1030.9 849.6L1031.8 849.8L1032.7 850.0L1033.6 850.2L1034.6 850.4L1035.5 850.6L1036.4 850.8L1037.3 851.1L1038.2 851.3L1039.1 851.5L1040.1 851.7L1041.0 851.9L1041.9 852.2L1042.8 852.4L1043.7 852.6L1044.7 852.9L1045.6 853.1L1046.5 853.4L1047.4 853.6L1048.3 853.9L1049.2 854.1L1049.7 854.3L1050.2 854.4L1050.6 854.5L1051.1 854.7L1051.5 854.8L1052.0 854.9L1052.4 855.1L1052.9 855.2L1053.4 855.3L1053.8 855.5L1054.3 855.6L1054.7 855.7L1055.2 855.9L1055.7 856.0L1056.1 856.1L1056.6 856.3L1057.0 856.4L1057.5 856.6L1057.9 856.7L1058.4 856.8L1058.9 857.0L1059.3 857.1L1059.8 857.3L1060.2 857.4L1060.7 857.6L1061.2 857.7L1061.6 857.9L1062.1 858.0L1062.5 858.1L1063.0 858.3L1063.5 858.4L1063.9 858.6L1064.4 858.7L1064.8 858.9L1065.3 859.0L1065.7 859.2L1066.2 859.3L1066.7 859.5L1067.1 859.6L1067.6 859.8L1068.0 859.9L1068.5 860.1L1069.0 860.2L1069.4 860.4L1069.9 860.6L1070.3 860.7L1070.8 860.9L1071.2 861.0L1071.7 861.2L1072.2 861.3L1072.6 861.5L1073.1 861.6L1073.3 861.7L1073.5 861.8L1073.8 861.9L1074.0 862.0L1074.2 862.0L1074.5 862.1L1074.7 862.2L1074.9 862.3L1075.1 862.3L1075.4 862.4L1075.6 862.5L1075.8 862.6L1076.1 862.7L1076.3 862.7L1076.5 862.8L1076.7 862.9L1077.0 863.0L1077.2 863.1L1077.4 863.1L1077.7 863.2L1077.9 863.3L1078.1 863.4L1078.4 863.5L1078.6 863.5L1078.8 863.6L1079.0 863.7L1079.3 863.8L1079.5 863.8L1079.7 863.9L1080.0 864.0L1080.2 864.1L1080.4 864.2L1080.6 864.2L1080.9 864.3L1081.1 864.4L1081.3 864.5L1081.6 864.6L1081.8 864.6L1082.0 864.7L1082.2 864.8L1082.5 864.9L1082.7 865.0L1082.9 865.0L1083.2 865.1L1083.4 865.2L1083.6 865.3L1083.9 865.4L1084.1 865.4L1084.3 865.5L1084.5 865.6L1084.8 865.7L1085.0 865.8L1085.2 865.8L1085.5 865.9L1085.7 866.0L1085.9 866.1L1086.1 866.2L1086.4 866.2L1086.6 866.3L1086.8 866.4L1087.1 866.5L1087.3 866.6L1087.5 866.6L1087.8 866.7L1088.0 866.8L1088.2 866.9L1088.4 867.0L1088.7 867.1L1088.9 867.1L1089.1 867.2L1089.4 867.3L1089.6 867.4L1089.8 867.5L1090.0 867.5L1090.3 867.6L1090.5 867.7L1090.7 867.8L1091.0 867.8L1091.2 867.9L1091.4 868.0L1091.6 868.1L1091.9 868.2L1092.1 868.2L1092.3 868.3L1092.6 868.4L1092.8 868.5L1093.0 868.6L1093.3 868.6L1093.5 868.7L1093.7 868.8L1093.9 868.9L1094.2 869.0L1094.4 869.0L1094.6 869.1L1094.9 869.2L1095.1 869.3L1095.3 869.4L1095.5 869.4L1095.8 869.5L1096.0 869.6L1096.2 869.7L1096.5 869.8L1096.7 869.8L1096.9 869.9L1097.2 870.0L1097.4 870.1L1097.6 870.1L1097.8 870.2L1098.1 870.3L1098.3 870.4L1098.8 870.5L1099.2 870.7L1099.7 870.8L1100.1 871.0L1100.6 871.2L1101.0 871.3L1101.5 871.5L1102.0 871.6L1102.4 871.8L1102.9 871.9L1103.3 872.1L1103.8 872.2L1104.3 872.4L1104.7 872.5L1105.2 872.7L1105.6 872.8L1106.1 873.0L1106.5 873.1L1107.0 873.3L1107.5 873.4L1107.9 873.6L1108.4 873.7L1108.8 873.9L1109.3 874.0L1109.8 874.2L1110.2 874.3L1110.7 874.5L1111.1 874.6L1111.6 874.8L1112.1 874.9L1112.5 875.0L1113.0 875.2L1113.4 875.3L1113.9 875.5L1114.3 875.6L1114.8 875.8L1115.3 875.9L1115.7 876.0L1116.2 876.2L1116.6 876.3L1117.1 876.4L1117.6 876.6L1118.0 876.7L1118.5 876.9L1118.9 877.0L1119.4 877.1L1119.8 877.3L1120.3 877.4L1120.8 877.5L1121.2 877.7L1121.7 877.8L1122.1 877.9L1123.1 878.2L1124.0 878.4L1124.9 878.7L1125.8 878.9L1126.7 879.2L1127.6 879.4L1128.6 879.6L1129.5 879.9L1130.4 880.1L1131.3 880.3L1132.2 880.6L1133.1 880.8L1134.1 881.0L1135.0 881.2L1135.9 881.4L1136.8 881.7L1137.7 881.9L1138.6 882.1L1139.6 882.3L1140.5 882.5L1141.4 882.7L1142.3 882.8L1143.2 883.0L1144.1 883.2L1145.1 883.4L1146.0 883.6L1146.9 883.7L1147.8 883.9L1148.7 884.1L1149.6 884.2L1150.6 884.4L1151.5 884.5L1152.4 884.7L1153.3 884.8L1154.2 885.0L1155.2 885.1L1156.1 885.2L1157.0 885.4L1157.9 885.5L1158.8 885.6L1159.7 885.8L1160.7 885.9L1161.6 886.0L1162.5 886.1L1163.4 886.2L1164.3 886.3L1165.2 886.4L1166.2 886.5L1167.1 886.6L1168.0 886.7L1168.9 886.8L1169.8 886.9L1170.7 887.0L1171.7 887.0L1172.6 887.1L1173.5 887.2L1174.4 887.3L1175.3 887.3L1176.2 887.4L1177.2 887.4L1179.0 887.6L1180.8 887.6L1182.7 887.7L1184.5 887.8L1186.3 887.9L1188.2 887.9L1190.0 888.0L1191.8 888.0L1193.7 888.0L1195.5 888.1L1197.3 888.1L1199.2 888.1L1201.0 888.0L1202.8 888.0L1204.7 888.0L1206.5 888.0L1208.3 887.9L1210.2 887.9L1212.0 887.8L1213.8 887.7L1215.7 887.7L1217.5 887.6L1219.3 887.5L1221.2 887.4L1223.0 887.3L1224.8 887.2L1226.7 887.1L1228.5 887.0L1230.3 886.9L1232.2 886.8L1234.0 886.7L1235.8 886.6L1237.7 886.4L1239.5 886.3L1241.3 886.2L1243.2 886.0L1245.0 885.9L1246.9 885.7L1248.7 885.6L1250.5 885.5L1252.4 885.3L1254.2 885.2L1256.0 885.0L1257.9 884.9L1259.7 884.7L1261.5 884.5L1263.4 884.4L1265.2 884.2L1267.0 884.1L1268.9 883.9L1270.7 883.8L1272.5 883.6L1274.4 883.4L1276.2 883.3L1278.0 883.1L1279.9 883.0L1281.7 882.8L1283.5 882.6L1285.4 882.5L1287.2 882.3L1289.0 882.2L1290.9 882.0L1292.7 881.8L1294.5 881.7L1296.4 881.5L1298.2 881.4L1300.0 881.2L1301.9 881.1L1303.7 880.9L1305.5 880.8L1307.4 880.6L1309.2 880.4L1311.0 880.3L1312.9 880.1L1314.7 880.0L1316.5 879.8L1318.4 879.7L1320.2 879.6L1322.0 879.4L1323.9 879.3L1325.7 879.1L1327.5 879.0L1329.4 878.8L1331.2 878.7L1333.0 878.6L1334.9 878.4L1336.7 878.3L1338.6 878.2L1340.4 878.0L1342.2 877.9L1344.1 877.8L1345.9 877.6L1347.7 877.5L1349.6 877.4L1351.4 877.3L1353.2 877.1L1355.1 877.0L1356.9 876.9L1358.7 876.8L1360.1 876.7" fill="none" stroke="#F5821F" stroke-width="1.6" stroke-linejoin="round" stroke-linecap="butt"/>
<path d="M814.5 942.1L816.3 942.1L818.2 942.1L820.0 942.1L821.8 942.1L823.7 942.1L825.5 942.1L827.3 942.1L829.2 942.1L831.0 942.1L832.8 942.1L834.7 942.1L836.5 942.1L838.3 942.1L840.2 942.1L842.0 942.1L843.8 942.1L845.7 942.1L847.5 942.1L849.3 942.1L851.2 942.1L853.0 942.1L854.8 942.1L856.7 942.1L858.5 942.1L860.3 942.1L862.2 942.1L864.0 942.1L865.8 942.1L867.7 942.1L869.5 942.1L871.3 942.1L873.2 942.1L875.0 942.1L876.8 942.1L878.7 942.1L880.5 942.1L882.3 942.1L884.2 942.1L886.0 942.1L887.8 942.1L889.7 942.1L891.5 942.1L893.3 942.1L895.2 942.1L897.0 942.1L898.8 942.1L900.7 942.1L902.5 942.1L904.4 942.1L906.2 942.1L908.0 942.1L909.9 942.1L911.7 942.1L913.5 942.1L915.4 942.1L917.2 942.1L919.0 942.1L920.9 942.1L922.7 942.1L924.5 942.1L926.4 942.1L928.2 942.1L930.0 942.1L931.9 942.1L933.7 942.1L935.5 942.1L937.4 942.1L939.2 942.1L941.0 942.1L942.9 942.1L944.7 942.1L946.5 942.1L948.4 942.1L950.2 942.1L952.0 942.1L953.9 942.1L955.7 942.1L957.5 942.1L959.4 942.1L961.2 942.1L963.0 942.1L964.9 942.1L966.7 942.1L968.5 942.1L970.4 942.1L972.2 942.1L974.0 942.1L975.9 942.1L977.7 942.1L979.5 942.1L981.4 942.1L983.2 942.1L985.0 942.1L986.9 942.1L988.7 942.1L990.5 942.1L992.4 942.1L994.2 942.1L995.1 942.1L996.1 942.1L997.0 942.1L997.9 942.1L998.8 942.1L999.7 942.1L1000.6 942.1L1001.6 942.1L1002.5 942.0L1003.4 942.0L1004.3 942.0L1005.2 942.0L1006.1 942.0L1007.1 942.0L1008.0 942.0L1008.9 942.0L1009.8 942.0L1010.7 942.0L1011.6 942.0L1012.6 942.0L1013.5 942.0L1014.4 942.0L1015.3 942.0L1016.2 942.0L1017.1 942.0L1018.1 942.0L1019.0 942.0L1019.9 942.0L1020.8 942.0L1021.7 942.0L1022.6 942.0L1023.6 942.0L1024.5 942.0L1025.4 942.0L1026.3 942.0L1027.2 942.0L1028.1 942.0L1029.1 942.0L1030.0 942.0L1030.9 942.0L1031.8 942.0L1032.7 942.0L1033.6 942.0L1034.6 942.0L1035.5 941.9L1036.4 941.9L1037.3 941.9L1038.2 941.9L1039.1 941.9L1040.1 941.9L1041.0 941.9L1041.9 941.9L1042.8 941.9L1043.7 941.8L1044.7 941.8L1045.6 941.8L1046.5 941.8L1047.4 941.8L1048.3 941.8L1049.2 941.7L1049.7 941.7L1050.2 941.7L1050.6 941.7L1051.1 941.7L1051.5 941.7L1052.0 941.6L1052.4 941.6L1052.9 941.6L1053.4 941.6L1053.8 941.6L1054.3 941.5L1054.7 941.5L1055.2 941.5L1055.7 941.5L1056.1 941.4L1056.6 941.4L1057.0 941.4L1057.5 941.3L1057.9 941.3L1058.4 941.3L1058.9 941.2L1059.3 941.2L1059.8 941.1L1060.2 941.1L1060.7 941.0L1061.2 941.0L1061.6 940.9L1062.1 940.8L1062.5 940.8L1063.0 940.7L1063.5 940.6L1063.9 940.5L1064.4 940.4L1064.8 940.3L1065.3 940.2L1065.7 940.1L1066.2 940.0L1066.7 939.8L1067.1 939.6L1067.6 939.5L1068.0 939.3L1068.5 939.1L1069.0 938.8L1069.4 938.6L1069.9 938.3L1070.3 938.0L1070.8 937.6L1071.2 937.2L1071.7 936.8L1072.2 936.3L1072.6 935.8L1073.1 935.2L1073.3 934.9L1073.5 934.5L1073.8 934.2L1074.0 933.8L1074.2 933.3L1074.5 932.9L1074.7 932.4L1074.9 931.9L1075.1 931.4L1075.4 930.8L1075.6 930.2L1075.8 929.6L1076.1 928.9L1076.3 928.2L1076.5 927.4L1076.7 926.5L1077.0 925.7L1077.2 924.7L1077.4 923.7L1077.7 922.6L1077.9 921.5L1078.1 920.3L1078.4 919.0L1078.6 917.6L1078.8 916.1L1079.0 914.6L1079.3 913.0L1079.5 911.3L1079.7 909.5L1080.0 907.6L1080.2 905.7L1080.4 903.7L1080.6 901.7L1080.9 899.6L1081.1 897.6L1081.3 895.6L1081.6 893.7L1081.8 892.0L1082.0 890.5L1082.2 889.3L1082.5 888.4L1082.7 888.0L1082.9 888.2L1083.2 889.0L1083.4 890.6L1083.6 893.0L1083.9 896.3L1084.1 900.6L1084.3 905.8L1084.5 911.8L1084.8 918.6L1085.0 926.1L1085.2 934.0L1085.5 942.1L1085.7 950.2L1085.9 958.1L1086.1 965.5L1086.4 972.4L1086.6 978.4L1086.8 983.6L1087.1 987.8L1087.3 991.1L1087.5 993.6L1087.8 995.2L1088.0 996.0L1088.2 996.2L1088.4 995.8L1088.7 994.9L1088.9 993.7L1089.1 992.2L1089.4 990.4L1089.6 988.5L1089.8 986.6L1090.0 984.5L1090.3 982.5L1090.5 980.5L1090.7 978.5L1091.0 976.6L1091.2 974.7L1091.4 972.9L1091.6 971.2L1091.9 969.6L1092.1 968.0L1092.3 966.6L1092.6 965.2L1092.8 963.9L1093.0 962.7L1093.3 961.5L1093.5 960.5L1093.7 959.4L1093.9 958.5L1094.2 957.6L1094.4 956.8L1094.6 956.0L1094.9 955.3L1095.1 954.6L1095.3 953.9L1095.5 953.3L1095.8 952.8L1096.0 952.2L1096.2 951.7L1096.5 951.3L1096.7 950.8L1096.9 950.4L1097.2 950.0L1097.4 949.6L1097.6 949.3L1097.8 949.0L1098.1 948.6L1098.3 948.4L1098.8 947.8L1099.2 947.3L1099.7 946.9L1100.1 946.5L1100.6 946.2L1101.0 945.9L1101.5 945.6L1102.0 945.3L1102.4 945.1L1102.9 944.9L1103.3 944.7L1103.8 944.5L1104.3 944.4L1104.7 944.2L1105.2 944.1L1105.6 943.9L1106.1 943.8L1106.5 943.7L1107.0 943.6L1107.5 943.5L1107.9 943.5L1108.4 943.4L1108.8 943.3L1109.3 943.2L1109.8 943.2L1110.2 943.1L1110.7 943.1L1111.1 943.0L1111.6 943.0L1112.1 942.9L1112.5 942.9L1113.0 942.9L1113.4 942.8L1113.9 942.8L1114.3 942.7L1114.8 942.7L1115.3 942.7L1115.7 942.7L1116.2 942.6L1116.6 942.6L1117.1 942.6L1117.6 942.6L1118.0 942.6L1118.5 942.5L1118.9 942.5L1119.4 942.5L1119.8 942.5L1120.3 942.5L1120.8 942.5L1121.2 942.4L1121.7 942.4L1122.1 942.4L1123.1 942.4L1124.0 942.4L1124.9 942.3L1125.8 942.3L1126.7 942.3L1127.6 942.3L1128.6 942.3L1129.5 942.3L1130.4 942.3L1131.3 942.3L1132.2 942.2L1133.1 942.2L1134.1 942.2L1135.0 942.2L1135.9 942.2L1136.8 942.2L1137.7 942.2L1138.6 942.2L1139.6 942.2L1140.5 942.2L1141.4 942.2L1142.3 942.2L1143.2 942.2L1144.1 942.2L1145.1 942.2L1146.0 942.2L1146.9 942.2L1147.8 942.1L1148.7 942.1L1149.6 942.1L1150.6 942.1L1151.5 942.1L1152.4 942.1L1153.3 942.1L1154.2 942.1L1155.2 942.1L1156.1 942.1L1157.0 942.1L1157.9 942.1L1158.8 942.1L1159.7 942.1L1160.7 942.1L1161.6 942.1L1162.5 942.1L1163.4 942.1L1164.3 942.1L1165.2 942.1L1166.2 942.1L1167.1 942.1L1168.0 942.1L1168.9 942.1L1169.8 942.1L1170.7 942.1L1171.7 942.1L1172.6 942.1L1173.5 942.1L1174.4 942.1L1175.3 942.1L1176.2 942.1L1177.2 942.1L1179.0 942.1L1180.8 942.1L1182.7 942.1L1184.5 942.1L1186.3 942.1L1188.2 942.1L1190.0 942.1L1191.8 942.1L1193.7 942.1L1195.5 942.1L1197.3 942.1L1199.2 942.1L1201.0 942.1L1202.8 942.1L1204.7 942.1L1206.5 942.1L1208.3 942.1L1210.2 942.1L1212.0 942.1L1213.8 942.1L1215.7 942.1L1217.5 942.1L1219.3 942.1L1221.2 942.1L1223.0 942.1L1224.8 942.1L1226.7 942.1L1228.5 942.1L1230.3 942.1L1232.2 942.1L1234.0 942.1L1235.8 942.1L1237.7 942.1L1239.5 942.1L1241.3 942.1L1243.2 942.1L1245.0 942.1L1246.9 942.1L1248.7 942.1L1250.5 942.1L1252.4 942.1L1254.2 942.1L1256.0 942.1L1257.9 942.1L1259.7 942.1L1261.5 942.1L1263.4 942.1L1265.2 942.1L1267.0 942.1L1268.9 942.1L1270.7 942.1L1272.5 942.1L1274.4 942.1L1276.2 942.1L1278.0 942.1L1279.9 942.1L1281.7 942.1L1283.5 942.1L1285.4 942.1L1287.2 942.1L1289.0 942.1L1290.9 942.1L1292.7 942.1L1294.5 942.1L1296.4 942.1L1298.2 942.1L1300.0 942.1L1301.9 942.1L1303.7 942.1L1305.5 942.1L1307.4 942.1L1309.2 942.1L1311.0 942.1L1312.9 942.1L1314.7 942.1L1316.5 942.1L1318.4 942.1L1320.2 942.1L1322.0 942.1L1323.9 942.1L1325.7 942.1L1327.5 942.1L1329.4 942.1L1331.2 942.1L1333.0 942.1L1334.9 942.1L1336.7 942.1L1338.6 942.1L1340.4 942.1L1342.2 942.1L1344.1 942.1L1345.9 942.1L1347.7 942.1L1349.6 942.1L1351.4 942.1L1353.2 942.1L1355.1 942.1L1356.9 942.1L1358.7 942.1L1360.1 942.1" fill="none" stroke="#3A55A5" stroke-width="1.6" stroke-linejoin="round" stroke-linecap="butt"/>
<path transform="scale(0.1)" d="M8145 10118l1-9 1-29 1 13 1-2 0 15 1-16 1-10 1 47 1-40 1-8 1 19 1-17 1 38 1-20 1 12 1-17 0-8 1 38 1-8 1-40 1 3 1 14 1 12 1 9 1-76 1 44 1 1 1-20 0 20 1 18 1-4 1-4 1 4 1 18 1-20 1-6 1-15 1 21 1 7 1 14 0-37 1-3 1 26 1 0 1-58 1 45 1-2 1-6 1 10 1 56 1-49 1-24 0-25 1 35 1 20 1-73 1 46 1 0 1 48 1-35 1 19 1-22 1-6 1-1 0 40 1-26 1-16 1-14 1 25 1 16 1-36 1 54 1-12 1-5 1-13 1 9 0 4 1-3 1 20 1-9 1 4 1-22 1-8 1-5 1 42 1 10 1-32 1-23 0 4 1 10 1 16 1-37 1 33 1-59 1 38 1-32 1 48 1-10 1-9 1 21 0-12 1-36 1 24 1 11 1 11 1-15 1 27 1 2 1-9 1-15 1 22 1 5 0-39 1 50 1-24 1-13 1 31 1-59 1 31 1-47 1 20 1 33 1 19 1-7 0-8 1-10 1-14 1-13 1 68 1-78 1 12 1 35 1-22 1 4 1 28 1-5 0-35 1 24 1-9 1 38 1-10 1-10 1-9 1-5 1 3 1-34 1 61 1-35 0-18 1 23 1-8 1 3 1-8 1 10 1 8 1-35 1-19 1 19 1-1 1 55 0-34 1 0 1-5 1-8 1 38 1 5 1 12 1-51 1 85 1-60 1 2 1 5 0-31 1 22 1 15 1-23 1-22 1 25 1 18 1-25 1 3 1-8 1-50 1 66 0-9 1-17 1 39 1 8 1-6 1-33 1-9 1 24 1 8 1-13 1-5 1 26 0-34 1 28 1-49 1 44 1-2 1-22 1 17 1 9 1-16 1-5 1-16 1 29 1 19 0-33 1-7 1 38 1-34 1 36 1-68 1 18 1 30 1-37 1 35 1 46 1-32 0 11 1-13 1 24 1-51 1 23 1-30 1 7 1 32 1-9 1-40 1 61 1-36 0-27 1 41 1-5 1-38 1 20 1 2 1-9 1 32 1 17 1 5 1-24 1-41 0 68 1-19 1 18 1-34 1 33 1-4 1-7 1-45 1 44 1-25 1 58 1-55 0 10 1 6 1-10 1 9 1-13 1 18 1-4 1-5 1-3 1-12 1 1 1-10 0 11 1 40 1-33 1 11 1-30 1-5 1 6 1 5 1 3 1 20 1-11 1-5 0 21 1-10 1 7 1-39 1 0 1 51 1-12 1 0 1-24 1 3 1 4 1 3 0 11 1 26 1-51 1 43 1-20 1-32 1-12 1 38 1-32 1 1 1 32 1 9 0-62 1 53 1-17 1 4 1-10 1 10 1 33 1-21 1 1 1-38 1 19 1 41 0-14 1 5 1-35 1 36 1-37 1 12 1 9 1-16 1 6 1 19 1-16 1-7 0-4 1 24 1 5 1 3 1 18 1-50 1 2 1 25 1-5 1 4 1-10 1-1 0 27 1-40 1 19 1-38 1 60 1-31 1-24 1 45 1-1 1-3 1-15 1-19 0 27 1 4 1-3 1-27 1-2 1 33 1 14 1-37 1 17 1-16 1 3 1 19 0-11 1 6 1-13 1 25 1 10 1-9 1-41 1 20 1 1 1-3 1 4 1 7 0-11 1-7 1 14 1 11 1-8 1 39 1-64 1 26 1 4 1-2 1 17 1-2 0-12 1-19 1 14 1-6 1-4 1-48 1 79 1-9 1-7 1-28 1 11 1 18 0-35 1 16 1 21 1-11 1-6 1-18 1 11 1-23 1 24 1 28 1-10 1-32 0 35 1-30 1 67 1-8 1-18 1-4 1-32 1-25 1 72 1-73 1 71 1-4 0-73 1 47 1-22 1-25 1 11 1 88 1-71 1 4 1 35 1-18 1 39 1-37 0-23 1 42 1-51 1 11 1 28 1-7 1-9 1-34 1 25 1-7 1 33 1-60 0 77 1-12 1-2 1-26 1 11 1-20 1 15 1 25 1 44 1-45 1 5 1-1 1-10 0-29 1 35 1-5 1 18 1-56 1 55 1-40 1 17 1 3 1-14 1 13 1-6 0-16 1-11 1-8 1 28 1-5 1-11 1-10 1 50 1-31 1 9 1 18 1-51 0 69 1-41 1 49 1-26 1 5 1-15 1-20 1 1 1 5 1-24 1 26 1-3 0 16 1-17 1 13 1 11 1-51 1 22 1 23 1 38 1-32 1-38 1 56 1-65 0 30 1 14 1-42 1 63 1-49 1-5 1-26 1 72 1-11 1 16 1-51 1-6 0 11 1 36 1-43 1 8 1 13 1-4 1 4 1-13 1-6 1 25 1 5 1-6 0-1 1 2 1-48 1 38 1-29 1 60 1-14 1-27 1-18 1-4 1 6 1 1 0 16 1 16 1-20 1 43 1-37 1-17 1 41 1-25 1 25 1 12 1 22 1-61 0 13 1-34 1 18 1-18 1 21 1 14 1 10 1-5 1-4 1-17 1 28 1-24 0 27 1-65 1 57 1-11 1 37 1-67 1 27 1 16 1-3 1-18 1 56 1-63 0 37 1 7 1-31 1 4 1 22 1-26 1 6 1-12 1-18 1 51 1 2 1-36 0 11 1 19 1-11 1-37 1 11 1 42 1-50 1 14 1 45 1-28 1-36 1 10 0 13 1-8 1-3 1 39 1 15 1-20 1-11 1-14 1 12 1-8 1 24 1-26 0 63 1-38 1 15 1-58 1 24 1 24 1-36 1 13 1-11 1-8 1 11 1 21 0-15 1 23 1-50 1-3 1 38 1-25 1 9 1 19 1 19 1-14 1 18 1-17 0-3 1-3 1-6 1 22 1 26 1-42 1-7 1-12 1 8 1 36 1-51 1 17 0 10 1 6 1-6 1-39 1 29 1-10 1 30 1-51 1 39 1-14 1-19 1 26 0 19 1-20 1-6 1-35 1 46 1-26 1 38 1-39 1 49 1-22 1-18 1 10 0-5 1 18 1-9 1-7 1-19 1 64 1-22 1-17 1-4 1-13 1-1 1-16 0 59 1-18 1-6 1-10 1 9 1 9 1-32 1 17 1 21 1-41 1 26 1-33 1 26 0-15 1 41 1 8 1-35 1-14 1 23 1 18 1 3 1-15 1 6 1 0 1-32 0-12 1 35 1 9 1 40 1-79 1 49 1 4 1-26 1-34 1 38 1-106 1 133 0-43 1 3 1-13 1 42 1-46 1 10 1 6 1 22 1 11 1 36 1-10 1-73 0 22 1 12 1 17 1-11 1-25 1 23 1-28 1 10 1-5 1 5 1-1 1 18 0-35 1 7 1 40 1-51 1 10 1 22 1-25 1-13 1 34 1-4 1 11 1-11 0 4 1-34 1 35 1 23 1-19 1 9 1 12 1-14 1-30 1 15 1 50 1-61 0 26 1 20 1 27 1-77 1 34 1-50 1 6 1 11 1 27 1-29 1 24 1-21 0 40 1-26 1 8 1 34 1-69 1 33 1-24 1 11 1 8 1 28 1-49 1 24 0 11 1-21 1 28 1-9 1 0 1-22 1 36 1-40 1 1 1 18 1-24 1 5 0 25 1-30 1 36 1-26 1-26 1 24 1 26 1-46 1 19 1 5 1-4 1-8 0 27 1 13 1-50 1 38 1 12 1-22 1-28 1 30 1-3 1 6 1-2 1-37 0 47 1-41 1 10 1 25 1-1 1-25 1-22 1 41 1 29 1-13 1-10 1 12 0-39 1 40 1-12 1-41 1 17 1-19 1 28 1 4 1-25 1 28 1 0 1-22 0 6 1 24 1 20 1-5 1-24 1 15 1-8 1 12 1-3 1-31 1 9 1 43 0-16 1 10 1-25 1-22 1 5 1-3 1 15 1 3 1-54 1 45 1-23 1 54 0-11 1-11 1-18 1 36 1 3 1 0 1-37 1 27 1-24 1 18 1-20 1-14 0 52 1-17 1 6 1-7 1-37 1-20 1 31 1 19 1 15 1-8 1-3 1-4 0 5 1 13 1 6 1-39 1 7 1 13 1 5 1-17 1 28 1-26 1 4 1-17 0 20 1-23 1 5 1-12 1 22 1 0 1 6 1 5 1 25 1-38 1 3 1 11 0 6 1-1 1 31 1-50 1-4 1-9 1 75 1-96 1 59 1-21 1 6 1-2 0 28 1-26 1 29 1-50 1 75 1-71 1 28 1-43 1 53 1-6 1-15 1-15 1 5 0-10 1 1 1 17 1 9 1-26 1 13 1 2 1-11 1 57 1-50 1 8 1-31 0 27 1-2 1-30 1 54 1-49 1 23 1 47 1-23 1-13 1 20 1 6 1-43 0 20 1-9 1-11 1 61 1-48 1 61 1-55 1 20 1 4 1 7 1-34 1-14 0 29 1 10 1-48 1 2 1-5 1 4 1 22 1-20 1-7 1 42 1 0 1-24 0 1 1 20 1-28 1 53 1-37 1-7 1 19 1 2 1-15 1 8 1-26 1 54 0-50 1 31 1-16 1 12 1-35 1-2 1 19 1 2 1-3 1 7 1-19 1 11 0-32 1 26 1-20 1 31 1-5 1-34 1 35 1-42 1 50 1-32 1 2 1 2 0 55 1-34 1-4 1 32 1-22 1-13 1-13 1 3 1 21 1-2 1 9 1 5 0-80 1 51 1 55 1-21 1 1 1 4 1-38 1 19 1 0 1-7 1-4 1-3 0 28 1-43 1-5 1 35 1-13 1-3 1-3 1-5 1 28 1-34 1-21 1 51 0-7 1-9 1-1 1-8 1 31 1 10 1-25 1 1 1 38 1-30 1 16 1-36 0-2 1-2 1 53 1-51 1 18 1-14 1-3 1 47 1-61 1 32 1-12 1-9 0-31 1 63 1-44 1 64 1-37 1 1 1 3 1-9 1 51 1-76 1 53 1-31 0 59 1-30 1-19 1-28 1 44 1-40 1 9 1-38 1 29 1-10 1 24 1 23 0-4 1-18 1 21 1 17 1-36 1-2 1 12 1 23 1-29 1 26 1-26 1-2 0-22 1 0 1 15 1 0 1-3 1 25 1 11 1-56 1-4 1 38 1 16 1-12 0-16 1 9 1-25 1 24 1 34 1-33 1 5 1 12 1-43 1 38 1 6 1 0 0 10 1-46 1 37 1-59 1 12 1 39 1-27 1 22 1-36 1 66 1-28 1 5 0 14 1-15 1 27 1-51 1 24 1 4 1-1 1-2 1-15 1-7 1 26 1 1 0-31 1 34 1-43 1-6 1 46 1 2 1 8 1-1 1-21 1-5 1 22 1 0 0-35 1-9 1-10 1 33 1 22 1-4 1-9 1 7 1 3 1 18 1-8 1-6 1-23 0-10 1 1 1 23 1-24 1 50 1-31 1-8 1 33 1-36 1-32 1 14 1 37 0 1 1-29 1-10 1-7 1 38 1 23 1-36 1 31 1-53 1 48 1 19 1-66 0 10 1-27 1 48 1 11 1-8 1 8 1-7 1-7 1-10 1 30 1-35 1 10 0 45 1-61 1 36 1 18 1-49 1 5 1 11 1 8 1-27 1 10 1 15 1 9 0-11 1 0 1 3 1-1 1 27 1-44 1 7 1 17 1-17 1 45 1-35 1 23 0-25 1-20 1 4 1 9 1 23 1-16 1-9 1 13 1 2 1 17 1-31 1-11 0 6 1-4 1-19 1 12 1 28 1 7 1-14 1 1 1 14 1-29 1-16 1 24 0 16 1 13 1-38 1 13 1-44 1 52 1-13 1-2 1 0 1-5 1 21 1-45 0 46 1 3 1-22 1 8 1 25 1 26 1-36 1 34 1-26 1-3 1-13 1 22 0-24 1 30 1-23 1 1 1-27 1 28 1-22 1 24 1 10 1-10 1-28 1 14 0 6 1-4 1 1 1 24 1-21 1-15 1 13 1 7 1 14 1-31 1 5 1 54 0-70 1 16 1-20 1 13 1 29 1-39 1 13 1 16 1-12 1-9 1-3 1 32 0-4 1-22 1 0 1 28 1-27 1-17 1 40 1-21 1-4 1-7 1-4 1 15 0 13 1-11 1 3 1-11 1 16 1 4 1-23 1-1 1-20 1 57 1-27 1 19 0-41 1 20 1-15 1 22 1 21 1 25 1-55 1-2 1 16 1-41 1 50 1-8 0-14 1-3 1 12 1 10 1 0 1 2 1-5 1-32 1 24 1-41 1 8 1 19 0 9 1-11 1 20 1 10 1-8 1 48 1-58 1 27 1-22 1-15 1 20 1 23 0-27 1 60 1-61 1 0 1 11 1-13 1 2 1-29 1 21 1 28 1-38 1 19 0 4 1-6 1 4 1-45 1 73 1-69 1 32 1-15 1 18 1 15 1-1 1-36 0 19 1-3 1 8 1 17 1-6 1-20 1 27 1 21 1-31 1 22 1-14 1-4 0-19 1 7 1 5 1 33 1-64 1 10 1 17 1 5 1 11 1-18 1-25 1 63 1-50 0 15 1-45 1 27 1-7 1 54 1-13 1-18 1-13 1-10 1-1 1 9 1-4 0 39 1 18 1-20 1-3 1 3 1-24 1 21 1-27 1-14 1 42 1 6 1-61 0 16 1 47 1-61 1 19 1-8 1 43 1-48 1 78 1-43 1 2 1-36 1-3 0 21 1-34 1 29 1 1 1 26 1 8 1-38 1 1 1 44 1-5 1-26 1 20 0 19 1 1 1-40 1-3 1 7 1 39 1-9 1-46 1 33 1-29 1-6 1 52 0-60 1 12 1 30 1-21 1 13 1-26 1 35 1-21 1 28 1-59 1 41 1-13 0-15 1 6 1 36 1-5 1-30 1 3 1 24 1-6 1-25 1 34 1-43 1 32 0-1 1-26 1-17 1 51 1-42 1 42 1 29 1-23 1-23 1 34 1-34 1-2 0-25 1 18 1 14 1 46 1-18 1-32 1 10 1-1 1-4 1 3 1-7 1 11 0 6 1-31 1-10 1 40 1-26 1 42 1-39 1 52 1-38 1 34 1-27 1-8 0-4 1-10 1-3 1 24 1 21 1-80 1 54 1 20 1-23 1-9 1 19 1 10 0-11 1-19 1 5 1 15 1 10 1-13 1-15 1 4 1-1 1-3 1 34 1-39 0 11 1 24 1 4 1-31 1-20 1 26 1 28 1-32 1 4 1 0 1-13 1 44 0-30 1-24 1 33 1 1 1-21 1 1 1-7 1 0 1 38 1 3 1-31 1 16 0-5 1 7 1-34 1-4 1 58 1 7 1-60 1 16 1-35 1 57 1-15 1-18 0 42 1-42 1 28 1 17 1 17 1-45 1-7 1 2 1 6 1-11 1-26 1 7 0 28 1-32 1 20 1 28 1-26 1-5 1-9 1 47 1 4 1-37 1 2 1 15 0-7 1 3 1 11 1-20 1 27 1-37 1 1 1 41 1-20 1-20 1 9 1 37 0-18 1-16 1 0 1 8 1-26 1 2 1 14 1-14 1 23 1 11 1-29 1 6 0-15 1 20 1 17 1 41 1-31 1-15 1 7 1-6 1-15 1-38 1 51 1-23 1 34 0-24 1-9 1 13 1 6 1-40 1 43 1-45 1 59 1-23 1 27 1-29 1 23 0-17 1 34 1-23 1-12 1 31 1-39 1-18 1-2 1 56 1-26 1-32 1 10 0-25 1 79 1 8 1-48 1-13 1 6 1 11 1-68 1 62 1-2 1 13 1-15 0-13 1 13 1-3 1 32 1-55 1 14 1 27 1 22 1-69 1 50 1-26 1 43 0 19 1-69 1 4 1 15 1-4 1 31 1-46 1 11 1 26 1 6 1-37 1 0 0 5 1 22 1-68 1 40 1-9 1 17 1-4 1 5 1 24 1-31 1-5 1-4 0-17 1 70 1-27 1 10 1-1 1-23 1-25 1 65 1-45 1 1 1 14 1-29 0 53 1-15 1-7 1 2 1 12 1-39 1 33 1 14 1-12 1-37 1 30 1 9 0 2 1 11 1-18 1-29 1 5 1 16 1 0 1 17 1-1 1-3 1-28 1-3 0 11 1-3 1-19 1 35 1 18 1-35 1-3 1-8 1 31 1-8 1 1 1-33 0 45 1-17 1-14 1 22 1 15 1 35 1-63 1 28 1 2 1-5 1 20 1 4 0-94 1 52 1-10 1-16 1 36 1 29 1-29 1-12 1 5 1 29 1-21 1-8 0-7 1 23 1-66 1 50 1-7 1-2 1 33 1-13 1-34 1 27 1-23 1 57 0-86 1 43 1 24 1-29 1 28 1-5 1 14 1-52 1 39 1-52 1 33 1 35 0-36 1 2 1-6 1 19 1-31 1 66 1-66 1 44 1-33 1-9 1 12 1-9 0-6 1 21 1-25 1 32 1 29 1-30 1 6 1-5 1-22 1 1 1 10 1-11 0 52 1-28 1 9 1-9 1 6 1-6 1 19 1-60 1 47 1-46 1 80 1-61 0 26 1 20 1 9 1-43 1-19 1 38 1-14 1-27 1 13 1-28 1 16 1 6 0-16 1 51 1-28 1 6 1-12 1 46 1-27 1-20 1-2 1-11 1 15 1 39 0-7 1-39 1 41 1-15 1 1 1-48 1 44 1 2 1-21 1 8 1 13 1 31 0-49 1 16 1 27 1-20 1-17 1 19 1-3 1-22 1 4 1-14 1 13 1 25 1-28 0 5 1-4 1-13 1 18 1 44 1 27 1-79 1 41 1-19 1 18 1-29 1 17 0 13 1-5 1-2 1-7 1 5 1 14 1-61 1 16 1 23 1-5 1-4 1-7 0 16 1 0 1-43 1 33 1 21 1 33 1-23 1-36 1 47 1-11 1-29 1-20 0 10 1 40 1-35 1 22 1-4 1-11 1 12 1-15 1 11 1 0 1-21 1-20 0 33 1-24 1 28 1 15 1-40 1 44 1-3 1-24 1 14 1-42 1 29 1 15 0-35 1 31 1 17 1 4 1-9 1-37 1 48 1-8 1-68 1 33 1-3 1-19 0 47 1-5 1-11 1 4 1-3 1-3 1 26 1-32 1-5 1-12 1 46 1 9 0-13 1-27 1-4 1 8 1 39 1-41 1-19 1 11 1 24 1 21 1-35 1 24 0-18 1-21 1 65 1-18 1-29 1-16 1 25 1-24 1 42 1-7 1-6 1 17 0-47 1 40 1-3 1-19 1-33 1 18 1 42 1-5 1-12 1-26 1 6 1 20 0 21 1-13 1-4 1 28 1-39 1 50 1-81 1 18 1 17 1-2 1-21 1 41 0-53 1 17 1 18 1-6 1-36 1 30 1 34 1-51 1 26 1-11 1 16 1-35 0 41 1-31 1-7 1 29 1-36 1 54 1-38 1 13 1 15 1-10 1 33 1-29 0-15 1-3 1-4 1 19 1-19 1-2 1 12 1-3 1-1 1 1 1 33 1-62 0 19 1 14 1-27 1 4 1 15 1 16 1-5 1-3 1 26 1-52 1 69 1-6 0-13 1-6 1 18 1-14 1-18 1 11 1-27 1 3 1 29 1 5 1-38 1 37 0-10 1-4 1-41 1 49 1-4 1 26 1-39 1 14 1 15 1-47 1 21 1 12 0 7 1-35 1 20 1 30 1-54 1-3 1 2 1 16 1-30 1 27 1 5 1-24 0-22 1 41 1-19 1 57 1-33 1 8 1-7 1 45 1-22 1-18 1 25 1-23 0-19 1 34 1-64 1 49 1-16 1 23 1-25 1 40 1-37 1 26 1-31 1 31 0 15 1-65 1 67 1 2 1-27 1-21 1 54 1-24 1-8 1 41 1-22 1-57 1 11 0 4 1 9 1 2 1-13 1 6 1 32 1-22 1 46 1-35 1-4 1-9 1 18 0-45 1 34 1 9 1 0 1-33 1 21 1 34 1-24 1-5 1 20 1-34 1-5 0 19 1 1 1-18 1-42 1 67 1-29 1 50 1-23 1-33 1 6 1 11 1-14 0 10 1 7 1 36 1-63 1 41 1-30 1 18 1-36 1 30 1-10 1 18 1 39 0-53 1-8 1 25 1 5 1-10 1-14 1 20 1-17 1-29 1 65 1-31 1 0 0-17 1 16 1-8 1 4 1 22 1-22 1 22 1-1 1 8 1-28 1 3 1-6 0 20 1-15 1-1 1-17 1-3 1 35 1-1 1 0 1 17 1-32 1-3 1 36 0-48 1 6 1 11 1 20 1-14 1-23 1-5 1 11 1 47 1-4 1 10 1-9 0-23 1-39 1 29 1 7 1 11 1-42 1 40 1-21 1 25 1-27 1-17 1 67 0-38 1 3 1 23 1 29 1-66 1-16 1 18 1 1 1-32 1 39 1-29 1 45 0-14 1 14 1-46 1 34 1-11 1-17 1 16 1 4 1 2 1-31 1 56 1-18 0-24 1 32 1-34 1 43 1-12 1-35 1 58 1-13 1-19 1-9 1 22 1 26 0-26 1-25 1 28 1-23 1-25 1 43 1-27 1 1 1 12 1-7 1 3 1-7 0 20 1-8 1 27 1-54 1 29 1 12 1-2 1-3 1 20 1-72 1 56 1-55 0 44 1-8 1 3 1-18 1 24 1-4 1-4 1-7 1-10 1 38 1-5 1-65 0 90 1-17 1-30 1-8 1 18 1-12 1-12 1 28 1 2 1-15 1 25 1 15 0-14 1-71 1 43 1-11 1-20 1 22 1 21 1-23 1 33 1-46 1 28 1 14 0-23 1 28 1-54 1 19 1 19 1 7 1 12 1-23 1-24 1 34 1-4 1 36 0-64 1 31 1-19 1 83 1-67 1 25 1-30 1 6 1-3 1-24 1 54 1-37 0 1 1-19 1 9 1 27 1-16 1-7 1 6 1-1 1 23 1 0 1-12 1-3 0-7 1-2 1-16 1 19 1-17 1-31 1 68 1-29 1 18 1-14 1 33 1-13 1-30 0 21 1 9 1-39 1 35 1-36 1 1 1 16 1-4 1-7 1 37 1-18 1-31 0 49 1 12 1-40 1-3 1 8 1 19 1-34 1 8 1 9 1-33 1 50 1 14 0-32 1-14 1 25 1-18 1 15 1 25 1-25 1-16 1 9 1-19 1 24 1-29 0 38 1-41 1 11 1 29 1-18 1-19 1 47 1-12 1-29 1 16 1-41 1 69 0 11 1-75 1 16 1 42 1-4 1-31 1-5 1-18 1 81 1-51 1 2 1 18 0-49 1 46 1-24 1-11 1 45 1-34 1-1 1-13 1 28 1-8 1 9 1-15 0-5 1 6 1 3 1-16 1 39 1-22 1-20 1-10 1 32 1 6 1 31 1-35 0-12 1 9 1 10 1-14 1 16 1 0 1 22 1 2 1-4 1-65 1 8 1 12 0-8 1 18 1-19 1 76 1-89 1 20 1 7 1-21 1 20 1 40 1-44 1 4 0 2 1 2 1-15 1 34 1-31 1-14 1 29 1 16 1-39 1 58 1-56 1 26 0-6 1-34 1 44 1-14 1-15 1 17 1 1 1-8 1 23 1-41 1 29 1-31 0 29 1 20 1-18 1 23 1-44 1 15 1-35 1 10 1 12 1 9 1 10 1-51 0 81 1-72 1 8 1-1 1 18 1-4 1 11 1-5 1 53 1-50 1-11 1 9 0-17 1-18 1 31 1 7 1 27 1-35 1 70 1-46 1-22 1 18 1-86 1 76 0-22 1-6 1 1 1 42 1-30 1 16 1-27 1 13 1 8 1-5 1 9 1 0 0-1 1-12 1 19 1-11 1-6 1 11 1-44 1 50 1-3 1 0 1-38 1 12 0 19 1-2 1-11 1 18 1-25 1 32 1-38 1 13 1 18 1-12 1-3 1 6 0 8 1-72 1 74 1 8 1-21 1 4 1 1 1 30 1-25 1-23 1 21 1-30 0 29 1-6 1 2 1-21 1 45 1-34 1 9 1-56 1 32 1 15 1-4 1 4 0-17 1 20 1 13 1 18 1-42 1 15 1-18 1 0 1 25 1-42 1 31 1-15 1 51 0-51 1 34 1 5 1-26 1 30 1-24 1-18 1-28 1 4 1 41 1 14 1 7 0-8 1-16 1-42 1 47 1-7 1-38 1 53 1-50 1 30 1 3 1-12 1-2 0 11 1-20 1 3 1 1 1-2 1 13 1-3 1 27 1-5 1-66 1 56 1-2 0 18 1-30 1-14 1 2 1 4 1 20 1-23 1 10 1 40 1-42 1 19 1-34 0 37 1-24 1-39 1 48 1 4 1-18 1 22 1-5 1-24 1 7 1-33 1 96 0-44 1-49 1 64 1-22 1 7 1-21 1 21 1-21 1 3 1-8 1 11 1 2 0-3 1-50 1 28 1 38 1-20 1 43 1-50 1 31 1 8 1-8 1-34 1 23 0-14 1 18 1 13 1-50 1 40 1-53 1 52 1 5 1-44 1 46 1-29 1 27 0-36 1 9 1 4 1 28 1-5 1-27 1 3 1 10 1 12 1-19 1 39 1-41 0 12 1-17 1 22 1 28 1-37 1-12 1 0 1 2 1 42 1-7 1 17 1-34 0 10 1-23 1 1 1 13 1-13 1 51 1-34 1 45 1-10 1-33 1 19 1-17 0 16 1-27 1 10 1 5 1 19 1-14 1-19 1 63 1-26 1-11 1 34 1-19 0-3 1 2 1-13 1 12 1-21 1 8 1 43 1 5 1-21 1 16 1-34 1 26 0-16 1 24 1-7 1 32 1-51 1 23 1 16 1-10 1-6 1-2 1-8 1 47 0-43 1 24 1 3 1 5 1-20 1-4 1 22 1-25 1 3 1-7 1 55 1-16 0 0 1-14 1 0 1-16 1 47 1-18 1 3 1 22 1 4 1-15 1 2 1 3 0-18 1 31 1-2 1 29 1-72 1 44 1 13 1 20 1-58 1 41 1-21 1 17 0-20 1 18 1-26 1 54 1-45 1-3 1 32 1-6 1-23 1 1 1-4 1-4 0-14 1-2 1-8 1 15 1-36 1 0 1 11 1-20 1 11 1-2 1 0 1-10 0-7 1-4 1-13 1-31 1 19 1-19 1 14 1-13 1 29 1-48 1 1 1 53 0-91 1 50 1-8 1 9 1-16 1-31 1 16 1-18 1 69 1-22 1 41 1 6 1-2 0-12 1 46 1-35 1 3 1 0 1 7 1 22 1 2 1 17 1 18 1-31 1 31 0-47 1 73 1-18 1-21 1 9 1 4 1-17 1 6 1-16 1-5 1 15 1-31 0 37 1-54 1 22 1 33 1-25 1-41 1 28 1-3 1 6 1-48 1 16 1-8 0 1 1-11 1 18 1-36 1 31 1 0 1-41 1 13 1 8 1-2 1-7 1 14 0-12 1-34 1 54 1-21 1 46 1-22 1 25 1-45 1-20 1-19 1 28 1-7 0 16 1-6 1 25 1-19 1-3 1-15 1 41 1-6 1-5 1-25 1 66 1-45 0 47 1-49 1 20 1-5 1 9 1-23 1 6 1 13 1 2 1 3 1 11 1-6 0 34 1-5 1 0 1-12 1 0 1-1 1-15 1 38 1 16 1-25 1-30 1 43 0-11 1-8 1 44 1-55 1 30 1-31 1 57 1-53 1 0 1 44 1-11 1-36 0 20 1 12 1 13 1-20 1 4 1 1 1-20 1 12 1-2 1 6 1 32 1-39 0 14 1-8 1-35 1 65 1-38 1 29 1-5 1-20 1 28 1-21 1 0 1 3 0 26 1-54 1 29 1 1 1 34 1-22 1-27 1 39 1-63 1 17 1 29 1 18 0-2 1 3 1 29 1-16 1-27 1 7 1-30 1-17 1 50 1-29 1 43 1-13 0-37 1 7 1 56 1-33 1 5 1 24 1-1 1-43 1-12 1 16 1-18 1 30 0 28 1 18 1-40 1 4 1-14 1 21 1-50 1 62 1-25 1 11 1-32 1-7 0 60 1-39 1 1 1-14 1 17 1-5 1 1 1 41 1-30 1-26 1-4 1 57 0-31 1-6 1 19 1-12 1-1 1 19 1 3 1-8 1 3 1-25 1-5 1 28 0-26 1 26 1-26 1-19 1 46 1 10 1-26 1-4 1 15 1-3 1-15 1-3 0 14 1-12 1 11 1-17 1 7 1 21 1-41 1 15 1 31 1 24 1-68 1-1 0 6 1 26 1-5 1 13 1 2 1-12 1-30 1 55 1-39 1 14 1 0 1-10 0 7 1 5 1-12 1-41 1 65 1-45 1-22 1 30 1-25 1 6 1 31 1-27 1 22 0-4 1 6 1-17 1 9 1 17 1-30 1 25 1-4 1 14 1-13 1 20 1-35 0-10 1 16 1 22 1 5 1-34 1 49 1-4 1 1 1-24 1-7 1-5 1-11 0 9 1 14 1-29 1 25 1-2 1-12 1 0 1 7 1 18 1-24 1 17 1-47 0 14 1 4 1 37 1-15 1 7 1-54 1 40 1-29 1 13 1-18 1 21 1-1 0 10 1 1 1 11 1-22 1 17 1 8 1-33 1 55 1-46 1 18 1-22 1-44 0 63 1-14 1 12 1-44 1 61 1-45 1 35 1 6 1-50 1 3 1 53 1-11 0-46 1 9 1-37 1 67 1-39 1 73 1-43 1 7 1-1 1-17 1 0 1 17 0 5 1-21 1 23 1-7 1 0 1 12 1-26 1 50 1-62 1 11 1 18 1-11 0 0 1-14 1 28 1-19 1 3 1 13 1-10 1-2 1 27 1-41 1 24 1 8 0-31 1 30 1-42 1 9 1 34 1-20 1-15 1 11 1 27 1-15 1-19 1 23 0-25 1 11 1-35 1 31 1 36 1-21 1 28 1 3 1-33 1-10 1-25 1 36 0-1 1-25 1 23 1 1 1-37 1 24 1-5 1 21 1-40 1 32 1 6 1 37 0-65 1 37 1-20 1-25 1 15 1 12 1-14 1 9 1 1 1 7 1-58 1 34 0 2 1 51 1-19 1-52 1-4 1 28 1-29 1 30 1-17 1 17 1 15 1-49 0 23 1-11 1 49 1-38 1 56 1-54 1 7 1-1 1 10 1 17 1-41 1 33 0-23 1 29 1 6 1-13 1-2 1-30 1 48 1-39 1 60 1-35 1-21 1 8 0-16 1 25 1-6 1-6 1-1 1 23 1-41 1 31 1-26 1-3 1-16 1 31 0 11 1 14 1-20 1 16 1-24 1-18 1 63 1-46 1 27 1 22 1-23 1-45 0 38 1 3 1-31 1 39 1-31 1-16 1 29 1 19 1-15 1-18 1-3 1 35 0-31 1 46 1-43 1-6 1 38 1-56 1 39 1-14 1 24 1-37 1-30 1 48 0-17 1-30 1 9 1 30 1 8 1 4 1-25 1 33 1-18 1 5 1 26 1-32 1 42 0-69 1 42 1 5 1-15 1 26 1-41 1 60 1-13 1 5 1-63 1 1 1 34 0-36 1 28 1 13 1 20 1-6 1-39 1-10 1 10 1 14 1 20 1-34 1 25 0-16 1 7 1 6 1 17 1-34 1 28 1 26 1-17 1-44 1 40 1-62 1 56 0-10 1 11 1-35 1 4 1-24 1 36 1-1 1-17 1 6 1 11 1-20 1 39 0-29 1 19 1-7 1-16 1 46 1 13 1-84 1 74 1-40 1-20 1 40 1-34 0 38 1-20 1 15 1-53 1 14 1 41 1-12 1 34 1-44 1-10 1 9 1 40 0-33 1 2 1 7 1-18 1 12 1-15 1 39 1-28 1 15 1-36 1-1 1-8 0 7 1 23 1-17 1 21 1 17 1-20 1 33 1-43 1 25 1-26 1 0 1 33 0-30 1 11 1-16 1-13 1-2 1 15 1-3 1 2 1 9 1 10 1-27 1-6 0 10 1 6 1-39 1 73 1 4 1-71 1 41 1-41 1 71 1-6 1-29 1-14 0 19 1-4 1-31 1 54 1-49 1 20 1 4 1 8 1 60 1-32 1-49 1 38 0 16 1-16 1-12 1-24 1 24 1-24 1 16 1 24 1 4 1-33 1 34 1-3 0-9 1-53 1 72 1-42 1 27 1-32 1-15 1 48 1-15 1-10 1 10 1 10 0-16 1 7 1-9 1-19 1 10 1 21 1 25 1-27 1-31 1 6 1 1 1 42 0-32 1-2 1 28 1-13 1 28 1-50 1 32 1 7 1-39 1 23 1-36 1 2 0 44 1-2 1-18 1 6 1 27 1-51 1-8 1 20 1 1 1 22 1-31 1 20 0 23 1-4 1-21 1 4 1 3 1 15 1-21 1-33 1 28 1 46 1-46 1-2 0-39 1 57 1 13 1-18 1-27 1-9 1 47 1-5 1 5 1-45 1 43 1-67 0 4 1 92 1-71 1 13 1-4 1 10 1 6 1-13 1 34 1-3 1-13 1-1 0-10 1 5 1-9 1 14 1-26 1 34 1-4 1 16 1-17 1-3 1-19 1-19 1 38 0 7 1 40 1-43 1-6 1 9 1 11 1 37 1-40 1-7 1-5 1 10 1-19 0 19 1-32 1 31 1 6 1-49 1 41 1-11 1-10 1-14 1 49 1-2 1-19 0-43 1 46 1-43 1 34 1 9 1-40 1 37 1-6 1 3 1 23 1-10 1 13 0-47 1 10 1 29 1-50 1 20 1 7 1-14 1-3 1 30 1-1 1-8 1 9 0-3 1-3 1 6 1-17 1 14 1 13 1-3 1 11 1-29 1 1 1-51 1 43 0-13 1 44 1-18 1 18 1-21 1 8 1-8 1 12 1-24 1 19 1 23 1-10 0-43 1 30 1-60 1 46 1 5 1-17 1-1 1 24 1-51 1 26 1 42 1 19 0-29 1-23 1-10 1 26 1-4 1 8 1-12 1-17 1 40 1-9 1-23 1 51 0-49 1 13 1-25 1 67 1 13 1-43 1-44 1 21 1 41 1 8 1-51 1 17 0-13 1 19 1 5 1-48 1 58 1-40 1-3 1 3 1-32 1 48 1-16 1-23 0-2 1 25 1 6 1-13 1 57 1-57 1 33 1-45 1 21 1 5 1-6 1 11 0-15 1 31 1-19 1 53 1-58 1-2 1-7 1 41 1-41 1 41 1-23 1-7 0 1 1 1 1 14 1-43 1-1 1 14 1 38 1-43 1 9 1 31 1-64 1 53 0-46 1 47 1 6 1 4 1-12 1-25 1 7 1-24 1 11 1 4 1 34 1 1 0-28 1 50 1-33 1-12 1-20 1 45 1-31 1 18 1-20 1 1 1 2 1-6 0 11 1 16 1 15 1-32 1-2 1 16 1 1 1-13 1 26 1 28 1-53 1 15 0-30 1 8 1 13 1 9 1 13 1-37 1 32 1 27 1-46 1-11 1 54 1-55 0 1 1 5 1 2 1 27 1-26 1-7 1 22 1-51 1 65 1-26 1 3 1-43 0 42 1 0 1-8 1 14 1-42 1 55 1-33 1 18 1-11 1-13 1 7 1 16 0 14 1-40 1 9 1 15 1 8 1-22 1 31 1-32 1 27 1-16 1 34 1-53 0 41 1-42 1-18 1 70 1-22 1-35 1 49 1-25 1 19 1 2 1-8 1 6 1 1 0 5 1-31 1 26 1-20 1-9 1 18 1-15 1 4 1-6 1 61 1-74 1 40 0-25 1-4 1 16 1-16 1 31 1-13 1 16 1-35 1 37 1 0 1-44 1 16 0-38 1 33 1 24 1 6 1-28 1 21 1 12 1-22 1 0 1 1 1 6 1-23 0 5 1-48 1 70 1-3 1-26 1 35 1-27 1 34 1-30 1 21 1-29 1 13 0 21 1-45 1 20 1 17 1-9 1-41 1 36 1 22 1 1 1-36 1 11 1-30 0 4 1 31 1-12 1 32 1-26 1-4 1-15 1-8 1 32 1 17 1-23 1-3 0 31 1-57 1 34 1-17 1 19 1 13 1-7 1-15 1-22 1 26 1 20 1-10 0-10 1 1 1 19 1-9 1-9 1 37 1-32 1 12 1-42 1 3 1 24 1 15 0 3 1 18 1-39 1-12 1 4 1-26 1 30 1-2 1 0 1 26 1-14 1-35 0 52 1-24 1 9 1-4 1-25 1 85 1-31 1-48 1-6 1 23 1-22 1-2 0 45 1-37 1 7 1-7 1 18 1-13 1 43 1-25 1 39 1-38 1 7 1-31 0 17 1 0 1-5 1-2 1 34 1-37 1-2 1 20 1 5 1 3 1-41 1 16 0-2 1-7 1 3 1 31 1 30 1-17 1-24 1 24 1-19 1 20 1-24 1-16 0 21 1-16 1-11 1 19 1-18 1 44 1-35 1-16 1 19 1 15 1-32 1 38 0-9 1 6 1-30 1 0 1 11 1 21 1 1 1-41 1 49 1-20 1-17 1 15 0-12 1-19 1 68 1-48 1 16 1 31 1-56 1 34 1-28 1 30 1-65 1 40 0 6 1 8 1 3 1-17 1-10 1 29 1-32 1 18 1 14 1-14 1-15 1-20 0 36 1-2 1 22 1-14 1-8 1 34 1-61 1 42 1-64 1 65 1 22 1-8 0-24 1-7 1 7 1-22 1 21 1-42 1 45 1-31 1 14 1 10 1 0 1-13 0 17 1 1 1 12 1-39 1 35 1-32 1 36 1-38 1 24 1 39 1-9 1-51 0 4 1 2 1 3 1-25 1 33 1-16 1-3 1 28 1-45 1 18 1 21 1 25 1-34 0 30 1-43 1 7 1 9 1 37 1-33 1 20 1-10 1-46 1 31 1-2 1 24 0 8 1-68 1 41 1 35 1-61 1 52 1-24 1-3 1 14 1-28 1 52 1-17 0-7 1-15 1-40 1 74 1-27 1-32 1 70 1-54 1 5 1 20 1 18 1-36 0 1 1 5 1 6 1 23 1-17 1-31 1 11 1 5 1 18 1-11 1 12 1-15 0 15 1-33 1 27 1 4 1-45 1 40 1-26 1 6 1 20 1-37 1 11 1 15 0 19 1-33 1 10 1 33 1-32 1 9 1 2 1 16 1-28 1-8 1 1 1-12 0 37 1-23 1-8 1 29 1-15 1 12 1-18 1-7 1 38 1 12 1-44 1 6 0 4 1 1 1-8 1 7 1 52 1-3 1-49 1 3 1-41 1 47 1-42 1 8 0 53 1-30 1 9 1 16 1-15 1-21 1 12 1 4 1-23 1 30 1 13 1-31 0 26 1-34 1 21 1 9 1 17 1-27 1 44 1-69 1 15 1-5 1 21 1-20 0 36 1-17 1-14 1 16 1-6 1 4 1-13 1 21 1 9 1 5 1-10 1-32 0 34 1-23 1-31 1 11 1 5 1 16 1-9 1 19 1-11 1 29 1-14 1-6 0 45 1-28 1-65 1 70 1-12 1-22 1 24 1-9 1 21 1-34 1 19 1-17 0 27 1-42 1 14 1 15 1 10 1-24 1 24 1-35 1 17 1 24 1-45 1 4 0 12 1 51 1-62 1-5 1 22 1-10 1 0 1 22 1 2 1-20 1 27 1-14 0-54 1 30 1-27 1 11 1 4 1 12 1 37 1-27 1-6 1 12 1-34 1 15 0 30 1 40 1-67 1-3 1 7 1-6 1-8 1-20 1 69 1-25 1 44 1-55 0 39 1 26 1-25 1-33 1-12 1 14 1-17 1 23 1-14 1 26 1-35 1 38 0 4 1-46 1 33 1 11 1-54 1 4 1 38 1-8 1 20 1-6 1-39 1 2 0 17 1-17 1 2 1 35 1 1 1-38 1 34 1-7 1-33 1 20 1-9 1-19 0 25 1-9 1 13 1-5 1 3 1-4 1 27 1 7 1-31 1 8 1 1 1-21 1 68 0-59 1 12 1-43 1 30 1 32 1-46 1-5 1 52 1-26 1-26 1 36 1-3 0 15 1-42 1 20 1-11 1 28 1 0 1-49 1 58 1-24 1 6 1 18 1-33 0 0 1 5 1 14 1-19 1-12 1 39 1-40 1 34 1-44 1 57 1-48 1-5 0 11 1 13 1 3 1-36 1 59 1-13 1-7 1-1 1 25 1 6 1 3 1-48 0 3 1-9 1 46 1-16 1 3 1 9 1-6 1-7 1-17 1 7 1 6 1-27 0 18 1-24 1 62 1-39 1 20 1 14 1-30 1 2 1 15 1-14 1 32 1-9 0-14 1-21 1 27 1-13 1-2 1 19 1-59 1 6 1 61 1-49 1 29 1-13 0 11 1-27 1 19 1 17 1 0 1-43 1 30 1-13 1 5 1-17 1-10 1-1 0 59 1-15 1-3 1 7 1-37 1 1 1 17 1-37 1 42 1 11 1-31 1 40 0-16 1-15 1 19 1-32 1 33 1-36 1 46 1-8 1 16 1-48 1 36 1-30 0 15 1 5 1-25 1 42 1 8 1-32 1 26 1-51 1 22 1 24 1-59 1 74 0 10 1-67 1 27 1-2 1 20 1-46 1 69 1-54 1 16 1-7 1-18 1 33 0-38 1 66 1-20 1-59 1 54 1-5 1-56 1 65 1 1 1-27 1 22 1 9 0-57 1 23 1-6 1 18 1-13 1 1 1 25 1-41 1 3 1 19 1 0 1-38 0 19 1 25 1 21 1-16 1-33 1 27 1-19 1-26 1 42 1 4 1 21 1 42 0-58 1-8 1-18 1 6 1 8 1-2 1 19 1 17 1-32 1 36 1-23 1 9 0-7 1-32 1 26 1-7 1 14 1 7 1 4 1-58 1 22 1-11 1 33 1-8 0-26 1 0 1 18 1 12 1 11 1-11 1-21 1 27 1 7 1-10 1-8 1-12 0-12 1 13 1 7 1 22 1-46 1 4 1 48 1-31 1-20 1 21 1 7 1 33 0-33 1-3 1-27 1 4 1-25 1 53 1 8 1-32 1 34 1-24 1-1 1-8 1 22 0-11 1 41 1-65 1 1 1 0 1-2 1 20 1 5 1-1 1-11 1 40 1-16 0-4 1-7 1 7 1 0 1 18 1-7 1 1 1 17 1 10 1-36 1-34 1-15 0 45 1-27 1 26 1-12 1-14 1-6 1 26 1 3 1 5 1-13 1 25 1-53 0 89 1-5 1-28 1-72 1 68 1 38 1-60 1-2 1 0 1-9 1 7 1-9 0 26 1-17 1-4 1 16 1 4 1 1 1 10 1-19 1-11 1 34 1-13 1 4 0-38 1 22 1-8 1 27 1-11 1 14 1 6 1-42 1 28 1 20 1-43 1 8 0 2 1-17 1 5 1 32 1-12 1-20 1 32 1-25 1-1 1-14 1 25 1-14 0 30 1-35 1 11 1 31 1-13 1-2 1 16 1-33 1 6 1-20 1 54 1-9 0-1 1-14 1-5 1-15 1 21 1-19 1-3 1 25 1-39 1 40 1-7 1-32 0 29 1-6 1-10 1 16 1 21 1-18 1-24 1 39 1-23 1 31 1-10 1-10 0-20 1-6 1 35 1-5 1-10 1-5 1 24 1-6 1-12 1-47 1 27 1-4 0 39 1-33 1 10 1 54 1-84 1 93 1-48 1-34 1 38 1-10 1-14 1 11 0-6 1-10 1 11 1 30 1-28 1 27 1-14 1-12 1-4 1 10 1 10 1-26 0-11 1 16 1 6 1 21 1-2 1-37 1-4 1 31 1 14 1-48 1 14 1 8 0-5 1 28 1-34 1 11 1 5 1-13 1 4 1 32 1-12 1-25 1 9 1-13 0 20 1-27 1 23 1 3 1 11 1-30 1 36 1-28 1 17 1 1 1-4 1 8 0-3 1 6 1-34 1 8 1 36 1-12 1-9 1 13 1-43 1 36 1-33 1 20 0 33 1-31 1 23 1-2 1 10 1-35 1 19 1 13 1-31 1 10 1 0 1-9 0 14 1-10 1 4 1 14 1-17 1 4 1-9 1-2 1 15 1 12 1-30 1-8 0 20 1-1 1-40 1 28 1 24 1-22 1 3 1 22 1-10 1-26 1 37 1-2 0-12 1 3 1-8 1 5 1-21 1 11 1 24 1-22 1 11 1-15 1-5 1-14 1 8 0-13 1 15 1 1 1 27 1-3 1 15 1-20 1 8 1-34 1-19 1 53 1-36 0 29 1 46 1-34 1-37 1 12 1 14 1 13 1 0 1-13 1-18 1 56 1-46 0 17 1-1 1-32 1 12 1 0 1-2 1 12 1 2 1-14 1 11 1 10 1-11 0 14 1-34 1 28 1 10 1-42 1-6 1-7 1 39 1 11 1-52 1 48 1 18 0-15 1-20 1-33 1 23 1-21 1 18 1 23 1-9 1 10 1 0 1-15 1 5 0 7 1 7 1-4 1-13 1 10 1 3 1-39 1 50 1-34 1 27 1 3 1-17 0 24 1 9 1-3 1-4 1-24 1 39 1-24 1 0 1-32 1 37 1-11 1 10 0-24 1-9 1 34 1-48 1 53 1-31 1 12 1-34 1 64 1-54 1 47 1-39 0 16 1 7 1 41 1-33 1 1 1-1 1 1 1-29 1 5 1-17 1 34 1-18 0 4 1 5 1 19 1 2 1-48 1 22 1 25 1 2 1-26 1 46 1-55 1 19 0-38 1 68 1-28 1-11 1-3 1 20 1-31 1-14 1 11 1 25 1-37 1-27 0 57 1 42 1-41 1-14 1 26 1-15 1 2 1-25 1 0 1 29 1-6 1-13 0 0 1 16 1 0 1-30 1 19 1 22 1-6 1-16 1 8 1 10 1 7 1-68 0 22 1 27 1 7 1-10 1 14 1-6 1-17 1 24 1 6 1-22 1-22 1 62 0-42 1 49 1-25 1-8 1-14 1-20 1-1 1 12 1 31 1-21 1-2 1 22 0-13 1-10 1 7 1 10 1-24 1 6 1 49 1-44 1-13 1 63 1-48 1 46 0-31 1-14 1-14 1 15 1-16 1 23 1-3 1-17 1-17 1 18 1 16 1 3 0-31 1 22 1 12 1-3 1-15 1-12 1 6 1 3 1-17 1 14 1 24 1-34 0-12 1 25 1 19 1 6 1-19 1-17 1 12 1 6 1-7 1-13 1 35 1-20 0 4 1 4 1-14 1-1 1 13 1 21 1-27 1 24 1-43 1 2 1 36 1 39 0-14 1-46 1 4 1 3 1-14 1-8 1 50 1-14 1-17 1-5 1 14 1 4 1-45 0 35 1-19 1 16 1-2 1-11 1 69 1-40 1 26 1-41 1 29 1-14 1-10 0 13 1 4 1-47 1 56 1-8 1 0 1 3 1-31 1 23 1 17 1-38 1-5 0 25 1-9 1-21 1 27 1 11 1-6 1 1 1-14 1 14 1-3 1-13 1-16 0 13 1-23 1 27 1-15 1 7 1-26 1 30 1 24 1-21 1 21 1-26 1 18 0-9 1-24 1-5 1-7 1 31 1-9 1-6 1 12 1-12 1 15 1 10 1-32 0 39 1-33 1 35 1-12 1 34 1-43 1 29 1 16 1-15 1-61 1-2 1 59 0-25 1 34 1-12 1-8 1 2 1-47 1 27 1 25 1-17 1-15 1 17 1 4 0-8 1-26 1 48 1-41 1 43 1-59 1 51 1-5 1 14 1-5 1 17 1-58 0 0 1-2 1 29 1 23 1-2 1-8 1-4 1-23 1 13 1-18 1 27 1-16 0 24 1-2 1 6 1-53 1 41 1 25 1-49 1 12 1-15 1 25 1 8 1-31 0 17 1 0 1 32 1-20 1-22 1-17 1 23 1-15 1 34 1-44 1 5 1 35 0-18 1 26 1-6 1 36 1-50 1-18 1-3 1 21 1-5 1-12 1 10 1 13 0-11 1-13 1 21 1-4 1 30 1-22 1 18 1-36 1-22 1 54 1-21 1-12 0 7 1-41 1 39 1 20 1 15 1-14 1-2 1-17 1 19 1-14 1-31 1 35 0-25 1 14 1 5 1-1 1 23 1-39 1 15 1 4 1 17 1 5 1-31 1 24 0-30 1 14 1 12 1-8 1-11 1 31 1-23 1 4 1-36 1 6 1-22 1 43 0-26 1 43 1 4 1-35 1-26 1 28 1-22 1 40 1-11 1 3 1 63 1-76 0-4 1 27 1 7 1 10 1-4 1 3 1-25 1 9 1 14 1-28 1-1 1-16 0 44 1-26 1 3 1-5 1-2 1-13 1 22 1 10 1-14 1-8 1 12 1 6 0 5 1 6 1-2 1-35 1 27 1 22 1-28 1 9 1-28 1-10 1 20 1 41 0-41 1 10 1-6 1-6 1-2 1 23 1 17 1-27 1 6 1-11 1-16 1 49 1-37 0 46 1-23 1 17 1-6 1-23 1-24 1-21 1 24 1-15 1-14 1 59 1-13 0-37 1 82 1-18 1-19 1 35 1-52 1 10 1-7 1 16 1-24 1 50 1-49 0 15 1 19 1-22 1-20 1 9 1 1 1 32 1-20 1 20 1-31 1 0 1-3 0 30 1-17 1 8 1-8 1 8 1 6 1-21 1-27 1 11 1 9 1-12 1 4 0 32 1 14 1-19 1 15 1-21 1 4 1-2 1-24 1 47 1-11 1-28 1 47 0-29 1-34 1 32 1-3 1 2 1 9 1 2 1 1 1-16 1 8 1-14 1 23 0 5 1-19 1-21 1-12 1 36 1-20 1 22 1-40 1 65 1-17 1-48 1 68 0-44 1 32 1-9 1-9 1-35 1 28 1-1 1 5 1 23 1-62 1 39 1 22 0-30 1 23 1-14 1-7 1-6 1-6 1 33 1-20 1 62 1-53 1 21 1-31 0-29 1 41 1-10 1 21 1-29 1-9 1 43 1 3 1-9 1-29 1 4 1 4 0 6 1 23 1 2 1-19 1-37 1 9 1 30 1-7 1 20 1-16 1 0 1 41 0-53 1-3 1 33 1-19 1-17 1 14 1 26 1-53 1 84 1-55 1-9 1 32 0-29 1 39 1-19 1-48 1 66 1 17 1-51 1-15 1 3 1-5 1 18 1-22 0 20 1-5 1 2 1-4 1 35 1-10 1-10 1 4 1 11 1-8 1 1 1-43 0 50 1-26 1 10 1-10 1 42 1-43 1 17 1-5 1-30 1 17 1 19 1-17 0 20 1-59 1 44 1 11 1-21 1 8 1-8 1 13 1-10 1 24 1 1 1 2 0-15 1 24 1-36 1-4 1 3 1 9 1 4 1-16 1 24 1 0 1-1 1-25 0-7 1 39 1-61 1 47 1 2 1 0 1-8 1-9 1 39 1-70 1 20 1 17 0 24 1-24 1-11 1 40 1-24 1 4 1-36 1 35 1-21 1 20 1 11 1 19 0-35 1 37 1-52 1 13 1 18 1 7 1-9 1-26 1 38 1-14 1-47 1 38 1 12 0-7 1 2 1 23 1 0 1-7 1-31 1-9 1 10 1 32 1-13 1 10 1-33 0-9 1 38 1-30 1-30 1 44 1-6 1-8 1 1 1 11 1 11 1-23 1 36 0-10 1 18 1-48 1 38 1-38 1 15 1-24 1 29 1 20 1-28 1 30 1-33 0 13 1-11 1 36 1-17 1 10 1-50 1 7 1 24 1-17 1 8 1 2 1 12 0 4 1-23 1 2 1 20 1-14 1 2 1 9 1-2 1-11 1 9 1-4 1 11 0-12 1-7 1 31 1-7 1-22 1-35 1 10 1 16 1-5 1 56 1-37 1-21 0 1 1 14 1 14 1-16 1-27 1 1 1 61 1-68 1 53 1 8 1-65 1 52 0-28 1 40 1-23 1-17 1 16 1 28 1-22 1 31 1-57 1 20 1 24 1-17 0-17 1 24 1-41 1 41 1-9 1-20 1 35 1-9 1 2 1-32 1 35 1 2 0-2 1 2 1 21 1-51 1 22 1 8 1-26 1 3 1 24 1-40 1 0 1 4 0 6 1-3 1 4 1 18 1 17 1-23 1-7 1 21 1-31 1 15 1-2 1 23 0-27 1 20 1 4 1 4 1 11 1-24 1 9 1 8 1-13 1-5 1 12 1-36 0 32 1-18 1 60 1-83 1 33 1-55 1 93 1-57 1-1 1 29 1 0 1-18 0 13 1-22 1 10 1 17 1-63 1 51 1 0 1 19 1-29 1 0 1 3 1 17 0 6 1-24 1 12 1-1 1-1 1 13 1-51 1 46 1-42 1-4 1 43 1 33 0-37 1-1 1-9 1 25 1-45 1 21 1 2 1 29 1-14 1 9 1-9 1-14 0 2 1 8 1 0 1 3 1 12 1-41 1 0 1-6 1-1 1 1 1 44 1-31 0-4 1 42 1-43 1 43 1-11 1 20 1-52 1 49 1-37 1-8 1 22 1-25 0 20 1-7 1-9 1 34 1-26 1 2 1-9 1 0 1 12 1 16 1-17 1 0 0-43 1 55 1-83 1 36 1 63 1 2 1-55 1 11 1-38 1 33 1 29 1-28 0-4 1-6 1 69 1-14 1-8 1 7 1-62" fill="none" stroke="#108443" stroke-width="13" stroke-linejoin="round"/>
<line x1="855.8" y1="1028.5" x2="855.8" y2="1037.0" stroke="#000" stroke-width="1.6"/>
<text x="853.2" y="1069.8" font-size="34" text-anchor="middle" fill="#000" stroke="#000">3100</text>
<line x1="947.4" y1="1028.5" x2="947.4" y2="1037.0" stroke="#000" stroke-width="1.6"/>
<text x="944.9" y="1069.8" font-size="34" text-anchor="middle" fill="#000" stroke="#000">3200</text>
<line x1="1039.1" y1="1028.5" x2="1039.1" y2="1037.0" stroke="#000" stroke-width="1.6"/>
<text x="1036.6" y="1069.8" font-size="34" text-anchor="middle" fill="#000" stroke="#000">3300</text>
<line x1="1130.8" y1="1028.5" x2="1130.8" y2="1037.0" stroke="#000" stroke-width="1.6"/>
<text x="1128.3" y="1069.8" font-size="34" text-anchor="middle" fill="#000" stroke="#000">3400</text>
<line x1="1222.5" y1="1028.5" x2="1222.5" y2="1037.0" stroke="#000" stroke-width="1.6"/>
<text x="1220.0" y="1069.8" font-size="34" text-anchor="middle" fill="#000" stroke="#000">3500</text>
<line x1="1314.2" y1="1028.5" x2="1314.2" y2="1037.0" stroke="#000" stroke-width="1.6"/>
<text x="1311.8" y="1069.8" font-size="34" text-anchor="middle" fill="#000" stroke="#000">3600</text>
<line x1="809.9" y1="1028.5" x2="809.9" y2="1033.5" stroke="#000" stroke-width="1.6"/>
<line x1="901.6" y1="1028.5" x2="901.6" y2="1033.5" stroke="#000" stroke-width="1.6"/>
<line x1="993.3" y1="1028.5" x2="993.3" y2="1033.5" stroke="#000" stroke-width="1.6"/>
<line x1="1085.0" y1="1028.5" x2="1085.0" y2="1033.5" stroke="#000" stroke-width="1.6"/>
<line x1="1176.7" y1="1028.5" x2="1176.7" y2="1033.5" stroke="#000" stroke-width="1.6"/>
<line x1="1268.4" y1="1028.5" x2="1268.4" y2="1033.5" stroke="#000" stroke-width="1.6"/>
<line x1="1360.1" y1="1028.5" x2="1360.1" y2="1033.5" stroke="#000" stroke-width="1.6"/>
<line x1="801.4" y1="623.4" x2="809.9" y2="623.4" stroke="#000" stroke-width="1.6"/>
<text x="795.9" y="630.6" font-size="34" text-anchor="end" fill="#000" stroke="#000">0.1</text>
<line x1="801.4" y1="690.9" x2="809.9" y2="690.9" stroke="#000" stroke-width="1.6"/>
<text x="795.9" y="698.1" font-size="34" text-anchor="end" fill="#000" stroke="#000">0.0</text>
<line x1="801.4" y1="758.4" x2="809.9" y2="758.4" stroke="#000" stroke-width="1.6"/>
<text x="797.4" y="765.6" font-size="34" text-anchor="end" fill="#000" stroke="#000">-0.1</text>
<line x1="801.4" y1="826.0" x2="809.9" y2="826.0" stroke="#000" stroke-width="1.6"/>
<text x="797.4" y="833.2" font-size="34" text-anchor="end" fill="#000" stroke="#000">-0.2</text>
<line x1="801.4" y1="893.5" x2="809.9" y2="893.5" stroke="#000" stroke-width="1.6"/>
<text x="797.4" y="900.7" font-size="34" text-anchor="end" fill="#000" stroke="#000">-0.3</text>
<line x1="801.4" y1="961.0" x2="809.9" y2="961.0" stroke="#000" stroke-width="1.6"/>
<text x="797.4" y="968.2" font-size="34" text-anchor="end" fill="#000" stroke="#000">-0.4</text>
<line x1="801.4" y1="1028.5" x2="809.9" y2="1028.5" stroke="#000" stroke-width="1.6"/>
<text x="797.4" y="1035.7" font-size="34" text-anchor="end" fill="#000" stroke="#000">-0.5</text>
<line x1="804.9" y1="657.2" x2="809.9" y2="657.2" stroke="#000" stroke-width="1.6"/>
<line x1="804.9" y1="724.7" x2="809.9" y2="724.7" stroke="#000" stroke-width="1.6"/>
<line x1="804.9" y1="792.2" x2="809.9" y2="792.2" stroke="#000" stroke-width="1.6"/>
<line x1="804.9" y1="859.7" x2="809.9" y2="859.7" stroke="#000" stroke-width="1.6"/>
<line x1="804.9" y1="927.2" x2="809.9" y2="927.2" stroke="#000" stroke-width="1.6"/>
<line x1="804.9" y1="994.7" x2="809.9" y2="994.7" stroke="#000" stroke-width="1.6"/>
<rect x="809.9" y="623.4" width="550.2" height="405.1" fill="none" stroke="#000" stroke-width="1.6"/>
<text x="697.5" y="603.0" font-size="48" text-anchor="start" fill="#000" stroke="#000">e</text>
<text x="822.0" y="660.3" font-size="34.3" text-anchor="start" fill="#231F20" stroke="#231F20">HC1000-400-2h</text>
<text x="1340.6" y="660.0" font-size="31.5" text-anchor="end" fill="#000" stroke="#000">10 K</text>
<text x="1258.2" y="708.0" font-size="31.1" text-anchor="start" fill="#8E8E8E" stroke="#8E8E8E">Raw</text>
<text x="1271.2" y="803.0" font-size="31.1" text-anchor="start" fill="#000" stroke="#000">Fit</text>
<text x="1247.2" y="868.0" font-size="31.1" text-anchor="start" fill="#F5821F" stroke="#F5821F">Broad</text>
<text x="1240.2" y="928.0" font-size="31.1" text-anchor="start" fill="#3A55A5" stroke="#3A55A5">Narrow</text>
<text x="1230.2" y="994.0" font-size="31.1" text-anchor="start" fill="#108443" stroke="#108443">Residual</text>
<text transform="translate(732.0 834.0) rotate(-90)" font-size="38" text-anchor="middle" fill="#000" stroke="#000">Intensity (arb. units)</text>
<text x="1117.0" y="1113.0" font-size="38" text-anchor="middle" fill="#000" stroke="#000">Magnetic Field (G)</text></g>
<g id="panel-f"><path d="M1504.9 744.8L1506.7 744.8L1508.5 744.8L1510.4 744.8L1512.2 744.8L1514.0 744.8L1515.9 744.8L1517.7 744.8L1519.5 744.8L1521.4 744.8L1523.2 744.8L1525.0 744.8L1526.9 744.8L1528.7 744.8L1530.5 744.8L1532.4 744.8L1534.2 744.8L1536.0 744.8L1537.9 744.8L1539.7 744.8L1541.5 744.8L1543.4 744.8L1545.2 744.8L1547.0 744.8L1548.9 744.8L1550.7 744.8L1552.5 744.7L1554.4 744.7L1556.2 744.7L1558.0 744.7L1559.9 744.7L1561.7 744.7L1563.5 744.7L1565.4 744.7L1567.2 744.7L1569.0 744.7L1570.9 744.7L1572.7 744.7L1574.5 744.7L1576.4 744.7L1578.2 744.7L1580.0 744.7L1581.9 744.7L1583.7 744.7L1585.5 744.7L1587.4 744.7L1589.2 744.7L1591.0 744.7L1592.9 744.7L1594.7 744.7L1596.5 744.7L1598.4 744.7L1600.2 744.7L1602.0 744.7L1603.9 744.7L1605.7 744.7L1607.5 744.7L1609.4 744.6L1611.2 744.6L1613.0 744.6L1614.9 744.6L1616.7 744.6L1618.5 744.6L1620.4 744.6L1622.2 744.6L1624.0 744.6L1625.9 744.6L1627.7 744.6L1629.5 744.6L1631.4 744.6L1633.2 744.6L1635.0 744.5L1636.9 744.5L1638.7 744.5L1640.5 744.5L1642.4 744.5L1644.2 744.5L1646.0 744.5L1647.9 744.5L1649.7 744.4L1651.5 744.4L1653.4 744.4L1655.2 744.4L1657.0 744.4L1658.9 744.3L1660.7 744.3L1662.5 744.3L1664.4 744.3L1666.2 744.2L1668.0 744.2L1669.9 744.2L1671.7 744.2L1673.5 744.1L1675.4 744.1L1677.2 744.0L1679.0 744.0L1680.9 743.9L1682.7 743.9L1684.5 743.8L1685.4 743.8L1686.3 743.8L1687.3 743.8L1688.2 743.7L1689.1 743.7L1690.0 743.7L1690.9 743.6L1691.8 743.6L1692.8 743.6L1693.7 743.5L1694.6 743.5L1695.5 743.4L1696.4 743.4L1697.3 743.3L1698.3 743.3L1699.2 743.2L1700.1 743.2L1701.0 743.1L1701.9 743.1L1702.8 743.0L1703.8 743.0L1704.7 742.9L1705.6 742.8L1706.5 742.7L1707.4 742.7L1708.3 742.6L1709.3 742.5L1710.2 742.4L1711.1 742.3L1712.0 742.2L1712.9 742.1L1713.8 742.0L1714.8 741.9L1715.7 741.8L1716.6 741.7L1717.5 741.6L1718.4 741.4L1719.3 741.3L1720.3 741.1L1721.2 741.0L1722.1 740.8L1723.0 740.6L1723.9 740.4L1724.8 740.2L1725.8 740.0L1726.7 739.8L1727.6 739.6L1728.5 739.3L1729.4 739.1L1730.3 738.8L1731.3 738.5L1732.2 738.2L1733.1 737.9L1734.0 737.5L1734.9 737.1L1735.8 736.7L1736.8 736.3L1737.7 735.9L1738.6 735.4L1739.5 734.9L1740.0 734.6L1740.4 734.4L1740.9 734.1L1741.3 733.8L1741.8 733.5L1742.3 733.2L1742.7 732.9L1743.2 732.5L1743.6 732.2L1744.1 731.8L1744.5 731.5L1745.0 731.1L1745.5 730.7L1745.9 730.3L1746.4 729.9L1746.8 729.5L1747.3 729.1L1747.8 728.6L1748.2 728.2L1748.7 727.7L1749.1 727.2L1749.6 726.7L1750.0 726.2L1750.5 725.7L1751.0 725.1L1751.4 724.5L1751.9 724.0L1752.3 723.4L1752.8 722.7L1753.3 722.1L1753.7 721.5L1754.2 720.8L1754.6 720.1L1755.1 719.4L1755.5 718.7L1756.0 717.9L1756.5 717.1L1756.9 716.4L1757.4 715.5L1757.8 714.7L1758.3 713.8L1758.8 712.9L1759.2 712.0L1759.7 711.1L1760.1 710.1L1760.6 709.1L1761.0 708.0L1761.5 706.9L1762.0 705.7L1762.4 704.5L1762.9 703.2L1763.3 701.8L1763.6 701.1L1763.8 700.3L1764.0 699.5L1764.3 698.7L1764.5 697.9L1764.7 697.0L1764.9 696.1L1765.2 695.2L1765.4 694.2L1765.6 693.2L1765.9 692.1L1766.1 690.9L1766.3 689.8L1766.5 688.5L1766.8 687.2L1767.0 685.9L1767.2 684.5L1767.5 683.0L1767.7 681.4L1767.9 679.8L1768.1 678.1L1768.4 676.4L1768.6 674.6L1768.8 672.7L1769.1 670.8L1769.3 668.8L1769.5 666.8L1769.8 664.8L1770.0 662.9L1770.2 660.9L1770.4 659.0L1770.7 657.3L1770.9 655.7L1771.1 654.3L1771.4 653.2L1771.6 652.5L1771.8 652.2L1772.0 652.4L1772.3 653.2L1772.5 654.8L1772.7 657.1L1773.0 660.3L1773.2 664.4L1773.4 669.5L1773.6 675.6L1773.9 682.7L1774.1 690.7L1774.3 699.7L1774.6 709.4L1774.8 719.7L1775.0 730.4L1775.2 741.4L1775.5 752.3L1775.7 763.0L1775.9 773.4L1776.2 783.1L1776.4 792.0L1776.6 800.1L1776.9 807.2L1777.1 813.3L1777.3 818.4L1777.5 822.5L1777.8 825.7L1778.0 828.1L1778.2 829.6L1778.5 830.4L1778.7 830.7L1778.9 830.4L1779.1 829.7L1779.4 828.6L1779.6 827.2L1779.8 825.6L1780.1 823.9L1780.3 822.0L1780.5 820.1L1780.7 818.1L1781.0 816.2L1781.2 814.2L1781.4 812.2L1781.7 810.3L1781.9 808.5L1782.1 806.7L1782.4 805.0L1782.6 803.3L1782.8 801.7L1783.0 800.2L1783.3 798.7L1783.5 797.3L1783.7 796.0L1784.0 794.7L1784.2 793.5L1784.4 792.3L1784.6 791.2L1784.9 790.2L1785.1 789.2L1785.3 788.2L1785.6 787.3L1785.8 786.4L1786.0 785.5L1786.2 784.7L1786.5 783.9L1786.7 783.2L1786.9 782.5L1787.2 781.8L1787.4 781.1L1787.6 780.4L1787.9 779.8L1788.1 779.2L1788.3 778.6L1788.5 778.0L1789.0 776.9L1789.5 775.8L1789.9 774.8L1790.4 773.8L1790.8 772.9L1791.3 772.0L1791.7 771.2L1792.2 770.3L1792.7 769.5L1793.1 768.8L1793.6 768.0L1794.0 767.3L1794.5 766.6L1795.0 765.9L1795.4 765.3L1795.9 764.6L1796.3 764.0L1796.8 763.4L1797.2 762.9L1797.7 762.3L1798.2 761.8L1798.6 761.2L1799.1 760.7L1799.5 760.2L1800.0 759.8L1800.5 759.3L1800.9 758.9L1801.4 758.4L1801.8 758.0L1802.3 757.6L1802.7 757.2L1803.2 756.9L1803.7 756.5L1804.1 756.2L1804.6 755.8L1805.0 755.5L1805.5 755.2L1806.0 754.9L1806.4 754.6L1806.9 754.3L1807.3 754.0L1807.8 753.8L1808.2 753.5L1808.7 753.3L1809.2 753.0L1809.6 752.8L1810.1 752.6L1810.5 752.3L1811.0 752.1L1811.5 751.9L1811.9 751.7L1812.4 751.5L1813.3 751.2L1814.2 750.8L1815.1 750.5L1816.0 750.2L1817.0 750.0L1817.9 749.7L1818.8 749.5L1819.7 749.2L1820.6 749.0L1821.5 748.8L1822.4 748.6L1823.4 748.4L1824.3 748.3L1825.2 748.1L1826.1 748.0L1827.0 747.8L1827.9 747.7L1828.9 747.6L1829.8 747.4L1830.7 747.3L1831.6 747.2L1832.5 747.1L1833.4 747.0L1834.4 746.9L1835.3 746.9L1836.2 746.8L1837.1 746.7L1838.0 746.6L1838.9 746.6L1839.9 746.5L1840.8 746.4L1841.7 746.4L1842.6 746.3L1843.5 746.3L1844.4 746.2L1845.4 746.2L1846.3 746.1L1847.2 746.1L1848.1 746.0L1849.0 746.0L1849.9 745.9L1850.9 745.9L1851.8 745.9L1852.7 745.8L1853.6 745.8L1854.5 745.8L1855.4 745.7L1856.4 745.7L1857.3 745.7L1858.2 745.7L1859.1 745.6L1860.0 745.6L1860.9 745.6L1861.9 745.6L1862.8 745.5L1863.7 745.5L1864.6 745.5L1865.5 745.5L1866.4 745.5L1867.4 745.4L1869.2 745.4L1871.0 745.4L1872.9 745.3L1874.7 745.3L1876.5 745.3L1878.4 745.3L1880.2 745.2L1882.0 745.2L1883.9 745.2L1885.7 745.2L1887.5 745.2L1889.4 745.2L1891.2 745.1L1893.0 745.1L1894.9 745.1L1896.7 745.1L1898.5 745.1L1900.4 745.1L1902.2 745.1L1904.0 745.1L1905.9 745.0L1907.7 745.0L1909.5 745.0L1911.4 745.0L1913.2 745.0L1915.0 745.0L1916.8 745.0L1918.7 745.0L1920.5 745.0L1922.3 745.0L1924.2 745.0L1926.0 745.0L1927.8 745.0L1929.7 745.0L1931.5 745.0L1933.3 744.9L1935.2 744.9L1937.0 744.9L1938.8 744.9L1940.7 744.9L1942.5 744.9L1944.3 744.9L1946.2 744.9L1948.0 744.9L1949.8 744.9L1951.7 744.9L1953.5 744.9L1955.3 744.9L1957.2 744.9L1959.0 744.9L1960.8 744.9L1962.7 744.9L1964.5 744.9L1966.3 744.9L1968.2 744.9L1970.0 744.9L1971.8 744.9L1973.7 744.9L1975.5 744.9L1977.3 744.9L1979.2 744.9L1981.0 744.9L1982.8 744.9L1984.7 744.9L1986.5 744.9L1988.3 744.9L1990.2 744.9L1992.0 744.9L1993.8 744.9L1995.7 744.9L1997.5 744.9L1999.3 744.9L2001.2 744.9L2003.0 744.9L2004.8 744.9L2006.7 744.9L2008.5 744.9L2010.3 744.9L2012.2 744.9L2014.0 744.9L2015.8 744.9L2017.7 744.9L2019.5 744.9L2021.3 744.9L2023.2 744.9L2025.0 744.9L2026.8 744.9L2028.7 744.9L2030.5 744.9L2032.3 744.9L2034.2 744.9L2036.0 744.9L2037.8 744.8L2039.7 744.8L2041.5 744.8L2043.3 744.8L2045.2 744.8L2047.0 744.8L2048.8 744.8L2050.2 744.8" fill="none" stroke="#8E8E8E" stroke-width="2.0" stroke-linejoin="round" stroke-linecap="butt"/>
<path d="M1877.1 745.3L1877.6 742.8L1877.9 747.7L1878.4 745.3M1878.3 745.3L1878.8 743.3L1879.1 747.3L1879.6 745.3M1880.0 745.2L1880.5 743.9L1880.8 746.8L1881.3 745.2M1961.2 744.9L1961.7 742.4L1962.0 746.9L1962.5 744.9M1963.5 744.9L1964.0 743.0L1964.3 747.0L1964.8 744.9M1692.9 743.5L1693.4 741.2L1693.7 745.7L1694.2 743.5M1695.3 743.4L1695.8 742.0L1696.1 745.6L1696.6 743.4M1721.9 740.7L1722.4 738.6L1722.7 742.8L1723.2 740.7M1723.2 740.5L1723.7 738.9L1724.0 742.9L1724.5 740.5M1595.0 744.7L1595.5 742.5L1595.8 746.0L1596.3 744.7M1596.5 744.7L1597.0 742.6L1597.3 746.2L1597.8 744.7M1597.7 744.7L1598.2 742.6L1598.5 746.2L1599.0 744.7M1741.1 733.6L1741.6 731.6L1741.9 735.8L1742.4 733.6M1900.1 745.1L1900.6 743.5L1900.9 747.4L1901.4 745.1" fill="none" stroke="#8E8E8E" stroke-width="1.0" stroke-linejoin="round"/>
<path d="M1504.9 811.6L1506.7 811.6L1508.5 811.6L1510.4 811.6L1512.2 811.6L1514.0 811.6L1515.9 811.6L1517.7 811.6L1519.5 811.5L1521.4 811.5L1523.2 811.5L1525.0 811.5L1526.9 811.5L1528.7 811.5L1530.5 811.5L1532.4 811.5L1534.2 811.5L1536.0 811.5L1537.9 811.5L1539.7 811.5L1541.5 811.5L1543.4 811.5L1545.2 811.5L1547.0 811.5L1548.9 811.5L1550.7 811.5L1552.5 811.5L1554.4 811.5L1556.2 811.5L1558.0 811.5L1559.9 811.5L1561.7 811.5L1563.5 811.5L1565.4 811.5L1567.2 811.5L1569.0 811.5L1570.9 811.5L1572.7 811.5L1574.5 811.5L1576.4 811.5L1578.2 811.5L1580.0 811.5L1581.9 811.5L1583.7 811.5L1585.5 811.5L1587.4 811.5L1589.2 811.5L1591.0 811.5L1592.9 811.5L1594.7 811.5L1596.5 811.5L1598.4 811.5L1600.2 811.4L1602.0 811.4L1603.9 811.4L1605.7 811.4L1607.5 811.4L1609.4 811.4L1611.2 811.4L1613.0 811.4L1614.9 811.4L1616.7 811.4L1618.5 811.4L1620.4 811.4L1622.2 811.4L1624.0 811.4L1625.9 811.4L1627.7 811.4L1629.5 811.3L1631.4 811.3L1633.2 811.3L1635.0 811.3L1636.9 811.3L1638.7 811.3L1640.5 811.3L1642.4 811.3L1644.2 811.3L1646.0 811.2L1647.9 811.2L1649.7 811.2L1651.5 811.2L1653.4 811.2L1655.2 811.2L1657.0 811.1L1658.9 811.1L1660.7 811.1L1662.5 811.1L1664.4 811.0L1666.2 811.0L1668.0 811.0L1669.9 811.0L1671.7 810.9L1673.5 810.9L1675.4 810.9L1677.2 810.8L1679.0 810.8L1680.9 810.7L1682.7 810.7L1684.5 810.6L1685.4 810.6L1686.3 810.6L1687.3 810.5L1688.2 810.5L1689.1 810.5L1690.0 810.4L1690.9 810.4L1691.8 810.4L1692.8 810.3L1693.7 810.3L1694.6 810.2L1695.5 810.2L1696.4 810.2L1697.3 810.1L1698.3 810.1L1699.2 810.0L1700.1 810.0L1701.0 809.9L1701.9 809.8L1702.8 809.8L1703.8 809.7L1704.7 809.7L1705.6 809.6L1706.5 809.5L1707.4 809.4L1708.3 809.4L1709.3 809.3L1710.2 809.2L1711.1 809.1L1712.0 809.0L1712.9 808.9L1713.8 808.8L1714.8 808.7L1715.7 808.6L1716.6 808.5L1717.5 808.3L1718.4 808.2L1719.3 808.1L1720.3 807.9L1721.2 807.7L1722.1 807.6L1723.0 807.4L1723.9 807.2L1724.8 807.0L1725.8 806.8L1726.7 806.6L1727.6 806.4L1728.5 806.1L1729.4 805.8L1730.3 805.6L1731.3 805.3L1732.2 805.0L1733.1 804.6L1734.0 804.3L1734.9 803.9L1735.8 803.5L1736.8 803.1L1737.7 802.7L1738.6 802.2L1739.5 801.7L1740.0 801.4L1740.4 801.1L1740.9 800.9L1741.3 800.6L1741.8 800.3L1742.3 800.0L1742.7 799.6L1743.2 799.3L1743.6 799.0L1744.1 798.6L1744.5 798.3L1745.0 797.9L1745.5 797.5L1745.9 797.1L1746.4 796.7L1746.8 796.3L1747.3 795.9L1747.8 795.4L1748.2 794.9L1748.7 794.5L1749.1 794.0L1749.6 793.5L1750.0 793.0L1750.5 792.4L1751.0 791.9L1751.4 791.3L1751.9 790.7L1752.3 790.1L1752.8 789.5L1753.3 788.9L1753.7 788.2L1754.2 787.6L1754.6 786.9L1755.1 786.2L1755.5 785.4L1756.0 784.7L1756.5 783.9L1756.9 783.1L1757.4 782.3L1757.8 781.5L1758.3 780.6L1758.8 779.7L1759.2 778.8L1759.7 777.9L1760.1 776.9L1760.6 775.8L1761.0 774.8L1761.5 773.7L1762.0 772.5L1762.4 771.3L1762.9 770.0L1763.3 768.6L1763.6 767.8L1763.8 767.1L1764.0 766.3L1764.3 765.5L1764.5 764.7L1764.7 763.8L1764.9 762.9L1765.2 761.9L1765.4 761.0L1765.6 759.9L1765.9 758.8L1766.1 757.7L1766.3 756.5L1766.5 755.3L1766.8 754.0L1767.0 752.7L1767.2 751.2L1767.5 749.8L1767.7 748.2L1767.9 746.6L1768.1 744.9L1768.4 743.2L1768.6 741.4L1768.8 739.5L1769.1 737.6L1769.3 735.6L1769.5 733.6L1769.8 731.6L1770.0 729.6L1770.2 727.7L1770.4 725.8L1770.7 724.1L1770.9 722.5L1771.1 721.1L1771.4 720.0L1771.6 719.3L1771.8 719.0L1772.0 719.2L1772.3 720.0L1772.5 721.5L1772.7 723.8L1773.0 727.0L1773.2 731.1L1773.4 736.2L1773.6 742.4L1773.9 749.5L1774.1 757.5L1774.3 766.5L1774.6 776.2L1774.8 786.5L1775.0 797.2L1775.2 808.1L1775.5 819.1L1775.7 829.8L1775.9 840.1L1776.2 849.8L1776.4 858.8L1776.6 866.9L1776.9 874.0L1777.1 880.1L1777.3 885.2L1777.5 889.3L1777.8 892.5L1778.0 894.8L1778.2 896.4L1778.5 897.2L1778.7 897.4L1778.9 897.1L1779.1 896.4L1779.4 895.3L1779.6 894.0L1779.8 892.4L1780.1 890.7L1780.3 888.8L1780.5 886.9L1780.7 884.9L1781.0 882.9L1781.2 881.0L1781.4 879.0L1781.7 877.1L1781.9 875.3L1782.1 873.5L1782.4 871.7L1782.6 870.1L1782.8 868.5L1783.0 867.0L1783.3 865.5L1783.5 864.1L1783.7 862.8L1784.0 861.5L1784.2 860.3L1784.4 859.1L1784.6 858.0L1784.9 857.0L1785.1 855.9L1785.3 855.0L1785.6 854.1L1785.8 853.2L1786.0 852.3L1786.2 851.5L1786.5 850.7L1786.7 850.0L1786.9 849.2L1787.2 848.5L1787.4 847.9L1787.6 847.2L1787.9 846.6L1788.1 845.9L1788.3 845.3L1788.5 844.8L1789.0 843.6L1789.5 842.6L1789.9 841.6L1790.4 840.6L1790.8 839.7L1791.3 838.8L1791.7 837.9L1792.2 837.1L1792.7 836.3L1793.1 835.5L1793.6 834.8L1794.0 834.1L1794.5 833.4L1795.0 832.7L1795.4 832.0L1795.9 831.4L1796.3 830.8L1796.8 830.2L1797.2 829.6L1797.7 829.1L1798.2 828.5L1798.6 828.0L1799.1 827.5L1799.5 827.0L1800.0 826.5L1800.5 826.1L1800.9 825.6L1801.4 825.2L1801.8 824.8L1802.3 824.4L1802.7 824.0L1803.2 823.6L1803.7 823.3L1804.1 822.9L1804.6 822.6L1805.0 822.3L1805.5 822.0L1806.0 821.7L1806.4 821.4L1806.9 821.1L1807.3 820.8L1807.8 820.5L1808.2 820.3L1808.7 820.0L1809.2 819.8L1809.6 819.6L1810.1 819.3L1810.5 819.1L1811.0 818.9L1811.5 818.7L1811.9 818.5L1812.4 818.3L1813.3 818.0L1814.2 817.6L1815.1 817.3L1816.0 817.0L1817.0 816.7L1817.9 816.5L1818.8 816.2L1819.7 816.0L1820.6 815.8L1821.5 815.6L1822.4 815.4L1823.4 815.2L1824.3 815.0L1825.2 814.9L1826.1 814.7L1827.0 814.6L1827.9 814.5L1828.9 814.3L1829.8 814.2L1830.7 814.1L1831.6 814.0L1832.5 813.9L1833.4 813.8L1834.4 813.7L1835.3 813.6L1836.2 813.5L1837.1 813.5L1838.0 813.4L1838.9 813.3L1839.9 813.3L1840.8 813.2L1841.7 813.1L1842.6 813.1L1843.5 813.0L1844.4 813.0L1845.4 812.9L1846.3 812.9L1847.2 812.8L1848.1 812.8L1849.0 812.8L1849.9 812.7L1850.9 812.7L1851.8 812.6L1852.7 812.6L1853.6 812.6L1854.5 812.5L1855.4 812.5L1856.4 812.5L1857.3 812.5L1858.2 812.4L1859.1 812.4L1860.0 812.4L1860.9 812.4L1861.9 812.3L1862.8 812.3L1863.7 812.3L1864.6 812.3L1865.5 812.3L1866.4 812.2L1867.4 812.2L1869.2 812.2L1871.0 812.1L1872.9 812.1L1874.7 812.1L1876.5 812.1L1878.4 812.0L1880.2 812.0L1882.0 812.0L1883.9 812.0L1885.7 812.0L1887.5 811.9L1889.4 811.9L1891.2 811.9L1893.0 811.9L1894.9 811.9L1896.7 811.9L1898.5 811.9L1900.4 811.9L1902.2 811.8L1904.0 811.8L1905.9 811.8L1907.7 811.8L1909.5 811.8L1911.4 811.8L1913.2 811.8L1915.0 811.8L1916.8 811.8L1918.7 811.8L1920.5 811.8L1922.3 811.8L1924.2 811.7L1926.0 811.7L1927.8 811.7L1929.7 811.7L1931.5 811.7L1933.3 811.7L1935.2 811.7L1937.0 811.7L1938.8 811.7L1940.7 811.7L1942.5 811.7L1944.3 811.7L1946.2 811.7L1948.0 811.7L1949.8 811.7L1951.7 811.7L1953.5 811.7L1955.3 811.7L1957.2 811.7L1959.0 811.7L1960.8 811.7L1962.7 811.7L1964.5 811.7L1966.3 811.7L1968.2 811.7L1970.0 811.7L1971.8 811.7L1973.7 811.7L1975.5 811.7L1977.3 811.7L1979.2 811.7L1981.0 811.7L1982.8 811.7L1984.7 811.7L1986.5 811.7L1988.3 811.6L1990.2 811.6L1992.0 811.6L1993.8 811.6L1995.7 811.6L1997.5 811.6L1999.3 811.6L2001.2 811.6L2003.0 811.6L2004.8 811.6L2006.7 811.6L2008.5 811.6L2010.3 811.6L2012.2 811.6L2014.0 811.6L2015.8 811.6L2017.7 811.6L2019.5 811.6L2021.3 811.6L2023.2 811.6L2025.0 811.6L2026.8 811.6L2028.7 811.6L2030.5 811.6L2032.3 811.6L2034.2 811.6L2036.0 811.6L2037.8 811.6L2039.7 811.6L2041.5 811.6L2043.3 811.6L2045.2 811.6L2047.0 811.6L2048.8 811.6L2050.2 811.6" fill="none" stroke="#000000" stroke-width="1.7" stroke-linejoin="round" stroke-linecap="butt"/>
<path d="M1504.9 878.5L1506.7 878.5L1508.5 878.5L1510.4 878.5L1512.2 878.5L1514.0 878.5L1515.9 878.5L1517.7 878.5L1519.5 878.5L1521.4 878.5L1523.2 878.5L1525.0 878.5L1526.9 878.5L1528.7 878.5L1530.5 878.5L1532.4 878.5L1534.2 878.5L1536.0 878.5L1537.9 878.5L1539.7 878.5L1541.5 878.5L1543.4 878.5L1545.2 878.5L1547.0 878.5L1548.9 878.5L1550.7 878.5L1552.5 878.5L1554.4 878.5L1556.2 878.5L1558.0 878.5L1559.9 878.5L1561.7 878.5L1563.5 878.5L1565.4 878.5L1567.2 878.5L1569.0 878.5L1570.9 878.5L1572.7 878.5L1574.5 878.5L1576.4 878.5L1578.2 878.5L1580.0 878.5L1581.9 878.5L1583.7 878.5L1585.5 878.5L1587.4 878.5L1589.2 878.5L1591.0 878.5L1592.9 878.5L1594.7 878.4L1596.5 878.4L1598.4 878.4L1600.2 878.4L1602.0 878.4L1603.9 878.4L1605.7 878.4L1607.5 878.4L1609.4 878.4L1611.2 878.4L1613.0 878.4L1614.9 878.4L1616.7 878.4L1618.5 878.4L1620.4 878.4L1622.2 878.4L1624.0 878.4L1625.9 878.4L1627.7 878.3L1629.5 878.3L1631.4 878.3L1633.2 878.3L1635.0 878.3L1636.9 878.3L1638.7 878.3L1640.5 878.3L1642.4 878.3L1644.2 878.2L1646.0 878.2L1647.9 878.2L1649.7 878.2L1651.5 878.2L1653.4 878.2L1655.2 878.2L1657.0 878.1L1658.9 878.1L1660.7 878.1L1662.5 878.1L1664.4 878.0L1666.2 878.0L1668.0 878.0L1669.9 878.0L1671.7 877.9L1673.5 877.9L1675.4 877.9L1677.2 877.8L1679.0 877.8L1680.9 877.7L1682.7 877.7L1684.5 877.7L1685.4 877.6L1686.3 877.6L1687.3 877.6L1688.2 877.5L1689.1 877.5L1690.0 877.5L1690.9 877.4L1691.8 877.4L1692.8 877.4L1693.7 877.3L1694.6 877.3L1695.5 877.3L1696.4 877.2L1697.3 877.2L1698.3 877.1L1699.2 877.1L1700.1 877.0L1701.0 877.0L1701.9 876.9L1702.8 876.9L1703.8 876.8L1704.7 876.7L1705.6 876.7L1706.5 876.6L1707.4 876.5L1708.3 876.5L1709.3 876.4L1710.2 876.3L1711.1 876.2L1712.0 876.1L1712.9 876.0L1713.8 875.9L1714.8 875.8L1715.7 875.7L1716.6 875.6L1717.5 875.5L1718.4 875.4L1719.3 875.2L1720.3 875.1L1721.2 875.0L1722.1 874.8L1723.0 874.6L1723.9 874.5L1724.8 874.3L1725.8 874.1L1726.7 873.9L1727.6 873.7L1728.5 873.4L1729.4 873.2L1730.3 873.0L1731.3 872.7L1732.2 872.4L1733.1 872.1L1734.0 871.8L1734.9 871.5L1735.8 871.1L1736.8 870.7L1737.7 870.3L1738.6 869.9L1739.5 869.4L1740.0 869.2L1740.4 869.0L1740.9 868.7L1741.3 868.5L1741.8 868.2L1742.3 867.9L1742.7 867.7L1743.2 867.4L1743.6 867.1L1744.1 866.8L1744.5 866.5L1745.0 866.2L1745.5 865.8L1745.9 865.5L1746.4 865.1L1746.8 864.8L1747.3 864.4L1747.8 864.1L1748.2 863.7L1748.7 863.3L1749.1 862.9L1749.6 862.5L1750.0 862.1L1750.5 861.7L1751.0 861.2L1751.4 860.8L1751.9 860.4L1752.3 859.9L1752.8 859.5L1753.3 859.0L1753.7 858.6L1754.2 858.1L1754.6 857.6L1755.1 857.2L1755.5 856.7L1756.0 856.2L1756.5 855.8L1756.9 855.3L1757.4 854.8L1757.8 854.4L1758.3 854.0L1758.8 853.6L1759.2 853.2L1759.7 852.8L1760.1 852.4L1760.6 852.1L1761.0 851.8L1761.5 851.5L1762.0 851.3L1762.4 851.1L1762.9 851.0L1763.3 850.9L1763.6 850.9L1763.8 850.9L1764.0 850.9L1764.3 850.9L1764.5 850.9L1764.7 851.0L1764.9 851.1L1765.2 851.1L1765.4 851.2L1765.6 851.4L1765.9 851.5L1766.1 851.7L1766.3 851.9L1766.5 852.1L1766.8 852.3L1767.0 852.6L1767.2 852.8L1767.5 853.1L1767.7 853.4L1767.9 853.8L1768.1 854.1L1768.4 854.5L1768.6 854.9L1768.8 855.3L1769.1 855.8L1769.3 856.3L1769.5 856.8L1769.8 857.3L1770.0 857.8L1770.2 858.4L1770.4 859.0L1770.7 859.6L1770.9 860.2L1771.1 860.9L1771.4 861.5L1771.6 862.2L1771.8 862.9L1772.0 863.7L1772.3 864.4L1772.5 865.2L1772.7 865.9L1773.0 866.7L1773.2 867.5L1773.4 868.3L1773.6 869.2L1773.9 870.0L1774.1 870.8L1774.3 871.7L1774.6 872.5L1774.8 873.4L1775.0 874.3L1775.2 875.1L1775.5 876.0L1775.7 876.9L1775.9 877.7L1776.2 878.6L1776.4 879.4L1776.6 880.3L1776.9 881.1L1777.1 881.9L1777.3 882.8L1777.5 883.6L1777.8 884.4L1778.0 885.2L1778.2 885.9L1778.5 886.7L1778.7 887.4L1778.9 888.1L1779.1 888.9L1779.4 889.5L1779.6 890.2L1779.8 890.8L1780.1 891.5L1780.3 892.1L1780.5 892.7L1780.7 893.2L1781.0 893.8L1781.2 894.3L1781.4 894.8L1781.7 895.2L1781.9 895.7L1782.1 896.1L1782.4 896.5L1782.6 896.9L1782.8 897.2L1783.0 897.6L1783.3 897.9L1783.5 898.2L1783.7 898.4L1784.0 898.7L1784.2 898.9L1784.4 899.1L1784.6 899.3L1784.9 899.5L1785.1 899.6L1785.3 899.7L1785.6 899.8L1785.8 899.9L1786.0 900.0L1786.2 900.1L1786.5 900.1L1786.7 900.1L1786.9 900.2L1787.2 900.2L1787.4 900.1L1787.6 900.1L1787.9 900.1L1788.1 900.0L1788.3 900.0L1788.5 899.9L1789.0 899.7L1789.5 899.5L1789.9 899.3L1790.4 899.0L1790.8 898.7L1791.3 898.4L1791.7 898.1L1792.2 897.7L1792.7 897.3L1793.1 897.0L1793.6 896.6L1794.0 896.2L1794.5 895.8L1795.0 895.4L1795.4 895.0L1795.9 894.6L1796.3 894.2L1796.8 893.8L1797.2 893.5L1797.7 893.1L1798.2 892.7L1798.6 892.3L1799.1 892.0L1799.5 891.6L1800.0 891.3L1800.5 890.9L1800.9 890.6L1801.4 890.2L1801.8 889.9L1802.3 889.6L1802.7 889.3L1803.2 889.0L1803.7 888.7L1804.1 888.4L1804.6 888.2L1805.0 887.9L1805.5 887.7L1806.0 887.4L1806.4 887.2L1806.9 886.9L1807.3 886.7L1807.8 886.5L1808.2 886.3L1808.7 886.0L1809.2 885.8L1809.6 885.6L1810.1 885.5L1810.5 885.3L1811.0 885.1L1811.5 884.9L1811.9 884.7L1812.4 884.6L1813.3 884.3L1814.2 884.0L1815.1 883.7L1816.0 883.4L1817.0 883.2L1817.9 883.0L1818.8 882.8L1819.7 882.6L1820.6 882.4L1821.5 882.2L1822.4 882.0L1823.4 881.9L1824.3 881.7L1825.2 881.6L1826.1 881.4L1827.0 881.3L1827.9 881.2L1828.9 881.1L1829.8 881.0L1830.7 880.9L1831.6 880.8L1832.5 880.7L1833.4 880.6L1834.4 880.5L1835.3 880.4L1836.2 880.4L1837.1 880.3L1838.0 880.2L1838.9 880.2L1839.9 880.1L1840.8 880.0L1841.7 880.0L1842.6 879.9L1843.5 879.9L1844.4 879.8L1845.4 879.8L1846.3 879.8L1847.2 879.7L1848.1 879.7L1849.0 879.6L1849.9 879.6L1850.9 879.6L1851.8 879.5L1852.7 879.5L1853.6 879.5L1854.5 879.4L1855.4 879.4L1856.4 879.4L1857.3 879.4L1858.2 879.3L1859.1 879.3L1860.0 879.3L1860.9 879.3L1861.9 879.3L1862.8 879.2L1863.7 879.2L1864.6 879.2L1865.5 879.2L1866.4 879.2L1867.4 879.1L1869.2 879.1L1871.0 879.1L1872.9 879.1L1874.7 879.0L1876.5 879.0L1878.4 879.0L1880.2 879.0L1882.0 878.9L1883.9 878.9L1885.7 878.9L1887.5 878.9L1889.4 878.9L1891.2 878.9L1893.0 878.9L1894.9 878.8L1896.7 878.8L1898.5 878.8L1900.4 878.8L1902.2 878.8L1904.0 878.8L1905.9 878.8L1907.7 878.8L1909.5 878.8L1911.4 878.8L1913.2 878.8L1915.0 878.7L1916.8 878.7L1918.7 878.7L1920.5 878.7L1922.3 878.7L1924.2 878.7L1926.0 878.7L1927.8 878.7L1929.7 878.7L1931.5 878.7L1933.3 878.7L1935.2 878.7L1937.0 878.7L1938.8 878.7L1940.7 878.7L1942.5 878.7L1944.3 878.7L1946.2 878.7L1948.0 878.7L1949.8 878.7L1951.7 878.7L1953.5 878.7L1955.3 878.7L1957.2 878.7L1959.0 878.7L1960.8 878.6L1962.7 878.6L1964.5 878.6L1966.3 878.6L1968.2 878.6L1970.0 878.6L1971.8 878.6L1973.7 878.6L1975.5 878.6L1977.3 878.6L1979.2 878.6L1981.0 878.6L1982.8 878.6L1984.7 878.6L1986.5 878.6L1988.3 878.6L1990.2 878.6L1992.0 878.6L1993.8 878.6L1995.7 878.6L1997.5 878.6L1999.3 878.6L2001.2 878.6L2003.0 878.6L2004.8 878.6L2006.7 878.6L2008.5 878.6L2010.3 878.6L2012.2 878.6L2014.0 878.6L2015.8 878.6L2017.7 878.6L2019.5 878.6L2021.3 878.6L2023.2 878.6L2025.0 878.6L2026.8 878.6L2028.7 878.6L2030.5 878.6L2032.3 878.6L2034.2 878.6L2036.0 878.6L2037.8 878.6L2039.7 878.6L2041.5 878.6L2043.3 878.6L2045.2 878.6L2047.0 878.6L2048.8 878.6L2050.2 878.6" fill="none" stroke="#F5821F" stroke-width="1.6" stroke-linejoin="round" stroke-linecap="butt"/>
<path d="M1504.9 923.1L1506.7 923.1L1508.5 923.1L1510.4 923.1L1512.2 923.1L1514.0 923.1L1515.9 923.1L1517.7 923.1L1519.5 923.1L1521.4 923.1L1523.2 923.1L1525.0 923.1L1526.9 923.1L1528.7 923.1L1530.5 923.1L1532.4 923.1L1534.2 923.1L1536.0 923.1L1537.9 923.1L1539.7 923.1L1541.5 923.1L1543.4 923.1L1545.2 923.1L1547.0 923.1L1548.9 923.1L1550.7 923.1L1552.5 923.1L1554.4 923.1L1556.2 923.1L1558.0 923.1L1559.9 923.1L1561.7 923.1L1563.5 923.1L1565.4 923.1L1567.2 923.1L1569.0 923.1L1570.9 923.1L1572.7 923.1L1574.5 923.1L1576.4 923.1L1578.2 923.1L1580.0 923.1L1581.9 923.1L1583.7 923.1L1585.5 923.1L1587.4 923.1L1589.2 923.1L1591.0 923.1L1592.9 923.1L1594.7 923.1L1596.5 923.1L1598.4 923.1L1600.2 923.1L1602.0 923.1L1603.9 923.1L1605.7 923.1L1607.5 923.1L1609.4 923.1L1611.2 923.1L1613.0 923.1L1614.9 923.1L1616.7 923.1L1618.5 923.1L1620.4 923.1L1622.2 923.1L1624.0 923.1L1625.9 923.1L1627.7 923.1L1629.5 923.1L1631.4 923.1L1633.2 923.1L1635.0 923.1L1636.9 923.1L1638.7 923.1L1640.5 923.1L1642.4 923.1L1644.2 923.1L1646.0 923.1L1647.9 923.1L1649.7 923.1L1651.5 923.1L1653.4 923.1L1655.2 923.1L1657.0 923.1L1658.9 923.1L1660.7 923.1L1662.5 923.1L1664.4 923.1L1666.2 923.1L1668.0 923.1L1669.9 923.1L1671.7 923.1L1673.5 923.1L1675.4 923.1L1677.2 923.1L1679.0 923.1L1680.9 923.0L1682.7 923.0L1684.5 923.0L1685.4 923.0L1686.3 923.0L1687.3 923.0L1688.2 923.0L1689.1 923.0L1690.0 923.0L1690.9 923.0L1691.8 923.0L1692.8 923.0L1693.7 923.0L1694.6 923.0L1695.5 923.0L1696.4 923.0L1697.3 923.0L1698.3 923.0L1699.2 923.0L1700.1 923.0L1701.0 923.0L1701.9 923.0L1702.8 923.0L1703.8 923.0L1704.7 923.0L1705.6 923.0L1706.5 923.0L1707.4 923.0L1708.3 923.0L1709.3 923.0L1710.2 923.0L1711.1 923.0L1712.0 922.9L1712.9 922.9L1713.8 922.9L1714.8 922.9L1715.7 922.9L1716.6 922.9L1717.5 922.9L1718.4 922.9L1719.3 922.9L1720.3 922.9L1721.2 922.9L1722.1 922.8L1723.0 922.8L1723.9 922.8L1724.8 922.8L1725.8 922.8L1726.7 922.8L1727.6 922.8L1728.5 922.7L1729.4 922.7L1730.3 922.7L1731.3 922.7L1732.2 922.6L1733.1 922.6L1734.0 922.6L1734.9 922.5L1735.8 922.5L1736.8 922.5L1737.7 922.4L1738.6 922.4L1739.5 922.3L1740.0 922.3L1740.4 922.2L1740.9 922.2L1741.3 922.2L1741.8 922.1L1742.3 922.1L1742.7 922.1L1743.2 922.0L1743.6 922.0L1744.1 921.9L1744.5 921.9L1745.0 921.8L1745.5 921.8L1745.9 921.7L1746.4 921.6L1746.8 921.6L1747.3 921.5L1747.8 921.4L1748.2 921.3L1748.7 921.2L1749.1 921.1L1749.6 921.0L1750.0 920.9L1750.5 920.8L1751.0 920.7L1751.4 920.6L1751.9 920.4L1752.3 920.3L1752.8 920.1L1753.3 919.9L1753.7 919.7L1754.2 919.5L1754.6 919.3L1755.1 919.1L1755.5 918.8L1756.0 918.5L1756.5 918.2L1756.9 917.9L1757.4 917.5L1757.8 917.1L1758.3 916.7L1758.8 916.2L1759.2 915.7L1759.7 915.1L1760.1 914.5L1760.6 913.8L1761.0 913.0L1761.5 912.2L1762.0 911.3L1762.4 910.2L1762.9 909.0L1763.3 907.7L1763.6 907.0L1763.8 906.3L1764.0 905.5L1764.3 904.7L1764.5 903.8L1764.7 902.9L1764.9 901.9L1765.2 900.9L1765.4 899.8L1765.6 898.6L1765.9 897.4L1766.1 896.1L1766.3 894.7L1766.5 893.3L1766.8 891.8L1767.0 890.2L1767.2 888.5L1767.5 886.7L1767.7 884.9L1767.9 882.9L1768.1 880.9L1768.4 878.7L1768.6 876.5L1768.8 874.2L1769.1 871.8L1769.3 869.4L1769.5 866.9L1769.8 864.4L1770.0 861.9L1770.2 859.4L1770.4 856.9L1770.7 854.5L1770.9 852.3L1771.1 850.3L1771.4 848.5L1771.6 847.1L1771.8 846.1L1772.0 845.6L1772.3 845.7L1772.5 846.4L1772.7 848.0L1773.0 850.4L1773.2 853.7L1773.4 858.0L1773.6 863.3L1773.9 869.5L1774.1 876.8L1774.3 884.9L1774.6 893.7L1774.8 903.1L1775.0 913.0L1775.2 923.1L1775.5 933.2L1775.7 943.0L1775.9 952.5L1776.2 961.3L1776.4 969.4L1776.6 976.6L1776.9 982.9L1777.1 988.2L1777.3 992.5L1777.5 995.8L1777.8 998.2L1778.0 999.7L1778.2 1000.5L1778.5 1000.6L1778.7 1000.1L1778.9 999.1L1779.1 997.6L1779.4 995.9L1779.6 993.9L1779.8 991.6L1780.1 989.3L1780.3 986.8L1780.5 984.3L1780.7 981.8L1781.0 979.3L1781.2 976.8L1781.4 974.3L1781.7 972.0L1781.9 969.7L1782.1 967.4L1782.4 965.3L1782.6 963.3L1782.8 961.3L1783.0 959.5L1783.3 957.7L1783.5 956.0L1783.7 954.4L1784.0 952.9L1784.2 951.4L1784.4 950.1L1784.6 948.8L1784.9 947.6L1785.1 946.4L1785.3 945.3L1785.6 944.3L1785.8 943.3L1786.0 942.4L1786.2 941.5L1786.5 940.7L1786.7 939.9L1786.9 939.1L1787.2 938.4L1787.4 937.8L1787.6 937.1L1787.9 936.5L1788.1 936.0L1788.3 935.4L1788.5 934.9L1789.0 934.0L1789.5 933.1L1789.9 932.4L1790.4 931.7L1790.8 931.0L1791.3 930.5L1791.7 929.9L1792.2 929.5L1792.7 929.0L1793.1 928.6L1793.6 928.3L1794.0 927.9L1794.5 927.6L1795.0 927.4L1795.4 927.1L1795.9 926.9L1796.3 926.6L1796.8 926.4L1797.2 926.2L1797.7 926.1L1798.2 925.9L1798.6 925.8L1799.1 925.6L1799.5 925.5L1800.0 925.4L1800.5 925.2L1800.9 925.1L1801.4 925.0L1801.8 924.9L1802.3 924.9L1802.7 924.8L1803.2 924.7L1803.7 924.6L1804.1 924.6L1804.6 924.5L1805.0 924.4L1805.5 924.4L1806.0 924.3L1806.4 924.3L1806.9 924.2L1807.3 924.2L1807.8 924.1L1808.2 924.1L1808.7 924.0L1809.2 924.0L1809.6 924.0L1810.1 923.9L1810.5 923.9L1811.0 923.9L1811.5 923.9L1811.9 923.8L1812.4 923.8L1813.3 923.8L1814.2 923.7L1815.1 923.7L1816.0 923.6L1817.0 923.6L1817.9 923.6L1818.8 923.5L1819.7 923.5L1820.6 923.5L1821.5 923.5L1822.4 923.4L1823.4 923.4L1824.3 923.4L1825.2 923.4L1826.1 923.4L1827.0 923.4L1827.9 923.3L1828.9 923.3L1829.8 923.3L1830.7 923.3L1831.6 923.3L1832.5 923.3L1833.4 923.3L1834.4 923.3L1835.3 923.3L1836.2 923.3L1837.1 923.2L1838.0 923.2L1838.9 923.2L1839.9 923.2L1840.8 923.2L1841.7 923.2L1842.6 923.2L1843.5 923.2L1844.4 923.2L1845.4 923.2L1846.3 923.2L1847.2 923.2L1848.1 923.2L1849.0 923.2L1849.9 923.2L1850.9 923.2L1851.8 923.2L1852.7 923.2L1853.6 923.2L1854.5 923.2L1855.4 923.2L1856.4 923.2L1857.3 923.2L1858.2 923.2L1859.1 923.2L1860.0 923.2L1860.9 923.2L1861.9 923.1L1862.8 923.1L1863.7 923.1L1864.6 923.1L1865.5 923.1L1866.4 923.1L1867.4 923.1L1869.2 923.1L1871.0 923.1L1872.9 923.1L1874.7 923.1L1876.5 923.1L1878.4 923.1L1880.2 923.1L1882.0 923.1L1883.9 923.1L1885.7 923.1L1887.5 923.1L1889.4 923.1L1891.2 923.1L1893.0 923.1L1894.9 923.1L1896.7 923.1L1898.5 923.1L1900.4 923.1L1902.2 923.1L1904.0 923.1L1905.9 923.1L1907.7 923.1L1909.5 923.1L1911.4 923.1L1913.2 923.1L1915.0 923.1L1916.8 923.1L1918.7 923.1L1920.5 923.1L1922.3 923.1L1924.2 923.1L1926.0 923.1L1927.8 923.1L1929.7 923.1L1931.5 923.1L1933.3 923.1L1935.2 923.1L1937.0 923.1L1938.8 923.1L1940.7 923.1L1942.5 923.1L1944.3 923.1L1946.2 923.1L1948.0 923.1L1949.8 923.1L1951.7 923.1L1953.5 923.1L1955.3 923.1L1957.2 923.1L1959.0 923.1L1960.8 923.1L1962.7 923.1L1964.5 923.1L1966.3 923.1L1968.2 923.1L1970.0 923.1L1971.8 923.1L1973.7 923.1L1975.5 923.1L1977.3 923.1L1979.2 923.1L1981.0 923.1L1982.8 923.1L1984.7 923.1L1986.5 923.1L1988.3 923.1L1990.2 923.1L1992.0 923.1L1993.8 923.1L1995.7 923.1L1997.5 923.1L1999.3 923.1L2001.2 923.1L2003.0 923.1L2004.8 923.1L2006.7 923.1L2008.5 923.1L2010.3 923.1L2012.2 923.1L2014.0 923.1L2015.8 923.1L2017.7 923.1L2019.5 923.1L2021.3 923.1L2023.2 923.1L2025.0 923.1L2026.8 923.1L2028.7 923.1L2030.5 923.1L2032.3 923.1L2034.2 923.1L2036.0 923.1L2037.8 923.1L2039.7 923.1L2041.5 923.1L2043.3 923.1L2045.2 923.1L2047.0 923.1L2048.8 923.1L2050.2 923.1" fill="none" stroke="#3A55A5" stroke-width="1.6" stroke-linejoin="round" stroke-linecap="butt"/>
<path d="M1504.9 1010.9L1505.4 1010.9L1505.9 1010.9L1506.4 1010.9L1506.9 1010.9L1507.4 1010.9L1507.9 1010.9L1508.4 1010.9L1508.9 1010.9L1509.4 1010.9L1509.9 1010.9L1510.4 1010.9L1510.9 1010.9L1511.4 1010.9L1511.9 1010.9L1512.4 1010.9L1512.9 1010.9L1513.4 1010.9L1513.9 1010.9L1514.4 1010.9L1514.9 1010.9L1515.4 1010.9L1515.9 1010.9L1516.4 1010.9L1516.9 1010.9L1517.4 1010.9L1517.9 1010.9L1518.4 1010.9L1518.9 1010.9L1519.4 1010.9L1519.9 1010.9L1520.4 1010.9L1520.9 1010.9L1521.4 1010.9L1521.9 1010.9L1522.4 1010.9L1522.9 1010.9L1523.4 1010.9L1523.9 1010.9L1524.4 1010.9L1524.9 1010.9L1525.4 1010.9L1525.9 1010.9L1526.4 1010.9L1526.9 1010.9L1527.4 1010.9L1527.9 1010.9L1528.4 1010.9L1528.9 1010.9L1529.4 1010.9L1529.9 1010.9L1530.4 1010.9L1530.9 1010.9L1531.4 1010.9L1531.9 1010.9L1532.4 1010.9L1532.9 1010.9L1533.4 1010.9L1533.9 1010.9L1534.4 1010.9L1534.9 1010.9L1535.4 1010.9L1535.9 1010.9L1536.4 1010.9L1536.9 1010.9L1537.4 1010.9L1537.9 1010.9L1538.4 1010.9L1538.9 1010.9L1539.4 1010.9L1539.9 1010.9L1540.4 1010.9L1540.9 1010.9L1541.4 1010.9L1541.9 1010.9L1542.4 1010.9L1542.9 1010.9L1543.4 1010.9L1543.9 1010.9L1544.4 1010.9L1544.9 1010.9L1545.4 1010.9L1545.9 1010.9L1546.4 1010.9L1546.9 1010.9L1547.4 1010.9L1547.9 1010.9L1548.4 1010.9L1548.9 1010.9L1549.4 1010.9L1549.9 1010.9L1550.4 1010.9L1550.9 1010.9L1551.4 1010.9L1551.9 1010.9L1552.4 1010.9L1552.9 1010.9L1553.4 1010.9L1553.9 1010.9L1554.4 1010.9L1554.9 1010.9L1555.4 1010.9L1555.9 1010.9L1556.4 1010.9L1556.9 1010.9L1557.4 1010.9L1557.9 1010.9L1558.4 1010.9L1558.9 1010.9L1559.4 1010.9L1559.9 1010.9L1560.4 1010.9L1560.9 1010.9L1561.4 1010.9L1561.9 1010.9L1562.4 1010.9L1562.9 1010.9L1563.4 1010.9L1563.9 1010.9L1564.4 1010.9L1564.9 1010.9L1565.4 1010.9L1565.9 1010.9L1566.4 1010.9L1566.9 1010.9L1567.4 1010.9L1567.9 1010.9L1568.4 1010.9L1568.9 1010.9L1569.4 1010.9L1569.9 1010.9L1570.4 1010.9L1570.9 1010.9L1571.4 1010.9L1571.9 1010.9L1572.4 1010.9L1572.9 1010.9L1573.4 1010.9L1573.9 1010.9L1574.4 1010.9L1574.9 1010.9L1575.4 1010.9L1575.9 1010.9L1576.4 1010.9L1576.9 1010.9L1577.4 1010.9L1577.9 1010.9L1578.4 1010.9L1578.9 1010.9L1579.4 1010.9L1579.9 1010.9L1580.4 1010.9L1580.9 1010.9L1581.4 1010.9L1581.9 1010.9L1582.4 1010.9L1582.9 1010.9L1583.4 1010.9L1583.9 1010.9L1584.4 1010.9L1584.9 1010.9L1585.4 1010.9L1585.9 1010.9L1586.4 1010.9L1586.9 1010.9L1587.4 1010.9L1587.9 1010.9L1588.4 1010.9L1588.9 1010.9L1589.4 1010.9L1589.9 1010.9L1590.4 1010.9L1590.9 1010.9L1591.4 1010.9L1591.9 1010.9L1592.4 1010.9L1592.9 1010.9L1593.4 1010.9L1593.9 1010.9L1594.4 1010.9L1594.9 1010.9L1595.4 1010.9L1595.9 1010.9L1596.4 1010.9L1596.9 1010.9L1597.4 1010.9L1597.9 1010.9L1598.4 1010.9L1598.9 1010.9L1599.4 1010.9L1599.9 1010.9L1600.4 1010.9L1600.9 1010.9L1601.4 1010.9L1601.9 1010.9L1602.4 1010.9L1602.9 1010.9L1603.4 1010.9L1603.9 1010.9L1604.4 1010.9L1604.9 1010.9L1605.4 1010.9L1605.9 1010.9L1606.4 1010.9L1606.9 1010.9L1607.4 1010.9L1607.9 1010.9L1608.4 1010.9L1608.9 1010.9L1609.4 1010.9L1609.9 1010.9L1610.4 1010.9L1610.9 1010.9L1611.4 1010.9L1611.9 1010.9L1612.4 1010.9L1612.9 1010.9L1613.4 1010.9L1613.9 1010.9L1614.4 1010.9L1614.9 1010.9L1615.4 1010.9L1615.9 1010.9L1616.4 1010.9L1616.9 1010.9L1617.4 1010.9L1617.9 1010.9L1618.4 1010.9L1618.9 1010.9L1619.4 1010.9L1619.9 1010.9L1620.4 1010.9L1620.9 1010.9L1621.4 1010.9L1621.9 1010.9L1622.4 1010.9L1622.9 1010.9L1623.4 1010.9L1623.9 1010.9L1624.4 1010.9L1624.9 1010.9L1625.4 1010.8L1625.9 1010.8L1626.4 1010.8L1626.9 1010.8L1627.4 1010.8L1627.9 1010.8L1628.4 1010.8L1628.9 1010.8L1629.4 1010.8L1629.9 1010.8L1630.4 1010.8L1630.9 1010.8L1631.4 1010.8L1631.9 1010.8L1632.4 1010.8L1632.9 1010.8L1633.4 1010.8L1633.9 1010.8L1634.4 1010.8L1634.9 1010.8L1635.4 1010.8L1635.9 1010.8L1636.4 1010.8L1636.9 1010.8L1637.4 1010.8L1637.9 1010.8L1638.4 1010.8L1638.9 1010.8L1639.4 1010.8L1639.9 1010.8L1640.4 1010.8L1640.9 1010.8L1641.4 1010.8L1641.9 1010.8L1642.4 1010.8L1642.9 1010.8L1643.4 1010.8L1643.9 1010.8L1644.4 1010.8L1644.9 1010.8L1645.4 1010.8L1645.9 1010.8L1646.4 1010.8L1646.9 1010.8L1647.4 1010.8L1647.9 1010.8L1648.4 1010.8L1648.9 1010.8L1649.4 1010.8L1649.9 1010.8L1650.4 1010.8L1650.9 1010.8L1651.4 1010.8L1651.9 1010.8L1652.4 1010.8L1652.9 1010.8L1653.4 1010.8L1653.9 1010.8L1654.4 1010.8L1654.9 1010.8L1655.4 1010.8L1655.9 1010.8L1656.4 1010.8L1656.9 1010.8L1657.4 1010.8L1657.9 1010.8L1658.4 1010.8L1658.9 1010.8L1659.4 1010.8L1659.9 1010.8L1660.4 1010.8L1660.9 1010.8L1661.4 1010.8L1661.9 1010.7L1662.4 1010.7L1662.9 1010.7L1663.4 1010.7L1663.9 1010.7L1664.4 1010.7L1664.9 1010.7L1665.4 1010.7L1665.9 1010.7L1666.4 1010.7L1666.9 1010.7L1667.4 1010.7L1667.9 1010.7L1668.4 1010.7L1668.9 1010.7L1669.4 1010.7L1669.9 1010.7L1670.4 1010.7L1670.9 1010.7L1671.4 1010.7L1671.9 1010.7L1672.4 1010.7L1672.9 1010.7L1673.4 1010.7L1673.9 1010.7L1674.4 1010.7L1674.9 1010.7L1675.4 1010.7L1675.9 1010.7L1676.4 1010.7L1676.9 1010.7L1677.4 1010.7L1677.9 1010.7L1678.4 1010.7L1678.9 1010.7L1679.4 1010.7L1679.9 1010.7L1680.4 1010.7L1680.9 1010.7L1681.4 1010.7L1681.9 1010.7L1682.4 1010.7L1682.9 1010.7L1683.4 1010.7L1683.9 1010.7L1684.4 1010.7L1684.9 1010.7L1685.4 1010.7L1685.9 1010.7L1686.4 1010.7L1686.9 1010.7L1687.4 1010.7L1687.9 1010.7L1688.4 1010.7L1688.9 1010.7L1689.4 1010.6L1689.9 1010.6L1690.4 1010.6L1690.9 1010.6L1691.4 1010.6L1691.9 1010.6L1692.4 1010.6L1692.9 1010.6L1693.4 1010.6L1693.9 1010.6L1694.4 1010.6L1694.9 1010.6L1695.4 1010.6L1695.9 1010.6L1696.4 1010.6L1696.9 1010.6L1697.4 1010.6L1697.9 1010.6L1698.4 1010.6L1698.9 1010.6L1699.4 1010.6L1699.9 1010.6L1700.4 1010.6L1700.9 1010.6L1701.4 1010.6L1701.9 1010.6L1702.4 1010.6L1702.9 1010.6L1703.4 1010.6L1703.9 1010.6L1704.4 1010.6L1704.9 1010.6L1705.4 1010.6L1705.9 1010.6L1706.4 1010.6L1706.9 1010.6L1707.4 1010.6L1707.9 1010.5L1708.4 1010.5L1708.9 1010.5L1709.4 1010.5L1709.9 1010.5L1710.4 1010.5L1710.9 1010.5L1711.4 1010.5L1711.9 1010.5L1712.4 1010.5L1712.9 1010.5L1713.4 1010.5L1713.9 1010.5L1714.4 1010.5L1714.9 1010.5L1715.4 1010.5L1715.9 1010.5L1716.4 1010.5L1716.9 1010.5L1717.4 1010.4L1717.9 1010.4L1718.4 1010.4L1718.9 1010.4L1719.4 1010.4L1719.9 1010.4L1720.4 1010.4L1720.9 1010.4L1721.4 1010.4L1721.9 1010.4L1722.4 1010.4L1722.9 1010.4L1723.4 1010.4L1723.9 1010.4L1724.4 1010.3L1724.9 1010.3L1725.4 1010.3L1725.9 1010.3L1726.4 1010.3L1726.9 1010.3L1727.4 1010.3L1727.9 1010.3L1728.4 1010.3L1728.9 1010.3L1729.4 1010.3L1729.9 1010.3L1730.4 1010.3L1730.9 1010.2L1731.4 1010.2L1731.9 1010.2L1732.4 1010.2L1732.9 1010.2L1733.4 1010.2L1733.9 1010.2L1734.4 1010.2L1734.9 1010.2L1735.4 1010.2L1735.9 1010.2L1736.4 1010.2L1736.9 1010.2L1737.4 1010.2L1737.9 1010.2L1738.4 1010.2L1738.9 1010.2L1739.4 1010.2L1739.9 1010.2L1740.4 1010.2L1740.9 1010.2L1741.4 1010.2L1741.9 1010.2L1742.4 1010.2L1742.9 1010.2L1743.4 1010.2L1743.9 1010.3L1744.4 1010.3L1744.9 1010.3L1745.4 1010.3L1745.9 1010.3L1746.4 1010.4L1746.9 1010.4L1747.4 1010.4L1747.9 1010.5L1748.4 1010.5L1748.9 1010.6L1749.4 1010.6L1749.9 1010.7L1750.4 1010.8L1750.9 1010.9L1751.4 1010.9L1751.9 1011.0L1752.4 1011.1L1752.9 1011.1L1753.4 1011.2L1753.9 1011.3L1754.4 1011.4L1754.9 1011.6L1755.4 1011.7L1755.9 1011.8L1756.4 1012.0L1756.9 1012.1L1757.4 1012.2L1757.9 1012.3L1758.4 1012.4L1758.9 1012.5L1759.4 1012.6L1759.9 1012.6L1760.4 1012.6L1760.9 1012.6L1761.4 1012.5L1761.9 1012.4L1762.4 1012.3L1762.9 1012.1L1763.4 1012.0L1763.9 1011.8L1764.4 1011.6L1764.9 1011.4L1765.4 1011.2L1765.9 1011.0L1766.4 1010.8L1766.9 1010.6L1767.4 1010.3L1767.9 1009.9L1768.4 1009.6L1768.9 1009.2L1769.4 1008.9L1769.9 1008.8L1770.4 1008.9L1770.9 1009.3L1771.4 1010.0L1771.9 1010.8L1772.4 1011.8L1772.9 1013.0L1773.4 1013.8L1773.9 1013.5L1774.4 1012.5L1774.9 1011.2L1775.4 1009.8L1775.9 1008.5L1776.4 1009.0L1776.9 1010.3L1777.4 1011.5L1777.9 1012.9L1778.4 1013.8L1778.9 1013.4L1779.4 1012.2L1779.9 1011.1L1780.4 1010.5L1780.9 1010.1L1781.4 1009.8L1781.9 1009.8L1782.4 1009.9L1782.9 1010.2L1783.4 1010.6L1783.9 1010.9L1784.4 1011.2L1784.9 1011.5L1785.4 1011.7L1785.9 1011.8L1786.4 1011.8L1786.9 1011.8L1787.4 1011.7L1787.9 1011.6L1788.4 1011.5L1788.9 1011.3L1789.4 1011.2L1789.9 1011.0L1790.4 1010.9L1790.9 1010.8L1791.4 1010.6L1791.9 1010.5L1792.4 1010.4L1792.9 1010.3L1793.4 1010.2L1793.9 1010.1L1794.4 1010.0L1794.9 1009.9L1795.4 1009.8L1795.9 1009.8L1796.4 1009.8L1796.9 1009.8L1797.4 1009.8L1797.9 1009.8L1798.4 1009.8L1798.9 1009.9L1799.4 1009.9L1799.9 1009.9L1800.4 1009.9L1800.9 1010.0L1801.4 1010.0L1801.9 1010.0L1802.4 1010.0L1802.9 1010.1L1803.4 1010.1L1803.9 1010.2L1804.4 1010.2L1804.9 1010.2L1805.4 1010.3L1805.9 1010.3L1806.4 1010.3L1806.9 1010.4L1807.4 1010.4L1807.9 1010.4L1808.4 1010.5L1808.9 1010.5L1809.4 1010.6L1809.9 1010.6L1810.4 1010.6L1810.9 1010.7L1811.4 1010.7L1811.9 1010.8L1812.4 1011.0L1812.9 1011.1L1813.4 1011.2L1813.9 1011.3L1814.4 1011.4L1814.9 1011.4L1815.4 1011.5L1815.9 1011.5L1816.4 1011.5L1816.9 1011.6L1817.4 1011.6L1817.9 1011.6L1818.4 1011.6L1818.9 1011.7L1819.4 1011.7L1819.9 1011.7L1820.4 1011.7L1820.9 1011.7L1821.4 1011.7L1821.9 1011.7L1822.4 1011.8L1822.9 1011.8L1823.4 1011.8L1823.9 1011.8L1824.4 1011.8L1824.9 1011.8L1825.4 1011.8L1825.9 1011.8L1826.4 1011.8L1826.9 1011.8L1827.4 1011.8L1827.9 1011.8L1828.4 1011.8L1828.9 1011.8L1829.4 1011.8L1829.9 1011.8L1830.4 1011.8L1830.9 1011.9L1831.4 1011.9L1831.9 1011.9L1832.4 1011.9L1832.9 1011.9L1833.4 1011.9L1833.9 1011.9L1834.4 1011.9L1834.9 1011.9L1835.4 1011.9L1835.9 1011.9L1836.4 1011.9L1836.9 1011.9L1837.4 1011.9L1837.9 1011.9L1838.4 1011.9L1838.9 1011.9L1839.4 1011.9L1839.9 1011.9L1840.4 1011.9L1840.9 1011.9L1841.4 1011.9L1841.9 1011.9L1842.4 1011.9L1842.9 1011.9L1843.4 1011.9L1843.9 1011.9L1844.4 1011.9L1844.9 1011.9L1845.4 1011.9L1845.9 1011.9L1846.4 1011.9L1846.9 1011.9L1847.4 1011.9L1847.9 1011.9L1848.4 1011.9L1848.9 1011.9L1849.4 1011.9L1849.9 1011.9L1850.4 1011.9L1850.9 1011.9L1851.4 1011.9L1851.9 1011.9L1852.4 1011.9L1852.9 1011.9L1853.4 1011.9L1853.9 1011.9L1854.4 1011.9L1854.9 1011.9L1855.4 1011.9L1855.9 1011.9L1856.4 1011.8L1856.9 1011.8L1857.4 1011.8L1857.9 1011.8L1858.4 1011.8L1858.9 1011.8L1859.4 1011.8L1859.9 1011.8L1860.4 1011.8L1860.9 1011.8L1861.4 1011.8L1861.9 1011.8L1862.4 1011.8L1862.9 1011.8L1863.4 1011.8L1863.9 1011.8L1864.4 1011.8L1864.9 1011.8L1865.4 1011.8L1865.9 1011.8L1866.4 1011.8L1866.9 1011.8L1867.4 1011.8L1867.9 1011.8L1868.4 1011.8L1868.9 1011.8L1869.4 1011.8L1869.9 1011.8L1870.4 1011.8L1870.9 1011.8L1871.4 1011.8L1871.9 1011.8L1872.4 1011.8L1872.9 1011.8L1873.4 1011.8L1873.9 1011.8L1874.4 1011.8L1874.9 1011.8L1875.4 1011.8L1875.9 1011.8L1876.4 1011.8L1876.9 1011.8L1877.4 1011.8L1877.9 1011.8L1878.4 1011.8L1878.9 1011.8L1879.4 1011.8L1879.9 1011.8L1880.4 1011.8L1880.9 1011.8L1881.4 1011.8L1881.9 1011.8L1882.4 1011.8L1882.9 1011.8L1883.4 1011.8L1883.9 1011.7L1884.4 1011.7L1884.9 1011.7L1885.4 1011.7L1885.9 1011.7L1886.4 1011.7L1886.9 1011.7L1887.4 1011.7L1887.9 1011.7L1888.4 1011.7L1888.9 1011.7L1889.4 1011.7L1889.9 1011.7L1890.4 1011.7L1890.9 1011.7L1891.4 1011.7L1891.9 1011.7L1892.4 1011.7L1892.9 1011.7L1893.4 1011.7L1893.9 1011.7L1894.4 1011.7L1894.9 1011.7L1895.4 1011.7L1895.9 1011.7L1896.4 1011.7L1896.9 1011.7L1897.4 1011.7L1897.9 1011.7L1898.4 1011.7L1898.9 1011.7L1899.4 1011.7L1899.9 1011.7L1900.4 1011.7L1900.9 1011.7L1901.4 1011.7L1901.9 1011.7L1902.4 1011.7L1902.9 1011.7L1903.4 1011.7L1903.9 1011.7L1904.4 1011.7L1904.9 1011.7L1905.4 1011.7L1905.9 1011.7L1906.4 1011.7L1906.9 1011.7L1907.4 1011.7L1907.9 1011.7L1908.4 1011.7L1908.9 1011.7L1909.4 1011.7L1909.9 1011.7L1910.4 1011.7L1910.9 1011.7L1911.4 1011.7L1911.9 1011.7L1912.4 1011.7L1912.9 1011.7L1913.4 1011.7L1913.9 1011.7L1914.4 1011.7L1914.9 1011.7L1915.4 1011.7L1915.9 1011.7L1916.4 1011.7L1916.9 1011.7L1917.4 1011.6L1917.9 1011.6L1918.4 1011.6L1918.9 1011.6L1919.4 1011.6L1919.9 1011.6L1920.4 1011.6L1920.9 1011.6L1921.4 1011.6L1921.9 1011.6L1922.4 1011.6L1922.9 1011.6L1923.4 1011.6L1923.9 1011.6L1924.4 1011.6L1924.9 1011.6L1925.4 1011.6L1925.9 1011.6L1926.4 1011.6L1926.9 1011.6L1927.4 1011.6L1927.9 1011.6L1928.4 1011.6L1928.9 1011.6L1929.4 1011.6L1929.9 1011.6L1930.4 1011.6L1930.9 1011.6L1931.4 1011.6L1931.9 1011.6L1932.4 1011.6L1932.9 1011.6L1933.4 1011.6L1933.9 1011.6L1934.4 1011.6L1934.9 1011.6L1935.4 1011.6L1935.9 1011.6L1936.4 1011.6L1936.9 1011.6L1937.4 1011.6L1937.9 1011.6L1938.4 1011.6L1938.9 1011.6L1939.4 1011.6L1939.9 1011.6L1940.4 1011.6L1940.9 1011.6L1941.4 1011.6L1941.9 1011.6L1942.4 1011.6L1942.9 1011.6L1943.4 1011.6L1943.9 1011.6L1944.4 1011.6L1944.9 1011.6L1945.4 1011.6L1945.9 1011.6L1946.4 1011.6L1946.9 1011.6L1947.4 1011.6L1947.9 1011.6L1948.4 1011.5L1948.9 1011.5L1949.4 1011.5L1949.9 1011.5L1950.4 1011.5L1950.9 1011.5L1951.4 1011.5L1951.9 1011.5L1952.4 1011.5L1952.9 1011.5L1953.4 1011.5L1953.9 1011.5L1954.4 1011.5L1954.9 1011.5L1955.4 1011.5L1955.9 1011.5L1956.4 1011.5L1956.9 1011.5L1957.4 1011.5L1957.9 1011.5L1958.4 1011.5L1958.9 1011.5L1959.4 1011.5L1959.9 1011.5L1960.4 1011.5L1960.9 1011.5L1961.4 1011.5L1961.9 1011.5L1962.4 1011.5L1962.9 1011.5L1963.4 1011.5L1963.9 1011.5L1964.4 1011.5L1964.9 1011.5L1965.4 1011.5L1965.9 1011.5L1966.4 1011.5L1966.9 1011.5L1967.4 1011.5L1967.9 1011.5L1968.4 1011.5L1968.9 1011.5L1969.4 1011.5L1969.9 1011.5L1970.4 1011.5L1970.9 1011.5L1971.4 1011.5L1971.9 1011.5L1972.4 1011.5L1972.9 1011.5L1973.4 1011.5L1973.9 1011.5L1974.4 1011.5L1974.9 1011.5L1975.4 1011.5L1975.9 1011.5L1976.4 1011.5L1976.9 1011.5L1977.4 1011.5L1977.9 1011.5L1978.4 1011.4L1978.9 1011.4L1979.4 1011.4L1979.9 1011.4L1980.4 1011.4L1980.9 1011.4L1981.4 1011.4L1981.9 1011.4L1982.4 1011.4L1982.9 1011.4L1983.4 1011.4L1983.9 1011.4L1984.4 1011.4L1984.9 1011.4L1985.4 1011.4L1985.9 1011.4L1986.4 1011.4L1986.9 1011.4L1987.4 1011.4L1987.9 1011.4L1988.4 1011.4L1988.9 1011.4L1989.4 1011.4L1989.9 1011.4L1990.4 1011.4L1990.9 1011.4L1991.4 1011.4L1991.9 1011.4L1992.4 1011.4L1992.9 1011.4L1993.4 1011.4L1993.9 1011.4L1994.4 1011.4L1994.9 1011.4L1995.4 1011.4L1995.9 1011.4L1996.4 1011.4L1996.9 1011.4L1997.4 1011.4L1997.9 1011.4L1998.4 1011.4L1998.9 1011.4L1999.4 1011.4L1999.9 1011.4L2000.4 1011.4L2000.9 1011.4L2001.4 1011.4L2001.9 1011.4L2002.4 1011.4L2002.9 1011.4L2003.4 1011.4L2003.9 1011.4L2004.4 1011.4L2004.9 1011.4L2005.4 1011.4L2005.9 1011.4L2006.4 1011.4L2006.9 1011.3L2007.4 1011.3L2007.9 1011.3L2008.4 1011.3L2008.9 1011.3L2009.4 1011.3L2009.9 1011.3L2010.4 1011.3L2010.9 1011.3L2011.4 1011.3L2011.9 1011.3L2012.4 1011.3L2012.9 1011.3L2013.4 1011.3L2013.9 1011.3L2014.4 1011.3L2014.9 1011.3L2015.4 1011.3L2015.9 1011.3L2016.4 1011.3L2016.9 1011.3L2017.4 1011.3L2017.9 1011.3L2018.4 1011.3L2018.9 1011.3L2019.4 1011.3L2019.9 1011.3L2020.4 1011.3L2020.9 1011.3L2021.4 1011.3L2021.9 1011.3L2022.4 1011.3L2022.9 1011.3L2023.4 1011.3L2023.9 1011.3L2024.4 1011.3L2024.9 1011.3L2025.4 1011.3L2025.9 1011.3L2026.4 1011.3L2026.9 1011.3L2027.4 1011.3L2027.9 1011.3L2028.4 1011.3L2028.9 1011.3L2029.4 1011.3L2029.9 1011.3L2030.4 1011.3L2030.9 1011.3L2031.4 1011.3L2031.9 1011.3L2032.4 1011.3L2032.9 1011.3L2033.4 1011.3L2033.9 1011.3L2034.4 1011.3L2034.9 1011.3L2035.4 1011.3L2035.9 1011.2L2036.4 1011.2L2036.9 1011.2L2037.4 1011.2L2037.9 1011.2L2038.4 1011.2L2038.9 1011.2L2039.4 1011.2L2039.9 1011.2L2040.4 1011.2L2040.9 1011.2L2041.4 1011.2L2041.9 1011.2L2042.4 1011.2L2042.9 1011.2L2043.4 1011.2L2043.9 1011.2L2044.4 1011.2L2044.9 1011.2L2045.4 1011.2L2045.9 1011.2L2046.4 1011.2L2046.9 1011.2L2047.4 1011.2L2047.9 1011.2L2048.4 1011.2L2048.9 1011.2L2049.4 1011.2L2049.9 1011.2" fill="none" stroke="#108443" stroke-width="1.8" stroke-linejoin="round"/>
<path d="M1676.5 1010.7L1677.0 1008.9L1677.3 1012.3L1677.8 1010.7M1677.9 1010.7L1678.4 1008.7L1678.7 1013.1L1679.2 1010.7M1680.4 1010.7L1680.9 1008.3L1681.2 1012.5L1681.7 1010.7M1981.4 1011.4L1981.9 1009.3L1982.2 1012.8L1982.7 1011.4M1983.2 1011.4L1983.7 1009.9L1984.0 1013.7L1984.5 1011.4M1984.1 1011.4L1984.6 1009.9L1984.9 1013.3L1985.4 1011.4M1641.0 1010.8L1641.5 1009.1L1641.8 1012.3L1642.3 1010.8M1622.3 1010.9L1622.8 1009.0L1623.1 1013.3L1623.6 1010.9M1964.1 1011.5L1964.6 1009.6L1964.9 1013.6L1965.4 1011.5M1965.1 1011.5L1965.6 1009.9L1965.9 1013.4L1966.4 1011.5M1586.3 1010.9L1586.8 1008.6L1587.1 1013.1L1587.6 1010.9M1588.7 1010.9L1589.2 1008.6L1589.5 1013.0L1590.0 1010.9M1590.4 1010.9L1590.9 1009.3L1591.2 1013.4L1591.7 1010.9M1675.1 1010.7L1675.6 1008.2L1675.9 1012.9L1676.4 1010.7M1676.1 1010.7L1676.6 1009.3L1676.9 1013.0L1677.4 1010.7M1677.2 1010.7L1677.7 1008.4L1678.0 1012.1L1678.5 1010.7M1584.7 1010.9L1585.2 1009.3L1585.5 1012.6L1586.0 1010.9M1586.6 1010.9L1587.1 1008.7L1587.4 1012.4L1587.9 1010.9M1589.1 1010.9L1589.6 1008.5L1589.9 1013.3L1590.4 1010.9" fill="none" stroke="#108443" stroke-width="1.0" stroke-linejoin="round"/>
<line x1="1546.1" y1="1027.1" x2="1546.1" y2="1035.6" stroke="#000" stroke-width="1.6"/>
<text x="1544.7" y="1069.3" font-size="34" text-anchor="middle" fill="#000" stroke="#000">3100</text>
<line x1="1637.8" y1="1027.1" x2="1637.8" y2="1035.6" stroke="#000" stroke-width="1.6"/>
<text x="1636.4" y="1069.3" font-size="34" text-anchor="middle" fill="#000" stroke="#000">3200</text>
<line x1="1729.4" y1="1027.1" x2="1729.4" y2="1035.6" stroke="#000" stroke-width="1.6"/>
<text x="1728.0" y="1069.3" font-size="34" text-anchor="middle" fill="#000" stroke="#000">3300</text>
<line x1="1821.1" y1="1027.1" x2="1821.1" y2="1035.6" stroke="#000" stroke-width="1.6"/>
<text x="1819.7" y="1069.3" font-size="34" text-anchor="middle" fill="#000" stroke="#000">3400</text>
<line x1="1912.7" y1="1027.1" x2="1912.7" y2="1035.6" stroke="#000" stroke-width="1.6"/>
<text x="1911.3" y="1069.3" font-size="34" text-anchor="middle" fill="#000" stroke="#000">3500</text>
<line x1="2004.4" y1="1027.1" x2="2004.4" y2="1035.6" stroke="#000" stroke-width="1.6"/>
<text x="2003.0" y="1069.3" font-size="34" text-anchor="middle" fill="#000" stroke="#000">3600</text>
<line x1="1500.3" y1="1027.1" x2="1500.3" y2="1032.1" stroke="#000" stroke-width="1.6"/>
<line x1="1591.9" y1="1027.1" x2="1591.9" y2="1032.1" stroke="#000" stroke-width="1.6"/>
<line x1="1683.6" y1="1027.1" x2="1683.6" y2="1032.1" stroke="#000" stroke-width="1.6"/>
<line x1="1775.2" y1="1027.1" x2="1775.2" y2="1032.1" stroke="#000" stroke-width="1.6"/>
<line x1="1866.9" y1="1027.1" x2="1866.9" y2="1032.1" stroke="#000" stroke-width="1.6"/>
<line x1="1958.5" y1="1027.1" x2="1958.5" y2="1032.1" stroke="#000" stroke-width="1.6"/>
<line x1="2050.2" y1="1027.1" x2="2050.2" y2="1032.1" stroke="#000" stroke-width="1.6"/>
<line x1="1491.8" y1="622.4" x2="1500.3" y2="622.4" stroke="#000" stroke-width="1.6"/>
<text x="1479.7" y="630.3" font-size="34" text-anchor="end" fill="#000" stroke="#000">60</text>
<line x1="1491.8" y1="662.9" x2="1500.3" y2="662.9" stroke="#000" stroke-width="1.6"/>
<text x="1479.7" y="670.8" font-size="34" text-anchor="end" fill="#000" stroke="#000">40</text>
<line x1="1491.8" y1="703.3" x2="1500.3" y2="703.3" stroke="#000" stroke-width="1.6"/>
<text x="1479.7" y="711.2" font-size="34" text-anchor="end" fill="#000" stroke="#000">20</text>
<line x1="1491.8" y1="743.8" x2="1500.3" y2="743.8" stroke="#000" stroke-width="1.6"/>
<text x="1479.7" y="751.7" font-size="34" text-anchor="end" fill="#000" stroke="#000">0</text>
<line x1="1491.8" y1="784.3" x2="1500.3" y2="784.3" stroke="#000" stroke-width="1.6"/>
<text x="1482.8" y="792.2" font-size="34" text-anchor="end" fill="#000" stroke="#000">-20</text>
<line x1="1491.8" y1="824.8" x2="1500.3" y2="824.8" stroke="#000" stroke-width="1.6"/>
<text x="1482.8" y="832.6" font-size="34" text-anchor="end" fill="#000" stroke="#000">-40</text>
<line x1="1491.8" y1="865.2" x2="1500.3" y2="865.2" stroke="#000" stroke-width="1.6"/>
<text x="1482.8" y="873.1" font-size="34" text-anchor="end" fill="#000" stroke="#000">-60</text>
<line x1="1491.8" y1="905.7" x2="1500.3" y2="905.7" stroke="#000" stroke-width="1.6"/>
<text x="1482.8" y="913.6" font-size="34" text-anchor="end" fill="#000" stroke="#000">-80</text>
<line x1="1491.8" y1="946.2" x2="1500.3" y2="946.2" stroke="#000" stroke-width="1.6"/>
<text x="1486.8" y="954.1" font-size="34" text-anchor="end" fill="#000" stroke="#000">-100</text>
<line x1="1491.8" y1="986.6" x2="1500.3" y2="986.6" stroke="#000" stroke-width="1.6"/>
<text x="1486.8" y="994.5" font-size="34" text-anchor="end" fill="#000" stroke="#000">-120</text>
<line x1="1491.8" y1="1027.1" x2="1500.3" y2="1027.1" stroke="#000" stroke-width="1.6"/>
<text x="1486.8" y="1035.0" font-size="34" text-anchor="end" fill="#000" stroke="#000">-140</text>
<line x1="1495.3" y1="642.6" x2="1500.3" y2="642.6" stroke="#000" stroke-width="1.6"/>
<line x1="1495.3" y1="683.1" x2="1500.3" y2="683.1" stroke="#000" stroke-width="1.6"/>
<line x1="1495.3" y1="723.6" x2="1500.3" y2="723.6" stroke="#000" stroke-width="1.6"/>
<line x1="1495.3" y1="764.0" x2="1500.3" y2="764.0" stroke="#000" stroke-width="1.6"/>
<line x1="1495.3" y1="804.5" x2="1500.3" y2="804.5" stroke="#000" stroke-width="1.6"/>
<line x1="1495.3" y1="845.0" x2="1500.3" y2="845.0" stroke="#000" stroke-width="1.6"/>
<line x1="1495.3" y1="885.5" x2="1500.3" y2="885.5" stroke="#000" stroke-width="1.6"/>
<line x1="1495.3" y1="925.9" x2="1500.3" y2="925.9" stroke="#000" stroke-width="1.6"/>
<line x1="1495.3" y1="966.4" x2="1500.3" y2="966.4" stroke="#000" stroke-width="1.6"/>
<line x1="1495.3" y1="1006.9" x2="1500.3" y2="1006.9" stroke="#000" stroke-width="1.6"/>
<rect x="1500.3" y="622.4" width="549.9" height="404.7" fill="none" stroke="#000" stroke-width="1.6"/>
<text x="1380.0" y="603.0" font-size="48" text-anchor="start" fill="#000" stroke="#000">f</text>
<text x="1515.5" y="660.3" font-size="34.3" text-anchor="start" fill="#231F20" stroke="#231F20">HC1000-400-5h</text>
<text x="2035.6" y="660.5" font-size="31.5" text-anchor="end" fill="#000" stroke="#000">10 K</text>
<text x="1947.2" y="732.0" font-size="31.1" text-anchor="start" fill="#8E8E8E" stroke="#8E8E8E">Raw</text>
<text x="1960.2" y="803.0" font-size="31.1" text-anchor="start" fill="#000" stroke="#000">Fit</text>
<text x="1938.2" y="868.0" font-size="31.1" text-anchor="start" fill="#F5821F" stroke="#F5821F">Broad</text>
<text x="1929.2" y="915.0" font-size="31.1" text-anchor="start" fill="#3A55A5" stroke="#3A55A5">Narrow</text>
<text x="1920.2" y="1002.0" font-size="31.1" text-anchor="start" fill="#108443" stroke="#108443">Residual</text>
<text transform="translate(1409.0 835.0) rotate(-90)" font-size="38" text-anchor="middle" fill="#000" stroke="#000">Intensity (arb. units)</text>
<text x="1808.0" y="1112.3" font-size="38" text-anchor="middle" fill="#000" stroke="#000">Magnetic Field (G)</text></g>
</svg>
</body></html>
